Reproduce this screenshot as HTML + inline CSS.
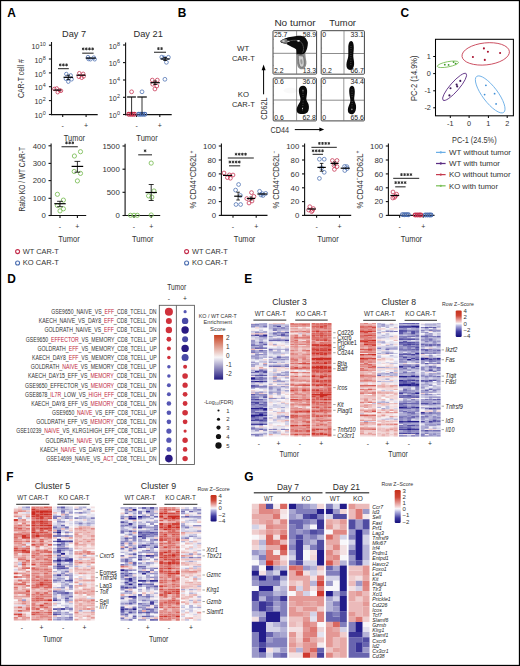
<!DOCTYPE html>
<html><head><meta charset="utf-8"><style>
html,body{margin:0;padding:0;background:#fff;}
svg{display:block;}
text{font-family:"Liberation Sans", sans-serif;}
</style></head><body>
<svg width="520" height="666" viewBox="0 0 520 666">
<rect width="520" height="666" fill="#fff"/>
<rect x="0.5" y="0.5" width="519" height="665" fill="none" stroke="#000" stroke-width="1.3"/>
<text x="7.20" y="16.60" font-size="11.90" fill="#000" font-weight="bold" >A</text>
<text x="177.80" y="16.90" font-size="11.90" fill="#000" font-weight="bold" >B</text>
<text x="400.60" y="16.60" font-size="11.90" fill="#000" font-weight="bold" >C</text>
<text x="7.20" y="282.60" font-size="11.90" fill="#000" font-weight="bold" >D</text>
<text x="244.30" y="283.00" font-size="11.90" fill="#000" font-weight="bold" >E</text>
<text x="6.30" y="481.20" font-size="11.90" fill="#000" font-weight="bold" >F</text>
<text x="244.30" y="481.00" font-size="11.90" fill="#000" font-weight="bold" >G</text>
<text x="74.00" y="36.70" font-size="8.90" fill="#2b2b2b" text-anchor="middle" textLength="24.00" lengthAdjust="spacingAndGlyphs" >Day 7</text>
<text x="148.20" y="36.70" font-size="8.90" fill="#2b2b2b" text-anchor="middle" textLength="29.40" lengthAdjust="spacingAndGlyphs" >Day 21</text>
<line x1="51.50" y1="42.00" x2="51.50" y2="115.15" stroke="#111" stroke-width="1.1"/>
<line x1="48.90" y1="45.20" x2="51.50" y2="45.20" stroke="#111" stroke-width="1.1"/>
<line x1="48.90" y1="59.00" x2="51.50" y2="59.00" stroke="#111" stroke-width="1.1"/>
<line x1="48.90" y1="72.90" x2="51.50" y2="72.90" stroke="#111" stroke-width="1.1"/>
<line x1="48.90" y1="86.70" x2="51.50" y2="86.70" stroke="#111" stroke-width="1.1"/>
<line x1="48.90" y1="100.60" x2="51.50" y2="100.60" stroke="#111" stroke-width="1.1"/>
<line x1="48.90" y1="114.50" x2="51.50" y2="114.50" stroke="#111" stroke-width="1.1"/>
<text x="39.60" y="48.80" font-size="7.30" fill="#333" text-anchor="end" textLength="8.00" lengthAdjust="spacingAndGlyphs" >10</text>
<text x="39.70" y="45.90" font-size="5.70" fill="#333" textLength="6.00" lengthAdjust="spacingAndGlyphs" >10</text>
<text x="42.60" y="62.60" font-size="7.30" fill="#333" text-anchor="end" textLength="8.00" lengthAdjust="spacingAndGlyphs" >10</text>
<text x="42.70" y="59.70" font-size="5.70" fill="#333" textLength="3.00" lengthAdjust="spacingAndGlyphs" >8</text>
<text x="42.60" y="76.50" font-size="7.30" fill="#333" text-anchor="end" textLength="8.00" lengthAdjust="spacingAndGlyphs" >10</text>
<text x="42.70" y="73.60" font-size="5.70" fill="#333" textLength="3.00" lengthAdjust="spacingAndGlyphs" >6</text>
<text x="42.60" y="90.30" font-size="7.30" fill="#333" text-anchor="end" textLength="8.00" lengthAdjust="spacingAndGlyphs" >10</text>
<text x="42.70" y="87.40" font-size="5.70" fill="#333" textLength="3.00" lengthAdjust="spacingAndGlyphs" >4</text>
<text x="42.60" y="104.20" font-size="7.30" fill="#333" text-anchor="end" textLength="8.00" lengthAdjust="spacingAndGlyphs" >10</text>
<text x="42.70" y="101.30" font-size="5.70" fill="#333" textLength="3.00" lengthAdjust="spacingAndGlyphs" >2</text>
<text x="42.60" y="118.10" font-size="7.30" fill="#333" text-anchor="end" textLength="8.00" lengthAdjust="spacingAndGlyphs" >10</text>
<text x="42.70" y="115.20" font-size="5.70" fill="#333" textLength="3.00" lengthAdjust="spacingAndGlyphs" >0</text>
<line x1="50.95" y1="114.60" x2="97.70" y2="114.60" stroke="#111" stroke-width="1.1"/>
<line x1="62.70" y1="114.60" x2="62.70" y2="117.00" stroke="#111" stroke-width="1.1"/>
<line x1="86.10" y1="114.60" x2="86.10" y2="117.00" stroke="#111" stroke-width="1.1"/>
<text x="62.70" y="127.60" font-size="7.00" fill="#333" text-anchor="middle" >-</text>
<text x="86.10" y="127.60" font-size="7.00" fill="#333" text-anchor="middle" >+</text>
<text x="24.30" y="78.60" font-size="9.00" fill="#333" text-anchor="middle" textLength="39.00" lengthAdjust="spacingAndGlyphs" transform="rotate(-90 24.30 78.60)" >CAR-T cell #</text>
<circle cx="54.30" cy="88.90" r="1.75" fill="none" stroke="#c42f4d" stroke-width="0.75"/>
<circle cx="56.70" cy="88.40" r="1.75" fill="none" stroke="#c42f4d" stroke-width="0.75"/>
<circle cx="57.70" cy="92.20" r="1.75" fill="none" stroke="#c42f4d" stroke-width="0.75"/>
<circle cx="59.60" cy="90.30" r="1.75" fill="none" stroke="#c42f4d" stroke-width="0.75"/>
<circle cx="61.00" cy="90.80" r="1.75" fill="none" stroke="#c42f4d" stroke-width="0.75"/>
<line x1="53.40" y1="90.10" x2="61.20" y2="90.10" stroke="#000" stroke-width="1.2"/>
<circle cx="66.30" cy="74.00" r="1.75" fill="none" stroke="#4a6db0" stroke-width="0.75"/>
<circle cx="70.70" cy="75.40" r="1.75" fill="none" stroke="#4a6db0" stroke-width="0.75"/>
<circle cx="65.90" cy="78.80" r="1.75" fill="none" stroke="#4a6db0" stroke-width="0.75"/>
<circle cx="71.60" cy="79.30" r="1.75" fill="none" stroke="#4a6db0" stroke-width="0.75"/>
<circle cx="68.30" cy="81.70" r="1.75" fill="none" stroke="#4a6db0" stroke-width="0.75"/>
<line x1="63.50" y1="77.30" x2="73.10" y2="77.30" stroke="#000" stroke-width="1.2"/>
<line x1="68.30" y1="75.20" x2="68.30" y2="79.60" stroke="#000" stroke-width="0.8"/>
<line x1="66.50" y1="75.20" x2="70.10" y2="75.20" stroke="#000" stroke-width="0.8"/>
<line x1="66.50" y1="79.60" x2="70.10" y2="79.60" stroke="#000" stroke-width="0.8"/>
<circle cx="79.30" cy="73.20" r="1.75" fill="none" stroke="#c42f4d" stroke-width="0.75"/>
<circle cx="83.20" cy="73.80" r="1.75" fill="none" stroke="#c42f4d" stroke-width="0.75"/>
<circle cx="78.80" cy="76.80" r="1.75" fill="none" stroke="#c42f4d" stroke-width="0.75"/>
<circle cx="81.70" cy="77.80" r="1.75" fill="none" stroke="#c42f4d" stroke-width="0.75"/>
<circle cx="83.70" cy="76.40" r="1.75" fill="none" stroke="#c42f4d" stroke-width="0.75"/>
<line x1="76.40" y1="75.20" x2="85.60" y2="75.20" stroke="#000" stroke-width="1.2"/>
<circle cx="88.00" cy="57.10" r="1.75" fill="none" stroke="#4a6db0" stroke-width="0.75"/>
<circle cx="90.40" cy="59.30" r="1.75" fill="none" stroke="#4a6db0" stroke-width="0.75"/>
<circle cx="93.80" cy="57.60" r="1.75" fill="none" stroke="#4a6db0" stroke-width="0.75"/>
<circle cx="94.70" cy="59.30" r="1.75" fill="none" stroke="#4a6db0" stroke-width="0.75"/>
<circle cx="88.50" cy="59.00" r="1.75" fill="none" stroke="#4a6db0" stroke-width="0.75"/>
<line x1="85.70" y1="58.10" x2="95.70" y2="58.10" stroke="#000" stroke-width="1.2"/>
<line x1="58.00" y1="68.60" x2="68.80" y2="68.60" stroke="#4a4a4a" stroke-width="1.25"/>
<path d="M60.25 63.50L60.25 66.30M59.04 64.20L61.46 65.60M59.04 65.60L61.46 64.20" stroke="#333" stroke-width="1.0" fill="none"/>
<path d="M63.40 63.50L63.40 66.30M62.19 64.20L64.61 65.60M62.19 65.60L64.61 64.20" stroke="#333" stroke-width="1.0" fill="none"/>
<path d="M66.55 63.50L66.55 66.30M65.34 64.20L67.76 65.60M65.34 65.60L67.76 64.20" stroke="#333" stroke-width="1.0" fill="none"/>
<line x1="82.20" y1="53.20" x2="93.60" y2="53.20" stroke="#4a4a4a" stroke-width="1.25"/>
<path d="M83.18 47.50L83.18 50.30M81.96 48.20L84.39 49.60M81.96 49.60L84.39 48.20" stroke="#333" stroke-width="1.0" fill="none"/>
<path d="M86.33 47.50L86.33 50.30M85.11 48.20L87.54 49.60M85.11 49.60L87.54 48.20" stroke="#333" stroke-width="1.0" fill="none"/>
<path d="M89.48 47.50L89.48 50.30M88.26 48.20L90.69 49.60M88.26 49.60L90.69 48.20" stroke="#333" stroke-width="1.0" fill="none"/>
<path d="M92.63 47.50L92.63 50.30M91.41 48.20L93.84 49.60M91.41 49.60L93.84 48.20" stroke="#333" stroke-width="1.0" fill="none"/>
<line x1="125.60" y1="42.40" x2="125.60" y2="115.15" stroke="#111" stroke-width="1.1"/>
<line x1="123.00" y1="45.00" x2="125.60" y2="45.00" stroke="#111" stroke-width="1.1"/>
<line x1="123.00" y1="62.60" x2="125.60" y2="62.60" stroke="#111" stroke-width="1.1"/>
<line x1="123.00" y1="80.00" x2="125.60" y2="80.00" stroke="#111" stroke-width="1.1"/>
<line x1="123.00" y1="97.30" x2="125.60" y2="97.30" stroke="#111" stroke-width="1.1"/>
<line x1="123.00" y1="114.50" x2="125.60" y2="114.50" stroke="#111" stroke-width="1.1"/>
<text x="116.80" y="48.60" font-size="7.30" fill="#333" text-anchor="end" textLength="8.00" lengthAdjust="spacingAndGlyphs" >10</text>
<text x="116.90" y="45.70" font-size="5.70" fill="#333" textLength="3.00" lengthAdjust="spacingAndGlyphs" >8</text>
<text x="116.80" y="66.20" font-size="7.30" fill="#333" text-anchor="end" textLength="8.00" lengthAdjust="spacingAndGlyphs" >10</text>
<text x="116.90" y="63.30" font-size="5.70" fill="#333" textLength="3.00" lengthAdjust="spacingAndGlyphs" >6</text>
<text x="116.80" y="83.60" font-size="7.30" fill="#333" text-anchor="end" textLength="8.00" lengthAdjust="spacingAndGlyphs" >10</text>
<text x="116.90" y="80.70" font-size="5.70" fill="#333" textLength="3.00" lengthAdjust="spacingAndGlyphs" >4</text>
<text x="116.80" y="100.90" font-size="7.30" fill="#333" text-anchor="end" textLength="8.00" lengthAdjust="spacingAndGlyphs" >10</text>
<text x="116.90" y="98.00" font-size="5.70" fill="#333" textLength="3.00" lengthAdjust="spacingAndGlyphs" >2</text>
<text x="116.80" y="118.10" font-size="7.30" fill="#333" text-anchor="end" textLength="8.00" lengthAdjust="spacingAndGlyphs" >10</text>
<text x="116.90" y="115.20" font-size="5.70" fill="#333" textLength="3.00" lengthAdjust="spacingAndGlyphs" >0</text>
<line x1="125.05" y1="114.60" x2="171.70" y2="114.60" stroke="#111" stroke-width="1.1"/>
<line x1="136.60" y1="114.60" x2="136.60" y2="117.00" stroke="#111" stroke-width="1.1"/>
<line x1="159.80" y1="114.60" x2="159.80" y2="117.00" stroke="#111" stroke-width="1.1"/>
<text x="136.60" y="127.60" font-size="7.00" fill="#333" text-anchor="middle" >-</text>
<text x="159.80" y="127.60" font-size="7.00" fill="#333" text-anchor="middle" >+</text>
<circle cx="131.60" cy="91.80" r="1.90" fill="none" stroke="#c42f4d" stroke-width="0.75"/>
<circle cx="128.80" cy="114.30" r="1.90" fill="none" stroke="#c42f4d" stroke-width="1.1"/>
<circle cx="130.80" cy="114.30" r="1.90" fill="none" stroke="#c42f4d" stroke-width="1.1"/>
<circle cx="132.60" cy="114.30" r="1.90" fill="none" stroke="#c42f4d" stroke-width="1.1"/>
<circle cx="134.40" cy="114.30" r="1.90" fill="none" stroke="#c42f4d" stroke-width="1.1"/>
<line x1="131.60" y1="97.00" x2="131.60" y2="114.30" stroke="#000" stroke-width="0.8"/>
<line x1="127.10" y1="97.00" x2="135.90" y2="97.00" stroke="#000" stroke-width="1.2"/>
<circle cx="142.00" cy="91.80" r="1.90" fill="none" stroke="#4a6db0" stroke-width="0.75"/>
<circle cx="138.80" cy="114.30" r="1.90" fill="none" stroke="#4a6db0" stroke-width="1.1"/>
<circle cx="140.80" cy="114.30" r="1.90" fill="none" stroke="#4a6db0" stroke-width="1.1"/>
<circle cx="142.80" cy="114.30" r="1.90" fill="none" stroke="#4a6db0" stroke-width="1.1"/>
<circle cx="144.80" cy="114.30" r="1.90" fill="none" stroke="#4a6db0" stroke-width="1.1"/>
<line x1="142.00" y1="97.00" x2="142.00" y2="114.30" stroke="#000" stroke-width="0.8"/>
<line x1="137.30" y1="97.00" x2="146.80" y2="97.00" stroke="#000" stroke-width="1.2"/>
<circle cx="152.30" cy="80.10" r="1.90" fill="none" stroke="#c42f4d" stroke-width="0.75"/>
<circle cx="157.30" cy="80.10" r="1.90" fill="none" stroke="#c42f4d" stroke-width="0.75"/>
<circle cx="152.70" cy="84.20" r="1.90" fill="none" stroke="#c42f4d" stroke-width="0.75"/>
<circle cx="156.80" cy="86.00" r="1.90" fill="none" stroke="#c42f4d" stroke-width="0.75"/>
<circle cx="154.90" cy="89.00" r="1.90" fill="none" stroke="#c42f4d" stroke-width="0.75"/>
<line x1="150.40" y1="82.70" x2="159.80" y2="82.70" stroke="#000" stroke-width="1.2"/>
<line x1="155.10" y1="81.00" x2="155.10" y2="84.50" stroke="#000" stroke-width="0.8"/>
<line x1="153.30" y1="81.00" x2="156.90" y2="81.00" stroke="#000" stroke-width="0.8"/>
<line x1="153.30" y1="84.50" x2="156.90" y2="84.50" stroke="#000" stroke-width="0.8"/>
<circle cx="161.80" cy="57.10" r="1.90" fill="none" stroke="#4a6db0" stroke-width="0.75"/>
<circle cx="168.40" cy="57.30" r="1.90" fill="none" stroke="#4a6db0" stroke-width="0.75"/>
<circle cx="166.40" cy="62.30" r="1.90" fill="none" stroke="#4a6db0" stroke-width="0.75"/>
<circle cx="164.90" cy="79.30" r="1.90" fill="none" stroke="#4a6db0" stroke-width="0.75"/>
<circle cx="164.00" cy="57.90" r="1.90" fill="none" stroke="#4a6db0" stroke-width="0.75"/>
<line x1="160.60" y1="59.00" x2="169.60" y2="59.00" stroke="#000" stroke-width="1.2"/>
<line x1="165.10" y1="57.50" x2="165.10" y2="60.50" stroke="#000" stroke-width="0.8"/>
<line x1="163.30" y1="57.50" x2="166.90" y2="57.50" stroke="#000" stroke-width="0.8"/>
<line x1="163.30" y1="60.50" x2="166.90" y2="60.50" stroke="#000" stroke-width="0.8"/>
<line x1="154.00" y1="52.30" x2="166.00" y2="52.30" stroke="#4a4a4a" stroke-width="1.25"/>
<path d="M158.43 47.20L158.43 50.00M157.21 47.90L159.64 49.30M157.21 49.30L159.64 47.90" stroke="#333" stroke-width="1.0" fill="none"/>
<path d="M161.58 47.20L161.58 50.00M160.36 47.90L162.79 49.30M160.36 49.30L162.79 47.90" stroke="#333" stroke-width="1.0" fill="none"/>
<text x="74.40" y="140.80" font-size="9.70" fill="#333" text-anchor="middle" textLength="21.30" lengthAdjust="spacingAndGlyphs" >Tumor</text>
<text x="147.00" y="140.80" font-size="9.70" fill="#333" text-anchor="middle" textLength="21.30" lengthAdjust="spacingAndGlyphs" >Tumor</text>
<line x1="51.10" y1="143.40" x2="51.10" y2="216.05" stroke="#111" stroke-width="1.1"/>
<line x1="48.50" y1="145.80" x2="51.10" y2="145.80" stroke="#111" stroke-width="1.1"/>
<text x="45.80" y="148.60" font-size="7.80" fill="#333" text-anchor="end" >400</text>
<line x1="48.50" y1="163.40" x2="51.10" y2="163.40" stroke="#111" stroke-width="1.1"/>
<text x="45.80" y="166.20" font-size="7.80" fill="#333" text-anchor="end" >300</text>
<line x1="48.50" y1="180.60" x2="51.10" y2="180.60" stroke="#111" stroke-width="1.1"/>
<text x="45.80" y="183.40" font-size="7.80" fill="#333" text-anchor="end" >200</text>
<line x1="48.50" y1="198.30" x2="51.10" y2="198.30" stroke="#111" stroke-width="1.1"/>
<text x="45.80" y="201.10" font-size="7.80" fill="#333" text-anchor="end" >100</text>
<line x1="48.50" y1="215.50" x2="51.10" y2="215.50" stroke="#111" stroke-width="1.1"/>
<text x="45.80" y="218.30" font-size="7.80" fill="#333" text-anchor="end" >0</text>
<line x1="50.55" y1="215.50" x2="86.20" y2="215.50" stroke="#111" stroke-width="1.1"/>
<line x1="60.00" y1="215.50" x2="60.00" y2="217.90" stroke="#111" stroke-width="1.1"/>
<line x1="77.40" y1="215.50" x2="77.40" y2="217.90" stroke="#111" stroke-width="1.1"/>
<text x="60.00" y="228.60" font-size="7.00" fill="#333" text-anchor="middle" >-</text>
<text x="77.40" y="228.60" font-size="7.00" fill="#333" text-anchor="middle" >+</text>
<text x="25.00" y="179.20" font-size="8.60" fill="#333" text-anchor="middle" textLength="64.60" lengthAdjust="spacingAndGlyphs" transform="rotate(-90 25.00 179.20)" >Ratio KO / WT CAR-T</text>
<circle cx="57.40" cy="194.30" r="2.10" fill="none" stroke="#7abd55" stroke-width="0.85"/>
<circle cx="63.40" cy="200.10" r="2.10" fill="none" stroke="#7abd55" stroke-width="0.85"/>
<circle cx="57.40" cy="205.50" r="2.10" fill="none" stroke="#7abd55" stroke-width="0.85"/>
<circle cx="63.40" cy="208.80" r="2.10" fill="none" stroke="#7abd55" stroke-width="0.85"/>
<circle cx="60.00" cy="210.90" r="2.10" fill="none" stroke="#7abd55" stroke-width="0.85"/>
<line x1="54.30" y1="203.70" x2="65.70" y2="203.70" stroke="#000" stroke-width="1.2"/>
<line x1="60.00" y1="201.30" x2="60.00" y2="206.70" stroke="#000" stroke-width="0.8"/>
<line x1="57.10" y1="201.30" x2="62.90" y2="201.30" stroke="#000" stroke-width="0.8"/>
<line x1="57.10" y1="206.70" x2="62.90" y2="206.70" stroke="#000" stroke-width="0.8"/>
<circle cx="80.50" cy="151.70" r="2.10" fill="none" stroke="#7abd55" stroke-width="0.85"/>
<circle cx="74.40" cy="156.00" r="2.10" fill="none" stroke="#7abd55" stroke-width="0.85"/>
<circle cx="74.20" cy="171.50" r="2.10" fill="none" stroke="#7abd55" stroke-width="0.85"/>
<circle cx="80.50" cy="173.40" r="2.10" fill="none" stroke="#7abd55" stroke-width="0.85"/>
<circle cx="77.40" cy="180.90" r="2.10" fill="none" stroke="#7abd55" stroke-width="0.85"/>
<line x1="71.60" y1="166.40" x2="83.20" y2="166.40" stroke="#000" stroke-width="1.2"/>
<line x1="77.40" y1="161.40" x2="77.40" y2="172.20" stroke="#000" stroke-width="0.8"/>
<line x1="74.50" y1="161.40" x2="80.30" y2="161.40" stroke="#000" stroke-width="0.8"/>
<line x1="74.50" y1="172.20" x2="80.30" y2="172.20" stroke="#000" stroke-width="0.8"/>
<line x1="61.50" y1="146.70" x2="77.80" y2="146.70" stroke="#4a4a4a" stroke-width="1.25"/>
<path d="M66.50 141.40L66.50 144.20M65.29 142.10L67.71 143.50M65.29 143.50L67.71 142.10" stroke="#333" stroke-width="1.0" fill="none"/>
<path d="M69.65 141.40L69.65 144.20M68.44 142.10L70.86 143.50M68.44 143.50L70.86 142.10" stroke="#333" stroke-width="1.0" fill="none"/>
<path d="M72.80 141.40L72.80 144.20M71.59 142.10L74.01 143.50M71.59 143.50L74.01 142.10" stroke="#333" stroke-width="1.0" fill="none"/>
<line x1="125.10" y1="143.80" x2="125.10" y2="216.05" stroke="#111" stroke-width="1.1"/>
<line x1="122.50" y1="146.00" x2="125.10" y2="146.00" stroke="#111" stroke-width="1.1"/>
<text x="119.80" y="148.80" font-size="7.80" fill="#333" text-anchor="end" >1500</text>
<line x1="122.50" y1="169.20" x2="125.10" y2="169.20" stroke="#111" stroke-width="1.1"/>
<text x="119.80" y="172.00" font-size="7.80" fill="#333" text-anchor="end" >1000</text>
<line x1="122.50" y1="192.30" x2="125.10" y2="192.30" stroke="#111" stroke-width="1.1"/>
<text x="119.80" y="195.10" font-size="7.80" fill="#333" text-anchor="end" >500</text>
<line x1="122.50" y1="215.50" x2="125.10" y2="215.50" stroke="#111" stroke-width="1.1"/>
<text x="119.80" y="218.30" font-size="7.80" fill="#333" text-anchor="end" >0</text>
<line x1="124.55" y1="215.50" x2="160.20" y2="215.50" stroke="#111" stroke-width="1.1"/>
<line x1="134.00" y1="215.50" x2="134.00" y2="217.90" stroke="#111" stroke-width="1.1"/>
<line x1="151.20" y1="215.50" x2="151.20" y2="217.90" stroke="#111" stroke-width="1.1"/>
<text x="134.00" y="228.60" font-size="7.00" fill="#333" text-anchor="middle" >-</text>
<text x="151.20" y="228.60" font-size="7.00" fill="#333" text-anchor="middle" >+</text>
<circle cx="130.50" cy="215.30" r="2.10" fill="none" stroke="#7abd55" stroke-width="0.85"/>
<circle cx="134.00" cy="215.30" r="2.10" fill="none" stroke="#7abd55" stroke-width="0.85"/>
<circle cx="137.30" cy="215.30" r="2.10" fill="none" stroke="#7abd55" stroke-width="0.85"/>
<circle cx="151.20" cy="163.10" r="2.10" fill="none" stroke="#7abd55" stroke-width="0.85"/>
<circle cx="154.00" cy="191.00" r="2.10" fill="none" stroke="#7abd55" stroke-width="0.85"/>
<circle cx="148.60" cy="195.90" r="2.10" fill="none" stroke="#7abd55" stroke-width="0.85"/>
<circle cx="151.80" cy="197.10" r="2.10" fill="none" stroke="#7abd55" stroke-width="0.85"/>
<circle cx="151.20" cy="215.00" r="2.10" fill="none" stroke="#7abd55" stroke-width="0.85"/>
<line x1="145.50" y1="192.50" x2="156.90" y2="192.50" stroke="#000" stroke-width="1.2"/>
<line x1="151.20" y1="184.50" x2="151.20" y2="200.50" stroke="#000" stroke-width="0.8"/>
<line x1="148.70" y1="184.50" x2="153.70" y2="184.50" stroke="#000" stroke-width="0.8"/>
<line x1="148.70" y1="200.50" x2="153.70" y2="200.50" stroke="#000" stroke-width="0.8"/>
<line x1="138.20" y1="154.80" x2="152.00" y2="154.80" stroke="#4a4a4a" stroke-width="1.25"/>
<path d="M145.10 149.40L145.10 152.20M143.89 150.10L146.31 151.50M143.89 151.50L146.31 150.10" stroke="#333" stroke-width="1.0" fill="none"/>
<text x="69.00" y="241.60" font-size="9.70" fill="#333" text-anchor="middle" textLength="21.50" lengthAdjust="spacingAndGlyphs" >Tumor</text>
<text x="142.80" y="241.60" font-size="9.70" fill="#333" text-anchor="middle" textLength="21.50" lengthAdjust="spacingAndGlyphs" >Tumor</text>
<circle cx="17.60" cy="251.60" r="2.00" fill="none" stroke="#c42f4d" stroke-width="1.1"/>
<text x="22.80" y="253.90" font-size="7.60" fill="#333" textLength="36.00" lengthAdjust="spacingAndGlyphs" >WT CAR-T</text>
<circle cx="17.60" cy="263.00" r="2.00" fill="none" stroke="#4a6db0" stroke-width="1.1"/>
<text x="22.80" y="265.10" font-size="7.60" fill="#333" textLength="36.00" lengthAdjust="spacingAndGlyphs" >KO CAR-T</text>
<text x="295.00" y="25.60" font-size="8.80" fill="#2b2b2b" text-anchor="middle" textLength="41.20" lengthAdjust="spacingAndGlyphs" >No tumor</text>
<text x="342.60" y="25.60" font-size="8.80" fill="#2b2b2b" text-anchor="middle" textLength="26.80" lengthAdjust="spacingAndGlyphs" >Tumor</text>
<text x="243.20" y="51.00" font-size="7.40" fill="#2b2b2b" text-anchor="middle" textLength="12.20" lengthAdjust="spacingAndGlyphs" >WT</text>
<text x="243.40" y="61.00" font-size="8.00" fill="#2b2b2b" text-anchor="middle" textLength="23.00" lengthAdjust="spacingAndGlyphs" >CAR-T</text>
<text x="243.40" y="97.10" font-size="7.40" fill="#2b2b2b" text-anchor="middle" textLength="11.20" lengthAdjust="spacingAndGlyphs" >KO</text>
<text x="243.40" y="107.10" font-size="8.00" fill="#2b2b2b" text-anchor="middle" textLength="23.00" lengthAdjust="spacingAndGlyphs" >CAR-T</text>
<line x1="263.60" y1="69.00" x2="263.60" y2="94.30" stroke="#000" stroke-width="1.0"/>
<path d="M263.6,64.6 L261.6,70.3 L265.6,70.3 Z" fill="#000"/>
<text x="267.00" y="108.60" font-size="9.40" fill="#333" text-anchor="middle" textLength="22.40" lengthAdjust="spacingAndGlyphs" transform="rotate(-90 267.00 108.60)" >CD62L</text>
<text x="270.40" y="132.60" font-size="9.40" fill="#333" textLength="18.60" lengthAdjust="spacingAndGlyphs" >CD44</text>
<line x1="294.80" y1="129.60" x2="320.50" y2="129.60" stroke="#000" stroke-width="1.0"/>
<path d="M324.2,129.6 L319.4,127.6 L319.4,131.6 Z" fill="#000"/>
<rect x="273.00" y="30.70" width="43.60" height="43.40" fill="#fff" stroke="#444" stroke-width="1.0" rx="0.8"/>
<line x1="296.60" y1="30.70" x2="296.60" y2="74.10" stroke="#777" stroke-width="0.75"/>
<line x1="273.00" y1="53.30" x2="316.60" y2="53.30" stroke="#666" stroke-width="0.75"/>
<line x1="273.00" y1="39.38" x2="273.90" y2="39.38" stroke="#666" stroke-width="0.5"/>
<line x1="273.00" y1="48.06" x2="273.90" y2="48.06" stroke="#666" stroke-width="0.5"/>
<line x1="273.00" y1="56.74" x2="273.90" y2="56.74" stroke="#666" stroke-width="0.5"/>
<line x1="273.00" y1="65.42" x2="273.90" y2="65.42" stroke="#666" stroke-width="0.5"/>
<text x="274.00" y="36.80" font-size="6.90" fill="#222" >25.7</text>
<text x="316.10" y="36.80" font-size="6.90" fill="#222" text-anchor="end" >58.9</text>
<text x="274.00" y="72.80" font-size="6.90" fill="#222" >2.2</text>
<text x="316.10" y="72.80" font-size="6.90" fill="#222" text-anchor="end" >13.3</text>
<rect x="321.20" y="30.70" width="43.20" height="43.50" fill="#fff" stroke="#444" stroke-width="1.0" rx="0.8"/>
<line x1="344.00" y1="30.70" x2="344.00" y2="74.20" stroke="#777" stroke-width="0.75"/>
<line x1="321.20" y1="53.50" x2="364.40" y2="53.50" stroke="#666" stroke-width="0.75"/>
<line x1="321.20" y1="39.40" x2="322.10" y2="39.40" stroke="#666" stroke-width="0.5"/>
<line x1="321.20" y1="48.10" x2="322.10" y2="48.10" stroke="#666" stroke-width="0.5"/>
<line x1="321.20" y1="56.80" x2="322.10" y2="56.80" stroke="#666" stroke-width="0.5"/>
<line x1="321.20" y1="65.50" x2="322.10" y2="65.50" stroke="#666" stroke-width="0.5"/>
<text x="322.20" y="36.80" font-size="6.90" fill="#222" >0</text>
<text x="363.90" y="36.80" font-size="6.90" fill="#222" text-anchor="end" >33.1</text>
<text x="322.20" y="72.90" font-size="6.90" fill="#222" >0.2</text>
<text x="363.90" y="72.90" font-size="6.90" fill="#222" text-anchor="end" >66.7</text>
<rect x="273.20" y="78.00" width="43.20" height="42.90" fill="#fff" stroke="#444" stroke-width="1.0" rx="0.8"/>
<line x1="296.60" y1="78.00" x2="296.60" y2="120.90" stroke="#777" stroke-width="0.75"/>
<line x1="273.20" y1="100.00" x2="316.40" y2="100.00" stroke="#666" stroke-width="0.75"/>
<line x1="273.20" y1="86.58" x2="274.10" y2="86.58" stroke="#666" stroke-width="0.5"/>
<line x1="273.20" y1="95.16" x2="274.10" y2="95.16" stroke="#666" stroke-width="0.5"/>
<line x1="273.20" y1="103.74" x2="274.10" y2="103.74" stroke="#666" stroke-width="0.5"/>
<line x1="273.20" y1="112.32" x2="274.10" y2="112.32" stroke="#666" stroke-width="0.5"/>
<text x="274.20" y="84.10" font-size="6.90" fill="#222" >0.6</text>
<text x="315.90" y="84.10" font-size="6.90" fill="#222" text-anchor="end" >36.0</text>
<text x="274.20" y="119.60" font-size="6.90" fill="#222" >0.6</text>
<text x="315.90" y="119.60" font-size="6.90" fill="#222" text-anchor="end" >62.8</text>
<rect x="321.20" y="78.00" width="43.20" height="42.90" fill="#fff" stroke="#444" stroke-width="1.0" rx="0.8"/>
<line x1="343.80" y1="78.00" x2="343.80" y2="120.90" stroke="#777" stroke-width="0.75"/>
<line x1="321.20" y1="100.20" x2="364.40" y2="100.20" stroke="#666" stroke-width="0.75"/>
<line x1="321.20" y1="86.58" x2="322.10" y2="86.58" stroke="#666" stroke-width="0.5"/>
<line x1="321.20" y1="95.16" x2="322.10" y2="95.16" stroke="#666" stroke-width="0.5"/>
<line x1="321.20" y1="103.74" x2="322.10" y2="103.74" stroke="#666" stroke-width="0.5"/>
<line x1="321.20" y1="112.32" x2="322.10" y2="112.32" stroke="#666" stroke-width="0.5"/>
<text x="322.20" y="84.10" font-size="6.90" fill="#222" >0</text>
<text x="363.90" y="84.10" font-size="6.90" fill="#222" text-anchor="end" >34.4</text>
<text x="322.20" y="119.60" font-size="6.90" fill="#222" >0</text>
<text x="363.90" y="119.60" font-size="6.90" fill="#222" text-anchor="end" >65.6</text>
<path d="M296.4,53.8 C296.6,57.5 296.6,62.5 297.6,66.2 C298.6,69.3 302.6,70.4 304.6,68.2 C306.8,65.6 306.7,61.8 306.0,59.5 C305.4,57 305.6,54.5 305.1,52.6 Z" fill="#8c8c8c"/>
<path d="M298.2,55.5 C298.4,59.5 298.6,63.6 299.8,66.0 C300.8,67.8 303.4,67.6 304.0,65.2 C304.6,62.7 303.9,59.5 303.5,56.2 Z" fill="#cfcfcf" stroke="#5e5e5e" stroke-width="0.7"/>
<path d="M300.3,59.5 C300.1,62.3 301.0,64.6 301.9,64.4 C302.8,64.0 302.6,61.4 302.0,59.2 Z" fill="#9a9a9a"/>
<path d="M280.2,41.0 C283,38.9 285,38.2 286.4,37.9 C289,37.1 291,36.7 293.3,36.5 C296,36.1 298,35.7 298.9,35.8 C301.5,35.9 302.8,36.2 303.7,36.5 C305.3,37.3 306.0,38.5 306.5,39.6 C307.4,41.3 307.9,42.3 307.9,43.1 C307.9,45 307.6,46.5 307.2,47.9 C306.6,50 305.8,51.8 305.1,52.8 C304,54.2 302,54.6 300.4,54.4 C298.8,54.3 297.2,54.1 296.4,54.2 C296.6,52.0 296.5,50.3 296.1,49.3 C294.8,48.2 293.4,47.5 291.9,46.9 C290,46 288.2,45.0 286.4,44.1 C284.8,43.6 283.4,43.4 282.2,43.1 C281,42.7 280.4,41.8 280.2,41.0 Z" fill="#0d0d0d"/>
<path d="M280.4,41.0 C281.8,39.4 284.2,38.8 286.6,38.9 C288.2,40.2 288.0,42.8 286.6,43.9 C284.6,43.6 281.8,42.8 280.4,41.0 Z" fill="#7a7a7a"/>
<ellipse cx="283.6" cy="41.1" rx="1.9" ry="1.0" fill="#e4e4e4" stroke="#666" stroke-width="0.5"/>
<path d="M288.2,41.3 C291.5,40.2 295,40.0 298,40.5 C300.8,41.1 302.6,43.2 303.4,46.8 C303.8,49.2 303.4,51.2 302.4,52.6" fill="none" stroke="#4a4a4a" stroke-width="1.0"/>
<ellipse cx="298.5" cy="40.8" rx="1.4" ry="0.9" fill="#f2f2f2"/>
<ellipse cx="288.4" cy="41.4" rx="1.2" ry="0.7" fill="#c8c8c8"/>
<path d="M351.2,41.1 C353.2,41.2 353.9,44.5 353.8,48 C353.7,51.5 353.2,54 353.3,56.5 C353.5,59 354.3,61.5 354.1,64.5 C353.9,68 352.0,70.1 350.0,70.0 C347.8,69.9 346.3,68 346.4,64.8 C346.5,61.5 347.9,59 348.2,56.5 C348.5,54 348.2,51 348.3,47.5 C348.4,44 349.3,41.1 351.2,41.1 Z" fill="#0a0a0a"/>
<path d="M351.0,46 L350.8,66" stroke="#aaa" stroke-width="0.5" stroke-dasharray="0.7,1.6"/>
<ellipse cx="290.5" cy="90.5" rx="7" ry="3" fill="#000" opacity="0.025"/>
<path d="M303.0,85.8 C305.4,85.8 306.9,87.5 307.1,90.5 C307.3,93.5 306.5,96.5 306.3,99.0 C306.4,100.8 307.6,102.3 308.5,104.2 C309.3,106.5 309.1,110 307.6,112.2 C306,114 302,114.2 299.4,113.8 C297.3,113.3 296.5,111.5 296.7,109 C297,106.5 298.6,104.3 299.8,102.2 C300.7,100.5 300.6,98.8 300.1,97.0 C299.3,94.5 298.7,92 298.9,89.6 C299.2,87.3 300.8,85.8 303.0,85.8 Z" fill="#0a0a0a"/>
<path d="M302.9,89.5 L303.1,97.5 M303.2,100.5 L302.5,110.5" stroke="#aaa" stroke-width="0.5" stroke-dasharray="0.7,1.6"/>
<circle cx="303.0" cy="90.8" r="0.55" fill="#ddd"/><circle cx="302.5" cy="108.6" r="0.55" fill="#ddd"/>
<path d="M352.0,85.7 C353.8,85.8 354.8,88 354.8,91.5 C354.8,95 354.1,97.5 354.2,99.4 C354.4,101.3 355.6,103 356.0,105.5 C356.4,109 355.6,112.5 353.2,113.9 C351.0,114.6 348.6,113.8 348.0,111.5 C347.5,109.2 348.4,106.5 349.5,104.0 C350.4,102 350.4,100.6 350.3,99.4 C350.0,97 349.2,94 349.2,91.0 C349.2,87.8 350.2,85.7 352.0,85.7 Z" fill="#0a0a0a"/>
<path d="M352.0,89.5 L352.1,97.5 M352.2,101 L351.8,110.5" stroke="#aaa" stroke-width="0.5" stroke-dasharray="0.7,1.6"/>
<circle cx="351.9" cy="109.4" r="0.55" fill="#ddd"/>
<line x1="221.40" y1="143.40" x2="221.40" y2="215.95" stroke="#111" stroke-width="1.1"/>
<line x1="218.80" y1="146.00" x2="221.40" y2="146.00" stroke="#111" stroke-width="1.1"/>
<text x="216.10" y="148.80" font-size="7.80" fill="#333" text-anchor="end" >100</text>
<line x1="218.80" y1="160.00" x2="221.40" y2="160.00" stroke="#111" stroke-width="1.1"/>
<text x="216.10" y="162.80" font-size="7.80" fill="#333" text-anchor="end" >80</text>
<line x1="218.80" y1="173.90" x2="221.40" y2="173.90" stroke="#111" stroke-width="1.1"/>
<text x="216.10" y="176.70" font-size="7.80" fill="#333" text-anchor="end" >60</text>
<line x1="218.80" y1="187.80" x2="221.40" y2="187.80" stroke="#111" stroke-width="1.1"/>
<text x="216.10" y="190.60" font-size="7.80" fill="#333" text-anchor="end" >40</text>
<line x1="218.80" y1="201.60" x2="221.40" y2="201.60" stroke="#111" stroke-width="1.1"/>
<text x="216.10" y="204.40" font-size="7.80" fill="#333" text-anchor="end" >20</text>
<line x1="218.80" y1="215.40" x2="221.40" y2="215.40" stroke="#111" stroke-width="1.1"/>
<text x="216.10" y="218.20" font-size="7.80" fill="#333" text-anchor="end" >0</text>
<line x1="220.85" y1="215.40" x2="267.50" y2="215.40" stroke="#111" stroke-width="1.1"/>
<line x1="233.00" y1="215.40" x2="233.00" y2="217.80" stroke="#111" stroke-width="1.1"/>
<line x1="256.20" y1="215.40" x2="256.20" y2="217.80" stroke="#111" stroke-width="1.1"/>
<text x="233.00" y="228.60" font-size="7.00" fill="#333" text-anchor="middle" >-</text>
<text x="256.20" y="228.60" font-size="7.00" fill="#333" text-anchor="middle" >+</text>
<text x="244.60" y="241.60" font-size="9.70" fill="#333" text-anchor="middle" textLength="21.50" lengthAdjust="spacingAndGlyphs" >Tumor</text>
<text x="196.40" y="179.6" font-size="9.2" fill="#333" text-anchor="middle" transform="rotate(-90 196.40 179.6)" textLength="58" lengthAdjust="spacingAndGlyphs">% CD44<tspan dy="-3.2" font-size="6.0">+</tspan><tspan dy="3.2">CD62L</tspan><tspan dy="-3.2" font-size="6.0">+</tspan></text>
<circle cx="224.00" cy="173.00" r="1.90" fill="none" stroke="#c42f4d" stroke-width="0.75"/>
<circle cx="229.40" cy="174.90" r="1.90" fill="none" stroke="#c42f4d" stroke-width="0.75"/>
<circle cx="233.00" cy="175.00" r="1.90" fill="none" stroke="#c42f4d" stroke-width="0.75"/>
<circle cx="227.40" cy="177.60" r="1.90" fill="none" stroke="#c42f4d" stroke-width="0.75"/>
<circle cx="230.40" cy="178.20" r="1.90" fill="none" stroke="#c42f4d" stroke-width="0.75"/>
<line x1="223.00" y1="175.40" x2="232.20" y2="175.40" stroke="#000" stroke-width="1.2"/>
<circle cx="238.60" cy="184.50" r="1.90" fill="none" stroke="#4a6db0" stroke-width="0.75"/>
<circle cx="235.60" cy="190.10" r="1.90" fill="none" stroke="#4a6db0" stroke-width="0.75"/>
<circle cx="240.40" cy="195.50" r="1.90" fill="none" stroke="#4a6db0" stroke-width="0.75"/>
<circle cx="236.00" cy="204.50" r="1.90" fill="none" stroke="#4a6db0" stroke-width="0.75"/>
<circle cx="240.60" cy="204.50" r="1.90" fill="none" stroke="#4a6db0" stroke-width="0.75"/>
<line x1="234.20" y1="196.20" x2="242.00" y2="196.20" stroke="#000" stroke-width="1.2"/>
<line x1="238.10" y1="192.20" x2="238.10" y2="200.00" stroke="#000" stroke-width="0.8"/>
<line x1="236.30" y1="192.20" x2="239.90" y2="192.20" stroke="#000" stroke-width="0.8"/>
<line x1="236.30" y1="200.00" x2="239.90" y2="200.00" stroke="#000" stroke-width="0.8"/>
<circle cx="251.50" cy="192.60" r="1.90" fill="none" stroke="#c42f4d" stroke-width="0.75"/>
<circle cx="253.90" cy="196.40" r="1.90" fill="none" stroke="#c42f4d" stroke-width="0.75"/>
<circle cx="246.80" cy="198.60" r="1.90" fill="none" stroke="#c42f4d" stroke-width="0.75"/>
<circle cx="252.00" cy="201.00" r="1.90" fill="none" stroke="#c42f4d" stroke-width="0.75"/>
<circle cx="249.00" cy="203.00" r="1.90" fill="none" stroke="#c42f4d" stroke-width="0.75"/>
<line x1="246.80" y1="198.50" x2="255.20" y2="198.50" stroke="#000" stroke-width="1.2"/>
<line x1="251.00" y1="197.00" x2="251.00" y2="200.00" stroke="#000" stroke-width="0.8"/>
<line x1="249.50" y1="197.00" x2="252.50" y2="197.00" stroke="#000" stroke-width="0.8"/>
<line x1="249.50" y1="200.00" x2="252.50" y2="200.00" stroke="#000" stroke-width="0.8"/>
<circle cx="259.60" cy="191.30" r="1.90" fill="none" stroke="#4a6db0" stroke-width="0.75"/>
<circle cx="262.40" cy="193.70" r="1.90" fill="none" stroke="#4a6db0" stroke-width="0.75"/>
<circle cx="265.70" cy="193.40" r="1.90" fill="none" stroke="#4a6db0" stroke-width="0.75"/>
<circle cx="263.00" cy="195.50" r="1.90" fill="none" stroke="#4a6db0" stroke-width="0.75"/>
<circle cx="261.00" cy="195.00" r="1.90" fill="none" stroke="#4a6db0" stroke-width="0.75"/>
<line x1="257.40" y1="194.00" x2="267.20" y2="194.00" stroke="#000" stroke-width="1.2"/>
<line x1="227.80" y1="158.00" x2="253.80" y2="158.00" stroke="#4a4a4a" stroke-width="1.25"/>
<path d="M236.08 152.80L236.08 155.60M234.86 153.50L237.29 154.90M234.86 154.90L237.29 153.50" stroke="#333" stroke-width="1.0" fill="none"/>
<path d="M239.23 152.80L239.23 155.60M238.01 153.50L240.44 154.90M238.01 154.90L240.44 153.50" stroke="#333" stroke-width="1.0" fill="none"/>
<path d="M242.38 152.80L242.38 155.60M241.16 153.50L243.59 154.90M241.16 154.90L243.59 153.50" stroke="#333" stroke-width="1.0" fill="none"/>
<path d="M245.53 152.80L245.53 155.60M244.31 153.50L246.74 154.90M244.31 154.90L246.74 153.50" stroke="#333" stroke-width="1.0" fill="none"/>
<line x1="229.00" y1="165.80" x2="240.20" y2="165.80" stroke="#4a4a4a" stroke-width="1.25"/>
<path d="M229.88 160.60L229.88 163.40M228.66 161.30L231.09 162.70M228.66 162.70L231.09 161.30" stroke="#333" stroke-width="1.0" fill="none"/>
<path d="M233.03 160.60L233.03 163.40M231.81 161.30L234.24 162.70M231.81 162.70L234.24 161.30" stroke="#333" stroke-width="1.0" fill="none"/>
<path d="M236.18 160.60L236.18 163.40M234.96 161.30L237.39 162.70M234.96 162.70L237.39 161.30" stroke="#333" stroke-width="1.0" fill="none"/>
<path d="M239.32 160.60L239.32 163.40M238.11 161.30L240.54 162.70M238.11 162.70L240.54 161.30" stroke="#333" stroke-width="1.0" fill="none"/>
<line x1="304.60" y1="143.40" x2="304.60" y2="215.95" stroke="#111" stroke-width="1.1"/>
<line x1="302.00" y1="146.00" x2="304.60" y2="146.00" stroke="#111" stroke-width="1.1"/>
<text x="299.30" y="148.80" font-size="7.80" fill="#333" text-anchor="end" >100</text>
<line x1="302.00" y1="160.00" x2="304.60" y2="160.00" stroke="#111" stroke-width="1.1"/>
<text x="299.30" y="162.80" font-size="7.80" fill="#333" text-anchor="end" >80</text>
<line x1="302.00" y1="173.90" x2="304.60" y2="173.90" stroke="#111" stroke-width="1.1"/>
<text x="299.30" y="176.70" font-size="7.80" fill="#333" text-anchor="end" >60</text>
<line x1="302.00" y1="187.80" x2="304.60" y2="187.80" stroke="#111" stroke-width="1.1"/>
<text x="299.30" y="190.60" font-size="7.80" fill="#333" text-anchor="end" >40</text>
<line x1="302.00" y1="201.60" x2="304.60" y2="201.60" stroke="#111" stroke-width="1.1"/>
<text x="299.30" y="204.40" font-size="7.80" fill="#333" text-anchor="end" >20</text>
<line x1="302.00" y1="215.40" x2="304.60" y2="215.40" stroke="#111" stroke-width="1.1"/>
<text x="299.30" y="218.20" font-size="7.80" fill="#333" text-anchor="end" >0</text>
<line x1="304.05" y1="215.40" x2="351.20" y2="215.40" stroke="#111" stroke-width="1.1"/>
<line x1="316.60" y1="215.40" x2="316.60" y2="217.80" stroke="#111" stroke-width="1.1"/>
<line x1="339.50" y1="215.40" x2="339.50" y2="217.80" stroke="#111" stroke-width="1.1"/>
<text x="316.60" y="228.60" font-size="7.00" fill="#333" text-anchor="middle" >-</text>
<text x="339.50" y="228.60" font-size="7.00" fill="#333" text-anchor="middle" >+</text>
<text x="328.05" y="241.60" font-size="9.70" fill="#333" text-anchor="middle" textLength="21.50" lengthAdjust="spacingAndGlyphs" >Tumor</text>
<text x="279.30" y="179.6" font-size="9.2" fill="#333" text-anchor="middle" transform="rotate(-90 279.30 179.6)" textLength="58" lengthAdjust="spacingAndGlyphs">% CD44<tspan dy="-3.2" font-size="6.0">+</tspan><tspan dy="3.2">CD62L</tspan><tspan dy="-3.2" font-size="6.0">−</tspan></text>
<circle cx="309.80" cy="206.70" r="1.90" fill="none" stroke="#c42f4d" stroke-width="0.75"/>
<circle cx="313.40" cy="208.60" r="1.90" fill="none" stroke="#c42f4d" stroke-width="0.75"/>
<circle cx="311.60" cy="211.60" r="1.90" fill="none" stroke="#c42f4d" stroke-width="0.75"/>
<circle cx="308.60" cy="210.00" r="1.90" fill="none" stroke="#c42f4d" stroke-width="0.75"/>
<circle cx="312.50" cy="210.50" r="1.90" fill="none" stroke="#c42f4d" stroke-width="0.75"/>
<line x1="307.40" y1="209.00" x2="315.80" y2="209.00" stroke="#000" stroke-width="1.2"/>
<circle cx="319.40" cy="159.20" r="1.90" fill="none" stroke="#4a6db0" stroke-width="0.75"/>
<circle cx="324.20" cy="159.20" r="1.90" fill="none" stroke="#4a6db0" stroke-width="0.75"/>
<circle cx="321.60" cy="167.80" r="1.90" fill="none" stroke="#4a6db0" stroke-width="0.75"/>
<circle cx="324.20" cy="172.30" r="1.90" fill="none" stroke="#4a6db0" stroke-width="0.75"/>
<circle cx="319.40" cy="178.40" r="1.90" fill="none" stroke="#4a6db0" stroke-width="0.75"/>
<line x1="317.40" y1="167.40" x2="325.80" y2="167.40" stroke="#000" stroke-width="1.2"/>
<line x1="321.60" y1="163.40" x2="321.60" y2="171.20" stroke="#000" stroke-width="0.8"/>
<line x1="319.80" y1="163.40" x2="323.40" y2="163.40" stroke="#000" stroke-width="0.8"/>
<line x1="319.80" y1="171.20" x2="323.40" y2="171.20" stroke="#000" stroke-width="0.8"/>
<circle cx="332.40" cy="160.50" r="1.90" fill="none" stroke="#c42f4d" stroke-width="0.75"/>
<circle cx="337.00" cy="160.50" r="1.90" fill="none" stroke="#c42f4d" stroke-width="0.75"/>
<circle cx="334.00" cy="165.40" r="1.90" fill="none" stroke="#c42f4d" stroke-width="0.75"/>
<circle cx="337.00" cy="166.60" r="1.90" fill="none" stroke="#c42f4d" stroke-width="0.75"/>
<circle cx="334.40" cy="169.40" r="1.90" fill="none" stroke="#c42f4d" stroke-width="0.75"/>
<line x1="330.60" y1="163.40" x2="338.60" y2="163.40" stroke="#000" stroke-width="1.2"/>
<line x1="334.60" y1="162.00" x2="334.60" y2="165.00" stroke="#000" stroke-width="0.8"/>
<line x1="333.10" y1="162.00" x2="336.10" y2="162.00" stroke="#000" stroke-width="0.8"/>
<line x1="333.10" y1="165.00" x2="336.10" y2="165.00" stroke="#000" stroke-width="0.8"/>
<circle cx="344.60" cy="166.40" r="1.90" fill="none" stroke="#4a6db0" stroke-width="0.75"/>
<circle cx="346.80" cy="166.60" r="1.90" fill="none" stroke="#4a6db0" stroke-width="0.75"/>
<circle cx="344.80" cy="170.50" r="1.90" fill="none" stroke="#4a6db0" stroke-width="0.75"/>
<circle cx="347.20" cy="168.50" r="1.90" fill="none" stroke="#4a6db0" stroke-width="0.75"/>
<line x1="340.70" y1="168.20" x2="349.70" y2="168.20" stroke="#000" stroke-width="1.2"/>
<line x1="311.40" y1="147.40" x2="336.80" y2="147.40" stroke="#4a4a4a" stroke-width="1.25"/>
<path d="M319.38 142.00L319.38 144.80M318.16 142.70L320.59 144.10M318.16 144.10L320.59 142.70" stroke="#333" stroke-width="1.0" fill="none"/>
<path d="M322.52 142.00L322.52 144.80M321.31 142.70L323.74 144.10M321.31 144.10L323.74 142.70" stroke="#333" stroke-width="1.0" fill="none"/>
<path d="M325.68 142.00L325.68 144.80M324.46 142.70L326.89 144.10M324.46 144.10L326.89 142.70" stroke="#333" stroke-width="1.0" fill="none"/>
<path d="M328.82 142.00L328.82 144.80M327.61 142.70L330.04 144.10M327.61 144.10L330.04 142.70" stroke="#333" stroke-width="1.0" fill="none"/>
<line x1="312.60" y1="154.40" x2="323.00" y2="154.40" stroke="#4a4a4a" stroke-width="1.25"/>
<path d="M313.07 149.40L313.07 152.20M311.86 150.10L314.29 151.50M311.86 151.50L314.29 150.10" stroke="#333" stroke-width="1.0" fill="none"/>
<path d="M316.22 149.40L316.22 152.20M315.01 150.10L317.44 151.50M315.01 151.50L317.44 150.10" stroke="#333" stroke-width="1.0" fill="none"/>
<path d="M319.38 149.40L319.38 152.20M318.16 150.10L320.59 151.50M318.16 151.50L320.59 150.10" stroke="#333" stroke-width="1.0" fill="none"/>
<path d="M322.52 149.40L322.52 152.20M321.31 150.10L323.74 151.50M321.31 151.50L323.74 150.10" stroke="#333" stroke-width="1.0" fill="none"/>
<line x1="388.40" y1="143.40" x2="388.40" y2="215.95" stroke="#111" stroke-width="1.1"/>
<line x1="385.80" y1="146.00" x2="388.40" y2="146.00" stroke="#111" stroke-width="1.1"/>
<text x="383.10" y="148.80" font-size="7.80" fill="#333" text-anchor="end" >100</text>
<line x1="385.80" y1="160.00" x2="388.40" y2="160.00" stroke="#111" stroke-width="1.1"/>
<text x="383.10" y="162.80" font-size="7.80" fill="#333" text-anchor="end" >80</text>
<line x1="385.80" y1="173.90" x2="388.40" y2="173.90" stroke="#111" stroke-width="1.1"/>
<text x="383.10" y="176.70" font-size="7.80" fill="#333" text-anchor="end" >60</text>
<line x1="385.80" y1="187.80" x2="388.40" y2="187.80" stroke="#111" stroke-width="1.1"/>
<text x="383.10" y="190.60" font-size="7.80" fill="#333" text-anchor="end" >40</text>
<line x1="385.80" y1="201.60" x2="388.40" y2="201.60" stroke="#111" stroke-width="1.1"/>
<text x="383.10" y="204.40" font-size="7.80" fill="#333" text-anchor="end" >20</text>
<line x1="385.80" y1="215.40" x2="388.40" y2="215.40" stroke="#111" stroke-width="1.1"/>
<text x="383.10" y="218.20" font-size="7.80" fill="#333" text-anchor="end" >0</text>
<line x1="387.85" y1="215.40" x2="434.50" y2="215.40" stroke="#111" stroke-width="1.1"/>
<line x1="399.60" y1="215.40" x2="399.60" y2="217.80" stroke="#111" stroke-width="1.1"/>
<line x1="423.20" y1="215.40" x2="423.20" y2="217.80" stroke="#111" stroke-width="1.1"/>
<text x="399.60" y="228.60" font-size="7.00" fill="#333" text-anchor="middle" >-</text>
<text x="423.20" y="228.60" font-size="7.00" fill="#333" text-anchor="middle" >+</text>
<text x="411.40" y="241.60" font-size="9.70" fill="#333" text-anchor="middle" textLength="21.50" lengthAdjust="spacingAndGlyphs" >Tumor</text>
<text x="362.60" y="179.6" font-size="9.2" fill="#333" text-anchor="middle" transform="rotate(-90 362.60 179.6)" textLength="58" lengthAdjust="spacingAndGlyphs">% CD44<tspan dy="-3.2" font-size="6.0">−</tspan><tspan dy="3.2">CD62L</tspan><tspan dy="-3.2" font-size="6.0">+</tspan></text>
<circle cx="393.00" cy="192.00" r="1.90" fill="none" stroke="#c42f4d" stroke-width="0.75"/>
<circle cx="396.60" cy="194.20" r="1.90" fill="none" stroke="#c42f4d" stroke-width="0.75"/>
<circle cx="394.60" cy="197.40" r="1.90" fill="none" stroke="#c42f4d" stroke-width="0.75"/>
<circle cx="392.80" cy="198.00" r="1.90" fill="none" stroke="#c42f4d" stroke-width="0.75"/>
<circle cx="395.50" cy="196.00" r="1.90" fill="none" stroke="#c42f4d" stroke-width="0.75"/>
<line x1="390.40" y1="195.50" x2="399.20" y2="195.50" stroke="#000" stroke-width="1.2"/>
<circle cx="402.50" cy="214.60" r="1.90" fill="none" stroke="#4a6db0" stroke-width="1.1"/>
<circle cx="404.50" cy="214.80" r="1.90" fill="none" stroke="#4a6db0" stroke-width="1.1"/>
<circle cx="406.50" cy="214.60" r="1.90" fill="none" stroke="#4a6db0" stroke-width="1.1"/>
<circle cx="408.30" cy="214.80" r="1.90" fill="none" stroke="#4a6db0" stroke-width="1.1"/>
<circle cx="415.20" cy="215.00" r="1.90" fill="none" stroke="#c42f4d" stroke-width="1.1"/>
<circle cx="417.20" cy="215.00" r="1.90" fill="none" stroke="#c42f4d" stroke-width="1.1"/>
<circle cx="419.20" cy="215.00" r="1.90" fill="none" stroke="#c42f4d" stroke-width="1.1"/>
<circle cx="420.80" cy="215.00" r="1.90" fill="none" stroke="#c42f4d" stroke-width="1.1"/>
<circle cx="425.40" cy="215.00" r="1.90" fill="none" stroke="#4a6db0" stroke-width="1.1"/>
<circle cx="427.40" cy="215.00" r="1.90" fill="none" stroke="#4a6db0" stroke-width="1.1"/>
<circle cx="429.40" cy="215.00" r="1.90" fill="none" stroke="#4a6db0" stroke-width="1.1"/>
<circle cx="431.00" cy="215.00" r="1.90" fill="none" stroke="#4a6db0" stroke-width="1.1"/>
<line x1="393.20" y1="178.40" x2="419.20" y2="178.40" stroke="#4a4a4a" stroke-width="1.25"/>
<path d="M401.47 173.20L401.47 176.00M400.26 173.90L402.69 175.30M400.26 175.30L402.69 173.90" stroke="#333" stroke-width="1.0" fill="none"/>
<path d="M404.62 173.20L404.62 176.00M403.41 173.90L405.84 175.30M403.41 175.30L405.84 173.90" stroke="#333" stroke-width="1.0" fill="none"/>
<path d="M407.77 173.20L407.77 176.00M406.56 173.90L408.99 175.30M406.56 175.30L408.99 173.90" stroke="#333" stroke-width="1.0" fill="none"/>
<path d="M410.92 173.20L410.92 176.00M409.71 173.90L412.14 175.30M409.71 175.30L412.14 173.90" stroke="#333" stroke-width="1.0" fill="none"/>
<line x1="395.20" y1="186.80" x2="405.60" y2="186.80" stroke="#4a4a4a" stroke-width="1.25"/>
<path d="M395.67 181.20L395.67 184.00M394.46 181.90L396.89 183.30M394.46 183.30L396.89 181.90" stroke="#333" stroke-width="1.0" fill="none"/>
<path d="M398.82 181.20L398.82 184.00M397.61 181.90L400.04 183.30M397.61 183.30L400.04 181.90" stroke="#333" stroke-width="1.0" fill="none"/>
<path d="M401.97 181.20L401.97 184.00M400.76 181.90L403.19 183.30M400.76 183.30L403.19 181.90" stroke="#333" stroke-width="1.0" fill="none"/>
<path d="M405.12 181.20L405.12 184.00M403.91 181.90L406.34 183.30M403.91 183.30L406.34 181.90" stroke="#333" stroke-width="1.0" fill="none"/>
<circle cx="186.60" cy="251.60" r="2.00" fill="none" stroke="#c42f4d" stroke-width="1.1"/>
<text x="192.00" y="253.90" font-size="7.60" fill="#333" textLength="35.80" lengthAdjust="spacingAndGlyphs" >WT CAR-T</text>
<circle cx="186.60" cy="263.00" r="2.00" fill="none" stroke="#4a6db0" stroke-width="1.1"/>
<text x="192.00" y="265.10" font-size="7.60" fill="#333" textLength="35.80" lengthAdjust="spacingAndGlyphs" >KO CAR-T</text>
<rect x="435.5" y="39.3" width="77.9" height="76.5" fill="none" stroke="#000" stroke-width="1.05"/>
<line x1="433.20" y1="56.50" x2="435.50" y2="56.50" stroke="#000" stroke-width="1.0"/>
<text x="430.90" y="59.10" font-size="7.30" fill="#333" text-anchor="end" >1</text>
<line x1="433.20" y1="73.60" x2="435.50" y2="73.60" stroke="#000" stroke-width="1.0"/>
<text x="430.90" y="76.20" font-size="7.30" fill="#333" text-anchor="end" >0</text>
<line x1="433.20" y1="90.80" x2="435.50" y2="90.80" stroke="#000" stroke-width="1.0"/>
<text x="430.90" y="93.40" font-size="7.30" fill="#333" text-anchor="end" >-1</text>
<line x1="433.20" y1="107.80" x2="435.50" y2="107.80" stroke="#000" stroke-width="1.0"/>
<text x="430.90" y="110.40" font-size="7.30" fill="#333" text-anchor="end" >-2</text>
<line x1="450.30" y1="115.80" x2="450.30" y2="118.00" stroke="#000" stroke-width="1.0"/>
<text x="450.30" y="126.00" font-size="7.30" fill="#333" text-anchor="middle" >-1</text>
<line x1="469.10" y1="115.80" x2="469.10" y2="118.00" stroke="#000" stroke-width="1.0"/>
<text x="469.10" y="126.00" font-size="7.30" fill="#333" text-anchor="middle" >0</text>
<line x1="488.40" y1="115.80" x2="488.40" y2="118.00" stroke="#000" stroke-width="1.0"/>
<text x="488.40" y="126.00" font-size="7.30" fill="#333" text-anchor="middle" >1</text>
<line x1="507.20" y1="115.80" x2="507.20" y2="118.00" stroke="#000" stroke-width="1.0"/>
<text x="507.20" y="126.00" font-size="7.30" fill="#333" text-anchor="middle" >2</text>
<text x="474.30" y="142.60" font-size="9.00" fill="#333" text-anchor="middle" textLength="44.60" lengthAdjust="spacingAndGlyphs" >PC-1 (24.5%)</text>
<text x="417.00" y="78.20" font-size="9.00" fill="#333" text-anchor="middle" textLength="45.40" lengthAdjust="spacingAndGlyphs" transform="rotate(-90 417.00 78.20)" >PC-2 (14.9%)</text>
<ellipse cx="485.7" cy="53.9" rx="23.8" ry="11.0" transform="rotate(-6 485.7 53.9)" fill="none" stroke="#c53a4e" stroke-width="0.85"/>
<ellipse cx="447.9" cy="64.3" rx="10.8" ry="2.6" transform="rotate(-11 447.9 64.3)" fill="none" stroke="#7cc05a" stroke-width="0.85"/>
<ellipse cx="454.6" cy="86.9" rx="17.6" ry="4.5" transform="rotate(-49 454.6 86.9)" fill="none" stroke="#5b2d83" stroke-width="0.85"/>
<ellipse cx="490.2" cy="94.4" rx="22.5" ry="7.6" transform="rotate(53 490.2 94.4)" fill="none" stroke="#6aaee6" stroke-width="0.85"/>
<circle cx="483.90" cy="48.40" r="1.05" fill="#a8102e"/>
<circle cx="487.90" cy="51.70" r="1.05" fill="#a8102e"/>
<circle cx="500.10" cy="53.00" r="1.05" fill="#a8102e"/>
<circle cx="472.90" cy="57.00" r="1.05" fill="#a8102e"/>
<circle cx="484.80" cy="59.90" r="1.05" fill="#a8102e"/>
<circle cx="444.80" cy="64.70" r="0.90" fill="#3f9a2a"/>
<circle cx="448.60" cy="64.90" r="0.90" fill="#3f9a2a"/>
<circle cx="453.60" cy="62.10" r="0.90" fill="#3f9a2a"/>
<circle cx="455.60" cy="63.60" r="0.90" fill="#3f9a2a"/>
<circle cx="460.30" cy="80.90" r="1.05" fill="#3b1658"/>
<circle cx="456.60" cy="84.60" r="1.05" fill="#3b1658"/>
<circle cx="457.20" cy="86.40" r="1.05" fill="#3b1658"/>
<circle cx="450.50" cy="88.30" r="1.05" fill="#3b1658"/>
<circle cx="449.40" cy="95.40" r="1.05" fill="#3b1658"/>
<circle cx="485.90" cy="85.30" r="0.90" fill="#3f8fd8"/>
<circle cx="484.60" cy="94.60" r="0.90" fill="#3f8fd8"/>
<circle cx="494.60" cy="93.70" r="0.90" fill="#3f8fd8"/>
<circle cx="496.10" cy="103.90" r="0.90" fill="#3f8fd8"/>
<line x1="436.00" y1="152.40" x2="445.60" y2="152.40" stroke="#6aaee6" stroke-width="1.25"/>
<circle cx="440.80" cy="152.40" r="1.15" fill="#6aaee6"/>
<text x="449.00" y="155.10" font-size="7.50" fill="#333" textLength="62.00" lengthAdjust="spacingAndGlyphs" >WT without tumor</text>
<line x1="436.00" y1="163.50" x2="445.60" y2="163.50" stroke="#5b2d83" stroke-width="1.25"/>
<circle cx="440.80" cy="163.50" r="1.15" fill="#5b2d83"/>
<text x="449.00" y="166.20" font-size="7.50" fill="#333" textLength="51.00" lengthAdjust="spacingAndGlyphs" >WT with tumor</text>
<line x1="436.00" y1="174.60" x2="445.60" y2="174.60" stroke="#c53a4e" stroke-width="1.25"/>
<circle cx="440.80" cy="174.60" r="1.15" fill="#c53a4e"/>
<text x="449.00" y="177.30" font-size="7.50" fill="#333" textLength="61.60" lengthAdjust="spacingAndGlyphs" >KO without tumor</text>
<line x1="436.00" y1="185.80" x2="445.60" y2="185.80" stroke="#7cc05a" stroke-width="1.25"/>
<circle cx="440.80" cy="185.80" r="1.15" fill="#7cc05a"/>
<text x="449.00" y="188.50" font-size="7.50" fill="#333" textLength="49.00" lengthAdjust="spacingAndGlyphs" >KO with tumor</text>
<text x="176.80" y="289.60" font-size="8.80" fill="#333" text-anchor="middle" textLength="19.00" lengthAdjust="spacingAndGlyphs" >Tumor</text>
<text x="168.90" y="300.80" font-size="6.80" fill="#333" text-anchor="middle" >-</text>
<text x="185.10" y="300.80" font-size="6.80" fill="#333" text-anchor="middle" >+</text>
<rect x="159.3" y="305.3" width="35.1" height="159.2" fill="none" stroke="#555" stroke-width="0.85"/>
<line x1="176.40" y1="305.30" x2="176.40" y2="464.50" stroke="#555" stroke-width="0.85"/>
<text x="51.20" y="314.10" font-size="6.3" textLength="105.40" lengthAdjust="spacingAndGlyphs"><tspan fill="#333">GSE9650_NAIVE_VS_</tspan><tspan fill="#c0283c">EFF</tspan><tspan fill="#333">_CD8_TCELL_DN</tspan></text>
<text x="38.80" y="323.28" font-size="6.3" textLength="117.80" lengthAdjust="spacingAndGlyphs"><tspan fill="#333">KAECH_NAIVE_VS_DAY8_</tspan><tspan fill="#c0283c">EFF</tspan><tspan fill="#333">_CD8_TCELL_DN</tspan></text>
<text x="44.50" y="332.46" font-size="6.3" textLength="112.10" lengthAdjust="spacingAndGlyphs"><tspan fill="#333">GOLDRATH_NAIVE_VS_</tspan><tspan fill="#c0283c">EFF</tspan><tspan fill="#333">_CD8_TCELL_DN</tspan></text>
<text x="25.80" y="341.64" font-size="6.3" textLength="130.80" lengthAdjust="spacingAndGlyphs"><tspan fill="#333">GSE9650_</tspan><tspan fill="#c0283c">EFFECTOR</tspan><tspan fill="#333">_VS_MEMORY_CD8_TCELL_UP</tspan></text>
<text x="37.50" y="350.82" font-size="6.3" textLength="119.10" lengthAdjust="spacingAndGlyphs"><tspan fill="#333">GOLDRATH_</tspan><tspan fill="#c0283c">EFF</tspan><tspan fill="#333">_VS_MEMORY_CD8_TCELL_UP</tspan></text>
<text x="32.00" y="360.00" font-size="6.3" textLength="124.60" lengthAdjust="spacingAndGlyphs"><tspan fill="#333">KAECH_DAY8_</tspan><tspan fill="#c0283c">EFF</tspan><tspan fill="#333">_VS_MEMORY_CD8_TCELL_UP</tspan></text>
<text x="30.80" y="369.18" font-size="6.3" textLength="125.80" lengthAdjust="spacingAndGlyphs"><tspan fill="#333">GOLDRATH_</tspan><tspan fill="#c0283c">NAIVE</tspan><tspan fill="#333">_VS_MEMORY_CD8_TCELL_UP</tspan></text>
<text x="28.00" y="378.36" font-size="6.3" textLength="128.60" lengthAdjust="spacingAndGlyphs"><tspan fill="#333">KAECH_DAY15_EFF_VS_</tspan><tspan fill="#c0283c">MEMORY</tspan><tspan fill="#333">_CD8_TCELL_DN</tspan></text>
<text x="25.00" y="387.54" font-size="6.3" textLength="131.60" lengthAdjust="spacingAndGlyphs"><tspan fill="#333">GSE9650_EFFECTOR_VS_</tspan><tspan fill="#c0283c">MEMORY</tspan><tspan fill="#333">_CD8_TCELL_DN</tspan></text>
<text x="25.00" y="396.72" font-size="6.3" textLength="131.60" lengthAdjust="spacingAndGlyphs"><tspan fill="#333">GSE8678_</tspan><tspan fill="#c0283c">IL7R</tspan><tspan fill="#333">_LOW_VS_</tspan><tspan fill="#c0283c">HIGH_EFF</tspan><tspan fill="#333">_CD8_TCELL_DN</tspan></text>
<text x="31.20" y="405.90" font-size="6.3" textLength="125.40" lengthAdjust="spacingAndGlyphs"><tspan fill="#333">KAECH_DAY8_EFF_VS_</tspan><tspan fill="#c0283c">MEMORY</tspan><tspan fill="#333">_CD8_TCELL_DN</tspan></text>
<text x="52.00" y="415.08" font-size="6.3" textLength="104.60" lengthAdjust="spacingAndGlyphs"><tspan fill="#333">GSE9650_</tspan><tspan fill="#c0283c">NAIVE</tspan><tspan fill="#333">_VS_EFF_CD8_TCELL_UP</tspan></text>
<text x="36.20" y="424.26" font-size="6.3" textLength="120.40" lengthAdjust="spacingAndGlyphs"><tspan fill="#333">GOLDRATH_EFF_VS_</tspan><tspan fill="#c0283c">MEMORY</tspan><tspan fill="#333">_CD8_TCELL_DN</tspan></text>
<text x="16.20" y="433.44" font-size="6.3" textLength="140.40" lengthAdjust="spacingAndGlyphs"><tspan fill="#333">GSE10239_</tspan><tspan fill="#c0283c">NAIVE</tspan><tspan fill="#333">_VS_KLRG1HIGH_EFF_CD8_TCELL_UP</tspan></text>
<text x="45.50" y="442.62" font-size="6.3" textLength="111.10" lengthAdjust="spacingAndGlyphs"><tspan fill="#333">GOLDRATH_</tspan><tspan fill="#c0283c">NAIVE</tspan><tspan fill="#333">_VS_EFF_CD8_TCELL_UP</tspan></text>
<text x="40.00" y="451.80" font-size="6.3" textLength="116.60" lengthAdjust="spacingAndGlyphs"><tspan fill="#333">KAECH_</tspan><tspan fill="#c0283c">NAIVE</tspan><tspan fill="#333">_VS_DAY8_EFF_CD8_TCELL_UP</tspan></text>
<text x="46.20" y="460.98" font-size="6.3" textLength="110.40" lengthAdjust="spacingAndGlyphs"><tspan fill="#333">GSE14699_NAIVE_VS_</tspan><tspan fill="#c0283c">ACT</tspan><tspan fill="#333">_CD8_TCELL_DN</tspan></text>
<circle cx="168.90" cy="311.70" r="4.00" fill="#d0313b"/>
<circle cx="185.10" cy="311.70" r="1.60" fill="#5656b4"/>
<circle cx="168.90" cy="320.88" r="3.00" fill="#d0313b"/>
<circle cx="185.10" cy="320.88" r="3.20" fill="#4a4aa6"/>
<circle cx="168.90" cy="330.06" r="3.20" fill="#d0313b"/>
<circle cx="185.10" cy="330.06" r="3.70" fill="#2a1a82"/>
<circle cx="168.90" cy="339.24" r="2.40" fill="#d0313b"/>
<circle cx="185.10" cy="339.24" r="3.00" fill="#4a4aa6"/>
<circle cx="168.90" cy="348.42" r="2.00" fill="#d0313b"/>
<circle cx="185.10" cy="348.42" r="3.70" fill="#2a1a82"/>
<circle cx="168.90" cy="357.60" r="1.75" fill="#d0313b"/>
<circle cx="185.10" cy="357.60" r="3.50" fill="#4a4aa6"/>
<circle cx="168.90" cy="366.78" r="1.75" fill="#5656b4"/>
<circle cx="185.10" cy="366.78" r="2.00" fill="#d0313b"/>
<circle cx="168.90" cy="375.96" r="1.75" fill="#5656b4"/>
<circle cx="185.10" cy="375.96" r="2.80" fill="#d0313b"/>
<circle cx="168.90" cy="385.14" r="2.00" fill="#5656b4"/>
<circle cx="185.10" cy="385.14" r="2.60" fill="#d0313b"/>
<circle cx="168.90" cy="394.32" r="2.00" fill="#5656b4"/>
<circle cx="185.10" cy="394.32" r="2.40" fill="#d0313b"/>
<circle cx="168.90" cy="403.50" r="2.30" fill="#5656b4"/>
<circle cx="185.10" cy="403.50" r="2.40" fill="#d0313b"/>
<circle cx="168.90" cy="412.68" r="2.30" fill="#5656b4"/>
<circle cx="185.10" cy="412.68" r="2.80" fill="#d0313b"/>
<circle cx="168.90" cy="421.86" r="2.30" fill="#5656b4"/>
<circle cx="185.10" cy="421.86" r="2.40" fill="#d0313b"/>
<circle cx="168.90" cy="431.04" r="2.60" fill="#5656b4"/>
<circle cx="185.10" cy="431.04" r="1.60" fill="#d0313b"/>
<circle cx="168.90" cy="440.22" r="2.60" fill="#5656b4"/>
<circle cx="185.10" cy="440.22" r="2.70" fill="#d0313b"/>
<circle cx="168.90" cy="449.40" r="2.40" fill="#5656b4"/>
<circle cx="185.10" cy="449.40" r="2.30" fill="#d0313b"/>
<circle cx="168.90" cy="458.58" r="3.80" fill="#2a1a82"/>
<circle cx="185.10" cy="458.58" r="2.70" fill="#d0313b"/>
<text x="217.80" y="317.80" font-size="6.20" fill="#333" text-anchor="middle" textLength="38.00" lengthAdjust="spacingAndGlyphs" >KO / WT CAR-T</text>
<text x="217.80" y="324.30" font-size="6.20" fill="#333" text-anchor="middle" textLength="28.50" lengthAdjust="spacingAndGlyphs" >Enrichment</text>
<text x="217.80" y="330.80" font-size="6.20" fill="#333" text-anchor="middle" textLength="15.50" lengthAdjust="spacingAndGlyphs" >Score</text>
<defs><linearGradient id="gD" x1="0" y1="0" x2="0" y2="1"><stop offset="0" stop-color="#c8401e"/><stop offset="0.5" stop-color="#f7f5f7"/><stop offset="1" stop-color="#221a80"/></linearGradient><linearGradient id="gZ" x1="0" y1="0" x2="0" y2="1"><stop offset="0" stop-color="#c6301a"/><stop offset="0.2" stop-color="#cf4636"/><stop offset="0.42" stop-color="#f0c4c4"/><stop offset="0.5" stop-color="#f8f7fa"/><stop offset="0.58" stop-color="#b4b4e0"/><stop offset="0.8" stop-color="#3c38a0"/><stop offset="1" stop-color="#16107a"/></linearGradient><linearGradient id="gG" x1="0" y1="0" x2="0" y2="1"><stop offset="0" stop-color="#c6301a"/><stop offset="0.22" stop-color="#cf4636"/><stop offset="0.48" stop-color="#f0c4c4"/><stop offset="0.57" stop-color="#f8f7fa"/><stop offset="0.66" stop-color="#b4b4e0"/><stop offset="0.85" stop-color="#3c38a0"/><stop offset="1" stop-color="#16107a"/></linearGradient></defs>
<rect x="214.10" y="335.00" width="9.00" height="44.60" fill="url(#gD)" />
<text x="226.00" y="340.10" font-size="6.40" fill="#333" >2</text>
<text x="226.00" y="349.00" font-size="6.40" fill="#333" >1</text>
<text x="226.00" y="357.70" font-size="6.40" fill="#333" >0</text>
<text x="226.00" y="366.60" font-size="6.40" fill="#333" >-1</text>
<text x="226.00" y="375.60" font-size="6.40" fill="#333" >-2</text>
<text x="218.7" y="403.6" font-size="6.2" fill="#333" text-anchor="middle" textLength="29.3" lengthAdjust="spacingAndGlyphs">-Log<tspan dy="1.5" font-size="4.2">10</tspan><tspan dy="-1.5">(FDR)</tspan></text>
<circle cx="218.50" cy="410.50" r="1.05" fill="#111"/>
<text x="226.20" y="412.60" font-size="5.90" fill="#333" >1</text>
<circle cx="218.50" cy="419.20" r="1.55" fill="#111"/>
<text x="226.20" y="421.30" font-size="5.90" fill="#333" >2</text>
<circle cx="218.50" cy="427.60" r="2.10" fill="#111"/>
<text x="226.20" y="429.70" font-size="5.90" fill="#333" >3</text>
<circle cx="218.50" cy="436.50" r="2.60" fill="#111"/>
<text x="226.20" y="438.60" font-size="5.90" fill="#333" >4</text>
<circle cx="218.50" cy="445.50" r="3.15" fill="#111"/>
<text x="226.20" y="447.60" font-size="5.90" fill="#333" >5</text>
<text x="289.50" y="304.50" font-size="9.00" fill="#2b2b2b" text-anchor="middle" textLength="34.50" lengthAdjust="spacingAndGlyphs" >Cluster 3</text>
<text x="398.80" y="305.00" font-size="9.00" fill="#2b2b2b" text-anchor="middle" textLength="34.60" lengthAdjust="spacingAndGlyphs" >Cluster 8</text>
<text x="270.30" y="315.50" font-size="7.60" fill="#333" text-anchor="middle" textLength="31.00" lengthAdjust="spacingAndGlyphs" >WT CAR-T</text>
<text x="311.30" y="315.50" font-size="7.60" fill="#333" text-anchor="middle" textLength="30.70" lengthAdjust="spacingAndGlyphs" >KO CAR-T</text>
<line x1="253.40" y1="320.20" x2="286.30" y2="320.20" stroke="#555" stroke-width="1.3"/>
<line x1="295.20" y1="320.20" x2="327.70" y2="320.20" stroke="#555" stroke-width="1.3"/>
<text x="379.50" y="316.00" font-size="7.60" fill="#333" text-anchor="middle" textLength="31.00" lengthAdjust="spacingAndGlyphs" >WT CAR-T</text>
<text x="420.50" y="316.00" font-size="7.60" fill="#333" text-anchor="middle" textLength="30.70" lengthAdjust="spacingAndGlyphs" >KO CAR-T</text>
<line x1="363.20" y1="320.40" x2="395.80" y2="320.40" stroke="#555" stroke-width="1.3"/>
<line x1="404.60" y1="320.40" x2="437.00" y2="320.40" stroke="#555" stroke-width="1.3"/>
<line x1="333.20" y1="332.70" x2="335.60" y2="332.70" stroke="#666" stroke-width="0.6"/>
<text x="337.20" y="335.04" font-size="6.50" fill="#1a1a1a" textLength="16.28" lengthAdjust="spacingAndGlyphs" >Cd226</text>
<line x1="333.20" y1="337.90" x2="335.60" y2="337.90" stroke="#666" stroke-width="0.6"/>
<text x="337.20" y="340.24" font-size="6.50" fill="#1a1a1a" textLength="14.43" lengthAdjust="spacingAndGlyphs" >Cxcr6</text>
<line x1="333.20" y1="342.70" x2="335.60" y2="342.70" stroke="#666" stroke-width="0.6"/>
<text x="337.20" y="345.04" font-size="6.50" fill="#1a1a1a" textLength="19.65" lengthAdjust="spacingAndGlyphs" >Prickle1</text>
<line x1="333.20" y1="347.50" x2="335.60" y2="347.50" stroke="#666" stroke-width="0.6"/>
<text x="337.20" y="349.84" font-size="6.50" fill="#1a1a1a" textLength="7.68" lengthAdjust="spacingAndGlyphs" >Id2</text>
<line x1="333.20" y1="352.70" x2="335.60" y2="352.70" stroke="#666" stroke-width="0.6"/>
<text x="337.20" y="355.04" font-size="6.50" fill="#1a1a1a" textLength="16.28" lengthAdjust="spacingAndGlyphs" >Cd244</text>
<line x1="333.20" y1="363.40" x2="335.60" y2="363.40" stroke="#666" stroke-width="0.6"/>
<text x="337.20" y="365.74" font-size="6.50" fill="#1a1a1a" font-style="italic" textLength="9.52" lengthAdjust="spacingAndGlyphs" >Btla</text>
<line x1="333.20" y1="368.80" x2="335.60" y2="368.80" stroke="#666" stroke-width="0.6"/>
<text x="337.20" y="371.14" font-size="6.50" fill="#1a1a1a" font-style="italic" textLength="9.83" lengthAdjust="spacingAndGlyphs" >Batf</text>
<line x1="333.20" y1="387.60" x2="335.60" y2="387.60" stroke="#666" stroke-width="0.6"/>
<text x="337.20" y="389.94" font-size="6.50" fill="#1a1a1a" font-style="italic" textLength="10.13" lengthAdjust="spacingAndGlyphs" >Icos</text>
<line x1="333.20" y1="404.50" x2="335.60" y2="404.50" stroke="#666" stroke-width="0.6"/>
<text x="337.20" y="406.84" font-size="6.50" fill="#1a1a1a" font-style="italic" textLength="6.45" lengthAdjust="spacingAndGlyphs" >Kit</text>
<line x1="333.20" y1="410.30" x2="335.60" y2="410.30" stroke="#666" stroke-width="0.6"/>
<text x="337.20" y="412.64" font-size="6.50" fill="#1a1a1a" font-style="italic" textLength="15.36" lengthAdjust="spacingAndGlyphs" >Plagl1</text>
<line x1="333.20" y1="429.80" x2="335.60" y2="429.80" stroke="#666" stroke-width="0.6"/>
<text x="337.20" y="432.14" font-size="6.50" fill="#1a1a1a" font-style="italic" textLength="18.42" lengthAdjust="spacingAndGlyphs" >Tnfsf10</text>
<line x1="333.20" y1="435.20" x2="335.60" y2="435.20" stroke="#666" stroke-width="0.6"/>
<text x="337.20" y="437.54" font-size="6.50" fill="#1a1a1a" font-style="italic" textLength="17.50" lengthAdjust="spacingAndGlyphs" >Cx3cr1</text>
<line x1="441.60" y1="349.90" x2="444.00" y2="349.90" stroke="#666" stroke-width="0.6"/>
<text x="445.60" y="352.24" font-size="6.50" fill="#1a1a1a" font-style="italic" textLength="11.67" lengthAdjust="spacingAndGlyphs" >Ikzf2</text>
<line x1="441.60" y1="359.70" x2="444.00" y2="359.70" stroke="#666" stroke-width="0.6"/>
<text x="445.60" y="362.04" font-size="6.50" fill="#1a1a1a" font-style="italic" textLength="9.21" lengthAdjust="spacingAndGlyphs" >Fas</text>
<line x1="441.60" y1="376.10" x2="444.00" y2="376.10" stroke="#666" stroke-width="0.6"/>
<text x="445.60" y="378.44" font-size="6.50" fill="#1a1a1a" font-style="italic" textLength="10.39" lengthAdjust="spacingAndGlyphs" >Tigit</text>
<line x1="441.60" y1="381.40" x2="444.00" y2="381.40" stroke="#666" stroke-width="0.6"/>
<text x="445.60" y="383.74" font-size="6.50" fill="#1a1a1a" font-style="italic" textLength="10.44" lengthAdjust="spacingAndGlyphs" >Fasl</text>
<line x1="441.60" y1="406.20" x2="444.00" y2="406.20" stroke="#666" stroke-width="0.6"/>
<text x="445.60" y="408.54" font-size="6.50" fill="#1a1a1a" font-style="italic" textLength="17.19" lengthAdjust="spacingAndGlyphs" >Tnfrsf9</text>
<line x1="441.60" y1="420.40" x2="444.00" y2="420.40" stroke="#666" stroke-width="0.6"/>
<text x="445.60" y="422.74" font-size="6.50" fill="#1a1a1a" font-style="italic" textLength="7.68" lengthAdjust="spacingAndGlyphs" >Id3</text>
<line x1="441.60" y1="429.60" x2="444.00" y2="429.60" stroke="#666" stroke-width="0.6"/>
<text x="445.60" y="431.94" font-size="6.50" fill="#1a1a1a" font-style="italic" textLength="8.91" lengthAdjust="spacingAndGlyphs" >Il10</text>
<text x="258.80" y="445.60" font-size="6.80" fill="#333" text-anchor="middle" >-</text>
<text x="278.60" y="445.60" font-size="6.80" fill="#333" text-anchor="middle" >+</text>
<text x="299.80" y="445.60" font-size="6.80" fill="#333" text-anchor="middle" >-</text>
<text x="321.30" y="445.60" font-size="6.80" fill="#333" text-anchor="middle" >+</text>
<text x="367.90" y="445.60" font-size="6.80" fill="#333" text-anchor="middle" >-</text>
<text x="387.30" y="445.60" font-size="6.80" fill="#333" text-anchor="middle" >+</text>
<text x="409.00" y="445.60" font-size="6.80" fill="#333" text-anchor="middle" >-</text>
<text x="430.00" y="445.60" font-size="6.80" fill="#333" text-anchor="middle" >+</text>
<text x="289.20" y="456.90" font-size="9.00" fill="#333" text-anchor="middle" textLength="19.50" lengthAdjust="spacingAndGlyphs" >Tumor</text>
<text x="398.10" y="457.30" font-size="9.00" fill="#333" text-anchor="middle" textLength="19.50" lengthAdjust="spacingAndGlyphs" >Tumor</text>
<text x="442.10" y="306.30" font-size="5.60" fill="#333" textLength="31.70" lengthAdjust="spacingAndGlyphs" >Row Z−Score</text>
<rect x="455.70" y="310.40" width="6.00" height="26.50" fill="url(#gZ)" rx="1.2"/>
<text x="463.50" y="313.30" font-size="6.00" fill="#333" >4</text>
<text x="463.50" y="319.10" font-size="6.00" fill="#333" >2</text>
<text x="463.50" y="325.50" font-size="6.00" fill="#333" >0</text>
<text x="463.50" y="332.10" font-size="6.00" fill="#333" >−2</text>
<text x="463.50" y="338.10" font-size="6.00" fill="#333" >−4</text>
<text x="52.40" y="489.10" font-size="9.00" fill="#2b2b2b" text-anchor="middle" textLength="35.30" lengthAdjust="spacingAndGlyphs" >Cluster 5</text>
<text x="158.50" y="489.10" font-size="9.00" fill="#2b2b2b" text-anchor="middle" textLength="35.30" lengthAdjust="spacingAndGlyphs" >Cluster 9</text>
<text x="32.80" y="500.30" font-size="7.60" fill="#333" text-anchor="middle" textLength="31.00" lengthAdjust="spacingAndGlyphs" >WT CAR-T</text>
<text x="74.00" y="500.30" font-size="7.60" fill="#333" text-anchor="middle" textLength="30.70" lengthAdjust="spacingAndGlyphs" >KO CAR-T</text>
<line x1="16.20" y1="504.30" x2="49.40" y2="504.30" stroke="#555" stroke-width="1.3"/>
<line x1="57.40" y1="504.30" x2="89.70" y2="504.30" stroke="#555" stroke-width="1.3"/>
<text x="139.90" y="500.30" font-size="7.60" fill="#333" text-anchor="middle" textLength="31.00" lengthAdjust="spacingAndGlyphs" >WT CAR-T</text>
<text x="180.60" y="500.30" font-size="7.60" fill="#333" text-anchor="middle" textLength="30.70" lengthAdjust="spacingAndGlyphs" >KO CAR-T</text>
<line x1="123.20" y1="504.30" x2="156.50" y2="504.30" stroke="#555" stroke-width="1.3"/>
<line x1="164.40" y1="504.30" x2="197.40" y2="504.30" stroke="#555" stroke-width="1.3"/>
<line x1="95.60" y1="555.90" x2="98.00" y2="555.90" stroke="#666" stroke-width="0.6"/>
<text x="99.60" y="558.24" font-size="6.50" fill="#1a1a1a" font-style="italic" textLength="14.43" lengthAdjust="spacingAndGlyphs" >Cxcr5</text>
<line x1="95.60" y1="572.40" x2="98.00" y2="572.40" stroke="#666" stroke-width="0.6"/>
<text x="99.60" y="574.74" font-size="6.50" fill="#1a1a1a" textLength="17.19" lengthAdjust="spacingAndGlyphs" >Eomes</text>
<line x1="95.60" y1="577.60" x2="98.00" y2="577.60" stroke="#666" stroke-width="0.6"/>
<text x="99.60" y="579.94" font-size="6.50" fill="#1a1a1a" font-style="italic" textLength="17.19" lengthAdjust="spacingAndGlyphs" >Tnfrsf4</text>
<line x1="95.60" y1="585.90" x2="98.00" y2="585.90" stroke="#666" stroke-width="0.6"/>
<text x="99.60" y="588.24" font-size="6.50" fill="#1a1a1a" textLength="12.29" lengthAdjust="spacingAndGlyphs" >Lag3</text>
<line x1="95.60" y1="591.50" x2="98.00" y2="591.50" stroke="#666" stroke-width="0.6"/>
<text x="99.60" y="593.84" font-size="6.50" fill="#1a1a1a" font-style="italic" textLength="8.70" lengthAdjust="spacingAndGlyphs" >Tox</text>
<line x1="95.60" y1="601.50" x2="98.00" y2="601.50" stroke="#666" stroke-width="0.6"/>
<text x="99.60" y="603.84" font-size="6.50" fill="#1a1a1a" textLength="9.21" lengthAdjust="spacingAndGlyphs" >Sell</text>
<line x1="95.60" y1="607.00" x2="98.00" y2="607.00" stroke="#666" stroke-width="0.6"/>
<text x="99.60" y="609.34" font-size="6.50" fill="#1a1a1a" font-style="italic" textLength="7.67" lengthAdjust="spacingAndGlyphs" >Il7r</text>
<line x1="202.50" y1="550.00" x2="204.90" y2="550.00" stroke="#666" stroke-width="0.6"/>
<text x="206.50" y="552.34" font-size="6.50" fill="#1a1a1a" font-style="italic" textLength="11.36" lengthAdjust="spacingAndGlyphs" >Xcr1</text>
<line x1="202.50" y1="555.90" x2="204.90" y2="555.90" stroke="#666" stroke-width="0.6"/>
<text x="206.50" y="558.24" font-size="6.50" fill="#1a1a1a" font-style="italic" textLength="15.35" lengthAdjust="spacingAndGlyphs" >Tbx21</text>
<line x1="202.50" y1="575.00" x2="204.90" y2="575.00" stroke="#666" stroke-width="0.6"/>
<text x="206.50" y="577.34" font-size="6.50" fill="#1a1a1a" font-style="italic" textLength="14.42" lengthAdjust="spacingAndGlyphs" >Gzmc</text>
<line x1="202.50" y1="590.00" x2="204.90" y2="590.00" stroke="#666" stroke-width="0.6"/>
<text x="206.50" y="592.34" font-size="6.50" fill="#1a1a1a" font-style="italic" textLength="12.90" lengthAdjust="spacingAndGlyphs" >Klrg1</text>
<line x1="202.50" y1="601.50" x2="204.90" y2="601.50" stroke="#666" stroke-width="0.6"/>
<text x="206.50" y="603.84" font-size="6.50" fill="#1a1a1a" font-style="italic" textLength="14.73" lengthAdjust="spacingAndGlyphs" >Gzmb</text>
<line x1="202.50" y1="611.80" x2="204.90" y2="611.80" stroke="#666" stroke-width="0.6"/>
<text x="206.50" y="614.14" font-size="6.50" fill="#1a1a1a" font-style="italic" textLength="17.19" lengthAdjust="spacingAndGlyphs" >Slamf1</text>
<text x="22.00" y="630.00" font-size="6.80" fill="#333" text-anchor="middle" >-</text>
<text x="41.40" y="630.00" font-size="6.80" fill="#333" text-anchor="middle" >+</text>
<text x="63.20" y="630.00" font-size="6.80" fill="#333" text-anchor="middle" >-</text>
<text x="84.40" y="630.00" font-size="6.80" fill="#333" text-anchor="middle" >+</text>
<text x="128.50" y="630.00" font-size="6.80" fill="#333" text-anchor="middle" >-</text>
<text x="147.80" y="630.00" font-size="6.80" fill="#333" text-anchor="middle" >+</text>
<text x="168.80" y="630.00" font-size="6.80" fill="#333" text-anchor="middle" >-</text>
<text x="190.90" y="630.00" font-size="6.80" fill="#333" text-anchor="middle" >+</text>
<text x="52.60" y="641.80" font-size="9.80" fill="#333" text-anchor="middle" textLength="19.40" lengthAdjust="spacingAndGlyphs" >Tumor</text>
<text x="158.60" y="641.80" font-size="9.80" fill="#333" text-anchor="middle" textLength="19.40" lengthAdjust="spacingAndGlyphs" >Tumor</text>
<text x="197.40" y="491.20" font-size="5.60" fill="#333" textLength="32.30" lengthAdjust="spacingAndGlyphs" >Row Z−Score</text>
<rect x="210.60" y="495.00" width="6.00" height="26.50" fill="url(#gZ)" rx="1.2"/>
<text x="218.40" y="498.00" font-size="6.00" fill="#333" >4</text>
<text x="218.40" y="503.60" font-size="6.00" fill="#333" >2</text>
<text x="218.40" y="510.30" font-size="6.00" fill="#333" >0</text>
<text x="218.40" y="517.10" font-size="6.00" fill="#333" >−2</text>
<text x="218.40" y="523.00" font-size="6.00" fill="#333" >−4</text>
<text x="288.00" y="490.00" font-size="9.20" fill="#2b2b2b" text-anchor="middle" textLength="22.10" lengthAdjust="spacingAndGlyphs" >Day 7</text>
<text x="346.40" y="490.00" font-size="9.20" fill="#2b2b2b" text-anchor="middle" textLength="27.10" lengthAdjust="spacingAndGlyphs" >Day 21</text>
<line x1="253.80" y1="492.70" x2="322.50" y2="492.70" stroke="#5a5a5a" stroke-width="1.45"/>
<line x1="325.50" y1="492.70" x2="369.20" y2="492.70" stroke="#5a5a5a" stroke-width="1.45"/>
<text x="268.60" y="500.90" font-size="6.90" fill="#333" text-anchor="middle" textLength="9.30" lengthAdjust="spacingAndGlyphs" >WT</text>
<text x="306.10" y="500.90" font-size="6.90" fill="#333" text-anchor="middle" textLength="9.30" lengthAdjust="spacingAndGlyphs" >KO</text>
<text x="334.90" y="500.90" font-size="6.90" fill="#333" text-anchor="middle" textLength="10.20" lengthAdjust="spacingAndGlyphs" >WT</text>
<text x="358.00" y="500.90" font-size="6.90" fill="#333" text-anchor="middle" textLength="10.00" lengthAdjust="spacingAndGlyphs" >KO</text>
<text x="372.30" y="509.13" font-size="6.00" fill="#1a1a1a" font-style="italic" textLength="10.89" lengthAdjust="spacingAndGlyphs" >Ccr7</text>
<text x="372.30" y="514.25" font-size="6.00" fill="#1a1a1a" font-style="italic" textLength="7.17" lengthAdjust="spacingAndGlyphs" >Id3</text>
<text x="372.30" y="519.38" font-size="6.00" fill="#1a1a1a" font-style="italic" textLength="8.60" lengthAdjust="spacingAndGlyphs" >Sell</text>
<text x="372.30" y="524.51" font-size="6.00" fill="#1a1a1a" font-style="italic" textLength="9.75" lengthAdjust="spacingAndGlyphs" >Fasl</text>
<text x="372.30" y="529.64" font-size="6.00" fill="#1a1a1a" font-style="italic" textLength="9.46" lengthAdjust="spacingAndGlyphs" >Prf1</text>
<text x="372.30" y="534.77" font-size="6.00" fill="#1a1a1a" font-style="italic" textLength="11.48" lengthAdjust="spacingAndGlyphs" >Lag3</text>
<text x="372.30" y="539.90" font-size="6.00" fill="#1a1a1a" font-style="italic" textLength="16.06" lengthAdjust="spacingAndGlyphs" >Tnfrsf9</text>
<text x="372.30" y="545.03" font-size="6.00" fill="#1a1a1a" font-style="italic" textLength="13.76" lengthAdjust="spacingAndGlyphs" >Mki67</text>
<text x="372.30" y="550.16" font-size="6.00" fill="#1a1a1a" font-style="italic" textLength="7.45" lengthAdjust="spacingAndGlyphs" >Irf4</text>
<text x="372.30" y="555.29" font-size="6.00" fill="#1a1a1a" font-style="italic" textLength="15.20" lengthAdjust="spacingAndGlyphs" >Prdm1</text>
<text x="372.30" y="560.42" font-size="6.00" fill="#1a1a1a" font-style="italic" textLength="16.35" lengthAdjust="spacingAndGlyphs" >Entpd1</text>
<text x="372.30" y="565.55" font-size="6.00" fill="#1a1a1a" font-style="italic" textLength="16.34" lengthAdjust="spacingAndGlyphs" >Havcr2</text>
<text x="372.30" y="570.68" font-size="6.00" fill="#1a1a1a" font-style="italic" textLength="14.34" lengthAdjust="spacingAndGlyphs" >Foxo1</text>
<text x="372.30" y="575.82" font-size="6.00" fill="#1a1a1a" font-style="italic" textLength="10.04" lengthAdjust="spacingAndGlyphs" >Lef1</text>
<text x="372.30" y="580.95" font-size="6.00" fill="#1a1a1a" font-style="italic" textLength="6.02" lengthAdjust="spacingAndGlyphs" >Kit</text>
<text x="372.30" y="586.08" font-size="6.00" fill="#1a1a1a" font-style="italic" textLength="14.34" lengthAdjust="spacingAndGlyphs" >Plagl1</text>
<text x="372.30" y="591.21" font-size="6.00" fill="#1a1a1a" font-style="italic" textLength="8.89" lengthAdjust="spacingAndGlyphs" >Tlr3</text>
<text x="372.30" y="596.34" font-size="6.00" fill="#1a1a1a" font-style="italic" textLength="10.04" lengthAdjust="spacingAndGlyphs" >Xcl1</text>
<text x="372.30" y="601.47" font-size="6.00" fill="#1a1a1a" font-style="italic" textLength="18.35" lengthAdjust="spacingAndGlyphs" >Prickle1</text>
<text x="372.30" y="606.60" font-size="6.00" fill="#1a1a1a" font-style="italic" textLength="15.20" lengthAdjust="spacingAndGlyphs" >Cd226</text>
<text x="372.30" y="611.73" font-size="6.00" fill="#1a1a1a" font-style="italic" textLength="9.46" lengthAdjust="spacingAndGlyphs" >Icos</text>
<text x="372.30" y="616.86" font-size="6.00" fill="#1a1a1a" font-style="italic" textLength="9.56" lengthAdjust="spacingAndGlyphs" >Tcf7</text>
<text x="372.30" y="621.99" font-size="6.00" fill="#1a1a1a" font-style="italic" textLength="16.06" lengthAdjust="spacingAndGlyphs" >Slamf6</text>
<text x="372.30" y="627.12" font-size="6.00" fill="#1a1a1a" font-style="italic" textLength="13.76" lengthAdjust="spacingAndGlyphs" >Gzmb</text>
<text x="372.30" y="632.25" font-size="6.00" fill="#1a1a1a" font-style="italic" textLength="12.05" lengthAdjust="spacingAndGlyphs" >Klrg1</text>
<text x="372.30" y="637.38" font-size="6.00" fill="#1a1a1a" font-style="italic" textLength="16.06" lengthAdjust="spacingAndGlyphs" >Slamf1</text>
<text x="372.30" y="642.50" font-size="6.00" fill="#1a1a1a" font-style="italic" textLength="13.47" lengthAdjust="spacingAndGlyphs" >Cxcr6</text>
<text x="372.30" y="647.63" font-size="6.00" fill="#1a1a1a" font-style="italic" textLength="7.17" lengthAdjust="spacingAndGlyphs" >Id2</text>
<text x="372.30" y="652.76" font-size="6.00" fill="#1a1a1a" font-style="italic" textLength="16.34" lengthAdjust="spacingAndGlyphs" >Cx3cr1</text>
<text x="372.30" y="657.89" font-size="6.00" fill="#1a1a1a" font-style="italic" textLength="12.33" lengthAdjust="spacingAndGlyphs" >Cd38</text>
<text x="381.50" y="485.90" font-size="5.60" fill="#333" textLength="31.70" lengthAdjust="spacingAndGlyphs" >Row Z−Score</text>
<rect x="394.70" y="490.00" width="6.00" height="33.00" fill="url(#gG)" rx="1.2"/>
<text x="402.50" y="493.30" font-size="6.00" fill="#333" >3</text>
<text x="402.50" y="498.60" font-size="6.00" fill="#333" >2</text>
<text x="402.50" y="505.10" font-size="6.00" fill="#333" >1</text>
<text x="402.50" y="511.20" font-size="6.00" fill="#333" >0</text>
<text x="402.50" y="517.10" font-size="6.00" fill="#333" >−1</text>
<text x="402.50" y="523.60" font-size="6.00" fill="#333" >−2</text>
<path fill="#f3e0e2" d="M251.0 323.0h4.1v1.3h-4.1zM255.0 328.2h4.1v1.3h-4.1zM251.0 338.5h4.1v1.3h-4.1zM255.0 348.8h4.1v1.3h-4.1zM251.0 366.9h4.1v1.3h-4.1zM251.0 375.9h4.1v1.3h-4.1zM255.0 382.3h4.1v1.3h-4.1zM259.1 383.6h4.1v1.3h-4.1zM263.1 390.1h4.1v1.3h-4.1zM263.1 392.6h4.1v1.3h-4.1zM263.1 426.2h4.1v1.3h-4.1zM259.1 430.1h4.1v1.3h-4.1zM263.1 435.2h4.1v1.3h-4.1zM268.7 323.0h4.1v1.3h-4.1zM280.9 330.7h4.1v1.3h-4.1zM268.7 344.9h4.1v1.3h-4.1zM276.8 344.9h4.1v1.3h-4.1zM284.9 363.0h4.1v1.3h-4.1zM268.7 366.9h4.1v1.3h-4.1zM276.8 368.1h4.1v1.3h-4.1zM268.7 370.7h4.1v1.3h-4.1zM280.9 375.9h4.1v1.3h-4.1zM268.7 382.3h4.1v1.3h-4.1zM284.9 382.3h4.1v1.3h-4.1zM272.8 384.9h4.1v1.3h-4.1zM276.8 384.9h4.1v1.3h-4.1zM280.9 384.9h4.1v1.3h-4.1zM272.8 392.6h4.1v1.3h-4.1zM280.9 392.6h4.1v1.3h-4.1zM276.8 395.2h4.1v1.3h-4.1zM272.8 399.1h4.1v1.3h-4.1zM284.9 399.1h4.1v1.3h-4.1zM276.8 408.1h4.1v1.3h-4.1zM268.7 413.3h4.1v1.3h-4.1zM272.8 413.3h4.1v1.3h-4.1zM268.7 418.4h4.1v1.3h-4.1zM276.8 421.0h4.1v1.3h-4.1zM268.7 423.6h4.1v1.3h-4.1zM268.7 424.9h4.1v1.3h-4.1zM284.9 426.2h4.1v1.3h-4.1zM272.8 427.5h4.1v1.3h-4.1zM268.7 430.1h4.1v1.3h-4.1zM284.9 432.6h4.1v1.3h-4.1zM272.8 433.9h4.1v1.3h-4.1zM302.1 339.8h4.0v1.3h-4.0zM302.1 369.4h4.0v1.3h-4.0zM294.2 370.7h4.0v1.3h-4.0zM298.2 370.7h4.0v1.3h-4.0zM306.1 370.7h4.0v1.3h-4.0zM298.2 373.3h4.0v1.3h-4.0zM298.2 382.3h4.0v1.3h-4.0zM290.3 386.2h4.0v1.3h-4.0zM298.2 406.8h4.0v1.3h-4.0zM360.0 352.7h4.0v1.3h-4.0zM364.0 352.7h4.0v1.3h-4.0zM368.0 383.6h4.0v1.3h-4.0zM364.0 393.9h4.0v1.3h-4.0zM372.0 400.4h4.0v1.3h-4.0zM364.0 403.0h4.0v1.3h-4.0zM364.0 418.4h4.0v1.3h-4.0zM368.0 418.4h4.0v1.3h-4.0zM372.0 424.9h4.0v1.3h-4.0zM368.0 426.2h4.0v1.3h-4.0zM372.0 426.2h4.0v1.3h-4.0zM393.6 334.6h4.1v1.3h-4.1zM377.2 338.5h4.1v1.3h-4.1zM381.3 339.8h4.1v1.3h-4.1zM381.3 350.1h4.1v1.3h-4.1zM377.2 354.0h4.1v1.3h-4.1zM385.4 357.8h4.1v1.3h-4.1zM389.5 357.8h4.1v1.3h-4.1zM385.4 359.1h4.1v1.3h-4.1zM377.2 360.4h4.1v1.3h-4.1zM381.3 360.4h4.1v1.3h-4.1zM389.5 361.7h4.1v1.3h-4.1zM385.4 363.0h4.1v1.3h-4.1zM377.2 365.6h4.1v1.3h-4.1zM381.3 365.6h4.1v1.3h-4.1zM393.6 365.6h4.1v1.3h-4.1zM377.2 370.7h4.1v1.3h-4.1zM377.2 372.0h4.1v1.3h-4.1zM377.2 378.5h4.1v1.3h-4.1zM393.6 378.5h4.1v1.3h-4.1zM377.2 379.8h4.1v1.3h-4.1zM381.3 379.8h4.1v1.3h-4.1zM385.4 382.3h4.1v1.3h-4.1zM389.5 382.3h4.1v1.3h-4.1zM385.4 383.6h4.1v1.3h-4.1zM393.6 387.5h4.1v1.3h-4.1zM381.3 388.8h4.1v1.3h-4.1zM377.2 390.1h4.1v1.3h-4.1zM385.4 395.2h4.1v1.3h-4.1zM393.6 399.1h4.1v1.3h-4.1zM381.3 405.5h4.1v1.3h-4.1zM389.5 406.8h4.1v1.3h-4.1zM393.6 406.8h4.1v1.3h-4.1zM389.5 408.1h4.1v1.3h-4.1zM381.3 410.7h4.1v1.3h-4.1zM377.2 413.3h4.1v1.3h-4.1zM385.4 413.3h4.1v1.3h-4.1zM389.5 413.3h4.1v1.3h-4.1zM389.5 414.6h4.1v1.3h-4.1zM385.4 417.2h4.1v1.3h-4.1zM385.4 419.7h4.1v1.3h-4.1zM377.2 426.2h4.1v1.3h-4.1zM389.5 431.3h4.1v1.3h-4.1zM389.5 432.6h4.1v1.3h-4.1zM389.5 435.2h4.1v1.3h-4.1zM415.2 363.0h4.1v1.3h-4.1zM411.1 397.8h4.1v1.3h-4.1zM403.0 433.9h4.1v1.3h-4.1zM411.1 433.9h4.1v1.3h-4.1zM432.6 364.3h4.0v1.3h-4.0zM424.7 372.0h4.0v1.3h-4.0zM432.6 372.0h4.0v1.3h-4.0zM436.6 409.4h4.0v1.3h-4.0zM420.8 410.7h4.0v1.3h-4.0zM17.9 511.9h4.1v1.8h-4.1zM17.9 552.9h4.1v1.8h-4.1zM13.8 558.3h4.1v1.8h-4.1zM13.8 574.3h4.1v1.8h-4.1zM13.8 577.9h4.1v1.8h-4.1zM17.9 593.9h4.1v1.8h-4.1zM25.9 597.4h4.1v1.8h-4.1zM21.9 611.7h4.1v1.8h-4.1zM25.9 613.5h4.1v1.8h-4.1zM31.4 547.6h4.2v1.8h-4.2zM47.9 565.4h4.2v1.8h-4.2zM39.6 608.1h4.2v1.8h-4.2zM64.9 511.9h4.0v1.8h-4.0zM53.0 519.1h4.0v1.8h-4.0zM64.9 538.7h4.0v1.8h-4.0zM64.9 545.8h4.0v1.8h-4.0zM64.9 565.4h4.0v1.8h-4.0zM64.9 572.5h4.0v1.8h-4.0zM57.0 595.7h4.0v1.8h-4.0zM57.0 606.4h4.0v1.8h-4.0zM90.7 506.6h4.1v1.8h-4.1zM86.6 513.7h4.1v1.8h-4.1zM78.5 545.8h4.1v1.8h-4.1zM74.4 554.7h4.1v1.8h-4.1zM74.4 558.3h4.1v1.8h-4.1zM82.6 563.6h4.1v1.8h-4.1zM82.6 565.4h4.1v1.8h-4.1zM78.5 581.4h4.1v1.8h-4.1zM86.6 585.0h4.1v1.8h-4.1zM86.6 586.8h4.1v1.8h-4.1zM74.4 593.9h4.1v1.8h-4.1zM90.7 618.8h4.1v1.8h-4.1zM128.5 539.1h4.0v1.8h-4.0zM124.5 549.7h4.0v1.8h-4.0zM124.5 556.8h4.0v1.8h-4.0zM124.5 588.8h4.0v1.8h-4.0zM128.5 597.6h4.0v1.8h-4.0zM146.0 514.2h4.0v1.8h-4.0zM142.0 560.4h4.0v1.8h-4.0zM150.0 560.4h4.0v1.8h-4.0zM150.0 578.1h4.0v1.8h-4.0zM146.0 581.7h4.0v1.8h-4.0zM150.0 590.5h4.0v1.8h-4.0zM142.0 594.1h4.0v1.8h-4.0zM150.0 604.7h4.0v1.8h-4.0zM138.0 617.2h4.0v1.8h-4.0zM159.3 608.3h4.1v1.8h-4.1zM181.0 507.1h4.1v1.8h-4.1zM197.1 514.2h4.1v1.8h-4.1zM181.0 517.8h4.1v1.8h-4.1zM189.0 524.9h4.1v1.8h-4.1zM197.1 528.4h4.1v1.8h-4.1zM197.1 539.1h4.1v1.8h-4.1zM185.0 540.8h4.1v1.8h-4.1zM181.0 546.2h4.1v1.8h-4.1zM193.1 547.9h4.1v1.8h-4.1zM181.0 549.7h4.1v1.8h-4.1zM189.0 551.5h4.1v1.8h-4.1zM197.1 572.8h4.1v1.8h-4.1zM185.0 574.6h4.1v1.8h-4.1zM193.1 574.6h4.1v1.8h-4.1zM197.1 576.3h4.1v1.8h-4.1zM181.0 578.1h4.1v1.8h-4.1zM181.0 579.9h4.1v1.8h-4.1zM181.0 581.7h4.1v1.8h-4.1zM181.0 583.4h4.1v1.8h-4.1zM197.1 590.5h4.1v1.8h-4.1zM197.1 597.6h4.1v1.8h-4.1zM185.0 599.4h4.1v1.8h-4.1zM197.1 613.6h4.1v1.8h-4.1zM197.1 615.4h4.1v1.8h-4.1zM193.1 617.2h4.1v1.8h-4.1zM197.1 617.2h4.1v1.8h-4.1zM280.1 508.9h7.1v5.2h-7.1zM258.9 524.3h7.1v5.2h-7.1zM258.9 534.6h7.1v5.2h-7.1zM273.0 534.6h7.1v5.2h-7.1zM280.1 555.1h7.1v5.2h-7.1zM258.9 570.5h7.1v5.2h-7.1zM251.8 616.7h7.1v5.2h-7.1zM266.0 647.4h7.1v5.2h-7.1zM310.0 550.0h7.1v5.2h-7.1zM302.9 570.5h7.1v5.2h-7.1zM317.0 570.5h7.1v5.2h-7.1zM310.0 575.6h7.1v5.2h-7.1zM310.0 585.9h7.1v5.2h-7.1zM288.9 626.9h7.1v5.2h-7.1zM295.9 626.9h7.1v5.2h-7.1zM288.9 652.6h7.1v5.2h-7.1zM295.9 652.6h7.1v5.2h-7.1zM339.8 544.8h7.0v5.2h-7.0zM339.8 550.0h7.0v5.2h-7.0zM355.5 575.6h7.0v5.2h-7.0zM348.6 585.9h7.0v5.2h-7.0z"/>
<path fill="#d3d2e7" d="M255.0 323.0h4.1v1.3h-4.1zM259.1 330.7h4.1v1.3h-4.1zM251.0 332.0h4.1v1.3h-4.1zM255.0 335.9h4.1v1.3h-4.1zM251.0 337.2h4.1v1.3h-4.1zM255.0 341.1h4.1v1.3h-4.1zM263.1 341.1h4.1v1.3h-4.1zM251.0 360.4h4.1v1.3h-4.1zM259.1 361.7h4.1v1.3h-4.1zM251.0 363.0h4.1v1.3h-4.1zM263.1 365.6h4.1v1.3h-4.1zM263.1 375.9h4.1v1.3h-4.1zM259.1 384.9h4.1v1.3h-4.1zM259.1 397.8h4.1v1.3h-4.1zM255.0 424.9h4.1v1.3h-4.1zM251.0 426.2h4.1v1.3h-4.1zM251.0 430.1h4.1v1.3h-4.1zM251.0 431.3h4.1v1.3h-4.1zM255.0 432.6h4.1v1.3h-4.1zM251.0 435.2h4.1v1.3h-4.1zM280.9 325.6h4.1v1.3h-4.1zM268.7 329.4h4.1v1.3h-4.1zM268.7 332.0h4.1v1.3h-4.1zM268.7 334.6h4.1v1.3h-4.1zM268.7 337.2h4.1v1.3h-4.1zM276.8 337.2h4.1v1.3h-4.1zM284.9 337.2h4.1v1.3h-4.1zM268.7 341.1h4.1v1.3h-4.1zM276.8 341.1h4.1v1.3h-4.1zM280.9 341.1h4.1v1.3h-4.1zM276.8 346.2h4.1v1.3h-4.1zM272.8 347.5h4.1v1.3h-4.1zM280.9 351.4h4.1v1.3h-4.1zM268.7 352.7h4.1v1.3h-4.1zM284.9 352.7h4.1v1.3h-4.1zM272.8 354.0h4.1v1.3h-4.1zM276.8 354.0h4.1v1.3h-4.1zM276.8 355.2h4.1v1.3h-4.1zM272.8 360.4h4.1v1.3h-4.1zM276.8 360.4h4.1v1.3h-4.1zM276.8 361.7h4.1v1.3h-4.1zM272.8 368.1h4.1v1.3h-4.1zM268.7 374.6h4.1v1.3h-4.1zM280.9 377.2h4.1v1.3h-4.1zM280.9 379.8h4.1v1.3h-4.1zM284.9 379.8h4.1v1.3h-4.1zM284.9 381.0h4.1v1.3h-4.1zM272.8 388.8h4.1v1.3h-4.1zM272.8 390.1h4.1v1.3h-4.1zM280.9 390.1h4.1v1.3h-4.1zM284.9 391.4h4.1v1.3h-4.1zM284.9 397.8h4.1v1.3h-4.1zM268.7 399.1h4.1v1.3h-4.1zM272.8 400.4h4.1v1.3h-4.1zM276.8 404.3h4.1v1.3h-4.1zM268.7 405.5h4.1v1.3h-4.1zM272.8 405.5h4.1v1.3h-4.1zM284.9 405.5h4.1v1.3h-4.1zM272.8 406.8h4.1v1.3h-4.1zM276.8 406.8h4.1v1.3h-4.1zM268.7 414.6h4.1v1.3h-4.1zM272.8 422.3h4.1v1.3h-4.1zM284.9 422.3h4.1v1.3h-4.1zM284.9 423.6h4.1v1.3h-4.1zM272.8 426.2h4.1v1.3h-4.1zM276.8 426.2h4.1v1.3h-4.1zM276.8 428.8h4.1v1.3h-4.1zM306.1 333.3h4.0v1.3h-4.0zM298.2 369.4h4.0v1.3h-4.0zM360.0 382.3h4.0v1.3h-4.0zM368.0 421.0h4.0v1.3h-4.0zM381.3 323.0h4.1v1.3h-4.1zM393.6 324.3h4.1v1.3h-4.1zM389.5 329.4h4.1v1.3h-4.1zM385.4 334.6h4.1v1.3h-4.1zM377.2 335.9h4.1v1.3h-4.1zM381.3 335.9h4.1v1.3h-4.1zM385.4 335.9h4.1v1.3h-4.1zM385.4 337.2h4.1v1.3h-4.1zM389.5 344.9h4.1v1.3h-4.1zM385.4 346.2h4.1v1.3h-4.1zM389.5 346.2h4.1v1.3h-4.1zM377.2 348.8h4.1v1.3h-4.1zM381.3 348.8h4.1v1.3h-4.1zM377.2 350.1h4.1v1.3h-4.1zM385.4 350.1h4.1v1.3h-4.1zM393.6 360.4h4.1v1.3h-4.1zM385.4 361.7h4.1v1.3h-4.1zM389.5 366.9h4.1v1.3h-4.1zM377.2 369.4h4.1v1.3h-4.1zM381.3 369.4h4.1v1.3h-4.1zM381.3 372.0h4.1v1.3h-4.1zM385.4 374.6h4.1v1.3h-4.1zM389.5 377.2h4.1v1.3h-4.1zM381.3 378.5h4.1v1.3h-4.1zM389.5 390.1h4.1v1.3h-4.1zM377.2 400.4h4.1v1.3h-4.1zM377.2 404.3h4.1v1.3h-4.1zM393.6 408.1h4.1v1.3h-4.1zM403.0 324.3h4.1v1.3h-4.1zM403.0 355.2h4.1v1.3h-4.1zM407.1 361.7h4.1v1.3h-4.1zM399.0 363.0h4.1v1.3h-4.1zM407.1 368.1h4.1v1.3h-4.1zM415.2 372.0h4.1v1.3h-4.1zM399.0 387.5h4.1v1.3h-4.1zM411.1 388.8h4.1v1.3h-4.1zM403.0 393.9h4.1v1.3h-4.1zM407.1 399.1h4.1v1.3h-4.1zM411.1 418.4h4.1v1.3h-4.1zM399.0 433.9h4.1v1.3h-4.1zM424.7 323.0h4.0v1.3h-4.0zM428.7 323.0h4.0v1.3h-4.0zM424.7 325.6h4.0v1.3h-4.0zM432.6 325.6h4.0v1.3h-4.0zM424.7 342.3h4.0v1.3h-4.0zM420.8 347.5h4.0v1.3h-4.0zM436.6 347.5h4.0v1.3h-4.0zM428.7 354.0h4.0v1.3h-4.0zM420.8 355.2h4.0v1.3h-4.0zM432.6 355.2h4.0v1.3h-4.0zM432.6 356.5h4.0v1.3h-4.0zM432.6 361.7h4.0v1.3h-4.0zM424.7 364.3h4.0v1.3h-4.0zM436.6 370.7h4.0v1.3h-4.0zM424.7 373.3h4.0v1.3h-4.0zM436.6 374.6h4.0v1.3h-4.0zM428.7 378.5h4.0v1.3h-4.0zM432.6 387.5h4.0v1.3h-4.0zM420.8 388.8h4.0v1.3h-4.0zM428.7 390.1h4.0v1.3h-4.0zM428.7 395.2h4.0v1.3h-4.0zM432.6 395.2h4.0v1.3h-4.0zM420.8 414.6h4.0v1.3h-4.0zM424.7 418.4h4.0v1.3h-4.0zM428.7 427.5h4.0v1.3h-4.0zM25.9 511.9h4.1v1.8h-4.1zM25.9 517.3h4.1v1.8h-4.1zM25.9 542.2h4.1v1.8h-4.1zM21.9 545.8h4.1v1.8h-4.1zM17.9 561.8h4.1v1.8h-4.1zM13.8 568.9h4.1v1.8h-4.1zM21.9 604.6h4.1v1.8h-4.1zM17.9 611.7h4.1v1.8h-4.1zM68.9 506.6h4.0v1.8h-4.0zM57.0 510.2h4.0v1.8h-4.0zM64.9 510.2h4.0v1.8h-4.0zM53.0 513.7h4.0v1.8h-4.0zM68.9 522.6h4.0v1.8h-4.0zM61.0 531.5h4.0v1.8h-4.0zM64.9 542.2h4.0v1.8h-4.0zM53.0 549.4h4.0v1.8h-4.0zM68.9 554.7h4.0v1.8h-4.0zM53.0 556.5h4.0v1.8h-4.0zM68.9 556.5h4.0v1.8h-4.0zM57.0 572.5h4.0v1.8h-4.0zM61.0 576.1h4.0v1.8h-4.0zM53.0 577.9h4.0v1.8h-4.0zM57.0 581.4h4.0v1.8h-4.0zM64.9 581.4h4.0v1.8h-4.0zM61.0 588.5h4.0v1.8h-4.0zM68.9 597.4h4.0v1.8h-4.0zM53.0 604.6h4.0v1.8h-4.0zM61.0 604.6h4.0v1.8h-4.0zM61.0 615.3h4.0v1.8h-4.0zM86.6 510.2h4.1v1.8h-4.1zM86.6 511.9h4.1v1.8h-4.1zM90.7 519.1h4.1v1.8h-4.1zM78.5 520.9h4.1v1.8h-4.1zM86.6 520.9h4.1v1.8h-4.1zM82.6 524.4h4.1v1.8h-4.1zM78.5 565.4h4.1v1.8h-4.1zM86.6 597.4h4.1v1.8h-4.1zM90.7 597.4h4.1v1.8h-4.1zM132.5 533.7h4.0v1.8h-4.0zM124.5 551.5h4.0v1.8h-4.0zM132.5 551.5h4.0v1.8h-4.0zM124.5 553.2h4.0v1.8h-4.0zM132.5 560.4h4.0v1.8h-4.0zM120.5 604.7h4.0v1.8h-4.0zM124.5 611.8h4.0v1.8h-4.0zM132.5 613.6h4.0v1.8h-4.0zM128.5 617.2h4.0v1.8h-4.0zM142.0 508.9h4.0v1.8h-4.0zM150.0 516.0h4.0v1.8h-4.0zM146.0 517.8h4.0v1.8h-4.0zM146.0 524.9h4.0v1.8h-4.0zM146.0 528.4h4.0v1.8h-4.0zM142.0 539.1h4.0v1.8h-4.0zM138.0 553.2h4.0v1.8h-4.0zM142.0 562.1h4.0v1.8h-4.0zM154.0 581.7h4.0v1.8h-4.0zM146.0 590.5h4.0v1.8h-4.0zM150.0 594.1h4.0v1.8h-4.0zM142.0 601.2h4.0v1.8h-4.0zM146.0 601.2h4.0v1.8h-4.0zM138.0 608.3h4.0v1.8h-4.0zM138.0 613.6h4.0v1.8h-4.0zM154.0 615.4h4.0v1.8h-4.0zM185.0 507.1h4.1v1.8h-4.1zM197.1 510.7h4.1v1.8h-4.1zM185.0 512.4h4.1v1.8h-4.1zM189.0 514.2h4.1v1.8h-4.1zM193.1 517.8h4.1v1.8h-4.1zM185.0 519.5h4.1v1.8h-4.1zM185.0 521.3h4.1v1.8h-4.1zM193.1 521.3h4.1v1.8h-4.1zM185.0 524.9h4.1v1.8h-4.1zM189.0 526.6h4.1v1.8h-4.1zM181.0 528.4h4.1v1.8h-4.1zM181.0 530.2h4.1v1.8h-4.1zM189.0 530.2h4.1v1.8h-4.1zM189.0 533.7h4.1v1.8h-4.1zM181.0 535.5h4.1v1.8h-4.1zM185.0 535.5h4.1v1.8h-4.1zM193.1 537.3h4.1v1.8h-4.1zM189.0 547.9h4.1v1.8h-4.1zM185.0 553.2h4.1v1.8h-4.1zM185.0 560.4h4.1v1.8h-4.1zM193.1 560.4h4.1v1.8h-4.1zM197.1 578.1h4.1v1.8h-4.1zM193.1 592.3h4.1v1.8h-4.1zM181.0 604.7h4.1v1.8h-4.1zM185.0 608.3h4.1v1.8h-4.1zM189.0 608.3h4.1v1.8h-4.1zM181.0 610.1h4.1v1.8h-4.1zM193.1 613.6h4.1v1.8h-4.1zM181.0 615.4h4.1v1.8h-4.1zM197.1 618.9h4.1v1.8h-4.1zM251.8 524.3h7.1v5.2h-7.1zM258.9 544.8h7.1v5.2h-7.1zM251.8 555.1h7.1v5.2h-7.1zM273.0 570.5h7.1v5.2h-7.1zM280.1 580.8h7.1v5.2h-7.1zM273.0 585.9h7.1v5.2h-7.1zM266.0 621.8h7.1v5.2h-7.1zM266.0 626.9h7.1v5.2h-7.1zM273.0 626.9h7.1v5.2h-7.1zM273.0 647.4h7.1v5.2h-7.1zM266.0 652.6h7.1v5.2h-7.1zM302.9 544.8h7.1v5.2h-7.1zM288.9 555.1h7.1v5.2h-7.1zM302.9 560.2h7.1v5.2h-7.1zM310.0 560.2h7.1v5.2h-7.1zM310.0 570.5h7.1v5.2h-7.1zM295.9 585.9h7.1v5.2h-7.1zM302.9 591.0h7.1v5.2h-7.1zM310.0 611.5h7.1v5.2h-7.1zM332.9 503.8h7.0v5.2h-7.0zM325.9 514.1h7.0v5.2h-7.0zM339.8 534.6h7.0v5.2h-7.0zM325.9 575.6h7.0v5.2h-7.0zM332.9 575.6h7.0v5.2h-7.0zM332.9 596.1h7.0v5.2h-7.0zM339.8 626.9h7.0v5.2h-7.0zM362.5 534.6h7.0v5.2h-7.0zM348.6 539.7h7.0v5.2h-7.0zM362.5 539.7h7.0v5.2h-7.0zM362.5 560.2h7.0v5.2h-7.0zM355.5 585.9h7.0v5.2h-7.0z"/>
<path fill="#b6b4d8" d="M259.1 323.0h4.1v1.3h-4.1zM255.0 325.6h4.1v1.3h-4.1zM263.1 326.9h4.1v1.3h-4.1zM259.1 329.4h4.1v1.3h-4.1zM255.0 330.7h4.1v1.3h-4.1zM255.0 337.2h4.1v1.3h-4.1zM259.1 337.2h4.1v1.3h-4.1zM263.1 338.5h4.1v1.3h-4.1zM259.1 339.8h4.1v1.3h-4.1zM255.0 342.3h4.1v1.3h-4.1zM255.0 346.2h4.1v1.3h-4.1zM255.0 350.1h4.1v1.3h-4.1zM255.0 352.7h4.1v1.3h-4.1zM263.1 355.2h4.1v1.3h-4.1zM259.1 356.5h4.1v1.3h-4.1zM251.0 357.8h4.1v1.3h-4.1zM259.1 357.8h4.1v1.3h-4.1zM259.1 360.4h4.1v1.3h-4.1zM255.0 363.0h4.1v1.3h-4.1zM255.0 364.3h4.1v1.3h-4.1zM255.0 375.9h4.1v1.3h-4.1zM259.1 375.9h4.1v1.3h-4.1zM251.0 379.8h4.1v1.3h-4.1zM263.1 387.5h4.1v1.3h-4.1zM263.1 391.4h4.1v1.3h-4.1zM263.1 406.8h4.1v1.3h-4.1zM255.0 410.7h4.1v1.3h-4.1zM259.1 410.7h4.1v1.3h-4.1zM251.0 421.0h4.1v1.3h-4.1zM255.0 421.0h4.1v1.3h-4.1zM251.0 422.3h4.1v1.3h-4.1zM255.0 422.3h4.1v1.3h-4.1zM251.0 424.9h4.1v1.3h-4.1zM268.7 325.6h4.1v1.3h-4.1zM268.7 326.9h4.1v1.3h-4.1zM272.8 326.9h4.1v1.3h-4.1zM284.9 326.9h4.1v1.3h-4.1zM268.7 328.2h4.1v1.3h-4.1zM276.8 329.4h4.1v1.3h-4.1zM280.9 329.4h4.1v1.3h-4.1zM276.8 330.7h4.1v1.3h-4.1zM272.8 334.6h4.1v1.3h-4.1zM280.9 335.9h4.1v1.3h-4.1zM272.8 348.8h4.1v1.3h-4.1zM280.9 348.8h4.1v1.3h-4.1zM276.8 350.1h4.1v1.3h-4.1zM268.7 351.4h4.1v1.3h-4.1zM272.8 352.7h4.1v1.3h-4.1zM284.9 357.8h4.1v1.3h-4.1zM268.7 359.1h4.1v1.3h-4.1zM280.9 361.7h4.1v1.3h-4.1zM268.7 364.3h4.1v1.3h-4.1zM272.8 369.4h4.1v1.3h-4.1zM284.9 370.7h4.1v1.3h-4.1zM272.8 374.6h4.1v1.3h-4.1zM268.7 377.2h4.1v1.3h-4.1zM268.7 383.6h4.1v1.3h-4.1zM276.8 383.6h4.1v1.3h-4.1zM276.8 386.2h4.1v1.3h-4.1zM272.8 387.5h4.1v1.3h-4.1zM284.9 387.5h4.1v1.3h-4.1zM276.8 393.9h4.1v1.3h-4.1zM280.9 396.5h4.1v1.3h-4.1zM276.8 400.4h4.1v1.3h-4.1zM280.9 409.4h4.1v1.3h-4.1zM280.9 414.6h4.1v1.3h-4.1zM276.8 418.4h4.1v1.3h-4.1zM284.9 431.3h4.1v1.3h-4.1zM272.8 432.6h4.1v1.3h-4.1zM298.2 333.3h4.0v1.3h-4.0zM360.0 413.3h4.0v1.3h-4.0zM377.2 323.0h4.1v1.3h-4.1zM377.2 325.6h4.1v1.3h-4.1zM385.4 326.9h4.1v1.3h-4.1zM385.4 329.4h4.1v1.3h-4.1zM381.3 334.6h4.1v1.3h-4.1zM389.5 335.9h4.1v1.3h-4.1zM381.3 341.1h4.1v1.3h-4.1zM389.5 343.6h4.1v1.3h-4.1zM385.4 344.9h4.1v1.3h-4.1zM381.3 346.2h4.1v1.3h-4.1zM389.5 348.8h4.1v1.3h-4.1zM393.6 348.8h4.1v1.3h-4.1zM389.5 351.4h4.1v1.3h-4.1zM385.4 366.9h4.1v1.3h-4.1zM393.6 369.4h4.1v1.3h-4.1zM389.5 373.3h4.1v1.3h-4.1zM393.6 374.6h4.1v1.3h-4.1zM381.3 400.4h4.1v1.3h-4.1zM377.2 401.7h4.1v1.3h-4.1zM381.3 401.7h4.1v1.3h-4.1zM377.2 406.8h4.1v1.3h-4.1zM381.3 418.4h4.1v1.3h-4.1zM385.4 418.4h4.1v1.3h-4.1zM399.0 324.3h4.1v1.3h-4.1zM407.1 324.3h4.1v1.3h-4.1zM411.1 324.3h4.1v1.3h-4.1zM415.2 324.3h4.1v1.3h-4.1zM407.1 332.0h4.1v1.3h-4.1zM399.0 334.6h4.1v1.3h-4.1zM407.1 337.2h4.1v1.3h-4.1zM399.0 339.8h4.1v1.3h-4.1zM403.0 339.8h4.1v1.3h-4.1zM407.1 339.8h4.1v1.3h-4.1zM407.1 341.1h4.1v1.3h-4.1zM411.1 341.1h4.1v1.3h-4.1zM411.1 352.7h4.1v1.3h-4.1zM403.0 369.4h4.1v1.3h-4.1zM411.1 369.4h4.1v1.3h-4.1zM415.2 369.4h4.1v1.3h-4.1zM399.0 370.7h4.1v1.3h-4.1zM399.0 372.0h4.1v1.3h-4.1zM415.2 373.3h4.1v1.3h-4.1zM399.0 378.5h4.1v1.3h-4.1zM415.2 378.5h4.1v1.3h-4.1zM399.0 390.1h4.1v1.3h-4.1zM403.0 397.8h4.1v1.3h-4.1zM415.2 399.1h4.1v1.3h-4.1zM407.1 401.7h4.1v1.3h-4.1zM403.0 409.4h4.1v1.3h-4.1zM436.6 323.0h4.0v1.3h-4.0zM420.8 324.3h4.0v1.3h-4.0zM436.6 325.6h4.0v1.3h-4.0zM432.6 328.2h4.0v1.3h-4.0zM420.8 330.7h4.0v1.3h-4.0zM424.7 333.3h4.0v1.3h-4.0zM420.8 334.6h4.0v1.3h-4.0zM420.8 337.2h4.0v1.3h-4.0zM436.6 339.8h4.0v1.3h-4.0zM420.8 342.3h4.0v1.3h-4.0zM424.7 346.2h4.0v1.3h-4.0zM420.8 356.5h4.0v1.3h-4.0zM420.8 365.6h4.0v1.3h-4.0zM424.7 366.9h4.0v1.3h-4.0zM424.7 370.7h4.0v1.3h-4.0zM428.7 370.7h4.0v1.3h-4.0zM420.8 372.0h4.0v1.3h-4.0zM424.7 374.6h4.0v1.3h-4.0zM432.6 374.6h4.0v1.3h-4.0zM432.6 377.2h4.0v1.3h-4.0zM424.7 378.5h4.0v1.3h-4.0zM432.6 382.3h4.0v1.3h-4.0zM436.6 383.6h4.0v1.3h-4.0zM420.8 384.9h4.0v1.3h-4.0zM436.6 386.2h4.0v1.3h-4.0zM436.6 391.4h4.0v1.3h-4.0zM424.7 392.6h4.0v1.3h-4.0zM428.7 397.8h4.0v1.3h-4.0zM432.6 400.4h4.0v1.3h-4.0zM424.7 406.8h4.0v1.3h-4.0zM428.7 406.8h4.0v1.3h-4.0zM428.7 415.9h4.0v1.3h-4.0zM436.6 415.9h4.0v1.3h-4.0zM428.7 417.2h4.0v1.3h-4.0zM436.6 418.4h4.0v1.3h-4.0zM420.8 419.7h4.0v1.3h-4.0zM424.7 421.0h4.0v1.3h-4.0zM420.8 428.8h4.0v1.3h-4.0zM420.8 431.3h4.0v1.3h-4.0zM428.7 431.3h4.0v1.3h-4.0zM432.6 431.3h4.0v1.3h-4.0zM436.6 431.3h4.0v1.3h-4.0zM436.6 433.9h4.0v1.3h-4.0zM21.9 506.6h4.1v1.8h-4.1zM17.9 563.6h4.1v1.8h-4.1zM68.9 510.2h4.0v1.8h-4.0zM68.9 517.3h4.0v1.8h-4.0zM57.0 519.1h4.0v1.8h-4.0zM57.0 526.2h4.0v1.8h-4.0zM61.0 526.2h4.0v1.8h-4.0zM68.9 531.5h4.0v1.8h-4.0zM53.0 547.6h4.0v1.8h-4.0zM68.9 547.6h4.0v1.8h-4.0zM64.9 549.4h4.0v1.8h-4.0zM57.0 552.9h4.0v1.8h-4.0zM68.9 552.9h4.0v1.8h-4.0zM61.0 558.3h4.0v1.8h-4.0zM53.0 561.8h4.0v1.8h-4.0zM61.0 563.6h4.0v1.8h-4.0zM68.9 565.4h4.0v1.8h-4.0zM53.0 570.7h4.0v1.8h-4.0zM61.0 570.7h4.0v1.8h-4.0zM68.9 572.5h4.0v1.8h-4.0zM61.0 574.3h4.0v1.8h-4.0zM57.0 576.1h4.0v1.8h-4.0zM53.0 581.4h4.0v1.8h-4.0zM61.0 585.0h4.0v1.8h-4.0zM64.9 585.0h4.0v1.8h-4.0zM68.9 588.5h4.0v1.8h-4.0zM68.9 593.9h4.0v1.8h-4.0zM68.9 615.3h4.0v1.8h-4.0zM61.0 617.0h4.0v1.8h-4.0zM61.0 618.8h4.0v1.8h-4.0zM78.5 506.6h4.1v1.8h-4.1zM78.5 508.4h4.1v1.8h-4.1zM78.5 515.5h4.1v1.8h-4.1zM82.6 515.5h4.1v1.8h-4.1zM82.6 517.3h4.1v1.8h-4.1zM74.4 522.6h4.1v1.8h-4.1zM90.7 522.6h4.1v1.8h-4.1zM86.6 524.4h4.1v1.8h-4.1zM74.4 565.4h4.1v1.8h-4.1zM78.5 583.2h4.1v1.8h-4.1zM120.5 507.1h4.0v1.8h-4.0zM124.5 507.1h4.0v1.8h-4.0zM132.5 510.7h4.0v1.8h-4.0zM132.5 521.3h4.0v1.8h-4.0zM120.5 523.1h4.0v1.8h-4.0zM124.5 523.1h4.0v1.8h-4.0zM120.5 526.6h4.0v1.8h-4.0zM120.5 528.4h4.0v1.8h-4.0zM124.5 528.4h4.0v1.8h-4.0zM128.5 532.0h4.0v1.8h-4.0zM120.5 537.3h4.0v1.8h-4.0zM132.5 540.8h4.0v1.8h-4.0zM132.5 544.4h4.0v1.8h-4.0zM120.5 551.5h4.0v1.8h-4.0zM124.5 562.1h4.0v1.8h-4.0zM120.5 571.0h4.0v1.8h-4.0zM128.5 576.3h4.0v1.8h-4.0zM120.5 578.1h4.0v1.8h-4.0zM132.5 579.9h4.0v1.8h-4.0zM128.5 581.7h4.0v1.8h-4.0zM132.5 583.4h4.0v1.8h-4.0zM128.5 585.2h4.0v1.8h-4.0zM120.5 592.3h4.0v1.8h-4.0zM124.5 592.3h4.0v1.8h-4.0zM124.5 610.1h4.0v1.8h-4.0zM120.5 618.9h4.0v1.8h-4.0zM124.5 618.9h4.0v1.8h-4.0zM138.0 507.1h4.0v1.8h-4.0zM154.0 507.1h4.0v1.8h-4.0zM142.0 517.8h4.0v1.8h-4.0zM154.0 519.5h4.0v1.8h-4.0zM138.0 521.3h4.0v1.8h-4.0zM150.0 528.4h4.0v1.8h-4.0zM150.0 530.2h4.0v1.8h-4.0zM154.0 530.2h4.0v1.8h-4.0zM154.0 535.5h4.0v1.8h-4.0zM142.0 540.8h4.0v1.8h-4.0zM146.0 542.6h4.0v1.8h-4.0zM154.0 542.6h4.0v1.8h-4.0zM150.0 544.4h4.0v1.8h-4.0zM150.0 549.7h4.0v1.8h-4.0zM142.0 558.6h4.0v1.8h-4.0zM146.0 558.6h4.0v1.8h-4.0zM150.0 562.1h4.0v1.8h-4.0zM146.0 563.9h4.0v1.8h-4.0zM146.0 567.5h4.0v1.8h-4.0zM154.0 571.0h4.0v1.8h-4.0zM138.0 576.3h4.0v1.8h-4.0zM142.0 581.7h4.0v1.8h-4.0zM150.0 581.7h4.0v1.8h-4.0zM150.0 587.0h4.0v1.8h-4.0zM146.0 588.8h4.0v1.8h-4.0zM154.0 592.3h4.0v1.8h-4.0zM146.0 597.6h4.0v1.8h-4.0zM150.0 599.4h4.0v1.8h-4.0zM154.0 601.2h4.0v1.8h-4.0zM146.0 603.0h4.0v1.8h-4.0zM138.0 604.7h4.0v1.8h-4.0zM154.0 608.3h4.0v1.8h-4.0zM146.0 610.1h4.0v1.8h-4.0zM193.1 510.7h4.1v1.8h-4.1zM197.1 517.8h4.1v1.8h-4.1zM189.0 519.5h4.1v1.8h-4.1zM193.1 519.5h4.1v1.8h-4.1zM181.0 523.1h4.1v1.8h-4.1zM181.0 526.6h4.1v1.8h-4.1zM197.1 537.3h4.1v1.8h-4.1zM181.0 540.8h4.1v1.8h-4.1zM197.1 542.6h4.1v1.8h-4.1zM193.1 565.7h4.1v1.8h-4.1zM185.0 567.5h4.1v1.8h-4.1zM197.1 585.2h4.1v1.8h-4.1zM189.0 592.3h4.1v1.8h-4.1zM197.1 595.9h4.1v1.8h-4.1zM189.0 599.4h4.1v1.8h-4.1zM197.1 599.4h4.1v1.8h-4.1zM189.0 604.7h4.1v1.8h-4.1zM189.0 606.5h4.1v1.8h-4.1zM258.9 539.7h7.1v5.2h-7.1zM258.9 550.0h7.1v5.2h-7.1zM258.9 560.2h7.1v5.2h-7.1zM280.1 565.4h7.1v5.2h-7.1zM280.1 585.9h7.1v5.2h-7.1zM273.0 591.0h7.1v5.2h-7.1zM258.9 596.1h7.1v5.2h-7.1zM251.8 611.5h7.1v5.2h-7.1zM273.0 621.8h7.1v5.2h-7.1zM280.1 626.9h7.1v5.2h-7.1zM310.0 503.8h7.1v5.2h-7.1zM295.9 514.1h7.1v5.2h-7.1zM302.9 524.3h7.1v5.2h-7.1zM317.0 534.6h7.1v5.2h-7.1zM310.0 539.7h7.1v5.2h-7.1zM288.9 550.0h7.1v5.2h-7.1zM310.0 565.4h7.1v5.2h-7.1zM310.0 580.8h7.1v5.2h-7.1zM295.9 647.4h7.1v5.2h-7.1zM339.8 560.2h7.0v5.2h-7.0zM325.9 601.3h7.0v5.2h-7.0zM325.9 606.4h7.0v5.2h-7.0zM362.5 544.8h7.0v5.2h-7.0zM362.5 550.0h7.0v5.2h-7.0zM362.5 555.1h7.0v5.2h-7.0zM362.5 632.0h7.0v5.2h-7.0z"/>
<path fill="#a8a6d0" d="M263.1 323.0h4.1v1.3h-4.1zM259.1 325.6h4.1v1.3h-4.1zM263.1 330.7h4.1v1.3h-4.1zM259.1 332.0h4.1v1.3h-4.1zM263.1 332.0h4.1v1.3h-4.1zM259.1 341.1h4.1v1.3h-4.1zM251.0 346.2h4.1v1.3h-4.1zM263.1 352.7h4.1v1.3h-4.1zM251.0 365.6h4.1v1.3h-4.1zM263.1 379.8h4.1v1.3h-4.1zM259.1 382.3h4.1v1.3h-4.1zM263.1 384.9h4.1v1.3h-4.1zM259.1 387.5h4.1v1.3h-4.1zM255.0 392.6h4.1v1.3h-4.1zM255.0 395.2h4.1v1.3h-4.1zM259.1 396.5h4.1v1.3h-4.1zM255.0 397.8h4.1v1.3h-4.1zM259.1 403.0h4.1v1.3h-4.1zM263.1 410.7h4.1v1.3h-4.1zM263.1 415.9h4.1v1.3h-4.1zM263.1 422.3h4.1v1.3h-4.1zM259.1 424.9h4.1v1.3h-4.1zM259.1 427.5h4.1v1.3h-4.1zM263.1 432.6h4.1v1.3h-4.1zM259.1 435.2h4.1v1.3h-4.1zM280.9 324.3h4.1v1.3h-4.1zM284.9 324.3h4.1v1.3h-4.1zM276.8 326.9h4.1v1.3h-4.1zM284.9 329.4h4.1v1.3h-4.1zM268.7 333.3h4.1v1.3h-4.1zM284.9 335.9h4.1v1.3h-4.1zM284.9 338.5h4.1v1.3h-4.1zM272.8 343.6h4.1v1.3h-4.1zM276.8 348.8h4.1v1.3h-4.1zM284.9 350.1h4.1v1.3h-4.1zM272.8 359.1h4.1v1.3h-4.1zM284.9 359.1h4.1v1.3h-4.1zM268.7 360.4h4.1v1.3h-4.1zM272.8 364.3h4.1v1.3h-4.1zM276.8 364.3h4.1v1.3h-4.1zM280.9 364.3h4.1v1.3h-4.1zM280.9 372.0h4.1v1.3h-4.1zM272.8 373.3h4.1v1.3h-4.1zM284.9 373.3h4.1v1.3h-4.1zM284.9 374.6h4.1v1.3h-4.1zM272.8 381.0h4.1v1.3h-4.1zM284.9 383.6h4.1v1.3h-4.1zM268.7 388.8h4.1v1.3h-4.1zM284.9 390.1h4.1v1.3h-4.1zM268.7 392.6h4.1v1.3h-4.1zM276.8 392.6h4.1v1.3h-4.1zM280.9 397.8h4.1v1.3h-4.1zM272.8 404.3h4.1v1.3h-4.1zM280.9 406.8h4.1v1.3h-4.1zM276.8 415.9h4.1v1.3h-4.1zM268.7 417.2h4.1v1.3h-4.1zM276.8 417.2h4.1v1.3h-4.1zM268.7 431.3h4.1v1.3h-4.1zM276.8 431.3h4.1v1.3h-4.1zM364.0 421.0h4.0v1.3h-4.0zM377.2 324.3h4.1v1.3h-4.1zM381.3 325.6h4.1v1.3h-4.1zM377.2 329.4h4.1v1.3h-4.1zM377.2 332.0h4.1v1.3h-4.1zM385.4 333.3h4.1v1.3h-4.1zM377.2 337.2h4.1v1.3h-4.1zM381.3 337.2h4.1v1.3h-4.1zM393.6 346.2h4.1v1.3h-4.1zM381.3 351.4h4.1v1.3h-4.1zM377.2 352.7h4.1v1.3h-4.1zM377.2 366.9h4.1v1.3h-4.1zM381.3 366.9h4.1v1.3h-4.1zM389.5 374.6h4.1v1.3h-4.1zM377.2 381.0h4.1v1.3h-4.1zM385.4 401.7h4.1v1.3h-4.1zM381.3 408.1h4.1v1.3h-4.1zM415.2 328.2h4.1v1.3h-4.1zM407.1 334.6h4.1v1.3h-4.1zM399.0 341.1h4.1v1.3h-4.1zM415.2 341.1h4.1v1.3h-4.1zM399.0 344.9h4.1v1.3h-4.1zM399.0 351.4h4.1v1.3h-4.1zM407.1 351.4h4.1v1.3h-4.1zM407.1 357.8h4.1v1.3h-4.1zM407.1 366.9h4.1v1.3h-4.1zM415.2 366.9h4.1v1.3h-4.1zM411.1 368.1h4.1v1.3h-4.1zM407.1 372.0h4.1v1.3h-4.1zM407.1 373.3h4.1v1.3h-4.1zM403.0 374.6h4.1v1.3h-4.1zM407.1 374.6h4.1v1.3h-4.1zM411.1 377.2h4.1v1.3h-4.1zM399.0 386.2h4.1v1.3h-4.1zM407.1 386.2h4.1v1.3h-4.1zM411.1 386.2h4.1v1.3h-4.1zM407.1 388.8h4.1v1.3h-4.1zM415.2 390.1h4.1v1.3h-4.1zM403.0 392.6h4.1v1.3h-4.1zM399.0 393.9h4.1v1.3h-4.1zM407.1 393.9h4.1v1.3h-4.1zM415.2 393.9h4.1v1.3h-4.1zM407.1 397.8h4.1v1.3h-4.1zM403.0 399.1h4.1v1.3h-4.1zM415.2 405.5h4.1v1.3h-4.1zM399.0 414.6h4.1v1.3h-4.1zM403.0 414.6h4.1v1.3h-4.1zM411.1 414.6h4.1v1.3h-4.1zM415.2 418.4h4.1v1.3h-4.1zM403.0 419.7h4.1v1.3h-4.1zM407.1 423.6h4.1v1.3h-4.1zM399.0 430.1h4.1v1.3h-4.1zM399.0 431.3h4.1v1.3h-4.1zM407.1 435.2h4.1v1.3h-4.1zM424.7 328.2h4.0v1.3h-4.0zM436.6 330.7h4.0v1.3h-4.0zM420.8 332.0h4.0v1.3h-4.0zM436.6 333.3h4.0v1.3h-4.0zM432.6 337.2h4.0v1.3h-4.0zM432.6 339.8h4.0v1.3h-4.0zM428.7 341.1h4.0v1.3h-4.0zM428.7 346.2h4.0v1.3h-4.0zM436.6 352.7h4.0v1.3h-4.0zM424.7 355.2h4.0v1.3h-4.0zM436.6 355.2h4.0v1.3h-4.0zM428.7 356.5h4.0v1.3h-4.0zM428.7 361.7h4.0v1.3h-4.0zM424.7 365.6h4.0v1.3h-4.0zM432.6 369.4h4.0v1.3h-4.0zM420.8 373.3h4.0v1.3h-4.0zM432.6 378.5h4.0v1.3h-4.0zM436.6 378.5h4.0v1.3h-4.0zM424.7 382.3h4.0v1.3h-4.0zM436.6 382.3h4.0v1.3h-4.0zM420.8 383.6h4.0v1.3h-4.0zM424.7 383.6h4.0v1.3h-4.0zM428.7 383.6h4.0v1.3h-4.0zM424.7 386.2h4.0v1.3h-4.0zM432.6 386.2h4.0v1.3h-4.0zM428.7 387.5h4.0v1.3h-4.0zM436.6 387.5h4.0v1.3h-4.0zM424.7 388.8h4.0v1.3h-4.0zM420.8 393.9h4.0v1.3h-4.0zM436.6 393.9h4.0v1.3h-4.0zM420.8 396.5h4.0v1.3h-4.0zM432.6 401.7h4.0v1.3h-4.0zM436.6 404.3h4.0v1.3h-4.0zM420.8 406.8h4.0v1.3h-4.0zM432.6 406.8h4.0v1.3h-4.0zM432.6 409.4h4.0v1.3h-4.0zM432.6 410.7h4.0v1.3h-4.0zM424.7 412.0h4.0v1.3h-4.0zM428.7 414.6h4.0v1.3h-4.0zM436.6 414.6h4.0v1.3h-4.0zM424.7 419.7h4.0v1.3h-4.0zM424.7 424.9h4.0v1.3h-4.0zM424.7 431.3h4.0v1.3h-4.0zM420.8 432.6h4.0v1.3h-4.0zM428.7 432.6h4.0v1.3h-4.0zM436.6 432.6h4.0v1.3h-4.0zM17.9 517.3h4.1v1.8h-4.1zM61.0 508.4h4.0v1.8h-4.0zM64.9 508.4h4.0v1.8h-4.0zM68.9 515.5h4.0v1.8h-4.0zM53.0 528.0h4.0v1.8h-4.0zM57.0 528.0h4.0v1.8h-4.0zM64.9 528.0h4.0v1.8h-4.0zM68.9 535.1h4.0v1.8h-4.0zM53.0 544.0h4.0v1.8h-4.0zM64.9 563.6h4.0v1.8h-4.0zM53.0 567.2h4.0v1.8h-4.0zM57.0 568.9h4.0v1.8h-4.0zM68.9 576.1h4.0v1.8h-4.0zM61.0 577.9h4.0v1.8h-4.0zM61.0 581.4h4.0v1.8h-4.0zM68.9 581.4h4.0v1.8h-4.0zM57.0 586.8h4.0v1.8h-4.0zM53.0 592.1h4.0v1.8h-4.0zM68.9 592.1h4.0v1.8h-4.0zM53.0 593.9h4.0v1.8h-4.0zM64.9 595.7h4.0v1.8h-4.0zM68.9 599.2h4.0v1.8h-4.0zM64.9 601.0h4.0v1.8h-4.0zM64.9 608.1h4.0v1.8h-4.0zM57.0 609.9h4.0v1.8h-4.0zM64.9 613.5h4.0v1.8h-4.0zM53.0 618.8h4.0v1.8h-4.0zM82.6 506.6h4.1v1.8h-4.1zM74.4 511.9h4.1v1.8h-4.1zM82.6 511.9h4.1v1.8h-4.1zM78.5 517.3h4.1v1.8h-4.1zM82.6 554.7h4.1v1.8h-4.1zM78.5 609.9h4.1v1.8h-4.1zM90.7 609.9h4.1v1.8h-4.1zM124.5 510.7h4.0v1.8h-4.0zM132.5 512.4h4.0v1.8h-4.0zM124.5 516.0h4.0v1.8h-4.0zM128.5 540.8h4.0v1.8h-4.0zM128.5 558.6h4.0v1.8h-4.0zM132.5 572.8h4.0v1.8h-4.0zM124.5 579.9h4.0v1.8h-4.0zM128.5 592.3h4.0v1.8h-4.0zM120.5 595.9h4.0v1.8h-4.0zM124.5 595.9h4.0v1.8h-4.0zM132.5 603.0h4.0v1.8h-4.0zM132.5 610.1h4.0v1.8h-4.0zM124.5 615.4h4.0v1.8h-4.0zM146.0 507.1h4.0v1.8h-4.0zM146.0 508.9h4.0v1.8h-4.0zM150.0 510.7h4.0v1.8h-4.0zM150.0 512.4h4.0v1.8h-4.0zM154.0 512.4h4.0v1.8h-4.0zM142.0 514.2h4.0v1.8h-4.0zM150.0 517.8h4.0v1.8h-4.0zM150.0 521.3h4.0v1.8h-4.0zM154.0 521.3h4.0v1.8h-4.0zM138.0 539.1h4.0v1.8h-4.0zM138.0 540.8h4.0v1.8h-4.0zM150.0 540.8h4.0v1.8h-4.0zM150.0 546.2h4.0v1.8h-4.0zM150.0 547.9h4.0v1.8h-4.0zM142.0 549.7h4.0v1.8h-4.0zM142.0 551.5h4.0v1.8h-4.0zM138.0 567.5h4.0v1.8h-4.0zM146.0 574.6h4.0v1.8h-4.0zM146.0 576.3h4.0v1.8h-4.0zM154.0 578.1h4.0v1.8h-4.0zM138.0 588.8h4.0v1.8h-4.0zM154.0 588.8h4.0v1.8h-4.0zM138.0 595.9h4.0v1.8h-4.0zM150.0 595.9h4.0v1.8h-4.0zM146.0 599.4h4.0v1.8h-4.0zM154.0 599.4h4.0v1.8h-4.0zM146.0 613.6h4.0v1.8h-4.0zM138.0 618.9h4.0v1.8h-4.0zM142.0 618.9h4.0v1.8h-4.0zM193.1 507.1h4.1v1.8h-4.1zM181.0 508.9h4.1v1.8h-4.1zM193.1 535.5h4.1v1.8h-4.1zM181.0 537.3h4.1v1.8h-4.1zM197.1 553.2h4.1v1.8h-4.1zM181.0 556.8h4.1v1.8h-4.1zM193.1 556.8h4.1v1.8h-4.1zM189.0 560.4h4.1v1.8h-4.1zM181.0 588.8h4.1v1.8h-4.1zM189.0 588.8h4.1v1.8h-4.1zM197.1 606.5h4.1v1.8h-4.1zM273.0 565.4h7.1v5.2h-7.1zM266.0 570.5h7.1v5.2h-7.1zM280.1 575.6h7.1v5.2h-7.1zM280.1 591.0h7.1v5.2h-7.1zM273.0 606.4h7.1v5.2h-7.1zM258.9 611.5h7.1v5.2h-7.1zM280.1 632.0h7.1v5.2h-7.1zM288.9 508.9h7.1v5.2h-7.1zM332.9 565.4h7.0v5.2h-7.0zM332.9 591.0h7.0v5.2h-7.0zM325.9 596.1h7.0v5.2h-7.0zM348.6 544.8h7.0v5.2h-7.0z"/>
<path fill="#6864af" d="M251.0 324.3h4.1v1.3h-4.1zM259.1 335.9h4.1v1.3h-4.1zM263.1 335.9h4.1v1.3h-4.1zM259.1 346.2h4.1v1.3h-4.1zM259.1 350.1h4.1v1.3h-4.1zM263.1 395.2h4.1v1.3h-4.1zM259.1 399.1h4.1v1.3h-4.1zM263.1 401.7h4.1v1.3h-4.1zM263.1 405.5h4.1v1.3h-4.1zM259.1 406.8h4.1v1.3h-4.1zM259.1 412.0h4.1v1.3h-4.1zM255.0 413.3h4.1v1.3h-4.1zM263.1 413.3h4.1v1.3h-4.1zM255.0 415.9h4.1v1.3h-4.1zM251.0 418.4h4.1v1.3h-4.1zM259.1 428.8h4.1v1.3h-4.1zM272.8 328.2h4.1v1.3h-4.1zM268.7 339.8h4.1v1.3h-4.1zM272.8 339.8h4.1v1.3h-4.1zM276.8 339.8h4.1v1.3h-4.1zM280.9 356.5h4.1v1.3h-4.1zM272.8 365.6h4.1v1.3h-4.1zM276.8 365.6h4.1v1.3h-4.1zM268.7 386.2h4.1v1.3h-4.1zM272.8 431.3h4.1v1.3h-4.1zM377.2 374.6h4.1v1.3h-4.1zM403.0 323.0h4.1v1.3h-4.1zM407.1 323.0h4.1v1.3h-4.1zM415.2 323.0h4.1v1.3h-4.1zM411.1 326.9h4.1v1.3h-4.1zM415.2 329.4h4.1v1.3h-4.1zM403.0 344.9h4.1v1.3h-4.1zM399.0 347.5h4.1v1.3h-4.1zM411.1 348.8h4.1v1.3h-4.1zM415.2 354.0h4.1v1.3h-4.1zM407.1 356.5h4.1v1.3h-4.1zM399.0 360.4h4.1v1.3h-4.1zM415.2 364.3h4.1v1.3h-4.1zM407.1 365.6h4.1v1.3h-4.1zM403.0 368.1h4.1v1.3h-4.1zM407.1 369.4h4.1v1.3h-4.1zM411.1 374.6h4.1v1.3h-4.1zM403.0 377.2h4.1v1.3h-4.1zM407.1 378.5h4.1v1.3h-4.1zM415.2 382.3h4.1v1.3h-4.1zM415.2 387.5h4.1v1.3h-4.1zM411.1 392.6h4.1v1.3h-4.1zM415.2 395.2h4.1v1.3h-4.1zM403.0 400.4h4.1v1.3h-4.1zM399.0 403.0h4.1v1.3h-4.1zM407.1 403.0h4.1v1.3h-4.1zM411.1 403.0h4.1v1.3h-4.1zM415.2 403.0h4.1v1.3h-4.1zM399.0 408.1h4.1v1.3h-4.1zM403.0 408.1h4.1v1.3h-4.1zM407.1 408.1h4.1v1.3h-4.1zM403.0 410.7h4.1v1.3h-4.1zM407.1 412.0h4.1v1.3h-4.1zM411.1 415.9h4.1v1.3h-4.1zM411.1 417.2h4.1v1.3h-4.1zM407.1 418.4h4.1v1.3h-4.1zM403.0 422.3h4.1v1.3h-4.1zM407.1 422.3h4.1v1.3h-4.1zM399.0 426.2h4.1v1.3h-4.1zM399.0 427.5h4.1v1.3h-4.1zM399.0 435.2h4.1v1.3h-4.1zM411.1 435.2h4.1v1.3h-4.1zM428.7 326.9h4.0v1.3h-4.0zM420.8 329.4h4.0v1.3h-4.0zM420.8 335.9h4.0v1.3h-4.0zM424.7 335.9h4.0v1.3h-4.0zM436.6 335.9h4.0v1.3h-4.0zM424.7 338.5h4.0v1.3h-4.0zM420.8 343.6h4.0v1.3h-4.0zM428.7 343.6h4.0v1.3h-4.0zM436.6 343.6h4.0v1.3h-4.0zM420.8 348.8h4.0v1.3h-4.0zM424.7 348.8h4.0v1.3h-4.0zM436.6 350.1h4.0v1.3h-4.0zM420.8 352.7h4.0v1.3h-4.0zM424.7 359.1h4.0v1.3h-4.0zM432.6 359.1h4.0v1.3h-4.0zM436.6 366.9h4.0v1.3h-4.0zM436.6 375.9h4.0v1.3h-4.0zM428.7 388.8h4.0v1.3h-4.0zM424.7 390.1h4.0v1.3h-4.0zM432.6 399.1h4.0v1.3h-4.0zM428.7 404.3h4.0v1.3h-4.0zM436.6 408.1h4.0v1.3h-4.0zM432.6 413.3h4.0v1.3h-4.0zM436.6 413.3h4.0v1.3h-4.0zM420.8 417.2h4.0v1.3h-4.0zM436.6 417.2h4.0v1.3h-4.0zM436.6 421.0h4.0v1.3h-4.0zM420.8 435.2h4.0v1.3h-4.0zM61.0 524.4h4.0v1.8h-4.0zM53.0 540.4h4.0v1.8h-4.0zM57.0 547.6h4.0v1.8h-4.0zM61.0 547.6h4.0v1.8h-4.0zM53.0 560.0h4.0v1.8h-4.0zM53.0 590.3h4.0v1.8h-4.0zM57.0 613.5h4.0v1.8h-4.0zM132.5 547.9h4.0v1.8h-4.0zM124.5 558.6h4.0v1.8h-4.0zM124.5 560.4h4.0v1.8h-4.0zM132.5 562.1h4.0v1.8h-4.0zM124.5 569.2h4.0v1.8h-4.0zM120.5 597.6h4.0v1.8h-4.0zM124.5 613.6h4.0v1.8h-4.0zM142.0 507.1h4.0v1.8h-4.0zM154.0 516.0h4.0v1.8h-4.0zM146.0 532.0h4.0v1.8h-4.0zM154.0 532.0h4.0v1.8h-4.0zM142.0 533.7h4.0v1.8h-4.0zM142.0 535.5h4.0v1.8h-4.0zM142.0 537.3h4.0v1.8h-4.0zM138.0 565.7h4.0v1.8h-4.0zM150.0 583.4h4.0v1.8h-4.0zM154.0 606.5h4.0v1.8h-4.0zM138.0 611.8h4.0v1.8h-4.0zM142.0 615.4h4.0v1.8h-4.0zM146.0 615.4h4.0v1.8h-4.0zM150.0 618.9h4.0v1.8h-4.0zM189.0 510.7h4.1v1.8h-4.1zM266.0 596.1h7.1v5.2h-7.1zM266.0 606.4h7.1v5.2h-7.1zM266.0 632.0h7.1v5.2h-7.1zM280.1 652.6h7.1v5.2h-7.1zM288.9 519.2h7.1v5.2h-7.1zM295.9 519.2h7.1v5.2h-7.1zM295.9 524.3h7.1v5.2h-7.1zM317.0 529.5h7.1v5.2h-7.1zM317.0 647.4h7.1v5.2h-7.1zM325.9 565.4h7.0v5.2h-7.0zM339.8 591.0h7.0v5.2h-7.0zM325.9 611.5h7.0v5.2h-7.0zM325.9 616.7h7.0v5.2h-7.0zM332.9 616.7h7.0v5.2h-7.0zM348.6 550.0h7.0v5.2h-7.0zM348.6 637.2h7.0v5.2h-7.0zM355.5 637.2h7.0v5.2h-7.0zM348.6 642.3h7.0v5.2h-7.0zM362.5 642.3h7.0v5.2h-7.0zM348.6 647.4h7.0v5.2h-7.0zM348.6 652.6h7.0v5.2h-7.0zM355.5 652.6h7.0v5.2h-7.0zM362.5 652.6h7.0v5.2h-7.0z"/>
<path fill="#5c58a9" d="M255.0 324.3h4.1v1.3h-4.1zM263.1 343.6h4.1v1.3h-4.1zM255.0 374.6h4.1v1.3h-4.1zM263.1 374.6h4.1v1.3h-4.1zM251.0 384.9h4.1v1.3h-4.1zM259.1 386.2h4.1v1.3h-4.1zM263.1 386.2h4.1v1.3h-4.1zM251.0 393.9h4.1v1.3h-4.1zM255.0 396.5h4.1v1.3h-4.1zM251.0 399.1h4.1v1.3h-4.1zM255.0 409.4h4.1v1.3h-4.1zM255.0 412.0h4.1v1.3h-4.1zM263.1 412.0h4.1v1.3h-4.1zM255.0 417.2h4.1v1.3h-4.1zM259.1 418.4h4.1v1.3h-4.1zM263.1 419.7h4.1v1.3h-4.1zM263.1 423.6h4.1v1.3h-4.1zM284.9 332.0h4.1v1.3h-4.1zM280.9 333.3h4.1v1.3h-4.1zM280.9 334.6h4.1v1.3h-4.1zM268.7 356.5h4.1v1.3h-4.1zM377.2 347.5h4.1v1.3h-4.1zM411.1 323.0h4.1v1.3h-4.1zM403.0 326.9h4.1v1.3h-4.1zM407.1 326.9h4.1v1.3h-4.1zM403.0 329.4h4.1v1.3h-4.1zM407.1 329.4h4.1v1.3h-4.1zM403.0 330.7h4.1v1.3h-4.1zM399.0 332.0h4.1v1.3h-4.1zM399.0 333.3h4.1v1.3h-4.1zM403.0 341.1h4.1v1.3h-4.1zM403.0 343.6h4.1v1.3h-4.1zM415.2 343.6h4.1v1.3h-4.1zM407.1 347.5h4.1v1.3h-4.1zM415.2 348.8h4.1v1.3h-4.1zM399.0 354.0h4.1v1.3h-4.1zM403.0 354.0h4.1v1.3h-4.1zM407.1 354.0h4.1v1.3h-4.1zM403.0 364.3h4.1v1.3h-4.1zM407.1 364.3h4.1v1.3h-4.1zM399.0 366.9h4.1v1.3h-4.1zM411.1 366.9h4.1v1.3h-4.1zM403.0 379.8h4.1v1.3h-4.1zM399.0 381.0h4.1v1.3h-4.1zM415.2 386.2h4.1v1.3h-4.1zM403.0 391.4h4.1v1.3h-4.1zM411.1 395.2h4.1v1.3h-4.1zM403.0 403.0h4.1v1.3h-4.1zM415.2 409.4h4.1v1.3h-4.1zM407.1 426.2h4.1v1.3h-4.1zM411.1 427.5h4.1v1.3h-4.1zM411.1 432.6h4.1v1.3h-4.1zM432.6 326.9h4.0v1.3h-4.0zM428.7 344.9h4.0v1.3h-4.0zM424.7 350.1h4.0v1.3h-4.0zM432.6 357.8h4.0v1.3h-4.0zM432.6 360.4h4.0v1.3h-4.0zM424.7 363.0h4.0v1.3h-4.0zM436.6 369.4h4.0v1.3h-4.0zM420.8 379.8h4.0v1.3h-4.0zM424.7 381.0h4.0v1.3h-4.0zM436.6 399.1h4.0v1.3h-4.0zM432.6 421.0h4.0v1.3h-4.0zM428.7 422.3h4.0v1.3h-4.0zM61.0 506.6h4.0v1.8h-4.0zM57.0 529.8h4.0v1.8h-4.0zM57.0 551.1h4.0v1.8h-4.0zM57.0 554.7h4.0v1.8h-4.0zM64.9 558.3h4.0v1.8h-4.0zM61.0 560.0h4.0v1.8h-4.0zM61.0 565.4h4.0v1.8h-4.0zM57.0 567.2h4.0v1.8h-4.0zM64.9 579.6h4.0v1.8h-4.0zM64.9 592.1h4.0v1.8h-4.0zM64.9 597.4h4.0v1.8h-4.0zM53.0 608.1h4.0v1.8h-4.0zM128.5 530.2h4.0v1.8h-4.0zM124.5 537.3h4.0v1.8h-4.0zM132.5 553.2h4.0v1.8h-4.0zM120.5 572.8h4.0v1.8h-4.0zM128.5 572.8h4.0v1.8h-4.0zM120.5 587.0h4.0v1.8h-4.0zM132.5 587.0h4.0v1.8h-4.0zM128.5 603.0h4.0v1.8h-4.0zM120.5 610.1h4.0v1.8h-4.0zM132.5 615.4h4.0v1.8h-4.0zM150.0 507.1h4.0v1.8h-4.0zM138.0 555.0h4.0v1.8h-4.0zM154.0 585.2h4.0v1.8h-4.0zM146.0 608.3h4.0v1.8h-4.0zM185.0 516.0h4.1v1.8h-4.1z"/>
<path fill="#8e8bc3" d="M259.1 324.3h4.1v1.3h-4.1zM263.1 324.3h4.1v1.3h-4.1zM251.0 325.6h4.1v1.3h-4.1zM255.0 332.0h4.1v1.3h-4.1zM263.1 337.2h4.1v1.3h-4.1zM251.0 342.3h4.1v1.3h-4.1zM259.1 344.9h4.1v1.3h-4.1zM251.0 350.1h4.1v1.3h-4.1zM263.1 350.1h4.1v1.3h-4.1zM255.0 354.0h4.1v1.3h-4.1zM259.1 354.0h4.1v1.3h-4.1zM251.0 369.4h4.1v1.3h-4.1zM259.1 373.3h4.1v1.3h-4.1zM251.0 374.6h4.1v1.3h-4.1zM251.0 391.4h4.1v1.3h-4.1zM255.0 391.4h4.1v1.3h-4.1zM255.0 393.9h4.1v1.3h-4.1zM259.1 393.9h4.1v1.3h-4.1zM251.0 397.8h4.1v1.3h-4.1zM263.1 400.4h4.1v1.3h-4.1zM259.1 401.7h4.1v1.3h-4.1zM255.0 406.8h4.1v1.3h-4.1zM251.0 413.3h4.1v1.3h-4.1zM259.1 422.3h4.1v1.3h-4.1zM255.0 427.5h4.1v1.3h-4.1zM263.1 428.8h4.1v1.3h-4.1zM263.1 430.1h4.1v1.3h-4.1zM259.1 433.9h4.1v1.3h-4.1zM272.8 324.3h4.1v1.3h-4.1zM272.8 325.6h4.1v1.3h-4.1zM280.9 326.9h4.1v1.3h-4.1zM280.9 328.2h4.1v1.3h-4.1zM284.9 328.2h4.1v1.3h-4.1zM280.9 332.0h4.1v1.3h-4.1zM280.9 338.5h4.1v1.3h-4.1zM280.9 359.1h4.1v1.3h-4.1zM272.8 361.7h4.1v1.3h-4.1zM280.9 374.6h4.1v1.3h-4.1zM272.8 378.5h4.1v1.3h-4.1zM276.8 388.8h4.1v1.3h-4.1zM276.8 391.4h4.1v1.3h-4.1zM268.7 397.8h4.1v1.3h-4.1zM272.8 397.8h4.1v1.3h-4.1zM268.7 428.8h4.1v1.3h-4.1zM284.9 428.8h4.1v1.3h-4.1zM389.5 324.3h4.1v1.3h-4.1zM385.4 330.7h4.1v1.3h-4.1zM385.4 347.5h4.1v1.3h-4.1zM389.5 347.5h4.1v1.3h-4.1zM393.6 347.5h4.1v1.3h-4.1zM389.5 355.2h4.1v1.3h-4.1zM377.2 356.5h4.1v1.3h-4.1zM389.5 372.0h4.1v1.3h-4.1zM393.6 373.3h4.1v1.3h-4.1zM393.6 418.4h4.1v1.3h-4.1zM407.1 330.7h4.1v1.3h-4.1zM403.0 332.0h4.1v1.3h-4.1zM415.2 333.3h4.1v1.3h-4.1zM399.0 350.1h4.1v1.3h-4.1zM407.1 350.1h4.1v1.3h-4.1zM411.1 350.1h4.1v1.3h-4.1zM411.1 351.4h4.1v1.3h-4.1zM415.2 351.4h4.1v1.3h-4.1zM407.1 355.2h4.1v1.3h-4.1zM411.1 356.5h4.1v1.3h-4.1zM403.0 357.8h4.1v1.3h-4.1zM403.0 359.1h4.1v1.3h-4.1zM411.1 359.1h4.1v1.3h-4.1zM411.1 360.4h4.1v1.3h-4.1zM415.2 361.7h4.1v1.3h-4.1zM403.0 366.9h4.1v1.3h-4.1zM415.2 368.1h4.1v1.3h-4.1zM403.0 373.3h4.1v1.3h-4.1zM411.1 373.3h4.1v1.3h-4.1zM403.0 378.5h4.1v1.3h-4.1zM407.1 387.5h4.1v1.3h-4.1zM415.2 388.8h4.1v1.3h-4.1zM407.1 390.1h4.1v1.3h-4.1zM411.1 393.9h4.1v1.3h-4.1zM399.0 400.4h4.1v1.3h-4.1zM411.1 400.4h4.1v1.3h-4.1zM403.0 401.7h4.1v1.3h-4.1zM407.1 405.5h4.1v1.3h-4.1zM411.1 408.1h4.1v1.3h-4.1zM399.0 409.4h4.1v1.3h-4.1zM399.0 410.7h4.1v1.3h-4.1zM411.1 410.7h4.1v1.3h-4.1zM415.2 410.7h4.1v1.3h-4.1zM399.0 413.3h4.1v1.3h-4.1zM403.0 413.3h4.1v1.3h-4.1zM407.1 414.6h4.1v1.3h-4.1zM415.2 417.2h4.1v1.3h-4.1zM399.0 418.4h4.1v1.3h-4.1zM403.0 418.4h4.1v1.3h-4.1zM399.0 419.7h4.1v1.3h-4.1zM403.0 423.6h4.1v1.3h-4.1zM403.0 424.9h4.1v1.3h-4.1zM411.1 426.2h4.1v1.3h-4.1zM403.0 430.1h4.1v1.3h-4.1zM411.1 430.1h4.1v1.3h-4.1zM415.2 430.1h4.1v1.3h-4.1zM411.1 431.3h4.1v1.3h-4.1zM415.2 433.9h4.1v1.3h-4.1zM432.6 324.3h4.0v1.3h-4.0zM424.7 329.4h4.0v1.3h-4.0zM424.7 332.0h4.0v1.3h-4.0zM436.6 337.2h4.0v1.3h-4.0zM432.6 341.1h4.0v1.3h-4.0zM420.8 350.1h4.0v1.3h-4.0zM436.6 351.4h4.0v1.3h-4.0zM424.7 352.7h4.0v1.3h-4.0zM428.7 352.7h4.0v1.3h-4.0zM436.6 360.4h4.0v1.3h-4.0zM428.7 363.0h4.0v1.3h-4.0zM432.6 363.0h4.0v1.3h-4.0zM432.6 365.6h4.0v1.3h-4.0zM420.8 366.9h4.0v1.3h-4.0zM420.8 368.1h4.0v1.3h-4.0zM420.8 369.4h4.0v1.3h-4.0zM424.7 369.4h4.0v1.3h-4.0zM432.6 373.3h4.0v1.3h-4.0zM420.8 374.6h4.0v1.3h-4.0zM428.7 374.6h4.0v1.3h-4.0zM428.7 375.9h4.0v1.3h-4.0zM424.7 377.2h4.0v1.3h-4.0zM428.7 384.9h4.0v1.3h-4.0zM424.7 391.4h4.0v1.3h-4.0zM428.7 393.9h4.0v1.3h-4.0zM428.7 403.0h4.0v1.3h-4.0zM432.6 412.0h4.0v1.3h-4.0zM432.6 415.9h4.0v1.3h-4.0zM424.7 417.2h4.0v1.3h-4.0zM428.7 418.4h4.0v1.3h-4.0zM420.8 422.3h4.0v1.3h-4.0zM424.7 422.3h4.0v1.3h-4.0zM432.6 422.3h4.0v1.3h-4.0zM420.8 426.2h4.0v1.3h-4.0zM432.6 433.9h4.0v1.3h-4.0zM25.9 506.6h4.1v1.8h-4.1zM57.0 506.6h4.0v1.8h-4.0zM61.0 511.9h4.0v1.8h-4.0zM64.9 515.5h4.0v1.8h-4.0zM57.0 520.9h4.0v1.8h-4.0zM57.0 533.3h4.0v1.8h-4.0zM61.0 549.4h4.0v1.8h-4.0zM57.0 556.5h4.0v1.8h-4.0zM61.0 556.5h4.0v1.8h-4.0zM57.0 561.8h4.0v1.8h-4.0zM68.9 561.8h4.0v1.8h-4.0zM61.0 572.5h4.0v1.8h-4.0zM57.0 579.6h4.0v1.8h-4.0zM68.9 585.0h4.0v1.8h-4.0zM61.0 586.8h4.0v1.8h-4.0zM68.9 586.8h4.0v1.8h-4.0zM57.0 590.3h4.0v1.8h-4.0zM64.9 606.4h4.0v1.8h-4.0zM57.0 611.7h4.0v1.8h-4.0zM57.0 618.8h4.0v1.8h-4.0zM64.9 618.8h4.0v1.8h-4.0zM68.9 618.8h4.0v1.8h-4.0zM74.4 508.4h4.1v1.8h-4.1zM86.6 508.4h4.1v1.8h-4.1zM128.5 510.7h4.0v1.8h-4.0zM120.5 516.0h4.0v1.8h-4.0zM124.5 521.3h4.0v1.8h-4.0zM128.5 524.9h4.0v1.8h-4.0zM132.5 530.2h4.0v1.8h-4.0zM128.5 537.3h4.0v1.8h-4.0zM124.5 539.1h4.0v1.8h-4.0zM132.5 539.1h4.0v1.8h-4.0zM120.5 540.8h4.0v1.8h-4.0zM124.5 540.8h4.0v1.8h-4.0zM128.5 547.9h4.0v1.8h-4.0zM128.5 553.2h4.0v1.8h-4.0zM128.5 556.8h4.0v1.8h-4.0zM132.5 556.8h4.0v1.8h-4.0zM124.5 571.0h4.0v1.8h-4.0zM120.5 574.6h4.0v1.8h-4.0zM120.5 576.3h4.0v1.8h-4.0zM132.5 576.3h4.0v1.8h-4.0zM124.5 583.4h4.0v1.8h-4.0zM132.5 585.2h4.0v1.8h-4.0zM128.5 601.2h4.0v1.8h-4.0zM124.5 603.0h4.0v1.8h-4.0zM132.5 611.8h4.0v1.8h-4.0zM150.0 514.2h4.0v1.8h-4.0zM142.0 526.6h4.0v1.8h-4.0zM154.0 526.6h4.0v1.8h-4.0zM138.0 530.2h4.0v1.8h-4.0zM146.0 530.2h4.0v1.8h-4.0zM150.0 533.7h4.0v1.8h-4.0zM150.0 535.5h4.0v1.8h-4.0zM150.0 551.5h4.0v1.8h-4.0zM154.0 551.5h4.0v1.8h-4.0zM142.0 555.0h4.0v1.8h-4.0zM154.0 555.0h4.0v1.8h-4.0zM150.0 556.8h4.0v1.8h-4.0zM154.0 558.6h4.0v1.8h-4.0zM138.0 562.1h4.0v1.8h-4.0zM150.0 572.8h4.0v1.8h-4.0zM150.0 576.3h4.0v1.8h-4.0zM146.0 579.9h4.0v1.8h-4.0zM138.0 585.2h4.0v1.8h-4.0zM150.0 585.2h4.0v1.8h-4.0zM142.0 595.9h4.0v1.8h-4.0zM142.0 604.7h4.0v1.8h-4.0zM138.0 606.5h4.0v1.8h-4.0zM150.0 611.8h4.0v1.8h-4.0zM197.1 512.4h4.1v1.8h-4.1zM193.1 516.0h4.1v1.8h-4.1zM197.1 516.0h4.1v1.8h-4.1zM193.1 524.9h4.1v1.8h-4.1zM197.1 524.9h4.1v1.8h-4.1zM189.0 535.5h4.1v1.8h-4.1zM197.1 556.8h4.1v1.8h-4.1z"/>
<path fill="#7571b5" d="M263.1 325.6h4.1v1.3h-4.1zM251.0 334.6h4.1v1.3h-4.1zM259.1 334.6h4.1v1.3h-4.1zM251.0 344.9h4.1v1.3h-4.1zM251.0 347.5h4.1v1.3h-4.1zM259.1 351.4h4.1v1.3h-4.1zM259.1 370.7h4.1v1.3h-4.1zM251.0 372.0h4.1v1.3h-4.1zM255.0 372.0h4.1v1.3h-4.1zM255.0 377.2h4.1v1.3h-4.1zM259.1 400.4h4.1v1.3h-4.1zM255.0 405.5h4.1v1.3h-4.1zM251.0 409.4h4.1v1.3h-4.1zM259.1 409.4h4.1v1.3h-4.1zM251.0 410.7h4.1v1.3h-4.1zM251.0 412.0h4.1v1.3h-4.1zM259.1 415.9h4.1v1.3h-4.1zM276.8 338.5h4.1v1.3h-4.1zM268.7 348.8h4.1v1.3h-4.1zM268.7 365.6h4.1v1.3h-4.1zM284.9 365.6h4.1v1.3h-4.1zM280.9 386.2h4.1v1.3h-4.1zM268.7 387.5h4.1v1.3h-4.1zM284.9 415.9h4.1v1.3h-4.1zM381.3 324.3h4.1v1.3h-4.1zM393.6 330.7h4.1v1.3h-4.1zM385.4 348.8h4.1v1.3h-4.1zM403.0 328.2h4.1v1.3h-4.1zM411.1 329.4h4.1v1.3h-4.1zM415.2 330.7h4.1v1.3h-4.1zM407.1 333.3h4.1v1.3h-4.1zM415.2 334.6h4.1v1.3h-4.1zM407.1 335.9h4.1v1.3h-4.1zM411.1 335.9h4.1v1.3h-4.1zM399.0 337.2h4.1v1.3h-4.1zM399.0 343.6h4.1v1.3h-4.1zM407.1 344.9h4.1v1.3h-4.1zM399.0 346.2h4.1v1.3h-4.1zM399.0 348.8h4.1v1.3h-4.1zM407.1 348.8h4.1v1.3h-4.1zM403.0 352.7h4.1v1.3h-4.1zM399.0 355.2h4.1v1.3h-4.1zM411.1 355.2h4.1v1.3h-4.1zM399.0 356.5h4.1v1.3h-4.1zM415.2 357.8h4.1v1.3h-4.1zM403.0 365.6h4.1v1.3h-4.1zM403.0 372.0h4.1v1.3h-4.1zM399.0 373.3h4.1v1.3h-4.1zM399.0 377.2h4.1v1.3h-4.1zM415.2 377.2h4.1v1.3h-4.1zM407.1 381.0h4.1v1.3h-4.1zM415.2 381.0h4.1v1.3h-4.1zM403.0 388.8h4.1v1.3h-4.1zM403.0 390.1h4.1v1.3h-4.1zM399.0 391.4h4.1v1.3h-4.1zM407.1 391.4h4.1v1.3h-4.1zM407.1 400.4h4.1v1.3h-4.1zM415.2 404.3h4.1v1.3h-4.1zM399.0 405.5h4.1v1.3h-4.1zM411.1 405.5h4.1v1.3h-4.1zM415.2 408.1h4.1v1.3h-4.1zM411.1 412.0h4.1v1.3h-4.1zM407.1 413.3h4.1v1.3h-4.1zM415.2 413.3h4.1v1.3h-4.1zM415.2 415.9h4.1v1.3h-4.1zM403.0 417.2h4.1v1.3h-4.1zM407.1 419.7h4.1v1.3h-4.1zM411.1 422.3h4.1v1.3h-4.1zM415.2 422.3h4.1v1.3h-4.1zM399.0 424.9h4.1v1.3h-4.1zM415.2 424.9h4.1v1.3h-4.1zM403.0 426.2h4.1v1.3h-4.1zM403.0 427.5h4.1v1.3h-4.1zM415.2 427.5h4.1v1.3h-4.1zM407.1 430.1h4.1v1.3h-4.1zM407.1 431.3h4.1v1.3h-4.1zM403.0 435.2h4.1v1.3h-4.1zM432.6 329.4h4.0v1.3h-4.0zM436.6 329.4h4.0v1.3h-4.0zM424.7 337.2h4.0v1.3h-4.0zM424.7 343.6h4.0v1.3h-4.0zM432.6 343.6h4.0v1.3h-4.0zM424.7 344.9h4.0v1.3h-4.0zM436.6 344.9h4.0v1.3h-4.0zM432.6 351.4h4.0v1.3h-4.0zM428.7 355.2h4.0v1.3h-4.0zM428.7 357.8h4.0v1.3h-4.0zM424.7 360.4h4.0v1.3h-4.0zM436.6 363.0h4.0v1.3h-4.0zM428.7 365.6h4.0v1.3h-4.0zM428.7 366.9h4.0v1.3h-4.0zM424.7 379.8h4.0v1.3h-4.0zM420.8 381.0h4.0v1.3h-4.0zM428.7 396.5h4.0v1.3h-4.0zM424.7 399.1h4.0v1.3h-4.0zM420.8 400.4h4.0v1.3h-4.0zM436.6 403.0h4.0v1.3h-4.0zM424.7 404.3h4.0v1.3h-4.0zM424.7 408.1h4.0v1.3h-4.0zM428.7 412.0h4.0v1.3h-4.0zM424.7 413.3h4.0v1.3h-4.0zM428.7 413.3h4.0v1.3h-4.0zM424.7 415.9h4.0v1.3h-4.0zM432.6 417.2h4.0v1.3h-4.0zM432.6 430.1h4.0v1.3h-4.0zM436.6 430.1h4.0v1.3h-4.0zM424.7 435.2h4.0v1.3h-4.0zM61.0 510.2h4.0v1.8h-4.0zM57.0 515.5h4.0v1.8h-4.0zM53.0 526.2h4.0v1.8h-4.0zM64.9 526.2h4.0v1.8h-4.0zM53.0 531.5h4.0v1.8h-4.0zM57.0 535.1h4.0v1.8h-4.0zM64.9 547.6h4.0v1.8h-4.0zM64.9 567.2h4.0v1.8h-4.0zM53.0 579.6h4.0v1.8h-4.0zM61.0 592.1h4.0v1.8h-4.0zM68.9 595.7h4.0v1.8h-4.0zM68.9 617.0h4.0v1.8h-4.0zM124.5 508.9h4.0v1.8h-4.0zM124.5 512.4h4.0v1.8h-4.0zM120.5 517.8h4.0v1.8h-4.0zM124.5 524.9h4.0v1.8h-4.0zM120.5 530.2h4.0v1.8h-4.0zM120.5 532.0h4.0v1.8h-4.0zM120.5 542.6h4.0v1.8h-4.0zM124.5 546.2h4.0v1.8h-4.0zM120.5 547.9h4.0v1.8h-4.0zM120.5 555.0h4.0v1.8h-4.0zM120.5 563.9h4.0v1.8h-4.0zM124.5 578.1h4.0v1.8h-4.0zM120.5 585.2h4.0v1.8h-4.0zM128.5 587.0h4.0v1.8h-4.0zM124.5 590.5h4.0v1.8h-4.0zM132.5 597.6h4.0v1.8h-4.0zM128.5 608.3h4.0v1.8h-4.0zM120.5 611.8h4.0v1.8h-4.0zM120.5 617.2h4.0v1.8h-4.0zM142.0 516.0h4.0v1.8h-4.0zM138.0 524.9h4.0v1.8h-4.0zM154.0 528.4h4.0v1.8h-4.0zM142.0 532.0h4.0v1.8h-4.0zM146.0 533.7h4.0v1.8h-4.0zM154.0 533.7h4.0v1.8h-4.0zM154.0 539.1h4.0v1.8h-4.0zM146.0 544.4h4.0v1.8h-4.0zM142.0 546.2h4.0v1.8h-4.0zM146.0 549.7h4.0v1.8h-4.0zM142.0 565.7h4.0v1.8h-4.0zM154.0 567.5h4.0v1.8h-4.0zM138.0 571.0h4.0v1.8h-4.0zM142.0 583.4h4.0v1.8h-4.0zM146.0 583.4h4.0v1.8h-4.0zM138.0 594.1h4.0v1.8h-4.0zM146.0 595.9h4.0v1.8h-4.0zM138.0 603.0h4.0v1.8h-4.0zM150.0 608.3h4.0v1.8h-4.0zM142.0 611.8h4.0v1.8h-4.0zM154.0 618.9h4.0v1.8h-4.0zM181.0 510.7h4.1v1.8h-4.1zM189.0 556.8h4.1v1.8h-4.1z"/>
<path fill="#c4c2df" d="M251.0 326.9h4.1v1.3h-4.1zM259.1 326.9h4.1v1.3h-4.1zM251.0 330.7h4.1v1.3h-4.1zM251.0 335.9h4.1v1.3h-4.1zM255.0 338.5h4.1v1.3h-4.1zM255.0 343.6h4.1v1.3h-4.1zM263.1 344.9h4.1v1.3h-4.1zM259.1 355.2h4.1v1.3h-4.1zM255.0 359.1h4.1v1.3h-4.1zM263.1 360.4h4.1v1.3h-4.1zM255.0 361.7h4.1v1.3h-4.1zM263.1 361.7h4.1v1.3h-4.1zM255.0 369.4h4.1v1.3h-4.1zM251.0 370.7h4.1v1.3h-4.1zM251.0 373.3h4.1v1.3h-4.1zM255.0 373.3h4.1v1.3h-4.1zM263.1 373.3h4.1v1.3h-4.1zM255.0 379.8h4.1v1.3h-4.1zM251.0 383.6h4.1v1.3h-4.1zM255.0 383.6h4.1v1.3h-4.1zM263.1 397.8h4.1v1.3h-4.1zM263.1 427.5h4.1v1.3h-4.1zM259.1 432.6h4.1v1.3h-4.1zM263.1 433.9h4.1v1.3h-4.1zM284.9 330.7h4.1v1.3h-4.1zM272.8 335.9h4.1v1.3h-4.1zM284.9 341.1h4.1v1.3h-4.1zM284.9 342.3h4.1v1.3h-4.1zM268.7 347.5h4.1v1.3h-4.1zM276.8 347.5h4.1v1.3h-4.1zM284.9 347.5h4.1v1.3h-4.1zM284.9 351.4h4.1v1.3h-4.1zM276.8 352.7h4.1v1.3h-4.1zM280.9 352.7h4.1v1.3h-4.1zM272.8 356.5h4.1v1.3h-4.1zM280.9 357.8h4.1v1.3h-4.1zM280.9 360.4h4.1v1.3h-4.1zM272.8 370.7h4.1v1.3h-4.1zM268.7 373.3h4.1v1.3h-4.1zM280.9 373.3h4.1v1.3h-4.1zM276.8 377.2h4.1v1.3h-4.1zM268.7 378.5h4.1v1.3h-4.1zM280.9 383.6h4.1v1.3h-4.1zM268.7 390.1h4.1v1.3h-4.1zM268.7 393.9h4.1v1.3h-4.1zM276.8 397.8h4.1v1.3h-4.1zM268.7 400.4h4.1v1.3h-4.1zM280.9 403.0h4.1v1.3h-4.1zM284.9 404.3h4.1v1.3h-4.1zM276.8 405.5h4.1v1.3h-4.1zM268.7 408.1h4.1v1.3h-4.1zM272.8 410.7h4.1v1.3h-4.1zM280.9 410.7h4.1v1.3h-4.1zM276.8 414.6h4.1v1.3h-4.1zM272.8 418.4h4.1v1.3h-4.1zM280.9 418.4h4.1v1.3h-4.1zM272.8 419.7h4.1v1.3h-4.1zM284.9 421.0h4.1v1.3h-4.1zM268.7 422.3h4.1v1.3h-4.1zM280.9 426.2h4.1v1.3h-4.1zM268.7 432.6h4.1v1.3h-4.1zM276.8 432.6h4.1v1.3h-4.1zM372.0 403.0h4.0v1.3h-4.0zM385.4 324.3h4.1v1.3h-4.1zM385.4 325.6h4.1v1.3h-4.1zM377.2 326.9h4.1v1.3h-4.1zM393.6 326.9h4.1v1.3h-4.1zM381.3 330.7h4.1v1.3h-4.1zM377.2 333.3h4.1v1.3h-4.1zM377.2 341.1h4.1v1.3h-4.1zM377.2 342.3h4.1v1.3h-4.1zM377.2 346.2h4.1v1.3h-4.1zM381.3 347.5h4.1v1.3h-4.1zM381.3 352.7h4.1v1.3h-4.1zM393.6 352.7h4.1v1.3h-4.1zM377.2 355.2h4.1v1.3h-4.1zM393.6 356.5h4.1v1.3h-4.1zM389.5 363.0h4.1v1.3h-4.1zM393.6 363.0h4.1v1.3h-4.1zM393.6 366.9h4.1v1.3h-4.1zM393.6 370.7h4.1v1.3h-4.1zM381.3 374.6h4.1v1.3h-4.1zM381.3 381.0h4.1v1.3h-4.1zM385.4 381.0h4.1v1.3h-4.1zM389.5 381.0h4.1v1.3h-4.1zM381.3 390.1h4.1v1.3h-4.1zM389.5 399.1h4.1v1.3h-4.1zM385.4 405.5h4.1v1.3h-4.1zM385.4 406.8h4.1v1.3h-4.1zM385.4 408.1h4.1v1.3h-4.1zM389.5 417.2h4.1v1.3h-4.1zM389.5 418.4h4.1v1.3h-4.1zM407.1 328.2h4.1v1.3h-4.1zM403.0 334.6h4.1v1.3h-4.1zM415.2 337.2h4.1v1.3h-4.1zM415.2 339.8h4.1v1.3h-4.1zM407.1 360.4h4.1v1.3h-4.1zM411.1 361.7h4.1v1.3h-4.1zM411.1 370.7h4.1v1.3h-4.1zM415.2 370.7h4.1v1.3h-4.1zM403.0 386.2h4.1v1.3h-4.1zM399.0 412.0h4.1v1.3h-4.1zM415.2 412.0h4.1v1.3h-4.1zM411.1 419.7h4.1v1.3h-4.1zM415.2 419.7h4.1v1.3h-4.1zM432.6 323.0h4.0v1.3h-4.0zM436.6 324.3h4.0v1.3h-4.0zM428.7 325.6h4.0v1.3h-4.0zM436.6 326.9h4.0v1.3h-4.0zM436.6 334.6h4.0v1.3h-4.0zM428.7 337.2h4.0v1.3h-4.0zM436.6 338.5h4.0v1.3h-4.0zM420.8 341.1h4.0v1.3h-4.0zM428.7 342.3h4.0v1.3h-4.0zM432.6 347.5h4.0v1.3h-4.0zM424.7 368.1h4.0v1.3h-4.0zM432.6 368.1h4.0v1.3h-4.0zM436.6 372.0h4.0v1.3h-4.0zM420.8 377.2h4.0v1.3h-4.0zM428.7 377.2h4.0v1.3h-4.0zM420.8 378.5h4.0v1.3h-4.0zM420.8 382.3h4.0v1.3h-4.0zM428.7 382.3h4.0v1.3h-4.0zM424.7 384.9h4.0v1.3h-4.0zM432.6 384.9h4.0v1.3h-4.0zM436.6 390.1h4.0v1.3h-4.0zM432.6 393.9h4.0v1.3h-4.0zM420.8 395.2h4.0v1.3h-4.0zM424.7 395.2h4.0v1.3h-4.0zM436.6 397.8h4.0v1.3h-4.0zM428.7 405.5h4.0v1.3h-4.0zM432.6 405.5h4.0v1.3h-4.0zM436.6 405.5h4.0v1.3h-4.0zM420.8 408.1h4.0v1.3h-4.0zM424.7 409.4h4.0v1.3h-4.0zM432.6 414.6h4.0v1.3h-4.0zM420.8 424.9h4.0v1.3h-4.0zM436.6 424.9h4.0v1.3h-4.0zM436.6 427.5h4.0v1.3h-4.0zM21.9 508.4h4.1v1.8h-4.1zM25.9 508.4h4.1v1.8h-4.1zM64.9 506.6h4.0v1.8h-4.0zM57.0 508.4h4.0v1.8h-4.0zM68.9 508.4h4.0v1.8h-4.0zM61.0 515.5h4.0v1.8h-4.0zM61.0 517.3h4.0v1.8h-4.0zM57.0 522.6h4.0v1.8h-4.0zM53.0 524.4h4.0v1.8h-4.0zM57.0 524.4h4.0v1.8h-4.0zM61.0 529.8h4.0v1.8h-4.0zM57.0 542.2h4.0v1.8h-4.0zM64.9 544.0h4.0v1.8h-4.0zM61.0 551.1h4.0v1.8h-4.0zM68.9 551.1h4.0v1.8h-4.0zM53.0 552.9h4.0v1.8h-4.0zM64.9 554.7h4.0v1.8h-4.0zM61.0 561.8h4.0v1.8h-4.0zM61.0 568.9h4.0v1.8h-4.0zM64.9 568.9h4.0v1.8h-4.0zM53.0 576.1h4.0v1.8h-4.0zM61.0 579.6h4.0v1.8h-4.0zM61.0 583.2h4.0v1.8h-4.0zM53.0 586.8h4.0v1.8h-4.0zM53.0 595.7h4.0v1.8h-4.0zM61.0 595.7h4.0v1.8h-4.0zM61.0 597.4h4.0v1.8h-4.0zM57.0 602.8h4.0v1.8h-4.0zM68.9 602.8h4.0v1.8h-4.0zM64.9 604.6h4.0v1.8h-4.0zM68.9 606.4h4.0v1.8h-4.0zM68.9 609.9h4.0v1.8h-4.0zM61.0 611.7h4.0v1.8h-4.0zM61.0 613.5h4.0v1.8h-4.0zM53.0 617.0h4.0v1.8h-4.0zM82.6 510.2h4.1v1.8h-4.1zM86.6 517.3h4.1v1.8h-4.1zM86.6 519.1h4.1v1.8h-4.1zM74.4 520.9h4.1v1.8h-4.1zM90.7 520.9h4.1v1.8h-4.1zM82.6 522.6h4.1v1.8h-4.1zM78.5 524.4h4.1v1.8h-4.1zM78.5 558.3h4.1v1.8h-4.1zM86.6 565.4h4.1v1.8h-4.1zM78.5 577.9h4.1v1.8h-4.1zM132.5 507.1h4.0v1.8h-4.0zM120.5 514.2h4.0v1.8h-4.0zM132.5 514.2h4.0v1.8h-4.0zM124.5 519.5h4.0v1.8h-4.0zM132.5 523.1h4.0v1.8h-4.0zM132.5 524.9h4.0v1.8h-4.0zM128.5 526.6h4.0v1.8h-4.0zM124.5 533.7h4.0v1.8h-4.0zM120.5 535.5h4.0v1.8h-4.0zM120.5 539.1h4.0v1.8h-4.0zM132.5 555.0h4.0v1.8h-4.0zM128.5 563.9h4.0v1.8h-4.0zM120.5 581.7h4.0v1.8h-4.0zM132.5 594.1h4.0v1.8h-4.0zM120.5 601.2h4.0v1.8h-4.0zM124.5 601.2h4.0v1.8h-4.0zM154.0 508.9h4.0v1.8h-4.0zM142.0 510.7h4.0v1.8h-4.0zM146.0 512.4h4.0v1.8h-4.0zM138.0 523.1h4.0v1.8h-4.0zM142.0 523.1h4.0v1.8h-4.0zM138.0 537.3h4.0v1.8h-4.0zM150.0 537.3h4.0v1.8h-4.0zM146.0 540.8h4.0v1.8h-4.0zM138.0 542.6h4.0v1.8h-4.0zM146.0 546.2h4.0v1.8h-4.0zM142.0 556.8h4.0v1.8h-4.0zM138.0 563.9h4.0v1.8h-4.0zM142.0 563.9h4.0v1.8h-4.0zM138.0 569.2h4.0v1.8h-4.0zM138.0 572.8h4.0v1.8h-4.0zM146.0 572.8h4.0v1.8h-4.0zM154.0 574.6h4.0v1.8h-4.0zM138.0 578.1h4.0v1.8h-4.0zM146.0 578.1h4.0v1.8h-4.0zM142.0 585.2h4.0v1.8h-4.0zM138.0 590.5h4.0v1.8h-4.0zM138.0 597.6h4.0v1.8h-4.0zM142.0 597.6h4.0v1.8h-4.0zM138.0 599.4h4.0v1.8h-4.0zM154.0 610.1h4.0v1.8h-4.0zM138.0 615.4h4.0v1.8h-4.0zM146.0 617.2h4.0v1.8h-4.0zM189.0 508.9h4.1v1.8h-4.1zM185.0 530.2h4.1v1.8h-4.1zM193.1 530.2h4.1v1.8h-4.1zM193.1 533.7h4.1v1.8h-4.1zM189.0 540.8h4.1v1.8h-4.1zM197.1 549.7h4.1v1.8h-4.1zM185.0 556.8h4.1v1.8h-4.1zM197.1 565.7h4.1v1.8h-4.1zM193.1 567.5h4.1v1.8h-4.1zM193.1 576.3h4.1v1.8h-4.1zM193.1 588.8h4.1v1.8h-4.1zM181.0 606.5h4.1v1.8h-4.1zM193.1 606.5h4.1v1.8h-4.1zM189.0 610.1h4.1v1.8h-4.1zM185.0 618.9h4.1v1.8h-4.1zM280.1 616.7h7.1v5.2h-7.1z"/>
<path fill="#f1d6d7" d="M255.0 326.9h4.1v1.3h-4.1zM259.1 348.8h4.1v1.3h-4.1zM251.0 352.7h4.1v1.3h-4.1zM263.1 359.1h4.1v1.3h-4.1zM251.0 368.1h4.1v1.3h-4.1zM251.0 390.1h4.1v1.3h-4.1zM280.9 337.2h4.1v1.3h-4.1zM268.7 342.3h4.1v1.3h-4.1zM280.9 344.9h4.1v1.3h-4.1zM284.9 346.2h4.1v1.3h-4.1zM280.9 354.0h4.1v1.3h-4.1zM276.8 363.0h4.1v1.3h-4.1zM272.8 366.9h4.1v1.3h-4.1zM276.8 366.9h4.1v1.3h-4.1zM280.9 369.4h4.1v1.3h-4.1zM272.8 372.0h4.1v1.3h-4.1zM280.9 382.3h4.1v1.3h-4.1zM268.7 384.9h4.1v1.3h-4.1zM284.9 384.9h4.1v1.3h-4.1zM280.9 391.4h4.1v1.3h-4.1zM284.9 393.9h4.1v1.3h-4.1zM268.7 401.7h4.1v1.3h-4.1zM284.9 412.0h4.1v1.3h-4.1zM284.9 413.3h4.1v1.3h-4.1zM284.9 414.6h4.1v1.3h-4.1zM272.8 417.2h4.1v1.3h-4.1zM276.8 419.7h4.1v1.3h-4.1zM276.8 424.9h4.1v1.3h-4.1zM284.9 424.9h4.1v1.3h-4.1zM276.8 430.1h4.1v1.3h-4.1zM280.9 432.6h4.1v1.3h-4.1zM298.2 334.6h4.0v1.3h-4.0zM298.2 339.8h4.0v1.3h-4.0zM298.2 344.9h4.0v1.3h-4.0zM302.1 344.9h4.0v1.3h-4.0zM298.2 374.6h4.0v1.3h-4.0zM294.2 382.3h4.0v1.3h-4.0zM306.1 386.2h4.0v1.3h-4.0zM294.2 405.5h4.0v1.3h-4.0zM372.0 370.7h4.0v1.3h-4.0zM368.0 373.3h4.0v1.3h-4.0zM364.0 382.3h4.0v1.3h-4.0zM372.0 382.3h4.0v1.3h-4.0zM372.0 383.6h4.0v1.3h-4.0zM360.0 406.8h4.0v1.3h-4.0zM372.0 406.8h4.0v1.3h-4.0zM360.0 408.1h4.0v1.3h-4.0zM368.0 408.1h4.0v1.3h-4.0zM368.0 424.9h4.0v1.3h-4.0zM360.0 426.2h4.0v1.3h-4.0zM360.0 435.2h4.0v1.3h-4.0zM364.0 435.2h4.0v1.3h-4.0zM368.0 435.2h4.0v1.3h-4.0zM389.5 323.0h4.1v1.3h-4.1zM381.3 332.0h4.1v1.3h-4.1zM393.6 335.9h4.1v1.3h-4.1zM389.5 338.5h4.1v1.3h-4.1zM377.2 343.6h4.1v1.3h-4.1zM385.4 343.6h4.1v1.3h-4.1zM393.6 343.6h4.1v1.3h-4.1zM381.3 354.0h4.1v1.3h-4.1zM385.4 354.0h4.1v1.3h-4.1zM381.3 363.0h4.1v1.3h-4.1zM389.5 365.6h4.1v1.3h-4.1zM377.2 368.1h4.1v1.3h-4.1zM381.3 368.1h4.1v1.3h-4.1zM385.4 370.7h4.1v1.3h-4.1zM381.3 377.2h4.1v1.3h-4.1zM393.6 382.3h4.1v1.3h-4.1zM377.2 387.5h4.1v1.3h-4.1zM381.3 387.5h4.1v1.3h-4.1zM385.4 387.5h4.1v1.3h-4.1zM389.5 387.5h4.1v1.3h-4.1zM385.4 388.8h4.1v1.3h-4.1zM389.5 388.8h4.1v1.3h-4.1zM377.2 393.9h4.1v1.3h-4.1zM393.6 395.2h4.1v1.3h-4.1zM389.5 396.5h4.1v1.3h-4.1zM393.6 397.8h4.1v1.3h-4.1zM377.2 399.1h4.1v1.3h-4.1zM389.5 400.4h4.1v1.3h-4.1zM389.5 405.5h4.1v1.3h-4.1zM377.2 410.7h4.1v1.3h-4.1zM385.4 414.6h4.1v1.3h-4.1zM377.2 417.2h4.1v1.3h-4.1zM389.5 419.7h4.1v1.3h-4.1zM385.4 422.3h4.1v1.3h-4.1zM389.5 422.3h4.1v1.3h-4.1zM381.3 424.9h4.1v1.3h-4.1zM377.2 431.3h4.1v1.3h-4.1zM393.6 431.3h4.1v1.3h-4.1zM403.0 363.0h4.1v1.3h-4.1zM428.7 330.7h4.0v1.3h-4.0zM428.7 409.4h4.0v1.3h-4.0zM436.6 410.7h4.0v1.3h-4.0zM432.6 428.8h4.0v1.3h-4.0zM17.9 506.6h4.1v1.8h-4.1zM17.9 513.7h4.1v1.8h-4.1zM25.9 522.6h4.1v1.8h-4.1zM25.9 565.4h4.1v1.8h-4.1zM13.8 570.7h4.1v1.8h-4.1zM21.9 570.7h4.1v1.8h-4.1zM17.9 581.4h4.1v1.8h-4.1zM25.9 583.2h4.1v1.8h-4.1zM21.9 597.4h4.1v1.8h-4.1zM13.8 601.0h4.1v1.8h-4.1zM13.8 615.3h4.1v1.8h-4.1zM25.9 615.3h4.1v1.8h-4.1zM39.6 545.8h4.2v1.8h-4.2zM47.9 545.8h4.2v1.8h-4.2zM31.4 565.4h4.2v1.8h-4.2zM57.0 517.3h4.0v1.8h-4.0zM68.9 519.1h4.0v1.8h-4.0zM68.9 528.0h4.0v1.8h-4.0zM53.0 533.3h4.0v1.8h-4.0zM64.9 533.3h4.0v1.8h-4.0zM61.0 536.9h4.0v1.8h-4.0zM61.0 554.7h4.0v1.8h-4.0zM53.0 563.6h4.0v1.8h-4.0zM68.9 570.7h4.0v1.8h-4.0zM53.0 572.5h4.0v1.8h-4.0zM64.9 588.5h4.0v1.8h-4.0zM74.4 506.6h4.1v1.8h-4.1zM82.6 519.1h4.1v1.8h-4.1zM74.4 526.2h4.1v1.8h-4.1zM78.5 533.3h4.1v1.8h-4.1zM78.5 542.2h4.1v1.8h-4.1zM86.6 544.0h4.1v1.8h-4.1zM90.7 545.8h4.1v1.8h-4.1zM78.5 554.7h4.1v1.8h-4.1zM74.4 556.5h4.1v1.8h-4.1zM78.5 563.6h4.1v1.8h-4.1zM78.5 567.2h4.1v1.8h-4.1zM86.6 567.2h4.1v1.8h-4.1zM86.6 570.7h4.1v1.8h-4.1zM82.6 576.1h4.1v1.8h-4.1zM82.6 577.9h4.1v1.8h-4.1zM74.4 579.6h4.1v1.8h-4.1zM82.6 581.4h4.1v1.8h-4.1zM90.7 581.4h4.1v1.8h-4.1zM86.6 583.2h4.1v1.8h-4.1zM74.4 588.5h4.1v1.8h-4.1zM78.5 588.5h4.1v1.8h-4.1zM74.4 595.7h4.1v1.8h-4.1zM78.5 595.7h4.1v1.8h-4.1zM78.5 601.0h4.1v1.8h-4.1zM78.5 611.7h4.1v1.8h-4.1zM82.6 613.5h4.1v1.8h-4.1zM120.5 567.5h4.0v1.8h-4.0zM132.5 574.6h4.0v1.8h-4.0zM124.5 576.3h4.0v1.8h-4.0zM128.5 594.1h4.0v1.8h-4.0zM124.5 604.7h4.0v1.8h-4.0zM128.5 606.5h4.0v1.8h-4.0zM120.5 615.4h4.0v1.8h-4.0zM124.5 617.2h4.0v1.8h-4.0zM154.0 510.7h4.0v1.8h-4.0zM146.0 547.9h4.0v1.8h-4.0zM150.0 553.2h4.0v1.8h-4.0zM150.0 592.3h4.0v1.8h-4.0zM146.0 606.5h4.0v1.8h-4.0zM150.0 617.2h4.0v1.8h-4.0zM171.6 510.7h4.1v1.8h-4.1zM193.1 526.6h4.1v1.8h-4.1zM197.1 526.6h4.1v1.8h-4.1zM193.1 532.0h4.1v1.8h-4.1zM197.1 532.0h4.1v1.8h-4.1zM181.0 544.4h4.1v1.8h-4.1zM197.1 546.2h4.1v1.8h-4.1zM197.1 555.0h4.1v1.8h-4.1zM193.1 562.1h4.1v1.8h-4.1zM189.0 563.9h4.1v1.8h-4.1zM189.0 569.2h4.1v1.8h-4.1zM185.0 579.9h4.1v1.8h-4.1zM185.0 583.4h4.1v1.8h-4.1zM189.0 587.0h4.1v1.8h-4.1zM197.1 587.0h4.1v1.8h-4.1zM189.0 590.5h4.1v1.8h-4.1zM181.0 595.9h4.1v1.8h-4.1zM193.1 603.0h4.1v1.8h-4.1zM193.1 615.4h4.1v1.8h-4.1zM181.0 618.9h4.1v1.8h-4.1zM193.1 618.9h4.1v1.8h-4.1zM251.8 544.8h7.1v5.2h-7.1zM317.0 503.8h7.1v5.2h-7.1zM310.0 555.1h7.1v5.2h-7.1zM295.9 580.8h7.1v5.2h-7.1zM317.0 626.9h7.1v5.2h-7.1zM295.9 632.0h7.1v5.2h-7.1zM339.8 508.9h7.0v5.2h-7.0z"/>
<path fill="#f8f7fa" d="M251.0 328.2h4.1v1.3h-4.1zM263.1 328.2h4.1v1.3h-4.1zM255.0 329.4h4.1v1.3h-4.1zM263.1 329.4h4.1v1.3h-4.1zM263.1 348.8h4.1v1.3h-4.1zM263.1 357.8h4.1v1.3h-4.1zM255.0 360.4h4.1v1.3h-4.1zM263.1 366.9h4.1v1.3h-4.1zM255.0 387.5h4.1v1.3h-4.1zM251.0 388.8h4.1v1.3h-4.1zM255.0 388.8h4.1v1.3h-4.1zM259.1 388.8h4.1v1.3h-4.1zM259.1 390.1h4.1v1.3h-4.1zM263.1 424.9h4.1v1.3h-4.1zM255.0 431.3h4.1v1.3h-4.1zM284.9 323.0h4.1v1.3h-4.1zM272.8 342.3h4.1v1.3h-4.1zM276.8 342.3h4.1v1.3h-4.1zM284.9 344.9h4.1v1.3h-4.1zM268.7 346.2h4.1v1.3h-4.1zM272.8 346.2h4.1v1.3h-4.1zM280.9 350.1h4.1v1.3h-4.1zM284.9 354.0h4.1v1.3h-4.1zM284.9 355.2h4.1v1.3h-4.1zM268.7 369.4h4.1v1.3h-4.1zM280.9 378.5h4.1v1.3h-4.1zM284.9 378.5h4.1v1.3h-4.1zM272.8 383.6h4.1v1.3h-4.1zM280.9 393.9h4.1v1.3h-4.1zM272.8 395.2h4.1v1.3h-4.1zM284.9 395.2h4.1v1.3h-4.1zM276.8 399.1h4.1v1.3h-4.1zM280.9 399.1h4.1v1.3h-4.1zM272.8 403.0h4.1v1.3h-4.1zM272.8 408.1h4.1v1.3h-4.1zM284.9 409.4h4.1v1.3h-4.1zM268.7 410.7h4.1v1.3h-4.1zM284.9 410.7h4.1v1.3h-4.1zM268.7 415.9h4.1v1.3h-4.1zM268.7 421.0h4.1v1.3h-4.1zM272.8 423.6h4.1v1.3h-4.1zM276.8 423.6h4.1v1.3h-4.1zM280.9 423.6h4.1v1.3h-4.1zM284.9 427.5h4.1v1.3h-4.1zM280.9 430.1h4.1v1.3h-4.1zM280.9 435.2h4.1v1.3h-4.1zM298.2 386.2h4.0v1.3h-4.0zM368.0 393.9h4.0v1.3h-4.0zM368.0 403.0h4.0v1.3h-4.0zM364.0 408.1h4.0v1.3h-4.0zM368.0 413.3h4.0v1.3h-4.0zM372.0 413.3h4.0v1.3h-4.0zM385.4 323.0h4.1v1.3h-4.1zM393.6 323.0h4.1v1.3h-4.1zM381.3 326.9h4.1v1.3h-4.1zM389.5 326.9h4.1v1.3h-4.1zM385.4 328.2h4.1v1.3h-4.1zM381.3 329.4h4.1v1.3h-4.1zM393.6 329.4h4.1v1.3h-4.1zM393.6 332.0h4.1v1.3h-4.1zM381.3 333.3h4.1v1.3h-4.1zM389.5 333.3h4.1v1.3h-4.1zM393.6 333.3h4.1v1.3h-4.1zM385.4 339.8h4.1v1.3h-4.1zM389.5 339.8h4.1v1.3h-4.1zM385.4 341.1h4.1v1.3h-4.1zM393.6 341.1h4.1v1.3h-4.1zM381.3 343.6h4.1v1.3h-4.1zM393.6 350.1h4.1v1.3h-4.1zM393.6 351.4h4.1v1.3h-4.1zM389.5 354.0h4.1v1.3h-4.1zM393.6 354.0h4.1v1.3h-4.1zM381.3 355.2h4.1v1.3h-4.1zM385.4 355.2h4.1v1.3h-4.1zM393.6 357.8h4.1v1.3h-4.1zM393.6 359.1h4.1v1.3h-4.1zM385.4 360.4h4.1v1.3h-4.1zM389.5 360.4h4.1v1.3h-4.1zM381.3 364.3h4.1v1.3h-4.1zM393.6 364.3h4.1v1.3h-4.1zM385.4 369.4h4.1v1.3h-4.1zM381.3 370.7h4.1v1.3h-4.1zM377.2 388.8h4.1v1.3h-4.1zM393.6 390.1h4.1v1.3h-4.1zM381.3 396.5h4.1v1.3h-4.1zM381.3 397.8h4.1v1.3h-4.1zM385.4 397.8h4.1v1.3h-4.1zM385.4 399.1h4.1v1.3h-4.1zM389.5 401.7h4.1v1.3h-4.1zM381.3 406.8h4.1v1.3h-4.1zM377.2 408.1h4.1v1.3h-4.1zM389.5 410.7h4.1v1.3h-4.1zM393.6 413.3h4.1v1.3h-4.1zM381.3 417.2h4.1v1.3h-4.1zM377.2 422.3h4.1v1.3h-4.1zM393.6 422.3h4.1v1.3h-4.1zM407.1 363.0h4.1v1.3h-4.1zM420.8 325.6h4.0v1.3h-4.0zM428.7 328.2h4.0v1.3h-4.0zM428.7 332.0h4.0v1.3h-4.0zM420.8 333.3h4.0v1.3h-4.0zM424.7 354.0h4.0v1.3h-4.0zM432.6 354.0h4.0v1.3h-4.0zM436.6 356.5h4.0v1.3h-4.0zM424.7 361.7h4.0v1.3h-4.0zM420.8 364.3h4.0v1.3h-4.0zM432.6 381.0h4.0v1.3h-4.0zM432.6 383.6h4.0v1.3h-4.0zM428.7 386.2h4.0v1.3h-4.0zM432.6 392.6h4.0v1.3h-4.0zM436.6 395.2h4.0v1.3h-4.0zM420.8 397.8h4.0v1.3h-4.0zM420.8 409.4h4.0v1.3h-4.0zM428.7 426.2h4.0v1.3h-4.0zM13.8 506.6h4.1v1.8h-4.1zM13.8 517.3h4.1v1.8h-4.1zM25.9 568.9h4.1v1.8h-4.1zM17.9 574.3h4.1v1.8h-4.1zM21.9 577.9h4.1v1.8h-4.1zM25.9 586.8h4.1v1.8h-4.1zM13.8 599.2h4.1v1.8h-4.1zM57.0 513.7h4.0v1.8h-4.0zM64.9 519.1h4.0v1.8h-4.0zM53.0 520.9h4.0v1.8h-4.0zM64.9 524.4h4.0v1.8h-4.0zM61.0 533.3h4.0v1.8h-4.0zM68.9 533.3h4.0v1.8h-4.0zM57.0 536.9h4.0v1.8h-4.0zM53.0 538.7h4.0v1.8h-4.0zM61.0 538.7h4.0v1.8h-4.0zM53.0 542.2h4.0v1.8h-4.0zM68.9 544.0h4.0v1.8h-4.0zM53.0 545.8h4.0v1.8h-4.0zM68.9 545.8h4.0v1.8h-4.0zM53.0 568.9h4.0v1.8h-4.0zM64.9 577.9h4.0v1.8h-4.0zM53.0 583.2h4.0v1.8h-4.0zM57.0 585.0h4.0v1.8h-4.0zM68.9 590.3h4.0v1.8h-4.0zM61.0 601.0h4.0v1.8h-4.0zM61.0 602.8h4.0v1.8h-4.0zM57.0 604.6h4.0v1.8h-4.0zM53.0 606.4h4.0v1.8h-4.0zM61.0 606.4h4.0v1.8h-4.0zM64.9 609.9h4.0v1.8h-4.0zM68.9 611.7h4.0v1.8h-4.0zM86.6 506.6h4.1v1.8h-4.1zM90.7 508.4h4.1v1.8h-4.1zM74.4 510.2h4.1v1.8h-4.1zM90.7 511.9h4.1v1.8h-4.1zM82.6 513.7h4.1v1.8h-4.1zM74.4 515.5h4.1v1.8h-4.1zM74.4 549.4h4.1v1.8h-4.1zM90.7 549.4h4.1v1.8h-4.1zM86.6 554.7h4.1v1.8h-4.1zM90.7 563.6h4.1v1.8h-4.1zM78.5 574.3h4.1v1.8h-4.1zM74.4 576.1h4.1v1.8h-4.1zM86.6 577.9h4.1v1.8h-4.1zM78.5 586.8h4.1v1.8h-4.1zM82.6 593.9h4.1v1.8h-4.1zM86.6 595.7h4.1v1.8h-4.1zM82.6 617.0h4.1v1.8h-4.1zM120.5 510.7h4.0v1.8h-4.0zM124.5 514.2h4.0v1.8h-4.0zM120.5 533.7h4.0v1.8h-4.0zM128.5 535.5h4.0v1.8h-4.0zM124.5 544.4h4.0v1.8h-4.0zM120.5 553.2h4.0v1.8h-4.0zM132.5 558.6h4.0v1.8h-4.0zM120.5 562.1h4.0v1.8h-4.0zM132.5 571.0h4.0v1.8h-4.0zM132.5 588.8h4.0v1.8h-4.0zM120.5 590.5h4.0v1.8h-4.0zM132.5 618.9h4.0v1.8h-4.0zM138.0 508.9h4.0v1.8h-4.0zM154.0 517.8h4.0v1.8h-4.0zM146.0 523.1h4.0v1.8h-4.0zM154.0 523.1h4.0v1.8h-4.0zM150.0 524.9h4.0v1.8h-4.0zM146.0 539.1h4.0v1.8h-4.0zM142.0 547.9h4.0v1.8h-4.0zM154.0 547.9h4.0v1.8h-4.0zM138.0 549.7h4.0v1.8h-4.0zM142.0 553.2h4.0v1.8h-4.0zM150.0 558.6h4.0v1.8h-4.0zM138.0 560.4h4.0v1.8h-4.0zM146.0 560.4h4.0v1.8h-4.0zM154.0 563.9h4.0v1.8h-4.0zM154.0 569.2h4.0v1.8h-4.0zM142.0 574.6h4.0v1.8h-4.0zM150.0 574.6h4.0v1.8h-4.0zM138.0 581.7h4.0v1.8h-4.0zM142.0 587.0h4.0v1.8h-4.0zM154.0 590.5h4.0v1.8h-4.0zM138.0 592.3h4.0v1.8h-4.0zM154.0 597.6h4.0v1.8h-4.0zM150.0 613.6h4.0v1.8h-4.0zM154.0 613.6h4.0v1.8h-4.0zM189.0 507.1h4.1v1.8h-4.1zM185.0 510.7h4.1v1.8h-4.1zM181.0 514.2h4.1v1.8h-4.1zM181.0 519.5h4.1v1.8h-4.1zM189.0 523.1h4.1v1.8h-4.1zM193.1 523.1h4.1v1.8h-4.1zM197.1 523.1h4.1v1.8h-4.1zM197.1 533.7h4.1v1.8h-4.1zM189.0 537.3h4.1v1.8h-4.1zM189.0 539.1h4.1v1.8h-4.1zM181.0 542.6h4.1v1.8h-4.1zM185.0 544.4h4.1v1.8h-4.1zM189.0 544.4h4.1v1.8h-4.1zM181.0 547.9h4.1v1.8h-4.1zM197.1 551.5h4.1v1.8h-4.1zM193.1 555.0h4.1v1.8h-4.1zM197.1 560.4h4.1v1.8h-4.1zM181.0 565.7h4.1v1.8h-4.1zM185.0 565.7h4.1v1.8h-4.1zM189.0 579.9h4.1v1.8h-4.1zM197.1 579.9h4.1v1.8h-4.1zM185.0 590.5h4.1v1.8h-4.1zM185.0 592.3h4.1v1.8h-4.1zM197.1 592.3h4.1v1.8h-4.1zM181.0 599.4h4.1v1.8h-4.1zM185.0 604.7h4.1v1.8h-4.1zM193.1 604.7h4.1v1.8h-4.1zM185.0 606.5h4.1v1.8h-4.1zM193.1 608.3h4.1v1.8h-4.1zM185.0 610.1h4.1v1.8h-4.1zM197.1 610.1h4.1v1.8h-4.1zM185.0 613.6h4.1v1.8h-4.1zM185.0 615.4h4.1v1.8h-4.1zM189.0 615.4h4.1v1.8h-4.1zM189.0 618.9h4.1v1.8h-4.1zM251.8 534.6h7.1v5.2h-7.1zM251.8 560.2h7.1v5.2h-7.1zM258.9 565.4h7.1v5.2h-7.1zM251.8 585.9h7.1v5.2h-7.1zM310.0 524.3h7.1v5.2h-7.1zM302.9 550.0h7.1v5.2h-7.1zM302.9 555.1h7.1v5.2h-7.1zM288.9 591.0h7.1v5.2h-7.1zM310.0 591.0h7.1v5.2h-7.1zM317.0 621.8h7.1v5.2h-7.1zM325.9 529.5h7.0v5.2h-7.0zM339.8 539.7h7.0v5.2h-7.0zM339.8 555.1h7.0v5.2h-7.0zM332.9 580.8h7.0v5.2h-7.0zM325.9 585.9h7.0v5.2h-7.0zM332.9 585.9h7.0v5.2h-7.0zM362.5 621.8h7.0v5.2h-7.0z"/>
<path fill="#e4e2ef" d="M259.1 328.2h4.1v1.3h-4.1zM255.0 339.8h4.1v1.3h-4.1zM263.1 339.8h4.1v1.3h-4.1zM263.1 346.2h4.1v1.3h-4.1zM251.0 354.0h4.1v1.3h-4.1zM251.0 359.1h4.1v1.3h-4.1zM259.1 359.1h4.1v1.3h-4.1zM259.1 364.3h4.1v1.3h-4.1zM259.1 365.6h4.1v1.3h-4.1zM263.1 382.3h4.1v1.3h-4.1zM263.1 383.6h4.1v1.3h-4.1zM263.1 388.8h4.1v1.3h-4.1zM263.1 431.3h4.1v1.3h-4.1zM251.0 432.6h4.1v1.3h-4.1zM268.7 330.7h4.1v1.3h-4.1zM276.8 335.9h4.1v1.3h-4.1zM272.8 341.1h4.1v1.3h-4.1zM280.9 342.3h4.1v1.3h-4.1zM284.9 343.6h4.1v1.3h-4.1zM280.9 347.5h4.1v1.3h-4.1zM268.7 354.0h4.1v1.3h-4.1zM268.7 355.2h4.1v1.3h-4.1zM272.8 355.2h4.1v1.3h-4.1zM284.9 360.4h4.1v1.3h-4.1zM284.9 361.7h4.1v1.3h-4.1zM272.8 363.0h4.1v1.3h-4.1zM284.9 366.9h4.1v1.3h-4.1zM280.9 370.7h4.1v1.3h-4.1zM268.7 372.0h4.1v1.3h-4.1zM268.7 379.8h4.1v1.3h-4.1zM268.7 381.0h4.1v1.3h-4.1zM276.8 382.3h4.1v1.3h-4.1zM280.9 387.5h4.1v1.3h-4.1zM280.9 388.8h4.1v1.3h-4.1zM272.8 393.9h4.1v1.3h-4.1zM280.9 395.2h4.1v1.3h-4.1zM284.9 400.4h4.1v1.3h-4.1zM272.8 401.7h4.1v1.3h-4.1zM280.9 404.3h4.1v1.3h-4.1zM280.9 405.5h4.1v1.3h-4.1zM268.7 406.8h4.1v1.3h-4.1zM284.9 406.8h4.1v1.3h-4.1zM280.9 408.1h4.1v1.3h-4.1zM276.8 410.7h4.1v1.3h-4.1zM280.9 413.3h4.1v1.3h-4.1zM272.8 415.9h4.1v1.3h-4.1zM280.9 417.2h4.1v1.3h-4.1zM284.9 418.4h4.1v1.3h-4.1zM272.8 421.0h4.1v1.3h-4.1zM276.8 422.3h4.1v1.3h-4.1zM276.8 427.5h4.1v1.3h-4.1zM272.8 430.1h4.1v1.3h-4.1zM276.8 433.9h4.1v1.3h-4.1zM268.7 435.2h4.1v1.3h-4.1zM302.1 370.7h4.0v1.3h-4.0zM368.0 382.3h4.0v1.3h-4.0zM360.0 387.5h4.0v1.3h-4.0zM360.0 421.0h4.0v1.3h-4.0zM372.0 421.0h4.0v1.3h-4.0zM389.5 325.6h4.1v1.3h-4.1zM377.2 330.7h4.1v1.3h-4.1zM389.5 332.0h4.1v1.3h-4.1zM377.2 334.6h4.1v1.3h-4.1zM389.5 334.6h4.1v1.3h-4.1zM385.4 338.5h4.1v1.3h-4.1zM389.5 341.1h4.1v1.3h-4.1zM385.4 342.3h4.1v1.3h-4.1zM389.5 342.3h4.1v1.3h-4.1zM393.6 342.3h4.1v1.3h-4.1zM377.2 351.4h4.1v1.3h-4.1zM393.6 355.2h4.1v1.3h-4.1zM381.3 356.5h4.1v1.3h-4.1zM385.4 356.5h4.1v1.3h-4.1zM389.5 356.5h4.1v1.3h-4.1zM377.2 361.7h4.1v1.3h-4.1zM393.6 361.7h4.1v1.3h-4.1zM377.2 363.0h4.1v1.3h-4.1zM389.5 369.4h4.1v1.3h-4.1zM393.6 379.8h4.1v1.3h-4.1zM393.6 381.0h4.1v1.3h-4.1zM377.2 383.6h4.1v1.3h-4.1zM393.6 383.6h4.1v1.3h-4.1zM385.4 390.1h4.1v1.3h-4.1zM385.4 400.4h4.1v1.3h-4.1zM393.6 400.4h4.1v1.3h-4.1zM393.6 401.7h4.1v1.3h-4.1zM377.2 418.4h4.1v1.3h-4.1zM381.3 426.2h4.1v1.3h-4.1zM385.4 426.2h4.1v1.3h-4.1zM411.1 337.2h4.1v1.3h-4.1zM411.1 339.8h4.1v1.3h-4.1zM403.0 351.4h4.1v1.3h-4.1zM407.1 370.7h4.1v1.3h-4.1zM411.1 387.5h4.1v1.3h-4.1zM399.0 388.8h4.1v1.3h-4.1zM399.0 399.1h4.1v1.3h-4.1zM399.0 423.6h4.1v1.3h-4.1zM407.1 433.9h4.1v1.3h-4.1zM420.8 328.2h4.0v1.3h-4.0zM424.7 330.7h4.0v1.3h-4.0zM432.6 332.0h4.0v1.3h-4.0zM436.6 332.0h4.0v1.3h-4.0zM432.6 333.3h4.0v1.3h-4.0zM432.6 334.6h4.0v1.3h-4.0zM436.6 342.3h4.0v1.3h-4.0zM432.6 346.2h4.0v1.3h-4.0zM436.6 354.0h4.0v1.3h-4.0zM436.6 365.6h4.0v1.3h-4.0zM420.8 370.7h4.0v1.3h-4.0zM436.6 384.9h4.0v1.3h-4.0zM424.7 387.5h4.0v1.3h-4.0zM436.6 392.6h4.0v1.3h-4.0zM424.7 397.8h4.0v1.3h-4.0zM432.6 397.8h4.0v1.3h-4.0zM424.7 405.5h4.0v1.3h-4.0zM420.8 423.6h4.0v1.3h-4.0zM432.6 426.2h4.0v1.3h-4.0zM436.6 426.2h4.0v1.3h-4.0zM436.6 428.8h4.0v1.3h-4.0zM21.9 511.9h4.1v1.8h-4.1zM21.9 515.5h4.1v1.8h-4.1zM17.9 577.9h4.1v1.8h-4.1zM13.8 604.6h4.1v1.8h-4.1zM17.9 604.6h4.1v1.8h-4.1zM53.0 508.4h4.0v1.8h-4.0zM53.0 510.2h4.0v1.8h-4.0zM61.0 519.1h4.0v1.8h-4.0zM64.9 520.9h4.0v1.8h-4.0zM68.9 520.9h4.0v1.8h-4.0zM53.0 522.6h4.0v1.8h-4.0zM61.0 522.6h4.0v1.8h-4.0zM68.9 524.4h4.0v1.8h-4.0zM68.9 538.7h4.0v1.8h-4.0zM64.9 551.1h4.0v1.8h-4.0zM64.9 552.9h4.0v1.8h-4.0zM53.0 558.3h4.0v1.8h-4.0zM64.9 561.8h4.0v1.8h-4.0zM68.9 567.2h4.0v1.8h-4.0zM57.0 570.7h4.0v1.8h-4.0zM68.9 583.2h4.0v1.8h-4.0zM64.9 590.3h4.0v1.8h-4.0zM57.0 593.9h4.0v1.8h-4.0zM57.0 597.4h4.0v1.8h-4.0zM61.0 599.2h4.0v1.8h-4.0zM53.0 601.0h4.0v1.8h-4.0zM57.0 601.0h4.0v1.8h-4.0zM64.9 602.8h4.0v1.8h-4.0zM68.9 604.6h4.0v1.8h-4.0zM61.0 609.9h4.0v1.8h-4.0zM64.9 615.3h4.0v1.8h-4.0zM90.7 513.7h4.1v1.8h-4.1zM86.6 515.5h4.1v1.8h-4.1zM90.7 515.5h4.1v1.8h-4.1zM78.5 519.1h4.1v1.8h-4.1zM82.6 520.9h4.1v1.8h-4.1zM74.4 524.4h4.1v1.8h-4.1zM90.7 524.4h4.1v1.8h-4.1zM78.5 549.4h4.1v1.8h-4.1zM90.7 554.7h4.1v1.8h-4.1zM86.6 558.3h4.1v1.8h-4.1zM74.4 574.3h4.1v1.8h-4.1zM82.6 574.3h4.1v1.8h-4.1zM86.6 581.4h4.1v1.8h-4.1zM82.6 609.9h4.1v1.8h-4.1zM86.6 609.9h4.1v1.8h-4.1zM128.5 512.4h4.0v1.8h-4.0zM120.5 519.5h4.0v1.8h-4.0zM128.5 521.3h4.0v1.8h-4.0zM124.5 526.6h4.0v1.8h-4.0zM128.5 528.4h4.0v1.8h-4.0zM124.5 532.0h4.0v1.8h-4.0zM124.5 547.9h4.0v1.8h-4.0zM120.5 549.7h4.0v1.8h-4.0zM132.5 565.7h4.0v1.8h-4.0zM128.5 571.0h4.0v1.8h-4.0zM120.5 579.9h4.0v1.8h-4.0zM120.5 583.4h4.0v1.8h-4.0zM120.5 599.4h4.0v1.8h-4.0zM124.5 599.4h4.0v1.8h-4.0zM128.5 604.7h4.0v1.8h-4.0zM128.5 613.6h4.0v1.8h-4.0zM138.0 514.2h4.0v1.8h-4.0zM154.0 514.2h4.0v1.8h-4.0zM142.0 519.5h4.0v1.8h-4.0zM146.0 519.5h4.0v1.8h-4.0zM142.0 521.3h4.0v1.8h-4.0zM138.0 528.4h4.0v1.8h-4.0zM146.0 537.3h4.0v1.8h-4.0zM154.0 540.8h4.0v1.8h-4.0zM142.0 542.6h4.0v1.8h-4.0zM138.0 547.9h4.0v1.8h-4.0zM154.0 549.7h4.0v1.8h-4.0zM154.0 562.1h4.0v1.8h-4.0zM150.0 563.9h4.0v1.8h-4.0zM146.0 565.7h4.0v1.8h-4.0zM138.0 574.6h4.0v1.8h-4.0zM142.0 576.3h4.0v1.8h-4.0zM142.0 578.1h4.0v1.8h-4.0zM138.0 587.0h4.0v1.8h-4.0zM150.0 588.8h4.0v1.8h-4.0zM154.0 595.9h4.0v1.8h-4.0zM138.0 601.2h4.0v1.8h-4.0zM154.0 603.0h4.0v1.8h-4.0zM142.0 613.6h4.0v1.8h-4.0zM197.1 507.1h4.1v1.8h-4.1zM193.1 514.2h4.1v1.8h-4.1zM189.0 517.8h4.1v1.8h-4.1zM189.0 521.3h4.1v1.8h-4.1zM189.0 528.4h4.1v1.8h-4.1zM193.1 528.4h4.1v1.8h-4.1zM185.0 533.7h4.1v1.8h-4.1zM197.1 535.5h4.1v1.8h-4.1zM193.1 542.6h4.1v1.8h-4.1zM193.1 544.4h4.1v1.8h-4.1zM193.1 546.2h4.1v1.8h-4.1zM193.1 549.7h4.1v1.8h-4.1zM181.0 553.2h4.1v1.8h-4.1zM181.0 567.5h4.1v1.8h-4.1zM185.0 588.8h4.1v1.8h-4.1zM181.0 592.3h4.1v1.8h-4.1zM189.0 601.2h4.1v1.8h-4.1zM197.1 603.0h4.1v1.8h-4.1zM181.0 611.8h4.1v1.8h-4.1zM189.0 611.8h4.1v1.8h-4.1zM310.0 616.7h7.1v5.2h-7.1zM317.0 632.0h7.1v5.2h-7.1zM362.5 626.9h7.0v5.2h-7.0z"/>
<path fill="#f5eaed" d="M251.0 329.4h4.1v1.3h-4.1zM259.1 352.7h4.1v1.3h-4.1zM259.1 363.0h4.1v1.3h-4.1zM255.0 365.6h4.1v1.3h-4.1zM255.0 366.9h4.1v1.3h-4.1zM255.0 368.1h4.1v1.3h-4.1zM255.0 390.1h4.1v1.3h-4.1zM255.0 426.2h4.1v1.3h-4.1zM259.1 431.3h4.1v1.3h-4.1zM272.8 330.7h4.1v1.3h-4.1zM272.8 337.2h4.1v1.3h-4.1zM276.8 343.6h4.1v1.3h-4.1zM280.9 343.6h4.1v1.3h-4.1zM280.9 346.2h4.1v1.3h-4.1zM272.8 350.1h4.1v1.3h-4.1zM280.9 355.2h4.1v1.3h-4.1zM268.7 357.8h4.1v1.3h-4.1zM268.7 363.0h4.1v1.3h-4.1zM280.9 363.0h4.1v1.3h-4.1zM268.7 368.1h4.1v1.3h-4.1zM280.9 368.1h4.1v1.3h-4.1zM284.9 369.4h4.1v1.3h-4.1zM276.8 370.7h4.1v1.3h-4.1zM276.8 372.0h4.1v1.3h-4.1zM268.7 375.9h4.1v1.3h-4.1zM276.8 375.9h4.1v1.3h-4.1zM284.9 388.8h4.1v1.3h-4.1zM284.9 392.6h4.1v1.3h-4.1zM272.8 396.5h4.1v1.3h-4.1zM276.8 396.5h4.1v1.3h-4.1zM284.9 396.5h4.1v1.3h-4.1zM280.9 400.4h4.1v1.3h-4.1zM276.8 401.7h4.1v1.3h-4.1zM284.9 401.7h4.1v1.3h-4.1zM268.7 403.0h4.1v1.3h-4.1zM276.8 403.0h4.1v1.3h-4.1zM268.7 404.3h4.1v1.3h-4.1zM284.9 408.1h4.1v1.3h-4.1zM272.8 409.4h4.1v1.3h-4.1zM276.8 409.4h4.1v1.3h-4.1zM268.7 412.0h4.1v1.3h-4.1zM272.8 412.0h4.1v1.3h-4.1zM272.8 414.6h4.1v1.3h-4.1zM268.7 419.7h4.1v1.3h-4.1zM280.9 422.3h4.1v1.3h-4.1zM272.8 424.9h4.1v1.3h-4.1zM280.9 424.9h4.1v1.3h-4.1zM268.7 426.2h4.1v1.3h-4.1zM268.7 427.5h4.1v1.3h-4.1zM280.9 427.5h4.1v1.3h-4.1zM280.9 431.3h4.1v1.3h-4.1zM272.8 435.2h4.1v1.3h-4.1zM276.8 435.2h4.1v1.3h-4.1zM284.9 435.2h4.1v1.3h-4.1zM298.2 326.9h4.0v1.3h-4.0zM306.1 326.9h4.0v1.3h-4.0zM290.3 333.3h4.0v1.3h-4.0zM294.2 333.3h4.0v1.3h-4.0zM294.2 369.4h4.0v1.3h-4.0zM290.3 373.3h4.0v1.3h-4.0zM302.1 382.3h4.0v1.3h-4.0zM306.1 406.8h4.0v1.3h-4.0zM364.0 387.5h4.0v1.3h-4.0zM364.0 413.3h4.0v1.3h-4.0zM393.6 325.6h4.1v1.3h-4.1zM385.4 332.0h4.1v1.3h-4.1zM381.3 338.5h4.1v1.3h-4.1zM393.6 338.5h4.1v1.3h-4.1zM377.2 344.9h4.1v1.3h-4.1zM381.3 344.9h4.1v1.3h-4.1zM393.6 344.9h4.1v1.3h-4.1zM389.5 350.1h4.1v1.3h-4.1zM377.2 357.8h4.1v1.3h-4.1zM381.3 361.7h4.1v1.3h-4.1zM377.2 364.3h4.1v1.3h-4.1zM385.4 364.3h4.1v1.3h-4.1zM389.5 370.7h4.1v1.3h-4.1zM385.4 372.0h4.1v1.3h-4.1zM385.4 377.2h4.1v1.3h-4.1zM393.6 377.2h4.1v1.3h-4.1zM389.5 378.5h4.1v1.3h-4.1zM385.4 379.8h4.1v1.3h-4.1zM377.2 382.3h4.1v1.3h-4.1zM389.5 383.6h4.1v1.3h-4.1zM385.4 393.9h4.1v1.3h-4.1zM389.5 393.9h4.1v1.3h-4.1zM389.5 404.3h4.1v1.3h-4.1zM393.6 404.3h4.1v1.3h-4.1zM393.6 414.6h4.1v1.3h-4.1zM385.4 415.9h4.1v1.3h-4.1zM393.6 417.2h4.1v1.3h-4.1zM389.5 426.2h4.1v1.3h-4.1zM411.1 363.0h4.1v1.3h-4.1zM399.0 397.8h4.1v1.3h-4.1zM415.2 397.8h4.1v1.3h-4.1zM420.8 323.0h4.0v1.3h-4.0zM436.6 328.2h4.0v1.3h-4.0zM424.7 347.5h4.0v1.3h-4.0zM428.7 364.3h4.0v1.3h-4.0zM436.6 364.3h4.0v1.3h-4.0zM428.7 372.0h4.0v1.3h-4.0zM428.7 392.6h4.0v1.3h-4.0zM420.8 405.5h4.0v1.3h-4.0zM424.7 428.8h4.0v1.3h-4.0zM424.7 433.9h4.0v1.3h-4.0zM21.9 517.3h4.1v1.8h-4.1zM25.9 519.1h4.1v1.8h-4.1zM17.9 522.6h4.1v1.8h-4.1zM25.9 544.0h4.1v1.8h-4.1zM13.8 560.0h4.1v1.8h-4.1zM17.9 565.4h4.1v1.8h-4.1zM13.8 567.2h4.1v1.8h-4.1zM17.9 570.7h4.1v1.8h-4.1zM25.9 611.7h4.1v1.8h-4.1zM39.6 547.6h4.2v1.8h-4.2zM53.0 506.6h4.0v1.8h-4.0zM57.0 511.9h4.0v1.8h-4.0zM68.9 513.7h4.0v1.8h-4.0zM64.9 522.6h4.0v1.8h-4.0zM68.9 526.2h4.0v1.8h-4.0zM64.9 529.8h4.0v1.8h-4.0zM64.9 576.1h4.0v1.8h-4.0zM57.0 583.2h4.0v1.8h-4.0zM53.0 585.0h4.0v1.8h-4.0zM64.9 586.8h4.0v1.8h-4.0zM53.0 609.9h4.0v1.8h-4.0zM57.0 615.3h4.0v1.8h-4.0zM82.6 508.4h4.1v1.8h-4.1zM78.5 510.2h4.1v1.8h-4.1zM74.4 513.7h4.1v1.8h-4.1zM78.5 513.7h4.1v1.8h-4.1zM74.4 519.1h4.1v1.8h-4.1zM86.6 545.8h4.1v1.8h-4.1zM86.6 549.4h4.1v1.8h-4.1zM82.6 558.3h4.1v1.8h-4.1zM86.6 574.3h4.1v1.8h-4.1zM86.6 576.1h4.1v1.8h-4.1zM74.4 583.2h4.1v1.8h-4.1zM86.6 606.4h4.1v1.8h-4.1zM74.4 617.0h4.1v1.8h-4.1zM120.5 508.9h4.0v1.8h-4.0zM128.5 519.5h4.0v1.8h-4.0zM128.5 551.5h4.0v1.8h-4.0zM124.5 555.0h4.0v1.8h-4.0zM124.5 567.5h4.0v1.8h-4.0zM132.5 567.5h4.0v1.8h-4.0zM132.5 590.5h4.0v1.8h-4.0zM124.5 594.1h4.0v1.8h-4.0zM124.5 597.6h4.0v1.8h-4.0zM132.5 604.7h4.0v1.8h-4.0zM124.5 606.5h4.0v1.8h-4.0zM128.5 615.4h4.0v1.8h-4.0zM142.0 512.4h4.0v1.8h-4.0zM138.0 519.5h4.0v1.8h-4.0zM150.0 519.5h4.0v1.8h-4.0zM142.0 528.4h4.0v1.8h-4.0zM146.0 556.8h4.0v1.8h-4.0zM154.0 556.8h4.0v1.8h-4.0zM150.0 565.7h4.0v1.8h-4.0zM154.0 565.7h4.0v1.8h-4.0zM146.0 569.2h4.0v1.8h-4.0zM154.0 583.4h4.0v1.8h-4.0zM142.0 588.8h4.0v1.8h-4.0zM142.0 590.5h4.0v1.8h-4.0zM146.0 592.3h4.0v1.8h-4.0zM154.0 594.1h4.0v1.8h-4.0zM150.0 597.6h4.0v1.8h-4.0zM150.0 606.5h4.0v1.8h-4.0zM146.0 618.9h4.0v1.8h-4.0zM189.0 512.4h4.1v1.8h-4.1zM193.1 512.4h4.1v1.8h-4.1zM185.0 517.8h4.1v1.8h-4.1zM197.1 519.5h4.1v1.8h-4.1zM185.0 523.1h4.1v1.8h-4.1zM185.0 528.4h4.1v1.8h-4.1zM193.1 539.1h4.1v1.8h-4.1zM197.1 540.8h4.1v1.8h-4.1zM185.0 546.2h4.1v1.8h-4.1zM197.1 547.9h4.1v1.8h-4.1zM185.0 549.7h4.1v1.8h-4.1zM189.0 549.7h4.1v1.8h-4.1zM181.0 560.4h4.1v1.8h-4.1zM197.1 562.1h4.1v1.8h-4.1zM189.0 565.7h4.1v1.8h-4.1zM181.0 576.3h4.1v1.8h-4.1zM189.0 576.3h4.1v1.8h-4.1zM185.0 578.1h4.1v1.8h-4.1zM189.0 578.1h4.1v1.8h-4.1zM193.1 590.5h4.1v1.8h-4.1zM185.0 594.1h4.1v1.8h-4.1zM197.1 594.1h4.1v1.8h-4.1zM193.1 595.9h4.1v1.8h-4.1zM189.0 597.6h4.1v1.8h-4.1zM193.1 597.6h4.1v1.8h-4.1zM181.0 603.0h4.1v1.8h-4.1zM189.0 603.0h4.1v1.8h-4.1zM181.0 608.3h4.1v1.8h-4.1zM197.1 608.3h4.1v1.8h-4.1zM193.1 610.1h4.1v1.8h-4.1zM193.1 611.8h4.1v1.8h-4.1zM189.0 613.6h4.1v1.8h-4.1zM181.0 617.2h4.1v1.8h-4.1zM273.0 503.8h7.1v5.2h-7.1zM280.1 514.1h7.1v5.2h-7.1zM273.0 550.0h7.1v5.2h-7.1zM317.0 642.3h7.1v5.2h-7.1zM362.5 514.1h7.0v5.2h-7.0z"/>
<path fill="#edc3c3" d="M251.0 333.3h4.1v1.3h-4.1zM259.1 392.6h4.1v1.3h-4.1zM259.1 426.2h4.1v1.3h-4.1zM272.8 323.0h4.1v1.3h-4.1zM272.8 344.9h4.1v1.3h-4.1zM276.8 378.5h4.1v1.3h-4.1zM284.9 433.9h4.1v1.3h-4.1zM294.2 329.4h4.0v1.3h-4.0zM298.2 335.9h4.0v1.3h-4.0zM298.2 347.5h4.0v1.3h-4.0zM306.1 348.8h4.0v1.3h-4.0zM298.2 350.1h4.0v1.3h-4.0zM298.2 364.3h4.0v1.3h-4.0zM290.3 369.4h4.0v1.3h-4.0zM302.1 401.7h4.0v1.3h-4.0zM306.1 405.5h4.0v1.3h-4.0zM306.1 408.1h4.0v1.3h-4.0zM319.6 386.2h4.0v1.3h-4.0zM327.5 417.2h4.0v1.3h-4.0zM368.0 323.0h4.0v1.3h-4.0zM372.0 356.5h4.0v1.3h-4.0zM372.0 363.0h4.0v1.3h-4.0zM368.0 368.1h4.0v1.3h-4.0zM364.0 370.7h4.0v1.3h-4.0zM360.0 390.1h4.0v1.3h-4.0zM360.0 393.9h4.0v1.3h-4.0zM360.0 396.5h4.0v1.3h-4.0zM368.0 396.5h4.0v1.3h-4.0zM372.0 396.5h4.0v1.3h-4.0zM368.0 397.8h4.0v1.3h-4.0zM372.0 397.8h4.0v1.3h-4.0zM360.0 403.0h4.0v1.3h-4.0zM372.0 405.5h4.0v1.3h-4.0zM368.0 406.8h4.0v1.3h-4.0zM372.0 408.1h4.0v1.3h-4.0zM360.0 410.7h4.0v1.3h-4.0zM360.0 412.0h4.0v1.3h-4.0zM364.0 412.0h4.0v1.3h-4.0zM360.0 418.4h4.0v1.3h-4.0zM368.0 423.6h4.0v1.3h-4.0zM360.0 424.9h4.0v1.3h-4.0zM364.0 431.3h4.0v1.3h-4.0zM368.0 431.3h4.0v1.3h-4.0zM372.0 432.6h4.0v1.3h-4.0zM377.2 328.2h4.1v1.3h-4.1zM381.3 359.1h4.1v1.3h-4.1zM393.6 368.1h4.1v1.3h-4.1zM393.6 372.0h4.1v1.3h-4.1zM377.2 375.9h4.1v1.3h-4.1zM393.6 375.9h4.1v1.3h-4.1zM389.5 379.8h4.1v1.3h-4.1zM385.4 384.9h4.1v1.3h-4.1zM377.2 396.5h4.1v1.3h-4.1zM385.4 403.0h4.1v1.3h-4.1zM389.5 403.0h4.1v1.3h-4.1zM385.4 404.3h4.1v1.3h-4.1zM377.2 409.4h4.1v1.3h-4.1zM393.6 410.7h4.1v1.3h-4.1zM381.3 412.0h4.1v1.3h-4.1zM393.6 415.9h4.1v1.3h-4.1zM377.2 421.0h4.1v1.3h-4.1zM381.3 421.0h4.1v1.3h-4.1zM389.5 421.0h4.1v1.3h-4.1zM393.6 421.0h4.1v1.3h-4.1zM381.3 422.3h4.1v1.3h-4.1zM381.3 427.5h4.1v1.3h-4.1zM381.3 428.8h4.1v1.3h-4.1zM377.2 430.1h4.1v1.3h-4.1zM381.3 430.1h4.1v1.3h-4.1zM381.3 431.3h4.1v1.3h-4.1zM385.4 431.3h4.1v1.3h-4.1zM377.2 432.6h4.1v1.3h-4.1zM385.4 433.9h4.1v1.3h-4.1zM377.2 435.2h4.1v1.3h-4.1zM13.8 508.4h4.1v1.8h-4.1zM25.9 510.2h4.1v1.8h-4.1zM13.8 513.7h4.1v1.8h-4.1zM25.9 526.2h4.1v1.8h-4.1zM21.9 538.7h4.1v1.8h-4.1zM21.9 542.2h4.1v1.8h-4.1zM17.9 554.7h4.1v1.8h-4.1zM25.9 556.5h4.1v1.8h-4.1zM21.9 593.9h4.1v1.8h-4.1zM13.8 602.8h4.1v1.8h-4.1zM13.8 611.7h4.1v1.8h-4.1zM25.9 618.8h4.1v1.8h-4.1zM47.9 519.1h4.2v1.8h-4.2zM47.9 542.2h4.2v1.8h-4.2zM43.8 544.0h4.2v1.8h-4.2zM31.4 545.8h4.2v1.8h-4.2zM43.8 552.9h4.2v1.8h-4.2zM47.9 588.5h4.2v1.8h-4.2zM35.5 602.8h4.2v1.8h-4.2zM43.8 609.9h4.2v1.8h-4.2zM53.0 511.9h4.0v1.8h-4.0zM68.9 529.8h4.0v1.8h-4.0zM53.0 536.9h4.0v1.8h-4.0zM53.0 588.5h4.0v1.8h-4.0zM53.0 615.3h4.0v1.8h-4.0zM86.6 529.8h4.1v1.8h-4.1zM90.7 529.8h4.1v1.8h-4.1zM90.7 531.5h4.1v1.8h-4.1zM90.7 533.3h4.1v1.8h-4.1zM86.6 542.2h4.1v1.8h-4.1zM74.4 545.8h4.1v1.8h-4.1zM82.6 545.8h4.1v1.8h-4.1zM78.5 547.6h4.1v1.8h-4.1zM90.7 551.1h4.1v1.8h-4.1zM86.6 556.5h4.1v1.8h-4.1zM90.7 556.5h4.1v1.8h-4.1zM78.5 560.0h4.1v1.8h-4.1zM82.6 560.0h4.1v1.8h-4.1zM90.7 560.0h4.1v1.8h-4.1zM90.7 565.4h4.1v1.8h-4.1zM82.6 567.2h4.1v1.8h-4.1zM90.7 568.9h4.1v1.8h-4.1zM74.4 570.7h4.1v1.8h-4.1zM90.7 570.7h4.1v1.8h-4.1zM86.6 572.5h4.1v1.8h-4.1zM74.4 577.9h4.1v1.8h-4.1zM90.7 577.9h4.1v1.8h-4.1zM90.7 583.2h4.1v1.8h-4.1zM82.6 590.3h4.1v1.8h-4.1zM78.5 593.9h4.1v1.8h-4.1zM82.6 602.8h4.1v1.8h-4.1zM74.4 613.5h4.1v1.8h-4.1zM78.5 613.5h4.1v1.8h-4.1zM78.5 617.0h4.1v1.8h-4.1zM132.5 528.4h4.0v1.8h-4.0zM124.5 535.5h4.0v1.8h-4.0zM124.5 542.6h4.0v1.8h-4.0zM132.5 542.6h4.0v1.8h-4.0zM128.5 546.2h4.0v1.8h-4.0zM154.0 560.4h4.0v1.8h-4.0zM142.0 569.2h4.0v1.8h-4.0zM175.7 507.1h4.1v1.8h-4.1zM159.3 521.3h4.1v1.8h-4.1zM163.4 521.3h4.1v1.8h-4.1zM163.4 597.6h4.1v1.8h-4.1zM171.6 618.9h4.1v1.8h-4.1zM197.1 521.3h4.1v1.8h-4.1zM181.0 533.7h4.1v1.8h-4.1zM181.0 539.1h4.1v1.8h-4.1zM185.0 539.1h4.1v1.8h-4.1zM193.1 540.8h4.1v1.8h-4.1zM189.0 546.2h4.1v1.8h-4.1zM185.0 547.9h4.1v1.8h-4.1zM185.0 551.5h4.1v1.8h-4.1zM193.1 553.2h4.1v1.8h-4.1zM181.0 558.6h4.1v1.8h-4.1zM193.1 558.6h4.1v1.8h-4.1zM197.1 558.6h4.1v1.8h-4.1zM185.0 562.1h4.1v1.8h-4.1zM181.0 563.9h4.1v1.8h-4.1zM197.1 567.5h4.1v1.8h-4.1zM197.1 571.0h4.1v1.8h-4.1zM181.0 572.8h4.1v1.8h-4.1zM185.0 572.8h4.1v1.8h-4.1zM189.0 574.6h4.1v1.8h-4.1zM197.1 574.6h4.1v1.8h-4.1zM189.0 583.4h4.1v1.8h-4.1zM185.0 587.0h4.1v1.8h-4.1zM197.1 588.8h4.1v1.8h-4.1zM181.0 590.5h4.1v1.8h-4.1zM189.0 594.1h4.1v1.8h-4.1zM185.0 595.9h4.1v1.8h-4.1zM185.0 597.6h4.1v1.8h-4.1zM185.0 611.8h4.1v1.8h-4.1zM181.0 613.6h4.1v1.8h-4.1zM251.8 508.9h7.1v5.2h-7.1zM273.0 519.2h7.1v5.2h-7.1zM251.8 539.7h7.1v5.2h-7.1zM280.1 560.2h7.1v5.2h-7.1zM317.0 565.4h7.1v5.2h-7.1zM288.9 580.8h7.1v5.2h-7.1zM288.9 616.7h7.1v5.2h-7.1zM295.9 616.7h7.1v5.2h-7.1zM317.0 637.2h7.1v5.2h-7.1zM325.9 647.4h7.0v5.2h-7.0zM348.6 565.4h7.0v5.2h-7.0zM355.5 565.4h7.0v5.2h-7.0z"/>
<path fill="#e9b2b0" d="M255.0 333.3h4.1v1.3h-4.1zM259.1 333.3h4.1v1.3h-4.1zM263.1 363.0h4.1v1.3h-4.1zM272.8 375.9h4.1v1.3h-4.1zM268.7 396.5h4.1v1.3h-4.1zM290.3 332.0h4.0v1.3h-4.0zM302.1 332.0h4.0v1.3h-4.0zM302.1 347.5h4.0v1.3h-4.0zM306.1 347.5h4.0v1.3h-4.0zM290.3 348.8h4.0v1.3h-4.0zM294.2 351.4h4.0v1.3h-4.0zM298.2 351.4h4.0v1.3h-4.0zM298.2 352.7h4.0v1.3h-4.0zM302.1 352.7h4.0v1.3h-4.0zM306.1 357.8h4.0v1.3h-4.0zM306.1 361.7h4.0v1.3h-4.0zM298.2 365.6h4.0v1.3h-4.0zM306.1 369.4h4.0v1.3h-4.0zM306.1 373.3h4.0v1.3h-4.0zM290.3 374.6h4.0v1.3h-4.0zM302.1 374.6h4.0v1.3h-4.0zM298.2 375.9h4.0v1.3h-4.0zM306.1 377.2h4.0v1.3h-4.0zM294.2 386.2h4.0v1.3h-4.0zM302.1 392.6h4.0v1.3h-4.0zM290.3 397.8h4.0v1.3h-4.0zM298.2 397.8h4.0v1.3h-4.0zM290.3 413.3h4.0v1.3h-4.0zM290.3 418.4h4.0v1.3h-4.0zM298.2 421.0h4.0v1.3h-4.0zM315.6 341.1h4.0v1.3h-4.0zM319.6 341.1h4.0v1.3h-4.0zM315.6 421.0h4.0v1.3h-4.0zM372.0 332.0h4.0v1.3h-4.0zM372.0 352.7h4.0v1.3h-4.0zM360.0 366.9h4.0v1.3h-4.0zM364.0 368.1h4.0v1.3h-4.0zM368.0 370.7h4.0v1.3h-4.0zM360.0 372.0h4.0v1.3h-4.0zM372.0 372.0h4.0v1.3h-4.0zM364.0 373.3h4.0v1.3h-4.0zM372.0 378.5h4.0v1.3h-4.0zM372.0 404.3h4.0v1.3h-4.0zM368.0 412.0h4.0v1.3h-4.0zM372.0 415.9h4.0v1.3h-4.0zM372.0 417.2h4.0v1.3h-4.0zM372.0 418.4h4.0v1.3h-4.0zM364.0 419.7h4.0v1.3h-4.0zM364.0 423.6h4.0v1.3h-4.0zM364.0 426.2h4.0v1.3h-4.0zM368.0 433.9h4.0v1.3h-4.0zM377.2 359.1h4.1v1.3h-4.1zM381.3 375.9h4.1v1.3h-4.1zM377.2 384.9h4.1v1.3h-4.1zM381.3 384.9h4.1v1.3h-4.1zM385.4 386.2h4.1v1.3h-4.1zM393.6 386.2h4.1v1.3h-4.1zM393.6 388.8h4.1v1.3h-4.1zM377.2 392.6h4.1v1.3h-4.1zM381.3 392.6h4.1v1.3h-4.1zM393.6 392.6h4.1v1.3h-4.1zM385.4 396.5h4.1v1.3h-4.1zM393.6 403.0h4.1v1.3h-4.1zM393.6 409.4h4.1v1.3h-4.1zM385.4 410.7h4.1v1.3h-4.1zM385.4 421.0h4.1v1.3h-4.1zM377.2 424.9h4.1v1.3h-4.1zM377.2 427.5h4.1v1.3h-4.1zM393.6 428.8h4.1v1.3h-4.1zM385.4 432.6h4.1v1.3h-4.1zM393.6 432.6h4.1v1.3h-4.1zM381.3 433.9h4.1v1.3h-4.1zM393.6 433.9h4.1v1.3h-4.1zM381.3 435.2h4.1v1.3h-4.1zM17.9 508.4h4.1v1.8h-4.1zM17.9 519.1h4.1v1.8h-4.1zM25.9 520.9h4.1v1.8h-4.1zM17.9 536.9h4.1v1.8h-4.1zM13.8 544.0h4.1v1.8h-4.1zM21.9 552.9h4.1v1.8h-4.1zM25.9 554.7h4.1v1.8h-4.1zM25.9 558.3h4.1v1.8h-4.1zM17.9 560.0h4.1v1.8h-4.1zM25.9 577.9h4.1v1.8h-4.1zM13.8 585.0h4.1v1.8h-4.1zM17.9 585.0h4.1v1.8h-4.1zM13.8 597.4h4.1v1.8h-4.1zM17.9 597.4h4.1v1.8h-4.1zM17.9 602.8h4.1v1.8h-4.1zM13.8 609.9h4.1v1.8h-4.1zM17.9 618.8h4.1v1.8h-4.1zM35.5 529.8h4.2v1.8h-4.2zM43.8 529.8h4.2v1.8h-4.2zM35.5 538.7h4.2v1.8h-4.2zM43.8 545.8h4.2v1.8h-4.2zM35.5 547.6h4.2v1.8h-4.2zM47.9 549.4h4.2v1.8h-4.2zM39.6 552.9h4.2v1.8h-4.2zM43.8 556.5h4.2v1.8h-4.2zM39.6 560.0h4.2v1.8h-4.2zM35.5 563.6h4.2v1.8h-4.2zM35.5 565.4h4.2v1.8h-4.2zM47.9 567.2h4.2v1.8h-4.2zM35.5 577.9h4.2v1.8h-4.2zM31.4 590.3h4.2v1.8h-4.2zM35.5 590.3h4.2v1.8h-4.2zM39.6 590.3h4.2v1.8h-4.2zM47.9 592.1h4.2v1.8h-4.2zM43.8 597.4h4.2v1.8h-4.2zM43.8 601.0h4.2v1.8h-4.2zM35.5 609.9h4.2v1.8h-4.2zM31.4 615.3h4.2v1.8h-4.2zM43.8 618.8h4.2v1.8h-4.2zM61.0 513.7h4.0v1.8h-4.0zM53.0 529.8h4.0v1.8h-4.0zM86.6 526.2h4.1v1.8h-4.1zM86.6 528.0h4.1v1.8h-4.1zM78.5 529.8h4.1v1.8h-4.1zM78.5 536.9h4.1v1.8h-4.1zM74.4 538.7h4.1v1.8h-4.1zM86.6 538.7h4.1v1.8h-4.1zM74.4 540.4h4.1v1.8h-4.1zM90.7 542.2h4.1v1.8h-4.1zM90.7 544.0h4.1v1.8h-4.1zM74.4 547.6h4.1v1.8h-4.1zM78.5 551.1h4.1v1.8h-4.1zM82.6 552.9h4.1v1.8h-4.1zM78.5 556.5h4.1v1.8h-4.1zM86.6 560.0h4.1v1.8h-4.1zM82.6 561.8h4.1v1.8h-4.1zM74.4 563.6h4.1v1.8h-4.1zM86.6 563.6h4.1v1.8h-4.1zM74.4 568.9h4.1v1.8h-4.1zM78.5 568.9h4.1v1.8h-4.1zM90.7 576.1h4.1v1.8h-4.1zM78.5 579.6h4.1v1.8h-4.1zM74.4 590.3h4.1v1.8h-4.1zM86.6 592.1h4.1v1.8h-4.1zM90.7 592.1h4.1v1.8h-4.1zM90.7 593.9h4.1v1.8h-4.1zM82.6 601.0h4.1v1.8h-4.1zM74.4 604.6h4.1v1.8h-4.1zM82.6 604.6h4.1v1.8h-4.1zM74.4 606.4h4.1v1.8h-4.1zM82.6 606.4h4.1v1.8h-4.1zM78.5 608.1h4.1v1.8h-4.1zM90.7 613.5h4.1v1.8h-4.1zM128.5 508.9h4.0v1.8h-4.0zM154.0 617.2h4.0v1.8h-4.0zM163.4 519.5h4.1v1.8h-4.1zM163.4 530.2h4.1v1.8h-4.1zM171.6 569.2h4.1v1.8h-4.1zM163.4 587.0h4.1v1.8h-4.1zM175.7 587.0h4.1v1.8h-4.1zM167.5 595.9h4.1v1.8h-4.1zM159.3 597.6h4.1v1.8h-4.1zM171.6 604.7h4.1v1.8h-4.1zM181.0 551.5h4.1v1.8h-4.1zM185.0 555.0h4.1v1.8h-4.1zM181.0 562.1h4.1v1.8h-4.1zM185.0 563.9h4.1v1.8h-4.1zM189.0 567.5h4.1v1.8h-4.1zM197.1 569.2h4.1v1.8h-4.1zM181.0 574.6h4.1v1.8h-4.1zM185.0 576.3h4.1v1.8h-4.1zM185.0 581.7h4.1v1.8h-4.1zM197.1 583.4h4.1v1.8h-4.1zM181.0 587.0h4.1v1.8h-4.1zM193.1 594.1h4.1v1.8h-4.1zM189.0 595.9h4.1v1.8h-4.1zM181.0 597.6h4.1v1.8h-4.1z"/>
<path fill="#efcdcd" d="M263.1 333.3h4.1v1.3h-4.1zM259.1 368.1h4.1v1.3h-4.1zM263.1 368.1h4.1v1.3h-4.1zM251.0 392.6h4.1v1.3h-4.1zM276.8 323.0h4.1v1.3h-4.1zM268.7 343.6h4.1v1.3h-4.1zM280.9 366.9h4.1v1.3h-4.1zM284.9 368.1h4.1v1.3h-4.1zM276.8 369.4h4.1v1.3h-4.1zM284.9 375.9h4.1v1.3h-4.1zM272.8 379.8h4.1v1.3h-4.1zM272.8 382.3h4.1v1.3h-4.1zM268.7 395.2h4.1v1.3h-4.1zM280.9 401.7h4.1v1.3h-4.1zM284.9 403.0h4.1v1.3h-4.1zM268.7 409.4h4.1v1.3h-4.1zM276.8 413.3h4.1v1.3h-4.1zM280.9 419.7h4.1v1.3h-4.1zM280.9 421.0h4.1v1.3h-4.1zM290.3 326.9h4.0v1.3h-4.0zM294.2 326.9h4.0v1.3h-4.0zM302.1 326.9h4.0v1.3h-4.0zM290.3 329.4h4.0v1.3h-4.0zM302.1 329.4h4.0v1.3h-4.0zM298.2 348.8h4.0v1.3h-4.0zM298.2 361.7h4.0v1.3h-4.0zM290.3 370.7h4.0v1.3h-4.0zM302.1 373.3h4.0v1.3h-4.0zM306.1 382.3h4.0v1.3h-4.0zM290.3 401.7h4.0v1.3h-4.0zM290.3 435.2h4.0v1.3h-4.0zM298.2 435.2h4.0v1.3h-4.0zM360.0 383.6h4.0v1.3h-4.0zM372.0 387.5h4.0v1.3h-4.0zM372.0 390.1h4.0v1.3h-4.0zM368.0 399.1h4.0v1.3h-4.0zM360.0 400.4h4.0v1.3h-4.0zM372.0 412.0h4.0v1.3h-4.0zM360.0 417.2h4.0v1.3h-4.0zM364.0 424.9h4.0v1.3h-4.0zM364.0 430.1h4.0v1.3h-4.0zM368.0 430.1h4.0v1.3h-4.0zM372.0 430.1h4.0v1.3h-4.0zM364.0 432.6h4.0v1.3h-4.0zM372.0 435.2h4.0v1.3h-4.0zM381.3 328.2h4.1v1.3h-4.1zM389.5 328.2h4.1v1.3h-4.1zM393.6 328.2h4.1v1.3h-4.1zM389.5 337.2h4.1v1.3h-4.1zM393.6 337.2h4.1v1.3h-4.1zM377.2 339.8h4.1v1.3h-4.1zM389.5 359.1h4.1v1.3h-4.1zM389.5 364.3h4.1v1.3h-4.1zM385.4 365.6h4.1v1.3h-4.1zM385.4 368.1h4.1v1.3h-4.1zM389.5 368.1h4.1v1.3h-4.1zM377.2 377.2h4.1v1.3h-4.1zM381.3 382.3h4.1v1.3h-4.1zM393.6 391.4h4.1v1.3h-4.1zM381.3 393.9h4.1v1.3h-4.1zM377.2 395.2h4.1v1.3h-4.1zM393.6 396.5h4.1v1.3h-4.1zM377.2 397.8h4.1v1.3h-4.1zM389.5 397.8h4.1v1.3h-4.1zM377.2 405.5h4.1v1.3h-4.1zM393.6 405.5h4.1v1.3h-4.1zM381.3 413.3h4.1v1.3h-4.1zM377.2 414.6h4.1v1.3h-4.1zM381.3 415.9h4.1v1.3h-4.1zM377.2 419.7h4.1v1.3h-4.1zM393.6 419.7h4.1v1.3h-4.1zM385.4 424.9h4.1v1.3h-4.1zM389.5 424.9h4.1v1.3h-4.1zM393.6 424.9h4.1v1.3h-4.1zM393.6 426.2h4.1v1.3h-4.1zM385.4 427.5h4.1v1.3h-4.1zM389.5 430.1h4.1v1.3h-4.1zM381.3 432.6h4.1v1.3h-4.1zM377.2 433.9h4.1v1.3h-4.1zM389.5 433.9h4.1v1.3h-4.1zM428.7 347.5h4.0v1.3h-4.0zM420.8 354.0h4.0v1.3h-4.0zM424.7 356.5h4.0v1.3h-4.0zM420.8 392.6h4.0v1.3h-4.0zM424.7 410.7h4.0v1.3h-4.0zM428.7 410.7h4.0v1.3h-4.0zM428.7 428.8h4.0v1.3h-4.0zM21.9 513.7h4.1v1.8h-4.1zM13.8 531.5h4.1v1.8h-4.1zM13.8 563.6h4.1v1.8h-4.1zM17.9 586.8h4.1v1.8h-4.1zM17.9 588.5h4.1v1.8h-4.1zM25.9 599.2h4.1v1.8h-4.1zM13.8 608.1h4.1v1.8h-4.1zM17.9 608.1h4.1v1.8h-4.1zM17.9 617.0h4.1v1.8h-4.1zM43.8 540.4h4.2v1.8h-4.2zM43.8 547.6h4.2v1.8h-4.2zM35.5 588.5h4.2v1.8h-4.2zM64.9 536.9h4.0v1.8h-4.0zM68.9 542.2h4.0v1.8h-4.0zM53.0 554.7h4.0v1.8h-4.0zM68.9 568.9h4.0v1.8h-4.0zM90.7 510.2h4.1v1.8h-4.1zM90.7 526.2h4.1v1.8h-4.1zM82.6 535.1h4.1v1.8h-4.1zM82.6 536.9h4.1v1.8h-4.1zM86.6 536.9h4.1v1.8h-4.1zM78.5 538.7h4.1v1.8h-4.1zM82.6 547.6h4.1v1.8h-4.1zM86.6 547.6h4.1v1.8h-4.1zM90.7 547.6h4.1v1.8h-4.1zM78.5 570.7h4.1v1.8h-4.1zM82.6 570.7h4.1v1.8h-4.1zM74.4 572.5h4.1v1.8h-4.1zM90.7 574.3h4.1v1.8h-4.1zM78.5 576.1h4.1v1.8h-4.1zM90.7 585.0h4.1v1.8h-4.1zM82.6 586.8h4.1v1.8h-4.1zM82.6 595.7h4.1v1.8h-4.1zM90.7 595.7h4.1v1.8h-4.1zM74.4 597.4h4.1v1.8h-4.1zM86.6 613.5h4.1v1.8h-4.1zM78.5 615.3h4.1v1.8h-4.1zM90.7 615.3h4.1v1.8h-4.1zM86.6 617.0h4.1v1.8h-4.1zM78.5 618.8h4.1v1.8h-4.1zM82.6 618.8h4.1v1.8h-4.1zM120.5 512.4h4.0v1.8h-4.0zM128.5 514.2h4.0v1.8h-4.0zM124.5 517.8h4.0v1.8h-4.0zM132.5 549.7h4.0v1.8h-4.0zM128.5 555.0h4.0v1.8h-4.0zM120.5 556.8h4.0v1.8h-4.0zM128.5 565.7h4.0v1.8h-4.0zM132.5 592.3h4.0v1.8h-4.0zM154.0 537.3h4.0v1.8h-4.0zM146.0 553.2h4.0v1.8h-4.0zM150.0 571.0h4.0v1.8h-4.0zM163.4 540.8h4.1v1.8h-4.1zM167.5 597.6h4.1v1.8h-4.1zM175.7 597.6h4.1v1.8h-4.1zM181.0 521.3h4.1v1.8h-4.1zM185.0 532.0h4.1v1.8h-4.1zM189.0 532.0h4.1v1.8h-4.1zM189.0 542.6h4.1v1.8h-4.1zM197.1 544.4h4.1v1.8h-4.1zM189.0 558.6h4.1v1.8h-4.1zM189.0 562.1h4.1v1.8h-4.1zM193.1 563.9h4.1v1.8h-4.1zM193.1 572.8h4.1v1.8h-4.1zM193.1 579.9h4.1v1.8h-4.1zM193.1 581.7h4.1v1.8h-4.1zM193.1 585.2h4.1v1.8h-4.1zM193.1 587.0h4.1v1.8h-4.1zM181.0 594.1h4.1v1.8h-4.1zM193.1 599.4h4.1v1.8h-4.1zM185.0 601.2h4.1v1.8h-4.1zM197.1 601.2h4.1v1.8h-4.1zM197.1 604.7h4.1v1.8h-4.1zM251.8 503.8h7.1v5.2h-7.1zM251.8 529.5h7.1v5.2h-7.1zM317.0 606.4h7.1v5.2h-7.1zM295.9 621.8h7.1v5.2h-7.1zM295.9 637.2h7.1v5.2h-7.1zM332.9 524.3h7.0v5.2h-7.0zM339.8 632.0h7.0v5.2h-7.0zM348.6 575.6h7.0v5.2h-7.0zM355.5 596.1h7.0v5.2h-7.0zM362.5 616.7h7.0v5.2h-7.0z"/>
<path fill="#453f9c" d="M255.0 334.6h4.1v1.3h-4.1zM259.1 342.3h4.1v1.3h-4.1zM259.1 347.5h4.1v1.3h-4.1zM259.1 369.4h4.1v1.3h-4.1zM259.1 377.2h4.1v1.3h-4.1zM251.0 381.0h4.1v1.3h-4.1zM255.0 386.2h4.1v1.3h-4.1zM255.0 399.1h4.1v1.3h-4.1zM255.0 401.7h4.1v1.3h-4.1zM251.0 404.3h4.1v1.3h-4.1zM263.1 404.3h4.1v1.3h-4.1zM251.0 417.2h4.1v1.3h-4.1zM263.1 417.2h4.1v1.3h-4.1zM263.1 418.4h4.1v1.3h-4.1zM251.0 419.7h4.1v1.3h-4.1zM259.1 419.7h4.1v1.3h-4.1zM251.0 423.6h4.1v1.3h-4.1zM255.0 423.6h4.1v1.3h-4.1zM251.0 427.5h4.1v1.3h-4.1zM276.8 325.6h4.1v1.3h-4.1zM284.9 339.8h4.1v1.3h-4.1zM403.0 325.6h4.1v1.3h-4.1zM407.1 325.6h4.1v1.3h-4.1zM415.2 326.9h4.1v1.3h-4.1zM403.0 342.3h4.1v1.3h-4.1zM407.1 343.6h4.1v1.3h-4.1zM411.1 354.0h4.1v1.3h-4.1zM411.1 357.8h4.1v1.3h-4.1zM415.2 359.1h4.1v1.3h-4.1zM399.0 382.3h4.1v1.3h-4.1zM399.0 392.6h4.1v1.3h-4.1zM411.1 406.8h4.1v1.3h-4.1zM407.1 417.2h4.1v1.3h-4.1zM403.0 421.0h4.1v1.3h-4.1zM399.0 428.8h4.1v1.3h-4.1zM403.0 428.8h4.1v1.3h-4.1zM403.0 432.6h4.1v1.3h-4.1zM415.2 432.6h4.1v1.3h-4.1zM428.7 338.5h4.0v1.3h-4.0zM428.7 359.1h4.0v1.3h-4.0zM428.7 379.8h4.0v1.3h-4.0zM428.7 408.1h4.0v1.3h-4.0zM420.8 413.3h4.0v1.3h-4.0zM420.8 421.0h4.0v1.3h-4.0zM428.7 421.0h4.0v1.3h-4.0zM57.0 538.7h4.0v1.8h-4.0zM68.9 540.4h4.0v1.8h-4.0zM57.0 549.4h4.0v1.8h-4.0zM57.0 563.6h4.0v1.8h-4.0zM57.0 574.3h4.0v1.8h-4.0zM53.0 599.2h4.0v1.8h-4.0zM128.5 516.0h4.0v1.8h-4.0zM128.5 523.1h4.0v1.8h-4.0zM124.5 581.7h4.0v1.8h-4.0zM124.5 587.0h4.0v1.8h-4.0zM138.0 526.6h4.0v1.8h-4.0zM142.0 544.4h4.0v1.8h-4.0zM138.0 558.6h4.0v1.8h-4.0zM150.0 601.2h4.0v1.8h-4.0zM150.0 603.0h4.0v1.8h-4.0zM317.0 652.6h7.1v5.2h-7.1z"/>
<path fill="#2d2890" d="M263.1 334.6h4.1v1.3h-4.1zM259.1 381.0h4.1v1.3h-4.1zM263.1 396.5h4.1v1.3h-4.1zM259.1 404.3h4.1v1.3h-4.1zM259.1 408.1h4.1v1.3h-4.1zM259.1 423.6h4.1v1.3h-4.1zM411.1 342.3h4.1v1.3h-4.1zM411.1 346.2h4.1v1.3h-4.1zM415.2 352.7h4.1v1.3h-4.1zM399.0 365.6h4.1v1.3h-4.1zM399.0 379.8h4.1v1.3h-4.1zM403.0 382.3h4.1v1.3h-4.1zM399.0 383.6h4.1v1.3h-4.1zM403.0 384.9h4.1v1.3h-4.1zM415.2 396.5h4.1v1.3h-4.1zM415.2 406.8h4.1v1.3h-4.1zM399.0 421.0h4.1v1.3h-4.1zM407.1 427.5h4.1v1.3h-4.1zM420.8 357.8h4.0v1.3h-4.0zM436.6 357.8h4.0v1.3h-4.0zM420.8 359.1h4.0v1.3h-4.0zM128.5 578.1h4.0v1.8h-4.0zM120.5 608.3h4.0v1.8h-4.0zM138.0 535.5h4.0v1.8h-4.0zM146.0 555.0h4.0v1.8h-4.0zM142.0 572.8h4.0v1.8h-4.0zM150.0 579.9h4.0v1.8h-4.0zM138.0 583.4h4.0v1.8h-4.0z"/>
<path fill="#9b98c9" d="M259.1 338.5h4.1v1.3h-4.1zM251.0 339.8h4.1v1.3h-4.1zM251.0 341.1h4.1v1.3h-4.1zM263.1 342.3h4.1v1.3h-4.1zM259.1 343.6h4.1v1.3h-4.1zM263.1 354.0h4.1v1.3h-4.1zM251.0 355.2h4.1v1.3h-4.1zM251.0 356.5h4.1v1.3h-4.1zM255.0 356.5h4.1v1.3h-4.1zM263.1 356.5h4.1v1.3h-4.1zM255.0 357.8h4.1v1.3h-4.1zM251.0 361.7h4.1v1.3h-4.1zM259.1 372.0h4.1v1.3h-4.1zM259.1 379.8h4.1v1.3h-4.1zM251.0 382.3h4.1v1.3h-4.1zM251.0 387.5h4.1v1.3h-4.1zM263.1 399.1h4.1v1.3h-4.1zM251.0 406.8h4.1v1.3h-4.1zM251.0 428.8h4.1v1.3h-4.1zM255.0 428.8h4.1v1.3h-4.1zM255.0 430.1h4.1v1.3h-4.1zM268.7 324.3h4.1v1.3h-4.1zM276.8 324.3h4.1v1.3h-4.1zM284.9 325.6h4.1v1.3h-4.1zM272.8 332.0h4.1v1.3h-4.1zM276.8 333.3h4.1v1.3h-4.1zM284.9 333.3h4.1v1.3h-4.1zM268.7 335.9h4.1v1.3h-4.1zM268.7 338.5h4.1v1.3h-4.1zM284.9 348.8h4.1v1.3h-4.1zM268.7 350.1h4.1v1.3h-4.1zM272.8 351.4h4.1v1.3h-4.1zM276.8 351.4h4.1v1.3h-4.1zM272.8 357.8h4.1v1.3h-4.1zM276.8 357.8h4.1v1.3h-4.1zM276.8 359.1h4.1v1.3h-4.1zM268.7 361.7h4.1v1.3h-4.1zM280.9 365.6h4.1v1.3h-4.1zM284.9 372.0h4.1v1.3h-4.1zM276.8 373.3h4.1v1.3h-4.1zM276.8 374.6h4.1v1.3h-4.1zM284.9 377.2h4.1v1.3h-4.1zM276.8 379.8h4.1v1.3h-4.1zM276.8 381.0h4.1v1.3h-4.1zM280.9 381.0h4.1v1.3h-4.1zM272.8 386.2h4.1v1.3h-4.1zM284.9 386.2h4.1v1.3h-4.1zM276.8 387.5h4.1v1.3h-4.1zM276.8 390.1h4.1v1.3h-4.1zM272.8 391.4h4.1v1.3h-4.1zM280.9 415.9h4.1v1.3h-4.1zM381.3 342.3h4.1v1.3h-4.1zM385.4 351.4h4.1v1.3h-4.1zM389.5 352.7h4.1v1.3h-4.1zM377.2 373.3h4.1v1.3h-4.1zM381.3 373.3h4.1v1.3h-4.1zM385.4 378.5h4.1v1.3h-4.1zM399.0 328.2h4.1v1.3h-4.1zM411.1 328.2h4.1v1.3h-4.1zM411.1 334.6h4.1v1.3h-4.1zM411.1 344.9h4.1v1.3h-4.1zM403.0 347.5h4.1v1.3h-4.1zM411.1 347.5h4.1v1.3h-4.1zM399.0 352.7h4.1v1.3h-4.1zM399.0 357.8h4.1v1.3h-4.1zM403.0 360.4h4.1v1.3h-4.1zM415.2 360.4h4.1v1.3h-4.1zM399.0 361.7h4.1v1.3h-4.1zM403.0 361.7h4.1v1.3h-4.1zM399.0 364.3h4.1v1.3h-4.1zM411.1 364.3h4.1v1.3h-4.1zM399.0 368.1h4.1v1.3h-4.1zM399.0 369.4h4.1v1.3h-4.1zM403.0 370.7h4.1v1.3h-4.1zM399.0 374.6h4.1v1.3h-4.1zM415.2 374.6h4.1v1.3h-4.1zM411.1 381.0h4.1v1.3h-4.1zM403.0 387.5h4.1v1.3h-4.1zM411.1 390.1h4.1v1.3h-4.1zM411.1 391.4h4.1v1.3h-4.1zM399.0 401.7h4.1v1.3h-4.1zM411.1 401.7h4.1v1.3h-4.1zM407.1 404.3h4.1v1.3h-4.1zM407.1 409.4h4.1v1.3h-4.1zM411.1 409.4h4.1v1.3h-4.1zM407.1 410.7h4.1v1.3h-4.1zM403.0 412.0h4.1v1.3h-4.1zM415.2 414.6h4.1v1.3h-4.1zM407.1 415.9h4.1v1.3h-4.1zM411.1 423.6h4.1v1.3h-4.1zM415.2 423.6h4.1v1.3h-4.1zM424.7 324.3h4.0v1.3h-4.0zM428.7 324.3h4.0v1.3h-4.0zM432.6 330.7h4.0v1.3h-4.0zM428.7 334.6h4.0v1.3h-4.0zM420.8 338.5h4.0v1.3h-4.0zM432.6 338.5h4.0v1.3h-4.0zM420.8 339.8h4.0v1.3h-4.0zM424.7 339.8h4.0v1.3h-4.0zM436.6 341.1h4.0v1.3h-4.0zM420.8 344.9h4.0v1.3h-4.0zM420.8 346.2h4.0v1.3h-4.0zM436.6 346.2h4.0v1.3h-4.0zM432.6 348.8h4.0v1.3h-4.0zM436.6 348.8h4.0v1.3h-4.0zM428.7 350.1h4.0v1.3h-4.0zM420.8 351.4h4.0v1.3h-4.0zM428.7 351.4h4.0v1.3h-4.0zM420.8 360.4h4.0v1.3h-4.0zM420.8 361.7h4.0v1.3h-4.0zM436.6 361.7h4.0v1.3h-4.0zM420.8 363.0h4.0v1.3h-4.0zM428.7 368.1h4.0v1.3h-4.0zM420.8 375.9h4.0v1.3h-4.0zM436.6 377.2h4.0v1.3h-4.0zM436.6 379.8h4.0v1.3h-4.0zM436.6 381.0h4.0v1.3h-4.0zM420.8 386.2h4.0v1.3h-4.0zM420.8 387.5h4.0v1.3h-4.0zM432.6 388.8h4.0v1.3h-4.0zM436.6 388.8h4.0v1.3h-4.0zM420.8 390.1h4.0v1.3h-4.0zM432.6 391.4h4.0v1.3h-4.0zM424.7 396.5h4.0v1.3h-4.0zM420.8 399.1h4.0v1.3h-4.0zM424.7 400.4h4.0v1.3h-4.0zM428.7 400.4h4.0v1.3h-4.0zM436.6 400.4h4.0v1.3h-4.0zM420.8 401.7h4.0v1.3h-4.0zM424.7 401.7h4.0v1.3h-4.0zM428.7 401.7h4.0v1.3h-4.0zM436.6 401.7h4.0v1.3h-4.0zM420.8 404.3h4.0v1.3h-4.0zM432.6 404.3h4.0v1.3h-4.0zM436.6 406.8h4.0v1.3h-4.0zM436.6 412.0h4.0v1.3h-4.0zM424.7 414.6h4.0v1.3h-4.0zM428.7 419.7h4.0v1.3h-4.0zM436.6 422.3h4.0v1.3h-4.0zM424.7 423.6h4.0v1.3h-4.0zM428.7 423.6h4.0v1.3h-4.0zM432.6 423.6h4.0v1.3h-4.0zM428.7 424.9h4.0v1.3h-4.0zM432.6 424.9h4.0v1.3h-4.0zM424.7 426.2h4.0v1.3h-4.0zM420.8 427.5h4.0v1.3h-4.0zM424.7 427.5h4.0v1.3h-4.0zM432.6 427.5h4.0v1.3h-4.0zM432.6 432.6h4.0v1.3h-4.0zM428.7 433.9h4.0v1.3h-4.0zM428.7 435.2h4.0v1.3h-4.0zM432.6 435.2h4.0v1.3h-4.0zM21.9 599.2h4.1v1.8h-4.1zM68.9 511.9h4.0v1.8h-4.0zM64.9 513.7h4.0v1.8h-4.0zM61.0 520.9h4.0v1.8h-4.0zM61.0 535.1h4.0v1.8h-4.0zM57.0 545.8h4.0v1.8h-4.0zM61.0 545.8h4.0v1.8h-4.0zM68.9 549.4h4.0v1.8h-4.0zM53.0 551.1h4.0v1.8h-4.0zM64.9 556.5h4.0v1.8h-4.0zM68.9 563.6h4.0v1.8h-4.0zM53.0 565.4h4.0v1.8h-4.0zM53.0 574.3h4.0v1.8h-4.0zM68.9 574.3h4.0v1.8h-4.0zM57.0 577.9h4.0v1.8h-4.0zM68.9 577.9h4.0v1.8h-4.0zM64.9 583.2h4.0v1.8h-4.0zM61.0 590.3h4.0v1.8h-4.0zM61.0 593.9h4.0v1.8h-4.0zM64.9 593.9h4.0v1.8h-4.0zM57.0 599.2h4.0v1.8h-4.0zM64.9 611.7h4.0v1.8h-4.0zM68.9 613.5h4.0v1.8h-4.0zM57.0 617.0h4.0v1.8h-4.0zM64.9 617.0h4.0v1.8h-4.0zM86.6 522.6h4.1v1.8h-4.1zM128.5 507.1h4.0v1.8h-4.0zM124.5 530.2h4.0v1.8h-4.0zM120.5 544.4h4.0v1.8h-4.0zM128.5 544.4h4.0v1.8h-4.0zM132.5 546.2h4.0v1.8h-4.0zM120.5 558.6h4.0v1.8h-4.0zM120.5 560.4h4.0v1.8h-4.0zM128.5 560.4h4.0v1.8h-4.0zM124.5 563.9h4.0v1.8h-4.0zM132.5 569.2h4.0v1.8h-4.0zM128.5 574.6h4.0v1.8h-4.0zM132.5 578.1h4.0v1.8h-4.0zM124.5 585.2h4.0v1.8h-4.0zM120.5 588.8h4.0v1.8h-4.0zM128.5 590.5h4.0v1.8h-4.0zM128.5 599.4h4.0v1.8h-4.0zM132.5 599.4h4.0v1.8h-4.0zM120.5 603.0h4.0v1.8h-4.0zM128.5 610.1h4.0v1.8h-4.0zM150.0 508.9h4.0v1.8h-4.0zM146.0 521.3h4.0v1.8h-4.0zM150.0 523.1h4.0v1.8h-4.0zM146.0 526.6h4.0v1.8h-4.0zM150.0 526.6h4.0v1.8h-4.0zM142.0 530.2h4.0v1.8h-4.0zM150.0 539.1h4.0v1.8h-4.0zM154.0 544.4h4.0v1.8h-4.0zM138.0 551.5h4.0v1.8h-4.0zM146.0 551.5h4.0v1.8h-4.0zM154.0 553.2h4.0v1.8h-4.0zM146.0 562.1h4.0v1.8h-4.0zM150.0 567.5h4.0v1.8h-4.0zM154.0 572.8h4.0v1.8h-4.0zM154.0 576.3h4.0v1.8h-4.0zM146.0 585.2h4.0v1.8h-4.0zM154.0 587.0h4.0v1.8h-4.0zM146.0 594.1h4.0v1.8h-4.0zM142.0 603.0h4.0v1.8h-4.0zM154.0 604.7h4.0v1.8h-4.0zM142.0 606.5h4.0v1.8h-4.0zM142.0 608.3h4.0v1.8h-4.0zM138.0 610.1h4.0v1.8h-4.0zM150.0 615.4h4.0v1.8h-4.0zM185.0 508.9h4.1v1.8h-4.1zM193.1 508.9h4.1v1.8h-4.1zM181.0 512.4h4.1v1.8h-4.1zM181.0 516.0h4.1v1.8h-4.1zM189.0 516.0h4.1v1.8h-4.1zM181.0 524.9h4.1v1.8h-4.1zM197.1 530.2h4.1v1.8h-4.1zM189.0 553.2h4.1v1.8h-4.1zM251.8 550.0h7.1v5.2h-7.1zM251.8 580.8h7.1v5.2h-7.1zM273.0 601.3h7.1v5.2h-7.1zM280.1 621.8h7.1v5.2h-7.1zM273.0 632.0h7.1v5.2h-7.1zM266.0 637.2h7.1v5.2h-7.1zM251.8 647.4h7.1v5.2h-7.1zM280.1 647.4h7.1v5.2h-7.1zM251.8 652.6h7.1v5.2h-7.1zM302.9 503.8h7.1v5.2h-7.1zM288.9 514.1h7.1v5.2h-7.1zM310.0 519.2h7.1v5.2h-7.1zM295.9 529.5h7.1v5.2h-7.1zM302.9 534.6h7.1v5.2h-7.1zM288.9 539.7h7.1v5.2h-7.1zM302.9 539.7h7.1v5.2h-7.1zM302.9 565.4h7.1v5.2h-7.1zM332.9 508.9h7.0v5.2h-7.0zM325.9 580.8h7.0v5.2h-7.0zM332.9 606.4h7.0v5.2h-7.0zM362.5 508.9h7.0v5.2h-7.0zM355.5 519.2h7.0v5.2h-7.0zM355.5 524.3h7.0v5.2h-7.0zM348.6 529.5h7.0v5.2h-7.0zM362.5 529.5h7.0v5.2h-7.0zM348.6 555.1h7.0v5.2h-7.0zM355.5 580.8h7.0v5.2h-7.0zM362.5 647.4h7.0v5.2h-7.0z"/>
<path fill="#817ebc" d="M251.0 343.6h4.1v1.3h-4.1zM255.0 344.9h4.1v1.3h-4.1zM255.0 351.4h4.1v1.3h-4.1zM263.1 351.4h4.1v1.3h-4.1zM255.0 355.2h4.1v1.3h-4.1zM251.0 364.3h4.1v1.3h-4.1zM263.1 364.3h4.1v1.3h-4.1zM263.1 369.4h4.1v1.3h-4.1zM263.1 377.2h4.1v1.3h-4.1zM263.1 378.5h4.1v1.3h-4.1zM255.0 384.9h4.1v1.3h-4.1zM259.1 391.4h4.1v1.3h-4.1zM263.1 393.9h4.1v1.3h-4.1zM251.0 395.2h4.1v1.3h-4.1zM259.1 395.2h4.1v1.3h-4.1zM251.0 400.4h4.1v1.3h-4.1zM255.0 400.4h4.1v1.3h-4.1zM251.0 403.0h4.1v1.3h-4.1zM263.1 403.0h4.1v1.3h-4.1zM255.0 404.3h4.1v1.3h-4.1zM251.0 405.5h4.1v1.3h-4.1zM259.1 405.5h4.1v1.3h-4.1zM259.1 417.2h4.1v1.3h-4.1zM259.1 421.0h4.1v1.3h-4.1zM263.1 421.0h4.1v1.3h-4.1zM251.0 433.9h4.1v1.3h-4.1zM255.0 433.9h4.1v1.3h-4.1zM255.0 435.2h4.1v1.3h-4.1zM276.8 328.2h4.1v1.3h-4.1zM276.8 332.0h4.1v1.3h-4.1zM276.8 334.6h4.1v1.3h-4.1zM284.9 334.6h4.1v1.3h-4.1zM272.8 338.5h4.1v1.3h-4.1zM280.9 339.8h4.1v1.3h-4.1zM284.9 356.5h4.1v1.3h-4.1zM284.9 364.3h4.1v1.3h-4.1zM272.8 377.2h4.1v1.3h-4.1zM268.7 391.4h4.1v1.3h-4.1zM284.9 417.2h4.1v1.3h-4.1zM272.8 428.8h4.1v1.3h-4.1zM280.9 428.8h4.1v1.3h-4.1zM389.5 330.7h4.1v1.3h-4.1zM385.4 352.7h4.1v1.3h-4.1zM385.4 373.3h4.1v1.3h-4.1zM399.0 323.0h4.1v1.3h-4.1zM415.2 332.0h4.1v1.3h-4.1zM403.0 333.3h4.1v1.3h-4.1zM399.0 335.9h4.1v1.3h-4.1zM403.0 335.9h4.1v1.3h-4.1zM415.2 335.9h4.1v1.3h-4.1zM403.0 337.2h4.1v1.3h-4.1zM415.2 344.9h4.1v1.3h-4.1zM403.0 346.2h4.1v1.3h-4.1zM403.0 348.8h4.1v1.3h-4.1zM403.0 350.1h4.1v1.3h-4.1zM415.2 350.1h4.1v1.3h-4.1zM407.1 352.7h4.1v1.3h-4.1zM415.2 355.2h4.1v1.3h-4.1zM399.0 359.1h4.1v1.3h-4.1zM411.1 365.6h4.1v1.3h-4.1zM411.1 372.0h4.1v1.3h-4.1zM407.1 377.2h4.1v1.3h-4.1zM411.1 378.5h4.1v1.3h-4.1zM415.2 391.4h4.1v1.3h-4.1zM407.1 392.6h4.1v1.3h-4.1zM411.1 399.1h4.1v1.3h-4.1zM415.2 400.4h4.1v1.3h-4.1zM415.2 401.7h4.1v1.3h-4.1zM403.0 404.3h4.1v1.3h-4.1zM411.1 404.3h4.1v1.3h-4.1zM407.1 406.8h4.1v1.3h-4.1zM399.0 415.9h4.1v1.3h-4.1zM403.0 415.9h4.1v1.3h-4.1zM415.2 426.2h4.1v1.3h-4.1zM403.0 431.3h4.1v1.3h-4.1zM415.2 431.3h4.1v1.3h-4.1zM415.2 435.2h4.1v1.3h-4.1zM420.8 326.9h4.0v1.3h-4.0zM428.7 333.3h4.0v1.3h-4.0zM424.7 334.6h4.0v1.3h-4.0zM428.7 335.9h4.0v1.3h-4.0zM432.6 335.9h4.0v1.3h-4.0zM428.7 339.8h4.0v1.3h-4.0zM424.7 341.1h4.0v1.3h-4.0zM432.6 342.3h4.0v1.3h-4.0zM432.6 344.9h4.0v1.3h-4.0zM428.7 348.8h4.0v1.3h-4.0zM432.6 350.1h4.0v1.3h-4.0zM424.7 351.4h4.0v1.3h-4.0zM432.6 352.7h4.0v1.3h-4.0zM432.6 366.9h4.0v1.3h-4.0zM436.6 368.1h4.0v1.3h-4.0zM432.6 370.7h4.0v1.3h-4.0zM428.7 373.3h4.0v1.3h-4.0zM436.6 373.3h4.0v1.3h-4.0zM424.7 375.9h4.0v1.3h-4.0zM432.6 375.9h4.0v1.3h-4.0zM428.7 381.0h4.0v1.3h-4.0zM432.6 390.1h4.0v1.3h-4.0zM420.8 391.4h4.0v1.3h-4.0zM428.7 391.4h4.0v1.3h-4.0zM424.7 393.9h4.0v1.3h-4.0zM432.6 396.5h4.0v1.3h-4.0zM436.6 396.5h4.0v1.3h-4.0zM428.7 399.1h4.0v1.3h-4.0zM420.8 415.9h4.0v1.3h-4.0zM420.8 418.4h4.0v1.3h-4.0zM432.6 418.4h4.0v1.3h-4.0zM436.6 419.7h4.0v1.3h-4.0zM436.6 423.6h4.0v1.3h-4.0zM420.8 430.1h4.0v1.3h-4.0zM428.7 430.1h4.0v1.3h-4.0zM424.7 432.6h4.0v1.3h-4.0zM420.8 433.9h4.0v1.3h-4.0zM436.6 435.2h4.0v1.3h-4.0zM53.0 515.5h4.0v1.8h-4.0zM53.0 517.3h4.0v1.8h-4.0zM64.9 517.3h4.0v1.8h-4.0zM64.9 531.5h4.0v1.8h-4.0zM53.0 535.1h4.0v1.8h-4.0zM64.9 535.1h4.0v1.8h-4.0zM61.0 542.2h4.0v1.8h-4.0zM61.0 544.0h4.0v1.8h-4.0zM64.9 570.7h4.0v1.8h-4.0zM64.9 574.3h4.0v1.8h-4.0zM57.0 592.1h4.0v1.8h-4.0zM53.0 597.4h4.0v1.8h-4.0zM64.9 599.2h4.0v1.8h-4.0zM57.0 608.1h4.0v1.8h-4.0zM68.9 608.1h4.0v1.8h-4.0zM53.0 611.7h4.0v1.8h-4.0zM78.5 511.9h4.1v1.8h-4.1zM74.4 517.3h4.1v1.8h-4.1zM90.7 517.3h4.1v1.8h-4.1zM78.5 522.6h4.1v1.8h-4.1zM132.5 516.0h4.0v1.8h-4.0zM120.5 524.9h4.0v1.8h-4.0zM132.5 526.6h4.0v1.8h-4.0zM128.5 533.7h4.0v1.8h-4.0zM132.5 535.5h4.0v1.8h-4.0zM132.5 537.3h4.0v1.8h-4.0zM128.5 542.6h4.0v1.8h-4.0zM128.5 549.7h4.0v1.8h-4.0zM132.5 563.9h4.0v1.8h-4.0zM128.5 569.2h4.0v1.8h-4.0zM124.5 572.8h4.0v1.8h-4.0zM132.5 581.7h4.0v1.8h-4.0zM132.5 601.2h4.0v1.8h-4.0zM132.5 606.5h4.0v1.8h-4.0zM120.5 613.6h4.0v1.8h-4.0zM132.5 617.2h4.0v1.8h-4.0zM128.5 618.9h4.0v1.8h-4.0zM138.0 510.7h4.0v1.8h-4.0zM138.0 512.4h4.0v1.8h-4.0zM146.0 516.0h4.0v1.8h-4.0zM138.0 517.8h4.0v1.8h-4.0zM142.0 524.9h4.0v1.8h-4.0zM154.0 524.9h4.0v1.8h-4.0zM138.0 533.7h4.0v1.8h-4.0zM146.0 535.5h4.0v1.8h-4.0zM150.0 542.6h4.0v1.8h-4.0zM138.0 544.4h4.0v1.8h-4.0zM138.0 556.8h4.0v1.8h-4.0zM142.0 567.5h4.0v1.8h-4.0zM150.0 569.2h4.0v1.8h-4.0zM142.0 571.0h4.0v1.8h-4.0zM146.0 587.0h4.0v1.8h-4.0zM142.0 599.4h4.0v1.8h-4.0zM146.0 604.7h4.0v1.8h-4.0zM150.0 610.1h4.0v1.8h-4.0zM154.0 611.8h4.0v1.8h-4.0zM197.1 508.9h4.1v1.8h-4.1zM185.0 526.6h4.1v1.8h-4.1zM185.0 537.3h4.1v1.8h-4.1zM258.9 555.1h7.1v5.2h-7.1zM251.8 565.4h7.1v5.2h-7.1zM251.8 575.6h7.1v5.2h-7.1zM266.0 575.6h7.1v5.2h-7.1zM258.9 580.8h7.1v5.2h-7.1zM266.0 580.8h7.1v5.2h-7.1zM273.0 580.8h7.1v5.2h-7.1zM258.9 591.0h7.1v5.2h-7.1zM266.0 591.0h7.1v5.2h-7.1zM273.0 596.1h7.1v5.2h-7.1zM251.8 601.3h7.1v5.2h-7.1zM280.1 601.3h7.1v5.2h-7.1zM251.8 606.4h7.1v5.2h-7.1zM280.1 606.4h7.1v5.2h-7.1zM280.1 611.5h7.1v5.2h-7.1zM258.9 616.7h7.1v5.2h-7.1zM251.8 632.0h7.1v5.2h-7.1zM251.8 637.2h7.1v5.2h-7.1zM273.0 637.2h7.1v5.2h-7.1zM280.1 637.2h7.1v5.2h-7.1zM251.8 642.3h7.1v5.2h-7.1zM266.0 642.3h7.1v5.2h-7.1zM273.0 642.3h7.1v5.2h-7.1zM280.1 642.3h7.1v5.2h-7.1zM258.9 652.6h7.1v5.2h-7.1zM273.0 652.6h7.1v5.2h-7.1zM295.9 503.8h7.1v5.2h-7.1zM295.9 508.9h7.1v5.2h-7.1zM302.9 508.9h7.1v5.2h-7.1zM310.0 508.9h7.1v5.2h-7.1zM317.0 514.1h7.1v5.2h-7.1zM302.9 519.2h7.1v5.2h-7.1zM288.9 524.3h7.1v5.2h-7.1zM288.9 529.5h7.1v5.2h-7.1zM302.9 529.5h7.1v5.2h-7.1zM288.9 534.6h7.1v5.2h-7.1zM310.0 534.6h7.1v5.2h-7.1zM288.9 544.8h7.1v5.2h-7.1zM310.0 544.8h7.1v5.2h-7.1zM288.9 560.2h7.1v5.2h-7.1zM325.9 503.8h7.0v5.2h-7.0zM325.9 570.5h7.0v5.2h-7.0zM332.9 570.5h7.0v5.2h-7.0zM332.9 601.3h7.0v5.2h-7.0zM332.9 611.5h7.0v5.2h-7.0zM339.8 621.8h7.0v5.2h-7.0zM348.6 534.6h7.0v5.2h-7.0zM348.6 560.2h7.0v5.2h-7.0zM348.6 621.8h7.0v5.2h-7.0zM348.6 626.9h7.0v5.2h-7.0z"/>
<path fill="#393396" d="M255.0 347.5h4.1v1.3h-4.1zM255.0 370.7h4.1v1.3h-4.1zM251.0 386.2h4.1v1.3h-4.1zM263.1 414.6h4.1v1.3h-4.1zM251.0 415.9h4.1v1.3h-4.1zM276.8 356.5h4.1v1.3h-4.1zM403.0 338.5h4.1v1.3h-4.1zM415.2 365.6h4.1v1.3h-4.1zM415.2 375.9h4.1v1.3h-4.1zM411.1 379.8h4.1v1.3h-4.1zM411.1 382.3h4.1v1.3h-4.1zM411.1 383.6h4.1v1.3h-4.1zM411.1 384.9h4.1v1.3h-4.1zM415.2 384.9h4.1v1.3h-4.1zM403.0 395.2h4.1v1.3h-4.1zM399.0 396.5h4.1v1.3h-4.1zM411.1 396.5h4.1v1.3h-4.1zM403.0 406.8h4.1v1.3h-4.1zM399.0 422.3h4.1v1.3h-4.1zM411.1 428.8h4.1v1.3h-4.1zM415.2 428.8h4.1v1.3h-4.1zM420.8 412.0h4.0v1.3h-4.0zM61.0 540.4h4.0v1.8h-4.0zM68.9 558.3h4.0v1.8h-4.0zM64.9 560.0h4.0v1.8h-4.0zM68.9 560.0h4.0v1.8h-4.0zM128.5 579.9h4.0v1.8h-4.0zM128.5 595.9h4.0v1.8h-4.0zM132.5 595.9h4.0v1.8h-4.0zM146.0 510.7h4.0v1.8h-4.0zM138.0 579.9h4.0v1.8h-4.0zM142.0 579.9h4.0v1.8h-4.0zM154.0 579.9h4.0v1.8h-4.0zM251.8 591.0h7.1v5.2h-7.1zM251.8 596.1h7.1v5.2h-7.1zM280.1 596.1h7.1v5.2h-7.1zM258.9 601.3h7.1v5.2h-7.1zM258.9 606.4h7.1v5.2h-7.1zM310.0 514.1h7.1v5.2h-7.1zM317.0 519.2h7.1v5.2h-7.1zM317.0 524.3h7.1v5.2h-7.1zM295.9 539.7h7.1v5.2h-7.1zM295.9 544.8h7.1v5.2h-7.1zM295.9 550.0h7.1v5.2h-7.1zM295.9 555.1h7.1v5.2h-7.1zM348.6 632.0h7.0v5.2h-7.0zM355.5 632.0h7.0v5.2h-7.0zM355.5 642.3h7.0v5.2h-7.0zM355.5 647.4h7.0v5.2h-7.0z"/>
<path fill="#504ca2" d="M263.1 347.5h4.1v1.3h-4.1zM251.0 351.4h4.1v1.3h-4.1zM263.1 370.7h4.1v1.3h-4.1zM263.1 372.0h4.1v1.3h-4.1zM259.1 374.6h4.1v1.3h-4.1zM255.0 378.5h4.1v1.3h-4.1zM259.1 378.5h4.1v1.3h-4.1zM263.1 381.0h4.1v1.3h-4.1zM251.0 396.5h4.1v1.3h-4.1zM251.0 401.7h4.1v1.3h-4.1zM255.0 403.0h4.1v1.3h-4.1zM255.0 418.4h4.1v1.3h-4.1zM255.0 419.7h4.1v1.3h-4.1zM272.8 329.4h4.1v1.3h-4.1zM272.8 333.3h4.1v1.3h-4.1zM399.0 325.6h4.1v1.3h-4.1zM399.0 326.9h4.1v1.3h-4.1zM399.0 329.4h4.1v1.3h-4.1zM399.0 330.7h4.1v1.3h-4.1zM411.1 330.7h4.1v1.3h-4.1zM411.1 332.0h4.1v1.3h-4.1zM411.1 333.3h4.1v1.3h-4.1zM415.2 338.5h4.1v1.3h-4.1zM415.2 342.3h4.1v1.3h-4.1zM411.1 343.6h4.1v1.3h-4.1zM407.1 346.2h4.1v1.3h-4.1zM415.2 346.2h4.1v1.3h-4.1zM415.2 347.5h4.1v1.3h-4.1zM415.2 356.5h4.1v1.3h-4.1zM407.1 375.9h4.1v1.3h-4.1zM407.1 379.8h4.1v1.3h-4.1zM415.2 379.8h4.1v1.3h-4.1zM403.0 381.0h4.1v1.3h-4.1zM407.1 382.3h4.1v1.3h-4.1zM399.0 395.2h4.1v1.3h-4.1zM403.0 396.5h4.1v1.3h-4.1zM407.1 396.5h4.1v1.3h-4.1zM399.0 404.3h4.1v1.3h-4.1zM403.0 405.5h4.1v1.3h-4.1zM411.1 413.3h4.1v1.3h-4.1zM399.0 417.2h4.1v1.3h-4.1zM407.1 424.9h4.1v1.3h-4.1zM411.1 424.9h4.1v1.3h-4.1zM399.0 432.6h4.1v1.3h-4.1zM407.1 432.6h4.1v1.3h-4.1zM424.7 326.9h4.0v1.3h-4.0zM428.7 329.4h4.0v1.3h-4.0zM436.6 359.1h4.0v1.3h-4.0zM428.7 360.4h4.0v1.3h-4.0zM432.6 379.8h4.0v1.3h-4.0zM420.8 403.0h4.0v1.3h-4.0zM424.7 403.0h4.0v1.3h-4.0zM432.6 403.0h4.0v1.3h-4.0zM432.6 408.1h4.0v1.3h-4.0zM432.6 419.7h4.0v1.3h-4.0zM424.7 430.1h4.0v1.3h-4.0zM64.9 540.4h4.0v1.8h-4.0zM57.0 544.0h4.0v1.8h-4.0zM57.0 558.3h4.0v1.8h-4.0zM57.0 565.4h4.0v1.8h-4.0zM61.0 567.2h4.0v1.8h-4.0zM68.9 579.6h4.0v1.8h-4.0zM61.0 608.1h4.0v1.8h-4.0zM53.0 613.5h4.0v1.8h-4.0zM120.5 521.3h4.0v1.8h-4.0zM124.5 574.6h4.0v1.8h-4.0zM120.5 606.5h4.0v1.8h-4.0zM124.5 608.3h4.0v1.8h-4.0zM128.5 611.8h4.0v1.8h-4.0zM138.0 532.0h4.0v1.8h-4.0zM150.0 532.0h4.0v1.8h-4.0zM138.0 546.2h4.0v1.8h-4.0zM154.0 546.2h4.0v1.8h-4.0zM150.0 555.0h4.0v1.8h-4.0zM146.0 571.0h4.0v1.8h-4.0zM146.0 611.8h4.0v1.8h-4.0zM266.0 503.8h7.1v5.2h-7.1zM273.0 575.6h7.1v5.2h-7.1zM266.0 601.3h7.1v5.2h-7.1zM258.9 642.3h7.1v5.2h-7.1zM302.9 514.1h7.1v5.2h-7.1zM310.0 529.5h7.1v5.2h-7.1zM295.9 534.6h7.1v5.2h-7.1zM317.0 539.7h7.1v5.2h-7.1zM317.0 544.8h7.1v5.2h-7.1zM295.9 560.2h7.1v5.2h-7.1zM332.9 514.1h7.0v5.2h-7.0zM339.8 514.1h7.0v5.2h-7.0zM339.8 611.5h7.0v5.2h-7.0zM339.8 616.7h7.0v5.2h-7.0zM348.6 519.2h7.0v5.2h-7.0zM362.5 519.2h7.0v5.2h-7.0zM348.6 524.3h7.0v5.2h-7.0zM362.5 524.3h7.0v5.2h-7.0zM355.5 560.2h7.0v5.2h-7.0zM362.5 637.2h7.0v5.2h-7.0z"/>
<path fill="#ebbaba" d="M251.0 348.8h4.1v1.3h-4.1zM280.9 323.0h4.1v1.3h-4.1zM276.8 412.0h4.1v1.3h-4.1zM280.9 412.0h4.1v1.3h-4.1zM284.9 430.1h4.1v1.3h-4.1zM280.9 433.9h4.1v1.3h-4.1zM298.2 328.2h4.0v1.3h-4.0zM306.1 328.2h4.0v1.3h-4.0zM294.2 332.0h4.0v1.3h-4.0zM298.2 332.0h4.0v1.3h-4.0zM298.2 338.5h4.0v1.3h-4.0zM290.3 344.9h4.0v1.3h-4.0zM302.1 351.4h4.0v1.3h-4.0zM298.2 354.0h4.0v1.3h-4.0zM298.2 359.1h4.0v1.3h-4.0zM290.3 364.3h4.0v1.3h-4.0zM294.2 373.3h4.0v1.3h-4.0zM294.2 374.6h4.0v1.3h-4.0zM306.1 374.6h4.0v1.3h-4.0zM294.2 377.2h4.0v1.3h-4.0zM302.1 377.2h4.0v1.3h-4.0zM290.3 382.3h4.0v1.3h-4.0zM302.1 386.2h4.0v1.3h-4.0zM298.2 391.4h4.0v1.3h-4.0zM290.3 392.6h4.0v1.3h-4.0zM294.2 397.8h4.0v1.3h-4.0zM298.2 405.5h4.0v1.3h-4.0zM302.1 406.8h4.0v1.3h-4.0zM298.2 413.3h4.0v1.3h-4.0zM302.1 413.3h4.0v1.3h-4.0zM298.2 423.6h4.0v1.3h-4.0zM306.1 435.2h4.0v1.3h-4.0zM327.5 413.3h4.0v1.3h-4.0zM327.5 421.0h4.0v1.3h-4.0zM323.5 422.3h4.0v1.3h-4.0zM372.0 324.3h4.0v1.3h-4.0zM364.0 347.5h4.0v1.3h-4.0zM360.0 363.0h4.0v1.3h-4.0zM368.0 363.0h4.0v1.3h-4.0zM360.0 370.7h4.0v1.3h-4.0zM364.0 372.0h4.0v1.3h-4.0zM368.0 372.0h4.0v1.3h-4.0zM364.0 383.6h4.0v1.3h-4.0zM368.0 387.5h4.0v1.3h-4.0zM368.0 390.1h4.0v1.3h-4.0zM360.0 395.2h4.0v1.3h-4.0zM364.0 396.5h4.0v1.3h-4.0zM360.0 397.8h4.0v1.3h-4.0zM360.0 399.1h4.0v1.3h-4.0zM360.0 404.3h4.0v1.3h-4.0zM360.0 415.9h4.0v1.3h-4.0zM364.0 417.2h4.0v1.3h-4.0zM372.0 423.6h4.0v1.3h-4.0zM360.0 430.1h4.0v1.3h-4.0zM372.0 431.3h4.0v1.3h-4.0zM360.0 433.9h4.0v1.3h-4.0zM364.0 433.9h4.0v1.3h-4.0zM393.6 339.8h4.1v1.3h-4.1zM381.3 357.8h4.1v1.3h-4.1zM385.4 375.9h4.1v1.3h-4.1zM389.5 375.9h4.1v1.3h-4.1zM381.3 383.6h4.1v1.3h-4.1zM389.5 392.6h4.1v1.3h-4.1zM393.6 393.9h4.1v1.3h-4.1zM389.5 395.2h4.1v1.3h-4.1zM381.3 399.1h4.1v1.3h-4.1zM381.3 403.0h4.1v1.3h-4.1zM385.4 409.4h4.1v1.3h-4.1zM377.2 415.9h4.1v1.3h-4.1zM381.3 419.7h4.1v1.3h-4.1zM377.2 428.8h4.1v1.3h-4.1zM385.4 435.2h4.1v1.3h-4.1zM393.6 435.2h4.1v1.3h-4.1zM25.9 513.7h4.1v1.8h-4.1zM17.9 520.9h4.1v1.8h-4.1zM13.8 561.8h4.1v1.8h-4.1zM17.9 567.2h4.1v1.8h-4.1zM25.9 572.5h4.1v1.8h-4.1zM13.8 579.6h4.1v1.8h-4.1zM13.8 593.9h4.1v1.8h-4.1zM17.9 601.0h4.1v1.8h-4.1zM25.9 601.0h4.1v1.8h-4.1zM25.9 602.8h4.1v1.8h-4.1zM21.9 606.4h4.1v1.8h-4.1zM21.9 608.1h4.1v1.8h-4.1zM39.6 536.9h4.2v1.8h-4.2zM47.9 538.7h4.2v1.8h-4.2zM31.4 549.4h4.2v1.8h-4.2zM31.4 558.3h4.2v1.8h-4.2zM39.6 574.3h4.2v1.8h-4.2zM43.8 590.3h4.2v1.8h-4.2zM39.6 601.0h4.2v1.8h-4.2zM39.6 602.8h4.2v1.8h-4.2zM31.4 609.9h4.2v1.8h-4.2zM61.0 528.0h4.0v1.8h-4.0zM57.0 588.5h4.0v1.8h-4.0zM68.9 601.0h4.0v1.8h-4.0zM53.0 602.8h4.0v1.8h-4.0zM74.4 529.8h4.1v1.8h-4.1zM82.6 531.5h4.1v1.8h-4.1zM82.6 533.3h4.1v1.8h-4.1zM86.6 533.3h4.1v1.8h-4.1zM86.6 535.1h4.1v1.8h-4.1zM74.4 536.9h4.1v1.8h-4.1zM90.7 536.9h4.1v1.8h-4.1zM82.6 540.4h4.1v1.8h-4.1zM90.7 540.4h4.1v1.8h-4.1zM82.6 542.2h4.1v1.8h-4.1zM90.7 572.5h4.1v1.8h-4.1zM82.6 583.2h4.1v1.8h-4.1zM74.4 586.8h4.1v1.8h-4.1zM90.7 586.8h4.1v1.8h-4.1zM90.7 588.5h4.1v1.8h-4.1zM78.5 597.4h4.1v1.8h-4.1zM82.6 597.4h4.1v1.8h-4.1zM74.4 602.8h4.1v1.8h-4.1zM86.6 602.8h4.1v1.8h-4.1zM78.5 606.4h4.1v1.8h-4.1zM90.7 606.4h4.1v1.8h-4.1zM74.4 608.1h4.1v1.8h-4.1zM74.4 609.9h4.1v1.8h-4.1zM82.6 611.7h4.1v1.8h-4.1zM86.6 611.7h4.1v1.8h-4.1zM74.4 615.3h4.1v1.8h-4.1zM82.6 615.3h4.1v1.8h-4.1zM86.6 618.8h4.1v1.8h-4.1zM132.5 519.5h4.0v1.8h-4.0zM128.5 567.5h4.0v1.8h-4.0zM128.5 588.8h4.0v1.8h-4.0zM142.0 592.3h4.0v1.8h-4.0zM142.0 617.2h4.0v1.8h-4.0zM167.5 510.7h4.1v1.8h-4.1zM175.7 574.6h4.1v1.8h-4.1zM167.5 578.1h4.1v1.8h-4.1zM167.5 594.1h4.1v1.8h-4.1zM167.5 608.3h4.1v1.8h-4.1zM167.5 610.1h4.1v1.8h-4.1zM185.0 514.2h4.1v1.8h-4.1zM185.0 542.6h4.1v1.8h-4.1zM193.1 551.5h4.1v1.8h-4.1zM189.0 555.0h4.1v1.8h-4.1zM185.0 558.6h4.1v1.8h-4.1zM197.1 563.9h4.1v1.8h-4.1zM181.0 569.2h4.1v1.8h-4.1zM193.1 569.2h4.1v1.8h-4.1zM189.0 572.8h4.1v1.8h-4.1zM197.1 581.7h4.1v1.8h-4.1zM193.1 583.4h4.1v1.8h-4.1zM181.0 585.2h4.1v1.8h-4.1zM185.0 585.2h4.1v1.8h-4.1zM189.0 585.2h4.1v1.8h-4.1zM185.0 603.0h4.1v1.8h-4.1zM185.0 617.2h4.1v1.8h-4.1zM251.8 519.2h7.1v5.2h-7.1zM258.9 529.5h7.1v5.2h-7.1zM280.1 539.7h7.1v5.2h-7.1zM295.9 606.4h7.1v5.2h-7.1zM288.9 621.8h7.1v5.2h-7.1zM295.9 642.3h7.1v5.2h-7.1zM332.9 519.2h7.0v5.2h-7.0zM325.9 544.8h7.0v5.2h-7.0zM332.9 550.0h7.0v5.2h-7.0zM332.9 637.2h7.0v5.2h-7.0zM332.9 642.3h7.0v5.2h-7.0zM332.9 652.6h7.0v5.2h-7.0zM355.5 503.8h7.0v5.2h-7.0zM362.5 503.8h7.0v5.2h-7.0zM348.6 508.9h7.0v5.2h-7.0zM348.6 514.1h7.0v5.2h-7.0zM348.6 570.5h7.0v5.2h-7.0zM355.5 570.5h7.0v5.2h-7.0zM348.6 580.8h7.0v5.2h-7.0zM362.5 591.0h7.0v5.2h-7.0zM348.6 601.3h7.0v5.2h-7.0zM355.5 601.3h7.0v5.2h-7.0zM348.6 606.4h7.0v5.2h-7.0zM355.5 606.4h7.0v5.2h-7.0zM355.5 611.5h7.0v5.2h-7.0z"/>
<path fill="#e7a9a7" d="M259.1 366.9h4.1v1.3h-4.1zM284.9 419.7h4.1v1.3h-4.1zM268.7 433.9h4.1v1.3h-4.1zM302.1 333.3h4.0v1.3h-4.0zM306.1 334.6h4.0v1.3h-4.0zM298.2 341.1h4.0v1.3h-4.0zM298.2 342.3h4.0v1.3h-4.0zM302.1 342.3h4.0v1.3h-4.0zM306.1 344.9h4.0v1.3h-4.0zM294.2 348.8h4.0v1.3h-4.0zM302.1 348.8h4.0v1.3h-4.0zM290.3 351.4h4.0v1.3h-4.0zM298.2 357.8h4.0v1.3h-4.0zM290.3 361.7h4.0v1.3h-4.0zM298.2 377.2h4.0v1.3h-4.0zM290.3 381.0h4.0v1.3h-4.0zM302.1 381.0h4.0v1.3h-4.0zM294.2 395.2h4.0v1.3h-4.0zM298.2 395.2h4.0v1.3h-4.0zM294.2 401.7h4.0v1.3h-4.0zM298.2 403.0h4.0v1.3h-4.0zM302.1 403.0h4.0v1.3h-4.0zM290.3 405.5h4.0v1.3h-4.0zM290.3 406.8h4.0v1.3h-4.0zM302.1 408.1h4.0v1.3h-4.0zM294.2 435.2h4.0v1.3h-4.0zM311.6 423.6h4.0v1.3h-4.0zM360.0 323.0h4.0v1.3h-4.0zM364.0 324.3h4.0v1.3h-4.0zM360.0 350.1h4.0v1.3h-4.0zM368.0 352.7h4.0v1.3h-4.0zM372.0 368.1h4.0v1.3h-4.0zM364.0 377.2h4.0v1.3h-4.0zM372.0 377.2h4.0v1.3h-4.0zM360.0 378.5h4.0v1.3h-4.0zM368.0 381.0h4.0v1.3h-4.0zM368.0 386.2h4.0v1.3h-4.0zM372.0 386.2h4.0v1.3h-4.0zM372.0 393.9h4.0v1.3h-4.0zM364.0 395.2h4.0v1.3h-4.0zM364.0 397.8h4.0v1.3h-4.0zM372.0 399.1h4.0v1.3h-4.0zM368.0 400.4h4.0v1.3h-4.0zM364.0 401.7h4.0v1.3h-4.0zM368.0 405.5h4.0v1.3h-4.0zM364.0 415.9h4.0v1.3h-4.0zM368.0 415.9h4.0v1.3h-4.0zM368.0 419.7h4.0v1.3h-4.0zM381.3 391.4h4.1v1.3h-4.1zM389.5 391.4h4.1v1.3h-4.1zM385.4 392.6h4.1v1.3h-4.1zM381.3 404.3h4.1v1.3h-4.1zM381.3 423.6h4.1v1.3h-4.1zM389.5 427.5h4.1v1.3h-4.1zM385.4 428.8h4.1v1.3h-4.1zM13.8 510.2h4.1v1.8h-4.1zM17.9 515.5h4.1v1.8h-4.1zM21.9 520.9h4.1v1.8h-4.1zM13.8 522.6h4.1v1.8h-4.1zM21.9 524.4h4.1v1.8h-4.1zM25.9 529.8h4.1v1.8h-4.1zM17.9 531.5h4.1v1.8h-4.1zM17.9 544.0h4.1v1.8h-4.1zM17.9 545.8h4.1v1.8h-4.1zM25.9 552.9h4.1v1.8h-4.1zM13.8 556.5h4.1v1.8h-4.1zM21.9 560.0h4.1v1.8h-4.1zM25.9 563.6h4.1v1.8h-4.1zM17.9 568.9h4.1v1.8h-4.1zM21.9 568.9h4.1v1.8h-4.1zM21.9 576.1h4.1v1.8h-4.1zM13.8 581.4h4.1v1.8h-4.1zM21.9 585.0h4.1v1.8h-4.1zM21.9 586.8h4.1v1.8h-4.1zM13.8 590.3h4.1v1.8h-4.1zM17.9 590.3h4.1v1.8h-4.1zM21.9 590.3h4.1v1.8h-4.1zM13.8 606.4h4.1v1.8h-4.1zM21.9 613.5h4.1v1.8h-4.1zM31.4 538.7h4.2v1.8h-4.2zM35.5 540.4h4.2v1.8h-4.2zM31.4 542.2h4.2v1.8h-4.2zM43.8 542.2h4.2v1.8h-4.2zM47.9 547.6h4.2v1.8h-4.2zM47.9 552.9h4.2v1.8h-4.2zM35.5 560.0h4.2v1.8h-4.2zM35.5 570.7h4.2v1.8h-4.2zM47.9 577.9h4.2v1.8h-4.2zM31.4 588.5h4.2v1.8h-4.2zM39.6 588.5h4.2v1.8h-4.2zM31.4 592.1h4.2v1.8h-4.2zM47.9 597.4h4.2v1.8h-4.2zM35.5 606.4h4.2v1.8h-4.2zM47.9 606.4h4.2v1.8h-4.2zM43.8 608.1h4.2v1.8h-4.2zM35.5 615.3h4.2v1.8h-4.2zM31.4 617.0h4.2v1.8h-4.2zM39.6 618.8h4.2v1.8h-4.2zM82.6 526.2h4.1v1.8h-4.1zM82.6 528.0h4.1v1.8h-4.1zM74.4 531.5h4.1v1.8h-4.1zM78.5 531.5h4.1v1.8h-4.1zM74.4 535.1h4.1v1.8h-4.1zM78.5 535.1h4.1v1.8h-4.1zM78.5 544.0h4.1v1.8h-4.1zM82.6 544.0h4.1v1.8h-4.1zM82.6 549.4h4.1v1.8h-4.1zM74.4 551.1h4.1v1.8h-4.1zM82.6 556.5h4.1v1.8h-4.1zM90.7 558.3h4.1v1.8h-4.1zM86.6 561.8h4.1v1.8h-4.1zM74.4 567.2h4.1v1.8h-4.1zM82.6 568.9h4.1v1.8h-4.1zM74.4 585.0h4.1v1.8h-4.1zM82.6 585.0h4.1v1.8h-4.1zM78.5 590.3h4.1v1.8h-4.1zM86.6 590.3h4.1v1.8h-4.1zM78.5 592.1h4.1v1.8h-4.1zM86.6 599.2h4.1v1.8h-4.1zM74.4 601.0h4.1v1.8h-4.1zM90.7 601.0h4.1v1.8h-4.1zM78.5 602.8h4.1v1.8h-4.1zM78.5 604.6h4.1v1.8h-4.1zM86.6 604.6h4.1v1.8h-4.1zM90.7 604.6h4.1v1.8h-4.1zM90.7 608.1h4.1v1.8h-4.1zM132.5 532.0h4.0v1.8h-4.0zM128.5 562.1h4.0v1.8h-4.0zM120.5 594.1h4.0v1.8h-4.0zM142.0 610.1h4.0v1.8h-4.0zM167.5 521.3h4.1v1.8h-4.1zM171.6 521.3h4.1v1.8h-4.1zM163.4 544.4h4.1v1.8h-4.1zM175.7 544.4h4.1v1.8h-4.1zM171.6 547.9h4.1v1.8h-4.1zM167.5 581.7h4.1v1.8h-4.1zM159.3 583.4h4.1v1.8h-4.1zM185.0 569.2h4.1v1.8h-4.1zM193.1 578.1h4.1v1.8h-4.1zM189.0 581.7h4.1v1.8h-4.1zM181.0 601.2h4.1v1.8h-4.1zM193.1 601.2h4.1v1.8h-4.1zM189.0 617.2h4.1v1.8h-4.1zM251.8 514.1h7.1v5.2h-7.1zM258.9 514.1h7.1v5.2h-7.1zM266.0 514.1h7.1v5.2h-7.1zM258.9 519.2h7.1v5.2h-7.1zM273.0 529.5h7.1v5.2h-7.1zM266.0 544.8h7.1v5.2h-7.1zM273.0 544.8h7.1v5.2h-7.1zM288.9 570.5h7.1v5.2h-7.1zM288.9 575.6h7.1v5.2h-7.1zM295.9 575.6h7.1v5.2h-7.1zM302.9 575.6h7.1v5.2h-7.1zM302.9 580.8h7.1v5.2h-7.1zM302.9 585.9h7.1v5.2h-7.1zM295.9 591.0h7.1v5.2h-7.1zM288.9 601.3h7.1v5.2h-7.1zM310.0 601.3h7.1v5.2h-7.1zM302.9 611.5h7.1v5.2h-7.1zM288.9 637.2h7.1v5.2h-7.1zM310.0 637.2h7.1v5.2h-7.1zM288.9 647.4h7.1v5.2h-7.1zM325.9 519.2h7.0v5.2h-7.0zM339.8 524.3h7.0v5.2h-7.0zM332.9 534.6h7.0v5.2h-7.0zM325.9 539.7h7.0v5.2h-7.0zM332.9 539.7h7.0v5.2h-7.0zM332.9 560.2h7.0v5.2h-7.0zM325.9 621.8h7.0v5.2h-7.0zM332.9 626.9h7.0v5.2h-7.0zM339.8 637.2h7.0v5.2h-7.0zM339.8 642.3h7.0v5.2h-7.0zM339.8 647.4h7.0v5.2h-7.0zM339.8 652.6h7.0v5.2h-7.0zM362.5 575.6h7.0v5.2h-7.0zM348.6 591.0h7.0v5.2h-7.0zM348.6 596.1h7.0v5.2h-7.0zM362.5 596.1h7.0v5.2h-7.0zM362.5 606.4h7.0v5.2h-7.0zM362.5 611.5h7.0v5.2h-7.0zM348.6 616.7h7.0v5.2h-7.0z"/>
<path fill="#221c8a" d="M251.0 377.2h4.1v1.3h-4.1zM251.0 378.5h4.1v1.3h-4.1zM255.0 381.0h4.1v1.3h-4.1zM251.0 408.1h4.1v1.3h-4.1zM255.0 408.1h4.1v1.3h-4.1zM263.1 408.1h4.1v1.3h-4.1zM263.1 409.4h4.1v1.3h-4.1zM259.1 413.3h4.1v1.3h-4.1zM251.0 414.6h4.1v1.3h-4.1zM255.0 414.6h4.1v1.3h-4.1zM259.1 414.6h4.1v1.3h-4.1zM411.1 325.6h4.1v1.3h-4.1zM415.2 325.6h4.1v1.3h-4.1zM399.0 338.5h4.1v1.3h-4.1zM407.1 338.5h4.1v1.3h-4.1zM411.1 338.5h4.1v1.3h-4.1zM399.0 342.3h4.1v1.3h-4.1zM407.1 342.3h4.1v1.3h-4.1zM403.0 356.5h4.1v1.3h-4.1zM407.1 359.1h4.1v1.3h-4.1zM399.0 375.9h4.1v1.3h-4.1zM403.0 375.9h4.1v1.3h-4.1zM411.1 375.9h4.1v1.3h-4.1zM403.0 383.6h4.1v1.3h-4.1zM407.1 383.6h4.1v1.3h-4.1zM415.2 383.6h4.1v1.3h-4.1zM399.0 384.9h4.1v1.3h-4.1zM407.1 384.9h4.1v1.3h-4.1zM415.2 392.6h4.1v1.3h-4.1zM407.1 395.2h4.1v1.3h-4.1zM399.0 406.8h4.1v1.3h-4.1zM407.1 421.0h4.1v1.3h-4.1zM411.1 421.0h4.1v1.3h-4.1zM415.2 421.0h4.1v1.3h-4.1zM407.1 428.8h4.1v1.3h-4.1zM424.7 357.8h4.0v1.3h-4.0zM428.7 369.4h4.0v1.3h-4.0zM57.0 531.5h4.0v1.8h-4.0zM57.0 540.4h4.0v1.8h-4.0zM61.0 552.9h4.0v1.8h-4.0zM57.0 560.0h4.0v1.8h-4.0zM132.5 508.9h4.0v1.8h-4.0zM128.5 517.8h4.0v1.8h-4.0zM132.5 517.8h4.0v1.8h-4.0zM120.5 569.2h4.0v1.8h-4.0zM128.5 583.4h4.0v1.8h-4.0zM132.5 608.3h4.0v1.8h-4.0zM138.0 516.0h4.0v1.8h-4.0zM266.0 565.4h7.1v5.2h-7.1zM251.8 570.5h7.1v5.2h-7.1zM280.1 570.5h7.1v5.2h-7.1zM258.9 575.6h7.1v5.2h-7.1zM258.9 585.9h7.1v5.2h-7.1zM266.0 585.9h7.1v5.2h-7.1zM266.0 611.5h7.1v5.2h-7.1zM273.0 611.5h7.1v5.2h-7.1zM266.0 616.7h7.1v5.2h-7.1zM273.0 616.7h7.1v5.2h-7.1zM251.8 621.8h7.1v5.2h-7.1zM258.9 621.8h7.1v5.2h-7.1zM251.8 626.9h7.1v5.2h-7.1zM258.9 626.9h7.1v5.2h-7.1zM258.9 632.0h7.1v5.2h-7.1zM258.9 637.2h7.1v5.2h-7.1zM258.9 647.4h7.1v5.2h-7.1zM288.9 503.8h7.1v5.2h-7.1zM317.0 508.9h7.1v5.2h-7.1zM317.0 550.0h7.1v5.2h-7.1zM317.0 555.1h7.1v5.2h-7.1zM317.0 560.2h7.1v5.2h-7.1zM339.8 503.8h7.0v5.2h-7.0zM325.9 508.9h7.0v5.2h-7.0zM339.8 565.4h7.0v5.2h-7.0zM339.8 570.5h7.0v5.2h-7.0zM339.8 575.6h7.0v5.2h-7.0zM339.8 580.8h7.0v5.2h-7.0zM339.8 585.9h7.0v5.2h-7.0zM325.9 591.0h7.0v5.2h-7.0zM339.8 596.1h7.0v5.2h-7.0zM339.8 601.3h7.0v5.2h-7.0zM339.8 606.4h7.0v5.2h-7.0zM355.5 529.5h7.0v5.2h-7.0zM355.5 534.6h7.0v5.2h-7.0zM355.5 539.7h7.0v5.2h-7.0zM355.5 544.8h7.0v5.2h-7.0zM355.5 550.0h7.0v5.2h-7.0zM355.5 555.1h7.0v5.2h-7.0zM355.5 621.8h7.0v5.2h-7.0zM355.5 626.9h7.0v5.2h-7.0z"/>
<path fill="#dd7772" d="M290.3 323.0h4.0v1.3h-4.0zM294.2 334.6h4.0v1.3h-4.0zM290.3 338.5h4.0v1.3h-4.0zM290.3 343.6h4.0v1.3h-4.0zM290.3 346.2h4.0v1.3h-4.0zM290.3 359.1h4.0v1.3h-4.0zM294.2 359.1h4.0v1.3h-4.0zM294.2 360.4h4.0v1.3h-4.0zM294.2 363.0h4.0v1.3h-4.0zM306.1 366.9h4.0v1.3h-4.0zM302.1 372.0h4.0v1.3h-4.0zM306.1 387.5h4.0v1.3h-4.0zM294.2 388.8h4.0v1.3h-4.0zM298.2 399.1h4.0v1.3h-4.0zM302.1 399.1h4.0v1.3h-4.0zM298.2 400.4h4.0v1.3h-4.0zM290.3 409.4h4.0v1.3h-4.0zM298.2 409.4h4.0v1.3h-4.0zM302.1 414.6h4.0v1.3h-4.0zM298.2 415.9h4.0v1.3h-4.0zM302.1 415.9h4.0v1.3h-4.0zM302.1 418.4h4.0v1.3h-4.0zM294.2 427.5h4.0v1.3h-4.0zM290.3 428.8h4.0v1.3h-4.0zM290.3 433.9h4.0v1.3h-4.0zM311.6 326.9h4.0v1.3h-4.0zM315.6 328.2h4.0v1.3h-4.0zM319.6 328.2h4.0v1.3h-4.0zM311.6 329.4h4.0v1.3h-4.0zM315.6 332.0h4.0v1.3h-4.0zM323.5 335.9h4.0v1.3h-4.0zM327.5 354.0h4.0v1.3h-4.0zM323.5 372.0h4.0v1.3h-4.0zM327.5 372.0h4.0v1.3h-4.0zM319.6 373.3h4.0v1.3h-4.0zM311.6 377.2h4.0v1.3h-4.0zM323.5 386.2h4.0v1.3h-4.0zM327.5 386.2h4.0v1.3h-4.0zM323.5 388.8h4.0v1.3h-4.0zM311.6 392.6h4.0v1.3h-4.0zM323.5 397.8h4.0v1.3h-4.0zM315.6 400.4h4.0v1.3h-4.0zM311.6 403.0h4.0v1.3h-4.0zM327.5 403.0h4.0v1.3h-4.0zM311.6 405.5h4.0v1.3h-4.0zM323.5 410.7h4.0v1.3h-4.0zM327.5 410.7h4.0v1.3h-4.0zM319.6 421.0h4.0v1.3h-4.0zM315.6 427.5h4.0v1.3h-4.0zM327.5 430.1h4.0v1.3h-4.0zM327.5 431.3h4.0v1.3h-4.0zM327.5 432.6h4.0v1.3h-4.0zM311.6 435.2h4.0v1.3h-4.0zM315.6 435.2h4.0v1.3h-4.0zM364.0 325.6h4.0v1.3h-4.0zM364.0 326.9h4.0v1.3h-4.0zM360.0 328.2h4.0v1.3h-4.0zM368.0 328.2h4.0v1.3h-4.0zM372.0 328.2h4.0v1.3h-4.0zM364.0 329.4h4.0v1.3h-4.0zM368.0 329.4h4.0v1.3h-4.0zM364.0 335.9h4.0v1.3h-4.0zM368.0 341.1h4.0v1.3h-4.0zM372.0 348.8h4.0v1.3h-4.0zM372.0 355.2h4.0v1.3h-4.0zM364.0 360.4h4.0v1.3h-4.0zM372.0 360.4h4.0v1.3h-4.0zM368.0 369.4h4.0v1.3h-4.0zM372.0 369.4h4.0v1.3h-4.0zM364.0 379.8h4.0v1.3h-4.0zM360.0 388.8h4.0v1.3h-4.0zM360.0 392.6h4.0v1.3h-4.0zM368.0 414.6h4.0v1.3h-4.0zM368.0 427.5h4.0v1.3h-4.0zM393.6 423.6h4.1v1.3h-4.1zM13.8 511.9h4.1v1.8h-4.1zM13.8 526.2h4.1v1.8h-4.1zM25.9 528.0h4.1v1.8h-4.1zM21.9 547.6h4.1v1.8h-4.1zM21.9 558.3h4.1v1.8h-4.1zM25.9 574.3h4.1v1.8h-4.1zM13.8 583.2h4.1v1.8h-4.1zM25.9 585.0h4.1v1.8h-4.1zM31.4 506.6h4.2v1.8h-4.2zM47.9 506.6h4.2v1.8h-4.2zM43.8 517.3h4.2v1.8h-4.2zM47.9 522.6h4.2v1.8h-4.2zM39.6 551.1h4.2v1.8h-4.2zM43.8 554.7h4.2v1.8h-4.2zM31.4 556.5h4.2v1.8h-4.2zM47.9 556.5h4.2v1.8h-4.2zM39.6 561.8h4.2v1.8h-4.2zM31.4 568.9h4.2v1.8h-4.2zM35.5 568.9h4.2v1.8h-4.2zM47.9 570.7h4.2v1.8h-4.2zM31.4 585.0h4.2v1.8h-4.2zM31.4 593.9h4.2v1.8h-4.2zM35.5 595.7h4.2v1.8h-4.2zM31.4 597.4h4.2v1.8h-4.2zM31.4 606.4h4.2v1.8h-4.2zM39.6 606.4h4.2v1.8h-4.2zM43.8 611.7h4.2v1.8h-4.2zM47.9 613.5h4.2v1.8h-4.2zM47.9 618.8h4.2v1.8h-4.2zM90.7 599.2h4.1v1.8h-4.1zM159.3 508.9h4.1v1.8h-4.1zM163.4 532.0h4.1v1.8h-4.1zM159.3 533.7h4.1v1.8h-4.1zM175.7 535.5h4.1v1.8h-4.1zM171.6 537.3h4.1v1.8h-4.1zM171.6 539.1h4.1v1.8h-4.1zM159.3 544.4h4.1v1.8h-4.1zM167.5 544.4h4.1v1.8h-4.1zM171.6 544.4h4.1v1.8h-4.1zM167.5 546.2h4.1v1.8h-4.1zM175.7 556.8h4.1v1.8h-4.1zM167.5 560.4h4.1v1.8h-4.1zM163.4 563.9h4.1v1.8h-4.1zM175.7 567.5h4.1v1.8h-4.1zM159.3 576.3h4.1v1.8h-4.1zM167.5 576.3h4.1v1.8h-4.1zM163.4 581.7h4.1v1.8h-4.1zM175.7 594.1h4.1v1.8h-4.1zM171.6 597.6h4.1v1.8h-4.1zM175.7 599.4h4.1v1.8h-4.1zM159.3 601.2h4.1v1.8h-4.1zM167.5 604.7h4.1v1.8h-4.1zM175.7 606.5h4.1v1.8h-4.1zM167.5 617.2h4.1v1.8h-4.1zM175.7 618.9h4.1v1.8h-4.1zM273.0 514.1h7.1v5.2h-7.1zM273.0 539.7h7.1v5.2h-7.1zM266.0 550.0h7.1v5.2h-7.1zM266.0 555.1h7.1v5.2h-7.1zM273.0 555.1h7.1v5.2h-7.1zM295.9 565.4h7.1v5.2h-7.1zM317.0 575.6h7.1v5.2h-7.1zM310.0 626.9h7.1v5.2h-7.1zM302.9 637.2h7.1v5.2h-7.1zM355.5 508.9h7.0v5.2h-7.0zM355.5 514.1h7.0v5.2h-7.0zM355.5 616.7h7.0v5.2h-7.0z"/>
<path fill="#e5a19e" d="M294.2 323.0h4.0v1.3h-4.0zM298.2 325.6h4.0v1.3h-4.0zM306.1 325.6h4.0v1.3h-4.0zM302.1 328.2h4.0v1.3h-4.0zM298.2 329.4h4.0v1.3h-4.0zM290.3 334.6h4.0v1.3h-4.0zM290.3 335.9h4.0v1.3h-4.0zM302.1 338.5h4.0v1.3h-4.0zM306.1 338.5h4.0v1.3h-4.0zM290.3 339.8h4.0v1.3h-4.0zM290.3 342.3h4.0v1.3h-4.0zM294.2 344.9h4.0v1.3h-4.0zM298.2 346.2h4.0v1.3h-4.0zM290.3 347.5h4.0v1.3h-4.0zM306.1 352.7h4.0v1.3h-4.0zM306.1 355.2h4.0v1.3h-4.0zM298.2 360.4h4.0v1.3h-4.0zM294.2 361.7h4.0v1.3h-4.0zM294.2 364.3h4.0v1.3h-4.0zM294.2 365.6h4.0v1.3h-4.0zM298.2 372.0h4.0v1.3h-4.0zM306.1 378.5h4.0v1.3h-4.0zM294.2 381.0h4.0v1.3h-4.0zM298.2 388.8h4.0v1.3h-4.0zM298.2 392.6h4.0v1.3h-4.0zM306.1 393.9h4.0v1.3h-4.0zM306.1 397.8h4.0v1.3h-4.0zM290.3 403.0h4.0v1.3h-4.0zM302.1 405.5h4.0v1.3h-4.0zM294.2 406.8h4.0v1.3h-4.0zM306.1 419.7h4.0v1.3h-4.0zM290.3 423.6h4.0v1.3h-4.0zM294.2 423.6h4.0v1.3h-4.0zM298.2 428.8h4.0v1.3h-4.0zM311.6 386.2h4.0v1.3h-4.0zM311.6 408.1h4.0v1.3h-4.0zM327.5 408.1h4.0v1.3h-4.0zM315.6 413.3h4.0v1.3h-4.0zM319.6 413.3h4.0v1.3h-4.0zM311.6 417.2h4.0v1.3h-4.0zM327.5 423.6h4.0v1.3h-4.0zM327.5 424.9h4.0v1.3h-4.0zM315.6 426.2h4.0v1.3h-4.0zM319.6 426.2h4.0v1.3h-4.0zM319.6 430.1h4.0v1.3h-4.0zM319.6 431.3h4.0v1.3h-4.0zM323.5 435.2h4.0v1.3h-4.0zM360.0 338.5h4.0v1.3h-4.0zM368.0 355.2h4.0v1.3h-4.0zM364.0 361.7h4.0v1.3h-4.0zM364.0 366.9h4.0v1.3h-4.0zM360.0 373.3h4.0v1.3h-4.0zM372.0 373.3h4.0v1.3h-4.0zM372.0 379.8h4.0v1.3h-4.0zM364.0 390.1h4.0v1.3h-4.0zM364.0 391.4h4.0v1.3h-4.0zM368.0 391.4h4.0v1.3h-4.0zM364.0 392.6h4.0v1.3h-4.0zM364.0 406.8h4.0v1.3h-4.0zM368.0 410.7h4.0v1.3h-4.0zM368.0 417.2h4.0v1.3h-4.0zM372.0 419.7h4.0v1.3h-4.0zM360.0 431.3h4.0v1.3h-4.0zM368.0 432.6h4.0v1.3h-4.0zM372.0 433.9h4.0v1.3h-4.0zM389.5 384.9h4.1v1.3h-4.1zM393.6 384.9h4.1v1.3h-4.1zM377.2 386.2h4.1v1.3h-4.1zM389.5 386.2h4.1v1.3h-4.1zM385.4 391.4h4.1v1.3h-4.1zM381.3 395.2h4.1v1.3h-4.1zM377.2 403.0h4.1v1.3h-4.1zM385.4 430.1h4.1v1.3h-4.1zM393.6 430.1h4.1v1.3h-4.1zM13.8 520.9h4.1v1.8h-4.1zM21.9 526.2h4.1v1.8h-4.1zM25.9 538.7h4.1v1.8h-4.1zM13.8 554.7h4.1v1.8h-4.1zM17.9 556.5h4.1v1.8h-4.1zM13.8 565.4h4.1v1.8h-4.1zM21.9 565.4h4.1v1.8h-4.1zM21.9 579.6h4.1v1.8h-4.1zM25.9 581.4h4.1v1.8h-4.1zM21.9 588.5h4.1v1.8h-4.1zM25.9 588.5h4.1v1.8h-4.1zM17.9 595.7h4.1v1.8h-4.1zM17.9 599.2h4.1v1.8h-4.1zM25.9 604.6h4.1v1.8h-4.1zM21.9 615.3h4.1v1.8h-4.1zM21.9 617.0h4.1v1.8h-4.1zM13.8 618.8h4.1v1.8h-4.1zM21.9 618.8h4.1v1.8h-4.1zM43.8 538.7h4.2v1.8h-4.2zM47.9 540.4h4.2v1.8h-4.2zM35.5 542.2h4.2v1.8h-4.2zM39.6 567.2h4.2v1.8h-4.2zM31.4 570.7h4.2v1.8h-4.2zM39.6 572.5h4.2v1.8h-4.2zM39.6 586.8h4.2v1.8h-4.2zM39.6 592.1h4.2v1.8h-4.2zM47.9 601.0h4.2v1.8h-4.2zM47.9 615.3h4.2v1.8h-4.2zM43.8 617.0h4.2v1.8h-4.2zM68.9 536.9h4.0v1.8h-4.0zM78.5 526.2h4.1v1.8h-4.1zM82.6 529.8h4.1v1.8h-4.1zM86.6 531.5h4.1v1.8h-4.1zM82.6 538.7h4.1v1.8h-4.1zM78.5 540.4h4.1v1.8h-4.1zM74.4 560.0h4.1v1.8h-4.1zM90.7 567.2h4.1v1.8h-4.1zM86.6 568.9h4.1v1.8h-4.1zM82.6 572.5h4.1v1.8h-4.1zM82.6 579.6h4.1v1.8h-4.1zM86.6 579.6h4.1v1.8h-4.1zM78.5 585.0h4.1v1.8h-4.1zM86.6 588.5h4.1v1.8h-4.1zM86.6 593.9h4.1v1.8h-4.1zM82.6 599.2h4.1v1.8h-4.1zM90.7 602.8h4.1v1.8h-4.1zM82.6 608.1h4.1v1.8h-4.1zM90.7 611.7h4.1v1.8h-4.1zM86.6 615.3h4.1v1.8h-4.1zM74.4 618.8h4.1v1.8h-4.1zM120.5 546.2h4.0v1.8h-4.0zM159.3 507.1h4.1v1.8h-4.1zM175.7 519.5h4.1v1.8h-4.1zM159.3 530.2h4.1v1.8h-4.1zM163.4 560.4h4.1v1.8h-4.1zM159.3 574.6h4.1v1.8h-4.1zM159.3 578.1h4.1v1.8h-4.1zM167.5 587.0h4.1v1.8h-4.1zM163.4 606.5h4.1v1.8h-4.1zM181.0 571.0h4.1v1.8h-4.1zM302.9 601.3h7.1v5.2h-7.1zM332.9 647.4h7.0v5.2h-7.0z"/>
<path fill="#e49895" d="M298.2 323.0h4.0v1.3h-4.0zM302.1 323.0h4.0v1.3h-4.0zM306.1 323.0h4.0v1.3h-4.0zM302.1 325.6h4.0v1.3h-4.0zM302.1 335.9h4.0v1.3h-4.0zM294.2 338.5h4.0v1.3h-4.0zM294.2 350.1h4.0v1.3h-4.0zM294.2 352.7h4.0v1.3h-4.0zM290.3 355.2h4.0v1.3h-4.0zM294.2 355.2h4.0v1.3h-4.0zM298.2 355.2h4.0v1.3h-4.0zM294.2 357.8h4.0v1.3h-4.0zM306.1 359.1h4.0v1.3h-4.0zM302.1 364.3h4.0v1.3h-4.0zM306.1 365.6h4.0v1.3h-4.0zM298.2 366.9h4.0v1.3h-4.0zM290.3 377.2h4.0v1.3h-4.0zM298.2 378.5h4.0v1.3h-4.0zM302.1 378.5h4.0v1.3h-4.0zM294.2 379.8h4.0v1.3h-4.0zM306.1 379.8h4.0v1.3h-4.0zM298.2 381.0h4.0v1.3h-4.0zM294.2 383.6h4.0v1.3h-4.0zM298.2 390.1h4.0v1.3h-4.0zM306.1 391.4h4.0v1.3h-4.0zM306.1 392.6h4.0v1.3h-4.0zM306.1 395.2h4.0v1.3h-4.0zM298.2 401.7h4.0v1.3h-4.0zM294.2 403.0h4.0v1.3h-4.0zM306.1 403.0h4.0v1.3h-4.0zM306.1 413.3h4.0v1.3h-4.0zM294.2 418.4h4.0v1.3h-4.0zM306.1 418.4h4.0v1.3h-4.0zM294.2 419.7h4.0v1.3h-4.0zM298.2 419.7h4.0v1.3h-4.0zM294.2 421.0h4.0v1.3h-4.0zM298.2 422.3h4.0v1.3h-4.0zM302.1 423.6h4.0v1.3h-4.0zM290.3 432.6h4.0v1.3h-4.0zM298.2 432.6h4.0v1.3h-4.0zM306.1 432.6h4.0v1.3h-4.0zM302.1 435.2h4.0v1.3h-4.0zM311.6 339.8h4.0v1.3h-4.0zM323.5 341.1h4.0v1.3h-4.0zM327.5 400.4h4.0v1.3h-4.0zM327.5 412.0h4.0v1.3h-4.0zM311.6 421.0h4.0v1.3h-4.0zM323.5 421.0h4.0v1.3h-4.0zM311.6 426.2h4.0v1.3h-4.0zM323.5 427.5h4.0v1.3h-4.0zM323.5 431.3h4.0v1.3h-4.0zM360.0 324.3h4.0v1.3h-4.0zM368.0 335.9h4.0v1.3h-4.0zM364.0 356.5h4.0v1.3h-4.0zM372.0 361.7h4.0v1.3h-4.0zM372.0 374.6h4.0v1.3h-4.0zM368.0 378.5h4.0v1.3h-4.0zM360.0 381.0h4.0v1.3h-4.0zM364.0 381.0h4.0v1.3h-4.0zM372.0 381.0h4.0v1.3h-4.0zM372.0 388.8h4.0v1.3h-4.0zM368.0 395.2h4.0v1.3h-4.0zM364.0 399.1h4.0v1.3h-4.0zM364.0 400.4h4.0v1.3h-4.0zM372.0 401.7h4.0v1.3h-4.0zM364.0 404.3h4.0v1.3h-4.0zM368.0 404.3h4.0v1.3h-4.0zM364.0 405.5h4.0v1.3h-4.0zM364.0 409.4h4.0v1.3h-4.0zM360.0 419.7h4.0v1.3h-4.0zM368.0 422.3h4.0v1.3h-4.0zM360.0 423.6h4.0v1.3h-4.0zM360.0 432.6h4.0v1.3h-4.0zM389.5 412.0h4.1v1.3h-4.1zM381.3 414.6h4.1v1.3h-4.1zM389.5 415.9h4.1v1.3h-4.1zM385.4 423.6h4.1v1.3h-4.1zM393.6 427.5h4.1v1.3h-4.1zM389.5 428.8h4.1v1.3h-4.1zM21.9 510.2h4.1v1.8h-4.1zM25.9 515.5h4.1v1.8h-4.1zM21.9 528.0h4.1v1.8h-4.1zM25.9 531.5h4.1v1.8h-4.1zM17.9 538.7h4.1v1.8h-4.1zM21.9 540.4h4.1v1.8h-4.1zM13.8 542.2h4.1v1.8h-4.1zM21.9 554.7h4.1v1.8h-4.1zM25.9 561.8h4.1v1.8h-4.1zM17.9 572.5h4.1v1.8h-4.1zM21.9 572.5h4.1v1.8h-4.1zM13.8 588.5h4.1v1.8h-4.1zM13.8 595.7h4.1v1.8h-4.1zM21.9 595.7h4.1v1.8h-4.1zM21.9 609.9h4.1v1.8h-4.1zM25.9 609.9h4.1v1.8h-4.1zM25.9 617.0h4.1v1.8h-4.1zM47.9 531.5h4.2v1.8h-4.2zM35.5 551.1h4.2v1.8h-4.2zM39.6 554.7h4.2v1.8h-4.2zM35.5 556.5h4.2v1.8h-4.2zM39.6 556.5h4.2v1.8h-4.2zM39.6 558.3h4.2v1.8h-4.2zM31.4 560.0h4.2v1.8h-4.2zM43.8 560.0h4.2v1.8h-4.2zM35.5 561.8h4.2v1.8h-4.2zM43.8 567.2h4.2v1.8h-4.2zM43.8 570.7h4.2v1.8h-4.2zM47.9 572.5h4.2v1.8h-4.2zM35.5 574.3h4.2v1.8h-4.2zM31.4 576.1h4.2v1.8h-4.2zM39.6 576.1h4.2v1.8h-4.2zM43.8 577.9h4.2v1.8h-4.2zM31.4 583.2h4.2v1.8h-4.2zM43.8 588.5h4.2v1.8h-4.2zM31.4 601.0h4.2v1.8h-4.2zM35.5 601.0h4.2v1.8h-4.2zM43.8 604.6h4.2v1.8h-4.2zM47.9 608.1h4.2v1.8h-4.2zM43.8 613.5h4.2v1.8h-4.2zM35.5 617.0h4.2v1.8h-4.2zM74.4 528.0h4.1v1.8h-4.1zM90.7 535.1h4.1v1.8h-4.1zM74.4 544.0h4.1v1.8h-4.1zM74.4 552.9h4.1v1.8h-4.1zM74.4 561.8h4.1v1.8h-4.1zM78.5 572.5h4.1v1.8h-4.1zM90.7 579.6h4.1v1.8h-4.1zM74.4 581.4h4.1v1.8h-4.1zM82.6 588.5h4.1v1.8h-4.1zM82.6 592.1h4.1v1.8h-4.1zM74.4 599.2h4.1v1.8h-4.1zM86.6 601.0h4.1v1.8h-4.1zM90.7 617.0h4.1v1.8h-4.1zM124.5 565.7h4.0v1.8h-4.0zM167.5 507.1h4.1v1.8h-4.1zM175.7 530.2h4.1v1.8h-4.1zM167.5 535.5h4.1v1.8h-4.1zM175.7 540.8h4.1v1.8h-4.1zM175.7 542.6h4.1v1.8h-4.1zM159.3 547.9h4.1v1.8h-4.1zM163.4 547.9h4.1v1.8h-4.1zM175.7 547.9h4.1v1.8h-4.1zM175.7 565.7h4.1v1.8h-4.1zM163.4 569.2h4.1v1.8h-4.1zM163.4 574.6h4.1v1.8h-4.1zM167.5 583.4h4.1v1.8h-4.1zM167.5 585.2h4.1v1.8h-4.1zM171.6 594.1h4.1v1.8h-4.1zM159.3 595.9h4.1v1.8h-4.1zM163.4 604.7h4.1v1.8h-4.1zM175.7 604.7h4.1v1.8h-4.1zM171.6 608.3h4.1v1.8h-4.1zM175.7 608.3h4.1v1.8h-4.1zM159.3 610.1h4.1v1.8h-4.1zM163.4 610.1h4.1v1.8h-4.1zM171.6 610.1h4.1v1.8h-4.1zM175.7 610.1h4.1v1.8h-4.1zM171.6 611.8h4.1v1.8h-4.1zM181.0 532.0h4.1v1.8h-4.1zM185.0 571.0h4.1v1.8h-4.1zM197.1 611.8h4.1v1.8h-4.1zM273.0 508.9h7.1v5.2h-7.1zM266.0 519.2h7.1v5.2h-7.1zM273.0 524.3h7.1v5.2h-7.1zM280.1 524.3h7.1v5.2h-7.1zM266.0 529.5h7.1v5.2h-7.1zM273.0 560.2h7.1v5.2h-7.1zM288.9 596.1h7.1v5.2h-7.1zM295.9 596.1h7.1v5.2h-7.1zM302.9 596.1h7.1v5.2h-7.1zM310.0 596.1h7.1v5.2h-7.1zM317.0 596.1h7.1v5.2h-7.1zM295.9 601.3h7.1v5.2h-7.1zM317.0 601.3h7.1v5.2h-7.1zM288.9 606.4h7.1v5.2h-7.1zM302.9 606.4h7.1v5.2h-7.1zM310.0 606.4h7.1v5.2h-7.1zM288.9 611.5h7.1v5.2h-7.1zM295.9 611.5h7.1v5.2h-7.1zM302.9 616.7h7.1v5.2h-7.1zM310.0 621.8h7.1v5.2h-7.1zM302.9 626.9h7.1v5.2h-7.1zM288.9 632.0h7.1v5.2h-7.1zM288.9 642.3h7.1v5.2h-7.1zM302.9 642.3h7.1v5.2h-7.1zM302.9 647.4h7.1v5.2h-7.1zM310.0 652.6h7.1v5.2h-7.1zM339.8 519.2h7.0v5.2h-7.0zM325.9 524.3h7.0v5.2h-7.0zM325.9 555.1h7.0v5.2h-7.0zM325.9 626.9h7.0v5.2h-7.0zM325.9 632.0h7.0v5.2h-7.0zM332.9 632.0h7.0v5.2h-7.0zM325.9 637.2h7.0v5.2h-7.0zM325.9 642.3h7.0v5.2h-7.0zM348.6 503.8h7.0v5.2h-7.0zM362.5 565.4h7.0v5.2h-7.0zM362.5 570.5h7.0v5.2h-7.0zM355.5 591.0h7.0v5.2h-7.0zM362.5 601.3h7.0v5.2h-7.0zM348.6 611.5h7.0v5.2h-7.0z"/>
<path fill="#d65851" d="M290.3 324.3h4.0v1.3h-4.0zM294.2 324.3h4.0v1.3h-4.0zM306.1 324.3h4.0v1.3h-4.0zM298.2 337.2h4.0v1.3h-4.0zM302.1 337.2h4.0v1.3h-4.0zM302.1 366.9h4.0v1.3h-4.0zM294.2 368.1h4.0v1.3h-4.0zM302.1 410.7h4.0v1.3h-4.0zM294.2 412.0h4.0v1.3h-4.0zM294.2 414.6h4.0v1.3h-4.0zM306.1 433.9h4.0v1.3h-4.0zM311.6 324.3h4.0v1.3h-4.0zM323.5 324.3h4.0v1.3h-4.0zM323.5 325.6h4.0v1.3h-4.0zM315.6 329.4h4.0v1.3h-4.0zM311.6 330.7h4.0v1.3h-4.0zM323.5 334.6h4.0v1.3h-4.0zM315.6 339.8h4.0v1.3h-4.0zM319.6 343.6h4.0v1.3h-4.0zM319.6 346.2h4.0v1.3h-4.0zM323.5 346.2h4.0v1.3h-4.0zM311.6 350.1h4.0v1.3h-4.0zM327.5 351.4h4.0v1.3h-4.0zM327.5 352.7h4.0v1.3h-4.0zM315.6 354.0h4.0v1.3h-4.0zM327.5 360.4h4.0v1.3h-4.0zM327.5 361.7h4.0v1.3h-4.0zM327.5 363.0h4.0v1.3h-4.0zM311.6 368.1h4.0v1.3h-4.0zM323.5 369.4h4.0v1.3h-4.0zM311.6 370.7h4.0v1.3h-4.0zM319.6 370.7h4.0v1.3h-4.0zM323.5 370.7h4.0v1.3h-4.0zM319.6 374.6h4.0v1.3h-4.0zM327.5 377.2h4.0v1.3h-4.0zM319.6 379.8h4.0v1.3h-4.0zM311.6 381.0h4.0v1.3h-4.0zM323.5 381.0h4.0v1.3h-4.0zM315.6 383.6h4.0v1.3h-4.0zM319.6 383.6h4.0v1.3h-4.0zM315.6 388.8h4.0v1.3h-4.0zM327.5 390.1h4.0v1.3h-4.0zM327.5 395.2h4.0v1.3h-4.0zM311.6 399.1h4.0v1.3h-4.0zM311.6 401.7h4.0v1.3h-4.0zM323.5 405.5h4.0v1.3h-4.0zM315.6 409.4h4.0v1.3h-4.0zM319.6 415.9h4.0v1.3h-4.0zM315.6 432.6h4.0v1.3h-4.0zM327.5 433.9h4.0v1.3h-4.0zM327.5 435.2h4.0v1.3h-4.0zM372.0 330.7h4.0v1.3h-4.0zM368.0 333.3h4.0v1.3h-4.0zM372.0 333.3h4.0v1.3h-4.0zM360.0 337.2h4.0v1.3h-4.0zM372.0 337.2h4.0v1.3h-4.0zM364.0 339.8h4.0v1.3h-4.0zM368.0 343.6h4.0v1.3h-4.0zM360.0 348.8h4.0v1.3h-4.0zM360.0 364.3h4.0v1.3h-4.0zM364.0 364.3h4.0v1.3h-4.0zM372.0 365.6h4.0v1.3h-4.0zM372.0 384.9h4.0v1.3h-4.0zM364.0 414.6h4.0v1.3h-4.0zM17.9 528.0h4.1v1.8h-4.1zM21.9 551.1h4.1v1.8h-4.1zM21.9 563.6h4.1v1.8h-4.1zM43.8 515.5h4.2v1.8h-4.2zM47.9 515.5h4.2v1.8h-4.2zM35.5 524.4h4.2v1.8h-4.2zM47.9 526.2h4.2v1.8h-4.2zM39.6 529.8h4.2v1.8h-4.2zM43.8 531.5h4.2v1.8h-4.2zM31.4 535.1h4.2v1.8h-4.2zM39.6 540.4h4.2v1.8h-4.2zM47.9 544.0h4.2v1.8h-4.2zM43.8 583.2h4.2v1.8h-4.2zM39.6 585.0h4.2v1.8h-4.2zM35.5 597.4h4.2v1.8h-4.2zM43.8 602.8h4.2v1.8h-4.2zM47.9 611.7h4.2v1.8h-4.2zM163.4 510.7h4.1v1.8h-4.1zM159.3 519.5h4.1v1.8h-4.1zM163.4 535.5h4.1v1.8h-4.1zM159.3 537.3h4.1v1.8h-4.1zM167.5 549.7h4.1v1.8h-4.1zM167.5 551.5h4.1v1.8h-4.1zM163.4 562.1h4.1v1.8h-4.1zM163.4 567.5h4.1v1.8h-4.1zM163.4 571.0h4.1v1.8h-4.1zM167.5 574.6h4.1v1.8h-4.1zM163.4 590.5h4.1v1.8h-4.1zM163.4 592.3h4.1v1.8h-4.1zM163.4 601.2h4.1v1.8h-4.1zM280.1 534.6h7.1v5.2h-7.1zM295.9 570.5h7.1v5.2h-7.1zM325.9 560.2h7.0v5.2h-7.0z"/>
<path fill="#d86059" d="M298.2 324.3h4.0v1.3h-4.0zM290.3 368.1h4.0v1.3h-4.0zM290.3 372.0h4.0v1.3h-4.0zM294.2 372.0h4.0v1.3h-4.0zM290.3 387.5h4.0v1.3h-4.0zM302.1 388.8h4.0v1.3h-4.0zM290.3 404.3h4.0v1.3h-4.0zM302.1 409.4h4.0v1.3h-4.0zM290.3 415.9h4.0v1.3h-4.0zM294.2 415.9h4.0v1.3h-4.0zM290.3 417.2h4.0v1.3h-4.0zM302.1 417.2h4.0v1.3h-4.0zM306.1 421.0h4.0v1.3h-4.0zM306.1 422.3h4.0v1.3h-4.0zM290.3 426.2h4.0v1.3h-4.0zM294.2 430.1h4.0v1.3h-4.0zM294.2 431.3h4.0v1.3h-4.0zM302.1 431.3h4.0v1.3h-4.0zM323.5 323.0h4.0v1.3h-4.0zM311.6 325.6h4.0v1.3h-4.0zM315.6 325.6h4.0v1.3h-4.0zM319.6 330.7h4.0v1.3h-4.0zM323.5 330.7h4.0v1.3h-4.0zM315.6 334.6h4.0v1.3h-4.0zM327.5 334.6h4.0v1.3h-4.0zM319.6 339.8h4.0v1.3h-4.0zM311.6 354.0h4.0v1.3h-4.0zM315.6 355.2h4.0v1.3h-4.0zM323.5 355.2h4.0v1.3h-4.0zM319.6 372.0h4.0v1.3h-4.0zM327.5 374.6h4.0v1.3h-4.0zM315.6 375.9h4.0v1.3h-4.0zM315.6 378.5h4.0v1.3h-4.0zM327.5 378.5h4.0v1.3h-4.0zM311.6 379.8h4.0v1.3h-4.0zM311.6 382.3h4.0v1.3h-4.0zM311.6 384.9h4.0v1.3h-4.0zM311.6 388.8h4.0v1.3h-4.0zM327.5 388.8h4.0v1.3h-4.0zM319.6 390.1h4.0v1.3h-4.0zM315.6 396.5h4.0v1.3h-4.0zM315.6 397.8h4.0v1.3h-4.0zM315.6 399.1h4.0v1.3h-4.0zM315.6 401.7h4.0v1.3h-4.0zM327.5 401.7h4.0v1.3h-4.0zM315.6 405.5h4.0v1.3h-4.0zM311.6 406.8h4.0v1.3h-4.0zM319.6 410.7h4.0v1.3h-4.0zM315.6 414.6h4.0v1.3h-4.0zM327.5 414.6h4.0v1.3h-4.0zM327.5 427.5h4.0v1.3h-4.0zM327.5 428.8h4.0v1.3h-4.0zM368.0 325.6h4.0v1.3h-4.0zM364.0 337.2h4.0v1.3h-4.0zM364.0 348.8h4.0v1.3h-4.0zM368.0 351.4h4.0v1.3h-4.0zM372.0 351.4h4.0v1.3h-4.0zM364.0 354.0h4.0v1.3h-4.0zM360.0 355.2h4.0v1.3h-4.0zM360.0 359.1h4.0v1.3h-4.0zM364.0 359.1h4.0v1.3h-4.0zM368.0 366.9h4.0v1.3h-4.0zM368.0 384.9h4.0v1.3h-4.0zM368.0 388.8h4.0v1.3h-4.0zM360.0 414.6h4.0v1.3h-4.0zM360.0 427.5h4.0v1.3h-4.0zM25.9 547.6h4.1v1.8h-4.1zM17.9 549.4h4.1v1.8h-4.1zM25.9 567.2h4.1v1.8h-4.1zM13.8 576.1h4.1v1.8h-4.1zM17.9 583.2h4.1v1.8h-4.1zM17.9 609.9h4.1v1.8h-4.1zM43.8 506.6h4.2v1.8h-4.2zM31.4 526.2h4.2v1.8h-4.2zM47.9 529.8h4.2v1.8h-4.2zM35.5 531.5h4.2v1.8h-4.2zM35.5 533.3h4.2v1.8h-4.2zM47.9 533.3h4.2v1.8h-4.2zM47.9 535.1h4.2v1.8h-4.2zM47.9 551.1h4.2v1.8h-4.2zM31.4 554.7h4.2v1.8h-4.2zM47.9 554.7h4.2v1.8h-4.2zM31.4 567.2h4.2v1.8h-4.2zM35.5 579.6h4.2v1.8h-4.2zM47.9 581.4h4.2v1.8h-4.2zM35.5 583.2h4.2v1.8h-4.2zM43.8 586.8h4.2v1.8h-4.2zM39.6 593.9h4.2v1.8h-4.2zM39.6 597.4h4.2v1.8h-4.2zM35.5 599.2h4.2v1.8h-4.2zM43.8 599.2h4.2v1.8h-4.2zM35.5 608.1h4.2v1.8h-4.2zM31.4 611.7h4.2v1.8h-4.2zM175.7 512.4h4.1v1.8h-4.1zM159.3 514.2h4.1v1.8h-4.1zM159.3 524.9h4.1v1.8h-4.1zM175.7 524.9h4.1v1.8h-4.1zM175.7 533.7h4.1v1.8h-4.1zM159.3 535.5h4.1v1.8h-4.1zM175.7 537.3h4.1v1.8h-4.1zM163.4 539.1h4.1v1.8h-4.1zM159.3 542.6h4.1v1.8h-4.1zM175.7 546.2h4.1v1.8h-4.1zM175.7 553.2h4.1v1.8h-4.1zM159.3 555.0h4.1v1.8h-4.1zM167.5 556.8h4.1v1.8h-4.1zM159.3 569.2h4.1v1.8h-4.1zM159.3 581.7h4.1v1.8h-4.1zM167.5 588.8h4.1v1.8h-4.1zM171.6 588.8h4.1v1.8h-4.1zM175.7 601.2h4.1v1.8h-4.1zM159.3 606.5h4.1v1.8h-4.1zM175.7 611.8h4.1v1.8h-4.1zM167.5 615.4h4.1v1.8h-4.1z"/>
<path fill="#d14138" d="M302.1 324.3h4.0v1.3h-4.0zM302.1 363.0h4.0v1.3h-4.0zM306.1 404.3h4.0v1.3h-4.0zM298.2 410.7h4.0v1.3h-4.0zM306.1 417.2h4.0v1.3h-4.0zM294.2 424.9h4.0v1.3h-4.0zM302.1 424.9h4.0v1.3h-4.0zM294.2 433.9h4.0v1.3h-4.0zM319.6 325.6h4.0v1.3h-4.0zM327.5 333.3h4.0v1.3h-4.0zM327.5 337.2h4.0v1.3h-4.0zM311.6 338.5h4.0v1.3h-4.0zM323.5 339.8h4.0v1.3h-4.0zM311.6 343.6h4.0v1.3h-4.0zM315.6 343.6h4.0v1.3h-4.0zM327.5 343.6h4.0v1.3h-4.0zM327.5 347.5h4.0v1.3h-4.0zM311.6 348.8h4.0v1.3h-4.0zM315.6 348.8h4.0v1.3h-4.0zM319.6 350.1h4.0v1.3h-4.0zM323.5 350.1h4.0v1.3h-4.0zM323.5 354.0h4.0v1.3h-4.0zM319.6 356.5h4.0v1.3h-4.0zM315.6 361.7h4.0v1.3h-4.0zM323.5 368.1h4.0v1.3h-4.0zM319.6 369.4h4.0v1.3h-4.0zM311.6 378.5h4.0v1.3h-4.0zM323.5 379.8h4.0v1.3h-4.0zM319.6 382.3h4.0v1.3h-4.0zM327.5 382.3h4.0v1.3h-4.0zM319.6 384.9h4.0v1.3h-4.0zM319.6 391.4h4.0v1.3h-4.0zM319.6 392.6h4.0v1.3h-4.0zM311.6 395.2h4.0v1.3h-4.0zM315.6 395.2h4.0v1.3h-4.0zM311.6 396.5h4.0v1.3h-4.0zM323.5 396.5h4.0v1.3h-4.0zM327.5 399.1h4.0v1.3h-4.0zM319.6 433.9h4.0v1.3h-4.0zM368.0 339.8h4.0v1.3h-4.0zM360.0 341.1h4.0v1.3h-4.0zM368.0 342.3h4.0v1.3h-4.0zM372.0 344.9h4.0v1.3h-4.0zM368.0 354.0h4.0v1.3h-4.0zM372.0 357.8h4.0v1.3h-4.0zM25.9 551.1h4.1v1.8h-4.1zM43.8 511.9h4.2v1.8h-4.2zM35.5 513.7h4.2v1.8h-4.2zM35.5 515.5h4.2v1.8h-4.2zM39.6 522.6h4.2v1.8h-4.2zM31.4 563.6h4.2v1.8h-4.2zM175.7 510.7h4.1v1.8h-4.1zM175.7 517.8h4.1v1.8h-4.1zM171.6 523.1h4.1v1.8h-4.1zM175.7 523.1h4.1v1.8h-4.1zM171.6 526.6h4.1v1.8h-4.1zM163.4 533.7h4.1v1.8h-4.1zM171.6 553.2h4.1v1.8h-4.1zM163.4 555.0h4.1v1.8h-4.1zM159.3 556.8h4.1v1.8h-4.1zM163.4 558.6h4.1v1.8h-4.1zM175.7 558.6h4.1v1.8h-4.1zM175.7 562.1h4.1v1.8h-4.1zM159.3 585.2h4.1v1.8h-4.1zM159.3 615.4h4.1v1.8h-4.1z"/>
<path fill="#e2908c" d="M290.3 325.6h4.0v1.3h-4.0zM290.3 328.2h4.0v1.3h-4.0zM306.1 329.4h4.0v1.3h-4.0zM298.2 330.7h4.0v1.3h-4.0zM306.1 332.0h4.0v1.3h-4.0zM306.1 339.8h4.0v1.3h-4.0zM294.2 341.1h4.0v1.3h-4.0zM294.2 347.5h4.0v1.3h-4.0zM306.1 351.4h4.0v1.3h-4.0zM294.2 354.0h4.0v1.3h-4.0zM302.1 354.0h4.0v1.3h-4.0zM294.2 356.5h4.0v1.3h-4.0zM306.1 356.5h4.0v1.3h-4.0zM302.1 365.6h4.0v1.3h-4.0zM298.2 379.8h4.0v1.3h-4.0zM290.3 391.4h4.0v1.3h-4.0zM302.1 391.4h4.0v1.3h-4.0zM290.3 395.2h4.0v1.3h-4.0zM302.1 397.8h4.0v1.3h-4.0zM290.3 408.1h4.0v1.3h-4.0zM294.2 408.1h4.0v1.3h-4.0zM294.2 413.3h4.0v1.3h-4.0zM298.2 417.2h4.0v1.3h-4.0zM298.2 426.2h4.0v1.3h-4.0zM306.1 428.8h4.0v1.3h-4.0zM294.2 432.6h4.0v1.3h-4.0zM302.1 432.6h4.0v1.3h-4.0zM327.5 326.9h4.0v1.3h-4.0zM311.6 332.0h4.0v1.3h-4.0zM315.6 342.3h4.0v1.3h-4.0zM315.6 373.3h4.0v1.3h-4.0zM319.6 400.4h4.0v1.3h-4.0zM323.5 400.4h4.0v1.3h-4.0zM319.6 403.0h4.0v1.3h-4.0zM315.6 408.1h4.0v1.3h-4.0zM315.6 412.0h4.0v1.3h-4.0zM319.6 412.0h4.0v1.3h-4.0zM315.6 417.2h4.0v1.3h-4.0zM319.6 417.2h4.0v1.3h-4.0zM323.5 417.2h4.0v1.3h-4.0zM311.6 418.4h4.0v1.3h-4.0zM319.6 418.4h4.0v1.3h-4.0zM315.6 422.3h4.0v1.3h-4.0zM319.6 422.3h4.0v1.3h-4.0zM315.6 423.6h4.0v1.3h-4.0zM311.6 424.9h4.0v1.3h-4.0zM319.6 424.9h4.0v1.3h-4.0zM323.5 426.2h4.0v1.3h-4.0zM315.6 430.1h4.0v1.3h-4.0zM315.6 431.3h4.0v1.3h-4.0zM372.0 323.0h4.0v1.3h-4.0zM368.0 324.3h4.0v1.3h-4.0zM368.0 332.0h4.0v1.3h-4.0zM360.0 343.6h4.0v1.3h-4.0zM360.0 344.9h4.0v1.3h-4.0zM360.0 346.2h4.0v1.3h-4.0zM364.0 346.2h4.0v1.3h-4.0zM364.0 350.1h4.0v1.3h-4.0zM360.0 356.5h4.0v1.3h-4.0zM368.0 359.1h4.0v1.3h-4.0zM364.0 365.6h4.0v1.3h-4.0zM368.0 375.9h4.0v1.3h-4.0zM364.0 386.2h4.0v1.3h-4.0zM364.0 388.8h4.0v1.3h-4.0zM372.0 395.2h4.0v1.3h-4.0zM360.0 405.5h4.0v1.3h-4.0zM360.0 422.3h4.0v1.3h-4.0zM372.0 422.3h4.0v1.3h-4.0zM360.0 428.8h4.0v1.3h-4.0zM381.3 386.2h4.1v1.3h-4.1zM377.2 391.4h4.1v1.3h-4.1zM381.3 409.4h4.1v1.3h-4.1zM377.2 412.0h4.1v1.3h-4.1zM385.4 412.0h4.1v1.3h-4.1zM393.6 412.0h4.1v1.3h-4.1zM389.5 423.6h4.1v1.3h-4.1zM21.9 519.1h4.1v1.8h-4.1zM13.8 524.4h4.1v1.8h-4.1zM17.9 526.2h4.1v1.8h-4.1zM17.9 529.8h4.1v1.8h-4.1zM21.9 529.8h4.1v1.8h-4.1zM17.9 535.1h4.1v1.8h-4.1zM17.9 542.2h4.1v1.8h-4.1zM13.8 545.8h4.1v1.8h-4.1zM13.8 551.1h4.1v1.8h-4.1zM21.9 556.5h4.1v1.8h-4.1zM25.9 570.7h4.1v1.8h-4.1zM21.9 574.3h4.1v1.8h-4.1zM25.9 576.1h4.1v1.8h-4.1zM25.9 579.6h4.1v1.8h-4.1zM13.8 592.1h4.1v1.8h-4.1zM25.9 595.7h4.1v1.8h-4.1zM21.9 601.0h4.1v1.8h-4.1zM43.8 536.9h4.2v1.8h-4.2zM39.6 549.4h4.2v1.8h-4.2zM31.4 551.1h4.2v1.8h-4.2zM39.6 565.4h4.2v1.8h-4.2zM43.8 565.4h4.2v1.8h-4.2zM39.6 570.7h4.2v1.8h-4.2zM43.8 574.3h4.2v1.8h-4.2zM47.9 574.3h4.2v1.8h-4.2zM31.4 581.4h4.2v1.8h-4.2zM43.8 593.9h4.2v1.8h-4.2zM31.4 595.7h4.2v1.8h-4.2zM47.9 602.8h4.2v1.8h-4.2zM35.5 604.6h4.2v1.8h-4.2zM47.9 604.6h4.2v1.8h-4.2zM39.6 609.9h4.2v1.8h-4.2zM39.6 617.0h4.2v1.8h-4.2zM47.9 617.0h4.2v1.8h-4.2zM74.4 533.3h4.1v1.8h-4.1zM90.7 538.7h4.1v1.8h-4.1zM82.6 551.1h4.1v1.8h-4.1zM90.7 590.3h4.1v1.8h-4.1zM74.4 592.1h4.1v1.8h-4.1zM78.5 599.2h4.1v1.8h-4.1zM86.6 608.1h4.1v1.8h-4.1zM171.6 507.1h4.1v1.8h-4.1zM163.4 514.2h4.1v1.8h-4.1zM163.4 516.0h4.1v1.8h-4.1zM159.3 517.8h4.1v1.8h-4.1zM167.5 533.7h4.1v1.8h-4.1zM159.3 540.8h4.1v1.8h-4.1zM159.3 546.2h4.1v1.8h-4.1zM163.4 553.2h4.1v1.8h-4.1zM171.6 565.7h4.1v1.8h-4.1zM163.4 576.3h4.1v1.8h-4.1zM163.4 578.1h4.1v1.8h-4.1zM171.6 581.7h4.1v1.8h-4.1zM175.7 581.7h4.1v1.8h-4.1zM163.4 583.4h4.1v1.8h-4.1zM159.3 587.0h4.1v1.8h-4.1zM171.6 587.0h4.1v1.8h-4.1zM159.3 599.4h4.1v1.8h-4.1zM163.4 599.4h4.1v1.8h-4.1zM163.4 611.8h4.1v1.8h-4.1zM163.4 617.2h4.1v1.8h-4.1zM175.7 617.2h4.1v1.8h-4.1zM181.0 555.0h4.1v1.8h-4.1zM310.0 642.3h7.1v5.2h-7.1z"/>
<path fill="#e08884" d="M294.2 325.6h4.0v1.3h-4.0zM294.2 328.2h4.0v1.3h-4.0zM290.3 330.7h4.0v1.3h-4.0zM306.1 330.7h4.0v1.3h-4.0zM294.2 335.9h4.0v1.3h-4.0zM306.1 335.9h4.0v1.3h-4.0zM290.3 341.1h4.0v1.3h-4.0zM302.1 341.1h4.0v1.3h-4.0zM294.2 343.6h4.0v1.3h-4.0zM306.1 343.6h4.0v1.3h-4.0zM302.1 346.2h4.0v1.3h-4.0zM306.1 346.2h4.0v1.3h-4.0zM290.3 354.0h4.0v1.3h-4.0zM302.1 355.2h4.0v1.3h-4.0zM290.3 356.5h4.0v1.3h-4.0zM302.1 360.4h4.0v1.3h-4.0zM290.3 365.6h4.0v1.3h-4.0zM290.3 375.9h4.0v1.3h-4.0zM306.1 375.9h4.0v1.3h-4.0zM302.1 379.8h4.0v1.3h-4.0zM306.1 381.0h4.0v1.3h-4.0zM298.2 387.5h4.0v1.3h-4.0zM294.2 391.4h4.0v1.3h-4.0zM294.2 393.9h4.0v1.3h-4.0zM298.2 393.9h4.0v1.3h-4.0zM302.1 393.9h4.0v1.3h-4.0zM302.1 395.2h4.0v1.3h-4.0zM298.2 396.5h4.0v1.3h-4.0zM306.1 396.5h4.0v1.3h-4.0zM306.1 401.7h4.0v1.3h-4.0zM298.2 408.1h4.0v1.3h-4.0zM298.2 414.6h4.0v1.3h-4.0zM298.2 418.4h4.0v1.3h-4.0zM290.3 419.7h4.0v1.3h-4.0zM302.1 419.7h4.0v1.3h-4.0zM290.3 421.0h4.0v1.3h-4.0zM302.1 422.3h4.0v1.3h-4.0zM306.1 423.6h4.0v1.3h-4.0zM302.1 427.5h4.0v1.3h-4.0zM294.2 428.8h4.0v1.3h-4.0zM302.1 428.8h4.0v1.3h-4.0zM327.5 325.6h4.0v1.3h-4.0zM319.6 329.4h4.0v1.3h-4.0zM323.5 329.4h4.0v1.3h-4.0zM327.5 332.0h4.0v1.3h-4.0zM315.6 335.9h4.0v1.3h-4.0zM327.5 335.9h4.0v1.3h-4.0zM327.5 341.1h4.0v1.3h-4.0zM311.6 356.5h4.0v1.3h-4.0zM323.5 364.3h4.0v1.3h-4.0zM323.5 377.2h4.0v1.3h-4.0zM315.6 386.2h4.0v1.3h-4.0zM319.6 406.8h4.0v1.3h-4.0zM323.5 408.1h4.0v1.3h-4.0zM311.6 412.0h4.0v1.3h-4.0zM323.5 418.4h4.0v1.3h-4.0zM327.5 418.4h4.0v1.3h-4.0zM311.6 419.7h4.0v1.3h-4.0zM323.5 424.9h4.0v1.3h-4.0zM319.6 427.5h4.0v1.3h-4.0zM323.5 430.1h4.0v1.3h-4.0zM311.6 431.3h4.0v1.3h-4.0zM372.0 335.9h4.0v1.3h-4.0zM372.0 338.5h4.0v1.3h-4.0zM360.0 342.3h4.0v1.3h-4.0zM364.0 344.9h4.0v1.3h-4.0zM360.0 347.5h4.0v1.3h-4.0zM372.0 350.1h4.0v1.3h-4.0zM368.0 356.5h4.0v1.3h-4.0zM360.0 365.6h4.0v1.3h-4.0zM368.0 365.6h4.0v1.3h-4.0zM364.0 374.6h4.0v1.3h-4.0zM368.0 374.6h4.0v1.3h-4.0zM364.0 375.9h4.0v1.3h-4.0zM360.0 377.2h4.0v1.3h-4.0zM368.0 377.2h4.0v1.3h-4.0zM360.0 379.8h4.0v1.3h-4.0zM360.0 386.2h4.0v1.3h-4.0zM368.0 392.6h4.0v1.3h-4.0zM360.0 409.4h4.0v1.3h-4.0zM368.0 409.4h4.0v1.3h-4.0zM364.0 428.8h4.0v1.3h-4.0zM377.2 423.6h4.1v1.3h-4.1zM17.9 510.2h4.1v1.8h-4.1zM13.8 515.5h4.1v1.8h-4.1zM13.8 529.8h4.1v1.8h-4.1zM21.9 531.5h4.1v1.8h-4.1zM13.8 538.7h4.1v1.8h-4.1zM21.9 544.0h4.1v1.8h-4.1zM25.9 545.8h4.1v1.8h-4.1zM17.9 547.6h4.1v1.8h-4.1zM17.9 551.1h4.1v1.8h-4.1zM13.8 552.9h4.1v1.8h-4.1zM17.9 576.1h4.1v1.8h-4.1zM17.9 592.1h4.1v1.8h-4.1zM21.9 592.1h4.1v1.8h-4.1zM25.9 592.1h4.1v1.8h-4.1zM21.9 602.8h4.1v1.8h-4.1zM25.9 606.4h4.1v1.8h-4.1zM39.6 506.6h4.2v1.8h-4.2zM39.6 508.4h4.2v1.8h-4.2zM43.8 508.4h4.2v1.8h-4.2zM31.4 519.1h4.2v1.8h-4.2zM35.5 544.0h4.2v1.8h-4.2zM31.4 552.9h4.2v1.8h-4.2zM35.5 554.7h4.2v1.8h-4.2zM47.9 558.3h4.2v1.8h-4.2zM31.4 561.8h4.2v1.8h-4.2zM35.5 567.2h4.2v1.8h-4.2zM39.6 568.9h4.2v1.8h-4.2zM47.9 568.9h4.2v1.8h-4.2zM31.4 574.3h4.2v1.8h-4.2zM43.8 576.1h4.2v1.8h-4.2zM47.9 576.1h4.2v1.8h-4.2zM31.4 577.9h4.2v1.8h-4.2zM39.6 577.9h4.2v1.8h-4.2zM39.6 579.6h4.2v1.8h-4.2zM35.5 581.4h4.2v1.8h-4.2zM47.9 590.3h4.2v1.8h-4.2zM35.5 593.9h4.2v1.8h-4.2zM47.9 593.9h4.2v1.8h-4.2zM47.9 609.9h4.2v1.8h-4.2zM39.6 611.7h4.2v1.8h-4.2zM39.6 615.3h4.2v1.8h-4.2zM43.8 615.3h4.2v1.8h-4.2zM31.4 618.8h4.2v1.8h-4.2zM35.5 618.8h4.2v1.8h-4.2zM78.5 528.0h4.1v1.8h-4.1zM90.7 528.0h4.1v1.8h-4.1zM86.6 540.4h4.1v1.8h-4.1zM74.4 542.2h4.1v1.8h-4.1zM78.5 552.9h4.1v1.8h-4.1zM90.7 552.9h4.1v1.8h-4.1zM90.7 561.8h4.1v1.8h-4.1zM175.7 508.9h4.1v1.8h-4.1zM171.6 540.8h4.1v1.8h-4.1zM167.5 547.9h4.1v1.8h-4.1zM159.3 549.7h4.1v1.8h-4.1zM163.4 549.7h4.1v1.8h-4.1zM171.6 549.7h4.1v1.8h-4.1zM175.7 569.2h4.1v1.8h-4.1zM175.7 576.3h4.1v1.8h-4.1zM167.5 579.9h4.1v1.8h-4.1zM175.7 583.4h4.1v1.8h-4.1zM159.3 592.3h4.1v1.8h-4.1zM171.6 595.9h4.1v1.8h-4.1zM159.3 611.8h4.1v1.8h-4.1zM163.4 613.6h4.1v1.8h-4.1zM175.7 613.6h4.1v1.8h-4.1zM171.6 617.2h4.1v1.8h-4.1zM189.0 571.0h4.1v1.8h-4.1zM193.1 571.0h4.1v1.8h-4.1zM258.9 503.8h7.1v5.2h-7.1zM258.9 508.9h7.1v5.2h-7.1zM266.0 508.9h7.1v5.2h-7.1zM280.1 519.2h7.1v5.2h-7.1zM266.0 524.3h7.1v5.2h-7.1zM280.1 529.5h7.1v5.2h-7.1zM288.9 585.9h7.1v5.2h-7.1zM317.0 585.9h7.1v5.2h-7.1zM302.9 621.8h7.1v5.2h-7.1zM302.9 632.0h7.1v5.2h-7.1zM332.9 529.5h7.0v5.2h-7.0zM339.8 529.5h7.0v5.2h-7.0zM332.9 544.8h7.0v5.2h-7.0zM325.9 550.0h7.0v5.2h-7.0zM332.9 555.1h7.0v5.2h-7.0zM325.9 652.6h7.0v5.2h-7.0zM362.5 585.9h7.0v5.2h-7.0z"/>
<path fill="#de7f7b" d="M294.2 330.7h4.0v1.3h-4.0zM302.1 334.6h4.0v1.3h-4.0zM290.3 337.2h4.0v1.3h-4.0zM306.1 341.1h4.0v1.3h-4.0zM298.2 343.6h4.0v1.3h-4.0zM302.1 343.6h4.0v1.3h-4.0zM290.3 350.1h4.0v1.3h-4.0zM302.1 350.1h4.0v1.3h-4.0zM290.3 352.7h4.0v1.3h-4.0zM306.1 354.0h4.0v1.3h-4.0zM298.2 356.5h4.0v1.3h-4.0zM290.3 357.8h4.0v1.3h-4.0zM302.1 357.8h4.0v1.3h-4.0zM302.1 359.1h4.0v1.3h-4.0zM302.1 361.7h4.0v1.3h-4.0zM306.1 364.3h4.0v1.3h-4.0zM290.3 366.9h4.0v1.3h-4.0zM306.1 372.0h4.0v1.3h-4.0zM302.1 375.9h4.0v1.3h-4.0zM290.3 378.5h4.0v1.3h-4.0zM294.2 378.5h4.0v1.3h-4.0zM290.3 379.8h4.0v1.3h-4.0zM298.2 383.6h4.0v1.3h-4.0zM306.1 383.6h4.0v1.3h-4.0zM290.3 384.9h4.0v1.3h-4.0zM290.3 388.8h4.0v1.3h-4.0zM306.1 388.8h4.0v1.3h-4.0zM294.2 392.6h4.0v1.3h-4.0zM290.3 393.9h4.0v1.3h-4.0zM302.1 400.4h4.0v1.3h-4.0zM294.2 404.3h4.0v1.3h-4.0zM290.3 412.0h4.0v1.3h-4.0zM298.2 412.0h4.0v1.3h-4.0zM302.1 412.0h4.0v1.3h-4.0zM306.1 415.9h4.0v1.3h-4.0zM290.3 422.3h4.0v1.3h-4.0zM302.1 426.2h4.0v1.3h-4.0zM290.3 427.5h4.0v1.3h-4.0zM290.3 430.1h4.0v1.3h-4.0zM302.1 430.1h4.0v1.3h-4.0zM315.6 323.0h4.0v1.3h-4.0zM327.5 329.4h4.0v1.3h-4.0zM323.5 332.0h4.0v1.3h-4.0zM311.6 341.1h4.0v1.3h-4.0zM319.6 355.2h4.0v1.3h-4.0zM327.5 355.2h4.0v1.3h-4.0zM311.6 360.4h4.0v1.3h-4.0zM327.5 364.3h4.0v1.3h-4.0zM315.6 374.6h4.0v1.3h-4.0zM319.6 378.5h4.0v1.3h-4.0zM315.6 382.3h4.0v1.3h-4.0zM311.6 387.5h4.0v1.3h-4.0zM315.6 387.5h4.0v1.3h-4.0zM319.6 387.5h4.0v1.3h-4.0zM319.6 388.8h4.0v1.3h-4.0zM315.6 392.6h4.0v1.3h-4.0zM311.6 397.8h4.0v1.3h-4.0zM319.6 405.5h4.0v1.3h-4.0zM327.5 405.5h4.0v1.3h-4.0zM319.6 408.1h4.0v1.3h-4.0zM323.5 413.3h4.0v1.3h-4.0zM323.5 415.9h4.0v1.3h-4.0zM311.6 422.3h4.0v1.3h-4.0zM323.5 423.6h4.0v1.3h-4.0zM319.6 435.2h4.0v1.3h-4.0zM364.0 323.0h4.0v1.3h-4.0zM372.0 325.6h4.0v1.3h-4.0zM368.0 326.9h4.0v1.3h-4.0zM368.0 344.9h4.0v1.3h-4.0zM368.0 346.2h4.0v1.3h-4.0zM372.0 346.2h4.0v1.3h-4.0zM364.0 355.2h4.0v1.3h-4.0zM372.0 359.1h4.0v1.3h-4.0zM360.0 361.7h4.0v1.3h-4.0zM368.0 361.7h4.0v1.3h-4.0zM372.0 364.3h4.0v1.3h-4.0zM360.0 375.9h4.0v1.3h-4.0zM372.0 375.9h4.0v1.3h-4.0zM364.0 378.5h4.0v1.3h-4.0zM368.0 379.8h4.0v1.3h-4.0zM360.0 391.4h4.0v1.3h-4.0zM372.0 391.4h4.0v1.3h-4.0zM372.0 392.6h4.0v1.3h-4.0zM360.0 401.7h4.0v1.3h-4.0zM364.0 410.7h4.0v1.3h-4.0zM364.0 427.5h4.0v1.3h-4.0zM372.0 427.5h4.0v1.3h-4.0zM368.0 428.8h4.0v1.3h-4.0zM389.5 409.4h4.1v1.3h-4.1zM21.9 522.6h4.1v1.8h-4.1zM13.8 528.0h4.1v1.8h-4.1zM21.9 533.3h4.1v1.8h-4.1zM13.8 535.1h4.1v1.8h-4.1zM17.9 540.4h4.1v1.8h-4.1zM13.8 617.0h4.1v1.8h-4.1zM35.5 506.6h4.2v1.8h-4.2zM35.5 519.1h4.2v1.8h-4.2zM43.8 519.1h4.2v1.8h-4.2zM39.6 533.3h4.2v1.8h-4.2zM35.5 536.9h4.2v1.8h-4.2zM39.6 542.2h4.2v1.8h-4.2zM47.9 560.0h4.2v1.8h-4.2zM43.8 561.8h4.2v1.8h-4.2zM39.6 563.6h4.2v1.8h-4.2zM31.4 572.5h4.2v1.8h-4.2zM35.5 572.5h4.2v1.8h-4.2zM43.8 585.0h4.2v1.8h-4.2zM39.6 595.7h4.2v1.8h-4.2zM43.8 595.7h4.2v1.8h-4.2zM47.9 595.7h4.2v1.8h-4.2zM31.4 602.8h4.2v1.8h-4.2zM31.4 604.6h4.2v1.8h-4.2zM31.4 608.1h4.2v1.8h-4.2zM35.5 613.5h4.2v1.8h-4.2zM39.6 613.5h4.2v1.8h-4.2zM86.6 551.1h4.1v1.8h-4.1zM86.6 552.9h4.1v1.8h-4.1zM74.4 611.7h4.1v1.8h-4.1zM163.4 507.1h4.1v1.8h-4.1zM159.3 510.7h4.1v1.8h-4.1zM171.6 519.5h4.1v1.8h-4.1zM163.4 523.1h4.1v1.8h-4.1zM159.3 528.4h4.1v1.8h-4.1zM167.5 539.1h4.1v1.8h-4.1zM171.6 546.2h4.1v1.8h-4.1zM171.6 551.5h4.1v1.8h-4.1zM159.3 558.6h4.1v1.8h-4.1zM159.3 563.9h4.1v1.8h-4.1zM171.6 563.9h4.1v1.8h-4.1zM159.3 565.7h4.1v1.8h-4.1zM167.5 569.2h4.1v1.8h-4.1zM171.6 571.0h4.1v1.8h-4.1zM159.3 572.8h4.1v1.8h-4.1zM171.6 574.6h4.1v1.8h-4.1zM171.6 576.3h4.1v1.8h-4.1zM171.6 578.1h4.1v1.8h-4.1zM175.7 579.9h4.1v1.8h-4.1zM171.6 585.2h4.1v1.8h-4.1zM163.4 588.8h4.1v1.8h-4.1zM159.3 590.5h4.1v1.8h-4.1zM163.4 603.0h4.1v1.8h-4.1zM171.6 603.0h4.1v1.8h-4.1zM163.4 608.3h4.1v1.8h-4.1zM167.5 611.8h4.1v1.8h-4.1zM159.3 613.6h4.1v1.8h-4.1zM171.6 613.6h4.1v1.8h-4.1zM171.6 615.4h4.1v1.8h-4.1zM159.3 618.9h4.1v1.8h-4.1zM163.4 618.9h4.1v1.8h-4.1zM167.5 618.9h4.1v1.8h-4.1zM317.0 611.5h7.1v5.2h-7.1zM317.0 616.7h7.1v5.2h-7.1zM310.0 632.0h7.1v5.2h-7.1zM362.5 580.8h7.0v5.2h-7.0z"/>
<path fill="#db6f6a" d="M302.1 330.7h4.0v1.3h-4.0zM294.2 342.3h4.0v1.3h-4.0zM294.2 346.2h4.0v1.3h-4.0zM302.1 356.5h4.0v1.3h-4.0zM290.3 360.4h4.0v1.3h-4.0zM306.1 360.4h4.0v1.3h-4.0zM290.3 363.0h4.0v1.3h-4.0zM302.1 368.1h4.0v1.3h-4.0zM306.1 368.1h4.0v1.3h-4.0zM290.3 383.6h4.0v1.3h-4.0zM302.1 387.5h4.0v1.3h-4.0zM294.2 390.1h4.0v1.3h-4.0zM302.1 396.5h4.0v1.3h-4.0zM290.3 400.4h4.0v1.3h-4.0zM294.2 400.4h4.0v1.3h-4.0zM306.1 400.4h4.0v1.3h-4.0zM290.3 410.7h4.0v1.3h-4.0zM306.1 414.6h4.0v1.3h-4.0zM302.1 421.0h4.0v1.3h-4.0zM294.2 422.3h4.0v1.3h-4.0zM298.2 424.9h4.0v1.3h-4.0zM294.2 426.2h4.0v1.3h-4.0zM306.1 426.2h4.0v1.3h-4.0zM298.2 427.5h4.0v1.3h-4.0zM306.1 427.5h4.0v1.3h-4.0zM298.2 430.1h4.0v1.3h-4.0zM290.3 431.3h4.0v1.3h-4.0zM298.2 431.3h4.0v1.3h-4.0zM298.2 433.9h4.0v1.3h-4.0zM319.6 323.0h4.0v1.3h-4.0zM315.6 326.9h4.0v1.3h-4.0zM323.5 326.9h4.0v1.3h-4.0zM323.5 328.2h4.0v1.3h-4.0zM319.6 332.0h4.0v1.3h-4.0zM327.5 338.5h4.0v1.3h-4.0zM315.6 356.5h4.0v1.3h-4.0zM327.5 356.5h4.0v1.3h-4.0zM311.6 364.3h4.0v1.3h-4.0zM315.6 364.3h4.0v1.3h-4.0zM319.6 364.3h4.0v1.3h-4.0zM311.6 372.0h4.0v1.3h-4.0zM327.5 373.3h4.0v1.3h-4.0zM315.6 377.2h4.0v1.3h-4.0zM323.5 378.5h4.0v1.3h-4.0zM323.5 387.5h4.0v1.3h-4.0zM323.5 390.1h4.0v1.3h-4.0zM319.6 397.8h4.0v1.3h-4.0zM327.5 397.8h4.0v1.3h-4.0zM315.6 403.0h4.0v1.3h-4.0zM323.5 403.0h4.0v1.3h-4.0zM315.6 404.3h4.0v1.3h-4.0zM323.5 412.0h4.0v1.3h-4.0zM311.6 413.3h4.0v1.3h-4.0zM311.6 414.6h4.0v1.3h-4.0zM319.6 414.6h4.0v1.3h-4.0zM315.6 419.7h4.0v1.3h-4.0zM319.6 419.7h4.0v1.3h-4.0zM323.5 419.7h4.0v1.3h-4.0zM327.5 419.7h4.0v1.3h-4.0zM327.5 422.3h4.0v1.3h-4.0zM315.6 424.9h4.0v1.3h-4.0zM327.5 426.2h4.0v1.3h-4.0zM311.6 427.5h4.0v1.3h-4.0zM360.0 332.0h4.0v1.3h-4.0zM360.0 334.6h4.0v1.3h-4.0zM360.0 335.9h4.0v1.3h-4.0zM368.0 338.5h4.0v1.3h-4.0zM372.0 341.1h4.0v1.3h-4.0zM364.0 363.0h4.0v1.3h-4.0zM372.0 366.9h4.0v1.3h-4.0zM360.0 368.1h4.0v1.3h-4.0zM368.0 401.7h4.0v1.3h-4.0zM17.9 524.4h4.1v1.8h-4.1zM25.9 524.4h4.1v1.8h-4.1zM13.8 533.3h4.1v1.8h-4.1zM17.9 533.3h4.1v1.8h-4.1zM25.9 533.3h4.1v1.8h-4.1zM25.9 535.1h4.1v1.8h-4.1zM13.8 540.4h4.1v1.8h-4.1zM17.9 558.3h4.1v1.8h-4.1zM21.9 561.8h4.1v1.8h-4.1zM21.9 567.2h4.1v1.8h-4.1zM17.9 579.6h4.1v1.8h-4.1zM21.9 581.4h4.1v1.8h-4.1zM13.8 586.8h4.1v1.8h-4.1zM25.9 593.9h4.1v1.8h-4.1zM25.9 608.1h4.1v1.8h-4.1zM17.9 615.3h4.1v1.8h-4.1zM35.5 508.4h4.2v1.8h-4.2zM47.9 508.4h4.2v1.8h-4.2zM31.4 517.3h4.2v1.8h-4.2zM39.6 519.1h4.2v1.8h-4.2zM35.5 522.6h4.2v1.8h-4.2zM39.6 526.2h4.2v1.8h-4.2zM43.8 526.2h4.2v1.8h-4.2zM35.5 528.0h4.2v1.8h-4.2zM47.9 536.9h4.2v1.8h-4.2zM35.5 545.8h4.2v1.8h-4.2zM43.8 551.1h4.2v1.8h-4.2zM35.5 552.9h4.2v1.8h-4.2zM35.5 558.3h4.2v1.8h-4.2zM47.9 561.8h4.2v1.8h-4.2zM43.8 563.6h4.2v1.8h-4.2zM43.8 568.9h4.2v1.8h-4.2zM35.5 576.1h4.2v1.8h-4.2zM31.4 579.6h4.2v1.8h-4.2zM47.9 579.6h4.2v1.8h-4.2zM43.8 581.4h4.2v1.8h-4.2zM35.5 592.1h4.2v1.8h-4.2zM43.8 592.1h4.2v1.8h-4.2zM31.4 599.2h4.2v1.8h-4.2zM78.5 561.8h4.1v1.8h-4.1zM120.5 565.7h4.0v1.8h-4.0zM171.6 508.9h4.1v1.8h-4.1zM167.5 519.5h4.1v1.8h-4.1zM175.7 521.3h4.1v1.8h-4.1zM163.4 524.9h4.1v1.8h-4.1zM175.7 528.4h4.1v1.8h-4.1zM167.5 530.2h4.1v1.8h-4.1zM171.6 535.5h4.1v1.8h-4.1zM163.4 537.3h4.1v1.8h-4.1zM167.5 537.3h4.1v1.8h-4.1zM163.4 542.6h4.1v1.8h-4.1zM171.6 542.6h4.1v1.8h-4.1zM175.7 549.7h4.1v1.8h-4.1zM175.7 560.4h4.1v1.8h-4.1zM175.7 563.9h4.1v1.8h-4.1zM163.4 565.7h4.1v1.8h-4.1zM167.5 565.7h4.1v1.8h-4.1zM163.4 572.8h4.1v1.8h-4.1zM163.4 579.9h4.1v1.8h-4.1zM175.7 585.2h4.1v1.8h-4.1zM171.6 592.3h4.1v1.8h-4.1zM175.7 595.9h4.1v1.8h-4.1zM167.5 599.4h4.1v1.8h-4.1zM167.5 601.2h4.1v1.8h-4.1zM171.6 601.2h4.1v1.8h-4.1zM159.3 603.0h4.1v1.8h-4.1zM167.5 603.0h4.1v1.8h-4.1zM159.3 604.7h4.1v1.8h-4.1zM167.5 606.5h4.1v1.8h-4.1zM167.5 613.6h4.1v1.8h-4.1zM159.3 617.2h4.1v1.8h-4.1z"/>
<path fill="#cf3930" d="M294.2 337.2h4.0v1.3h-4.0zM306.1 410.7h4.0v1.3h-4.0zM290.3 424.9h4.0v1.3h-4.0zM311.6 333.3h4.0v1.3h-4.0zM315.6 338.5h4.0v1.3h-4.0zM311.6 344.9h4.0v1.3h-4.0zM315.6 344.9h4.0v1.3h-4.0zM315.6 347.5h4.0v1.3h-4.0zM315.6 350.1h4.0v1.3h-4.0zM327.5 350.1h4.0v1.3h-4.0zM323.5 351.4h4.0v1.3h-4.0zM311.6 352.7h4.0v1.3h-4.0zM319.6 354.0h4.0v1.3h-4.0zM323.5 359.1h4.0v1.3h-4.0zM327.5 359.1h4.0v1.3h-4.0zM323.5 361.7h4.0v1.3h-4.0zM323.5 365.6h4.0v1.3h-4.0zM319.6 368.1h4.0v1.3h-4.0zM319.6 375.9h4.0v1.3h-4.0zM323.5 375.9h4.0v1.3h-4.0zM319.6 377.2h4.0v1.3h-4.0zM315.6 381.0h4.0v1.3h-4.0zM323.5 383.6h4.0v1.3h-4.0zM327.5 387.5h4.0v1.3h-4.0zM315.6 390.1h4.0v1.3h-4.0zM323.5 391.4h4.0v1.3h-4.0zM315.6 428.8h4.0v1.3h-4.0zM319.6 432.6h4.0v1.3h-4.0zM323.5 433.9h4.0v1.3h-4.0zM360.0 330.7h4.0v1.3h-4.0zM360.0 354.0h4.0v1.3h-4.0zM368.0 364.3h4.0v1.3h-4.0zM13.8 519.1h4.1v1.8h-4.1zM21.9 536.9h4.1v1.8h-4.1zM17.9 613.5h4.1v1.8h-4.1zM31.4 510.2h4.2v1.8h-4.2zM47.9 510.2h4.2v1.8h-4.2zM47.9 513.7h4.2v1.8h-4.2zM31.4 515.5h4.2v1.8h-4.2zM39.6 515.5h4.2v1.8h-4.2zM39.6 517.3h4.2v1.8h-4.2zM43.8 524.4h4.2v1.8h-4.2zM43.8 528.0h4.2v1.8h-4.2zM39.6 604.6h4.2v1.8h-4.2zM163.4 517.8h4.1v1.8h-4.1zM159.3 523.1h4.1v1.8h-4.1zM159.3 526.6h4.1v1.8h-4.1zM159.3 562.1h4.1v1.8h-4.1zM171.6 562.1h4.1v1.8h-4.1zM175.7 571.0h4.1v1.8h-4.1zM167.5 572.8h4.1v1.8h-4.1zM171.6 572.8h4.1v1.8h-4.1zM175.7 590.5h4.1v1.8h-4.1zM163.4 615.4h4.1v1.8h-4.1zM266.0 560.2h7.1v5.2h-7.1zM317.0 591.0h7.1v5.2h-7.1zM302.9 652.6h7.1v5.2h-7.1z"/>
<path fill="#d45049" d="M306.1 337.2h4.0v1.3h-4.0zM298.2 363.0h4.0v1.3h-4.0zM306.1 363.0h4.0v1.3h-4.0zM302.1 384.9h4.0v1.3h-4.0zM306.1 384.9h4.0v1.3h-4.0zM306.1 399.1h4.0v1.3h-4.0zM302.1 404.3h4.0v1.3h-4.0zM306.1 409.4h4.0v1.3h-4.0zM294.2 410.7h4.0v1.3h-4.0zM290.3 414.6h4.0v1.3h-4.0zM294.2 417.2h4.0v1.3h-4.0zM306.1 424.9h4.0v1.3h-4.0zM306.1 430.1h4.0v1.3h-4.0zM306.1 431.3h4.0v1.3h-4.0zM319.6 324.3h4.0v1.3h-4.0zM319.6 326.9h4.0v1.3h-4.0zM323.5 333.3h4.0v1.3h-4.0zM311.6 334.6h4.0v1.3h-4.0zM323.5 337.2h4.0v1.3h-4.0zM319.6 347.5h4.0v1.3h-4.0zM319.6 348.8h4.0v1.3h-4.0zM323.5 348.8h4.0v1.3h-4.0zM311.6 355.2h4.0v1.3h-4.0zM315.6 360.4h4.0v1.3h-4.0zM319.6 360.4h4.0v1.3h-4.0zM323.5 360.4h4.0v1.3h-4.0zM311.6 361.7h4.0v1.3h-4.0zM311.6 363.0h4.0v1.3h-4.0zM315.6 363.0h4.0v1.3h-4.0zM319.6 363.0h4.0v1.3h-4.0zM327.5 365.6h4.0v1.3h-4.0zM327.5 368.1h4.0v1.3h-4.0zM327.5 375.9h4.0v1.3h-4.0zM315.6 379.8h4.0v1.3h-4.0zM319.6 381.0h4.0v1.3h-4.0zM327.5 381.0h4.0v1.3h-4.0zM323.5 382.3h4.0v1.3h-4.0zM311.6 383.6h4.0v1.3h-4.0zM323.5 384.9h4.0v1.3h-4.0zM311.6 391.4h4.0v1.3h-4.0zM319.6 399.1h4.0v1.3h-4.0zM319.6 401.7h4.0v1.3h-4.0zM323.5 404.3h4.0v1.3h-4.0zM315.6 406.8h4.0v1.3h-4.0zM327.5 406.8h4.0v1.3h-4.0zM311.6 409.4h4.0v1.3h-4.0zM327.5 409.4h4.0v1.3h-4.0zM315.6 410.7h4.0v1.3h-4.0zM315.6 415.9h4.0v1.3h-4.0zM311.6 428.8h4.0v1.3h-4.0zM319.6 428.8h4.0v1.3h-4.0zM311.6 430.1h4.0v1.3h-4.0zM315.6 433.9h4.0v1.3h-4.0zM360.0 329.4h4.0v1.3h-4.0zM364.0 334.6h4.0v1.3h-4.0zM368.0 337.2h4.0v1.3h-4.0zM364.0 338.5h4.0v1.3h-4.0zM360.0 339.8h4.0v1.3h-4.0zM372.0 343.6h4.0v1.3h-4.0zM360.0 351.4h4.0v1.3h-4.0zM364.0 351.4h4.0v1.3h-4.0zM368.0 357.8h4.0v1.3h-4.0zM360.0 360.4h4.0v1.3h-4.0zM364.0 369.4h4.0v1.3h-4.0zM372.0 410.7h4.0v1.3h-4.0zM13.8 549.4h4.1v1.8h-4.1zM13.8 572.5h4.1v1.8h-4.1zM25.9 590.3h4.1v1.8h-4.1zM13.8 613.5h4.1v1.8h-4.1zM35.5 511.9h4.2v1.8h-4.2zM47.9 517.3h4.2v1.8h-4.2zM35.5 520.9h4.2v1.8h-4.2zM43.8 520.9h4.2v1.8h-4.2zM31.4 528.0h4.2v1.8h-4.2zM31.4 529.8h4.2v1.8h-4.2zM43.8 579.6h4.2v1.8h-4.2zM35.5 611.7h4.2v1.8h-4.2zM31.4 613.5h4.2v1.8h-4.2zM163.4 508.9h4.1v1.8h-4.1zM167.5 517.8h4.1v1.8h-4.1zM163.4 526.6h4.1v1.8h-4.1zM171.6 533.7h4.1v1.8h-4.1zM159.3 551.5h4.1v1.8h-4.1zM159.3 553.2h4.1v1.8h-4.1zM167.5 558.6h4.1v1.8h-4.1zM171.6 558.6h4.1v1.8h-4.1zM159.3 560.4h4.1v1.8h-4.1zM171.6 560.4h4.1v1.8h-4.1zM167.5 563.9h4.1v1.8h-4.1zM159.3 567.5h4.1v1.8h-4.1zM159.3 588.8h4.1v1.8h-4.1zM171.6 590.5h4.1v1.8h-4.1zM159.3 594.1h4.1v1.8h-4.1zM171.6 599.4h4.1v1.8h-4.1zM175.7 603.0h4.1v1.8h-4.1z"/>
<path fill="#d96861" d="M294.2 339.8h4.0v1.3h-4.0zM306.1 342.3h4.0v1.3h-4.0zM306.1 350.1h4.0v1.3h-4.0zM298.2 368.1h4.0v1.3h-4.0zM294.2 375.9h4.0v1.3h-4.0zM302.1 383.6h4.0v1.3h-4.0zM294.2 384.9h4.0v1.3h-4.0zM298.2 384.9h4.0v1.3h-4.0zM294.2 387.5h4.0v1.3h-4.0zM306.1 390.1h4.0v1.3h-4.0zM290.3 396.5h4.0v1.3h-4.0zM294.2 396.5h4.0v1.3h-4.0zM298.2 404.3h4.0v1.3h-4.0zM294.2 409.4h4.0v1.3h-4.0zM306.1 412.0h4.0v1.3h-4.0zM302.1 433.9h4.0v1.3h-4.0zM311.6 323.0h4.0v1.3h-4.0zM327.5 323.0h4.0v1.3h-4.0zM311.6 328.2h4.0v1.3h-4.0zM327.5 328.2h4.0v1.3h-4.0zM311.6 335.9h4.0v1.3h-4.0zM319.6 335.9h4.0v1.3h-4.0zM319.6 337.2h4.0v1.3h-4.0zM327.5 339.8h4.0v1.3h-4.0zM311.6 342.3h4.0v1.3h-4.0zM323.5 342.3h4.0v1.3h-4.0zM327.5 342.3h4.0v1.3h-4.0zM311.6 346.2h4.0v1.3h-4.0zM323.5 356.5h4.0v1.3h-4.0zM319.6 361.7h4.0v1.3h-4.0zM315.6 372.0h4.0v1.3h-4.0zM311.6 373.3h4.0v1.3h-4.0zM323.5 373.3h4.0v1.3h-4.0zM323.5 374.6h4.0v1.3h-4.0zM327.5 383.6h4.0v1.3h-4.0zM323.5 392.6h4.0v1.3h-4.0zM327.5 392.6h4.0v1.3h-4.0zM311.6 404.3h4.0v1.3h-4.0zM327.5 404.3h4.0v1.3h-4.0zM323.5 406.8h4.0v1.3h-4.0zM323.5 414.6h4.0v1.3h-4.0zM311.6 415.9h4.0v1.3h-4.0zM327.5 415.9h4.0v1.3h-4.0zM315.6 418.4h4.0v1.3h-4.0zM319.6 423.6h4.0v1.3h-4.0zM323.5 428.8h4.0v1.3h-4.0zM323.5 432.6h4.0v1.3h-4.0zM360.0 325.6h4.0v1.3h-4.0zM360.0 326.9h4.0v1.3h-4.0zM364.0 328.2h4.0v1.3h-4.0zM372.0 329.4h4.0v1.3h-4.0zM360.0 333.3h4.0v1.3h-4.0zM364.0 333.3h4.0v1.3h-4.0zM372.0 334.6h4.0v1.3h-4.0zM364.0 342.3h4.0v1.3h-4.0zM368.0 347.5h4.0v1.3h-4.0zM372.0 347.5h4.0v1.3h-4.0zM368.0 350.1h4.0v1.3h-4.0zM368.0 360.4h4.0v1.3h-4.0zM360.0 374.6h4.0v1.3h-4.0zM360.0 384.9h4.0v1.3h-4.0zM364.0 384.9h4.0v1.3h-4.0zM372.0 409.4h4.0v1.3h-4.0zM372.0 414.6h4.0v1.3h-4.0zM364.0 422.3h4.0v1.3h-4.0zM372.0 428.8h4.0v1.3h-4.0zM13.8 536.9h4.1v1.8h-4.1zM25.9 540.4h4.1v1.8h-4.1zM25.9 549.4h4.1v1.8h-4.1zM25.9 560.0h4.1v1.8h-4.1zM21.9 583.2h4.1v1.8h-4.1zM17.9 606.4h4.1v1.8h-4.1zM47.9 520.9h4.2v1.8h-4.2zM35.5 526.2h4.2v1.8h-4.2zM31.4 533.3h4.2v1.8h-4.2zM43.8 533.3h4.2v1.8h-4.2zM39.6 535.1h4.2v1.8h-4.2zM43.8 535.1h4.2v1.8h-4.2zM31.4 536.9h4.2v1.8h-4.2zM39.6 538.7h4.2v1.8h-4.2zM31.4 540.4h4.2v1.8h-4.2zM39.6 544.0h4.2v1.8h-4.2zM35.5 549.4h4.2v1.8h-4.2zM43.8 549.4h4.2v1.8h-4.2zM43.8 558.3h4.2v1.8h-4.2zM47.9 563.6h4.2v1.8h-4.2zM43.8 572.5h4.2v1.8h-4.2zM47.9 583.2h4.2v1.8h-4.2zM35.5 585.0h4.2v1.8h-4.2zM47.9 585.0h4.2v1.8h-4.2zM31.4 586.8h4.2v1.8h-4.2zM35.5 586.8h4.2v1.8h-4.2zM47.9 586.8h4.2v1.8h-4.2zM39.6 599.2h4.2v1.8h-4.2zM43.8 606.4h4.2v1.8h-4.2zM167.5 508.9h4.1v1.8h-4.1zM167.5 514.2h4.1v1.8h-4.1zM171.6 514.2h4.1v1.8h-4.1zM175.7 514.2h4.1v1.8h-4.1zM167.5 523.1h4.1v1.8h-4.1zM171.6 524.9h4.1v1.8h-4.1zM171.6 528.4h4.1v1.8h-4.1zM171.6 530.2h4.1v1.8h-4.1zM159.3 532.0h4.1v1.8h-4.1zM167.5 532.0h4.1v1.8h-4.1zM171.6 532.0h4.1v1.8h-4.1zM175.7 532.0h4.1v1.8h-4.1zM167.5 540.8h4.1v1.8h-4.1zM167.5 542.6h4.1v1.8h-4.1zM167.5 553.2h4.1v1.8h-4.1zM175.7 555.0h4.1v1.8h-4.1zM171.6 556.8h4.1v1.8h-4.1zM171.6 567.5h4.1v1.8h-4.1zM175.7 578.1h4.1v1.8h-4.1zM159.3 579.9h4.1v1.8h-4.1zM171.6 583.4h4.1v1.8h-4.1zM163.4 585.2h4.1v1.8h-4.1zM167.5 590.5h4.1v1.8h-4.1zM163.4 594.1h4.1v1.8h-4.1zM163.4 595.9h4.1v1.8h-4.1zM171.6 606.5h4.1v1.8h-4.1zM280.1 503.8h7.1v5.2h-7.1zM266.0 534.6h7.1v5.2h-7.1zM266.0 539.7h7.1v5.2h-7.1zM280.1 550.0h7.1v5.2h-7.1zM288.9 565.4h7.1v5.2h-7.1zM310.0 647.4h7.1v5.2h-7.1zM325.9 534.6h7.0v5.2h-7.0zM332.9 621.8h7.0v5.2h-7.0z"/>
<path fill="#d34840" d="M294.2 366.9h4.0v1.3h-4.0zM290.3 390.1h4.0v1.3h-4.0zM302.1 390.1h4.0v1.3h-4.0zM290.3 399.1h4.0v1.3h-4.0zM294.2 399.1h4.0v1.3h-4.0zM315.6 324.3h4.0v1.3h-4.0zM327.5 324.3h4.0v1.3h-4.0zM327.5 330.7h4.0v1.3h-4.0zM315.6 333.3h4.0v1.3h-4.0zM319.6 334.6h4.0v1.3h-4.0zM311.6 337.2h4.0v1.3h-4.0zM315.6 337.2h4.0v1.3h-4.0zM319.6 338.5h4.0v1.3h-4.0zM319.6 342.3h4.0v1.3h-4.0zM323.5 343.6h4.0v1.3h-4.0zM315.6 346.2h4.0v1.3h-4.0zM315.6 351.4h4.0v1.3h-4.0zM319.6 351.4h4.0v1.3h-4.0zM319.6 352.7h4.0v1.3h-4.0zM311.6 365.6h4.0v1.3h-4.0zM315.6 368.1h4.0v1.3h-4.0zM315.6 370.7h4.0v1.3h-4.0zM311.6 374.6h4.0v1.3h-4.0zM327.5 379.8h4.0v1.3h-4.0zM327.5 384.9h4.0v1.3h-4.0zM311.6 390.1h4.0v1.3h-4.0zM315.6 391.4h4.0v1.3h-4.0zM311.6 400.4h4.0v1.3h-4.0zM323.5 401.7h4.0v1.3h-4.0zM319.6 404.3h4.0v1.3h-4.0zM311.6 410.7h4.0v1.3h-4.0zM311.6 433.9h4.0v1.3h-4.0zM372.0 326.9h4.0v1.3h-4.0zM364.0 330.7h4.0v1.3h-4.0zM364.0 332.0h4.0v1.3h-4.0zM368.0 334.6h4.0v1.3h-4.0zM372.0 342.3h4.0v1.3h-4.0zM368.0 348.8h4.0v1.3h-4.0zM364.0 357.8h4.0v1.3h-4.0zM360.0 369.4h4.0v1.3h-4.0zM25.9 536.9h4.1v1.8h-4.1zM13.8 547.6h4.1v1.8h-4.1zM47.9 511.9h4.2v1.8h-4.2zM35.5 517.3h4.2v1.8h-4.2zM31.4 520.9h4.2v1.8h-4.2zM31.4 522.6h4.2v1.8h-4.2zM43.8 522.6h4.2v1.8h-4.2zM47.9 528.0h4.2v1.8h-4.2zM39.6 531.5h4.2v1.8h-4.2zM31.4 544.0h4.2v1.8h-4.2zM39.6 581.4h4.2v1.8h-4.2zM167.5 512.4h4.1v1.8h-4.1zM171.6 512.4h4.1v1.8h-4.1zM167.5 528.4h4.1v1.8h-4.1zM159.3 539.1h4.1v1.8h-4.1zM175.7 539.1h4.1v1.8h-4.1zM163.4 546.2h4.1v1.8h-4.1zM175.7 551.5h4.1v1.8h-4.1zM167.5 555.0h4.1v1.8h-4.1zM163.4 556.8h4.1v1.8h-4.1zM159.3 571.0h4.1v1.8h-4.1zM167.5 571.0h4.1v1.8h-4.1zM171.6 579.9h4.1v1.8h-4.1zM175.7 588.8h4.1v1.8h-4.1zM175.7 592.3h4.1v1.8h-4.1zM280.1 544.8h7.1v5.2h-7.1zM317.0 580.8h7.1v5.2h-7.1z"/>
<path fill="#ce3228" d="M315.6 330.7h4.0v1.3h-4.0zM319.6 344.9h4.0v1.3h-4.0zM323.5 344.9h4.0v1.3h-4.0zM327.5 344.9h4.0v1.3h-4.0zM323.5 352.7h4.0v1.3h-4.0zM311.6 359.1h4.0v1.3h-4.0zM315.6 365.6h4.0v1.3h-4.0zM323.5 366.9h4.0v1.3h-4.0zM327.5 370.7h4.0v1.3h-4.0zM315.6 384.9h4.0v1.3h-4.0zM327.5 391.4h4.0v1.3h-4.0zM327.5 396.5h4.0v1.3h-4.0zM323.5 409.4h4.0v1.3h-4.0zM311.6 432.6h4.0v1.3h-4.0zM364.0 341.1h4.0v1.3h-4.0zM364.0 343.6h4.0v1.3h-4.0zM21.9 535.1h4.1v1.8h-4.1zM21.9 549.4h4.1v1.8h-4.1zM31.4 508.4h4.2v1.8h-4.2zM35.5 510.2h4.2v1.8h-4.2zM39.6 513.7h4.2v1.8h-4.2zM39.6 520.9h4.2v1.8h-4.2zM31.4 524.4h4.2v1.8h-4.2zM39.6 524.4h4.2v1.8h-4.2zM39.6 528.0h4.2v1.8h-4.2zM39.6 583.2h4.2v1.8h-4.2zM163.4 512.4h4.1v1.8h-4.1zM167.5 592.3h4.1v1.8h-4.1z"/>
<path fill="#cc2a20" d="M319.6 333.3h4.0v1.3h-4.0zM323.5 338.5h4.0v1.3h-4.0zM327.5 346.2h4.0v1.3h-4.0zM311.6 347.5h4.0v1.3h-4.0zM323.5 347.5h4.0v1.3h-4.0zM327.5 348.8h4.0v1.3h-4.0zM311.6 351.4h4.0v1.3h-4.0zM315.6 352.7h4.0v1.3h-4.0zM311.6 357.8h4.0v1.3h-4.0zM315.6 357.8h4.0v1.3h-4.0zM319.6 357.8h4.0v1.3h-4.0zM323.5 357.8h4.0v1.3h-4.0zM327.5 357.8h4.0v1.3h-4.0zM315.6 359.1h4.0v1.3h-4.0zM319.6 359.1h4.0v1.3h-4.0zM323.5 363.0h4.0v1.3h-4.0zM319.6 365.6h4.0v1.3h-4.0zM311.6 366.9h4.0v1.3h-4.0zM315.6 366.9h4.0v1.3h-4.0zM319.6 366.9h4.0v1.3h-4.0zM327.5 366.9h4.0v1.3h-4.0zM311.6 369.4h4.0v1.3h-4.0zM315.6 369.4h4.0v1.3h-4.0zM327.5 369.4h4.0v1.3h-4.0zM311.6 375.9h4.0v1.3h-4.0zM311.6 393.9h4.0v1.3h-4.0zM315.6 393.9h4.0v1.3h-4.0zM319.6 393.9h4.0v1.3h-4.0zM323.5 393.9h4.0v1.3h-4.0zM327.5 393.9h4.0v1.3h-4.0zM319.6 395.2h4.0v1.3h-4.0zM323.5 395.2h4.0v1.3h-4.0zM319.6 396.5h4.0v1.3h-4.0zM323.5 399.1h4.0v1.3h-4.0zM319.6 409.4h4.0v1.3h-4.0zM368.0 330.7h4.0v1.3h-4.0zM372.0 339.8h4.0v1.3h-4.0zM372.0 354.0h4.0v1.3h-4.0zM360.0 357.8h4.0v1.3h-4.0zM39.6 510.2h4.2v1.8h-4.2zM43.8 510.2h4.2v1.8h-4.2zM31.4 511.9h4.2v1.8h-4.2zM39.6 511.9h4.2v1.8h-4.2zM31.4 513.7h4.2v1.8h-4.2zM43.8 513.7h4.2v1.8h-4.2zM47.9 524.4h4.2v1.8h-4.2zM31.4 531.5h4.2v1.8h-4.2zM35.5 535.1h4.2v1.8h-4.2zM47.9 599.2h4.2v1.8h-4.2zM159.3 512.4h4.1v1.8h-4.1zM159.3 516.0h4.1v1.8h-4.1zM167.5 516.0h4.1v1.8h-4.1zM171.6 516.0h4.1v1.8h-4.1zM175.7 516.0h4.1v1.8h-4.1zM171.6 517.8h4.1v1.8h-4.1zM167.5 524.9h4.1v1.8h-4.1zM167.5 526.6h4.1v1.8h-4.1zM175.7 526.6h4.1v1.8h-4.1zM163.4 528.4h4.1v1.8h-4.1zM163.4 551.5h4.1v1.8h-4.1zM171.6 555.0h4.1v1.8h-4.1zM167.5 562.1h4.1v1.8h-4.1zM167.5 567.5h4.1v1.8h-4.1zM175.7 572.8h4.1v1.8h-4.1zM175.7 615.4h4.1v1.8h-4.1z"/>
</svg></body></html>
